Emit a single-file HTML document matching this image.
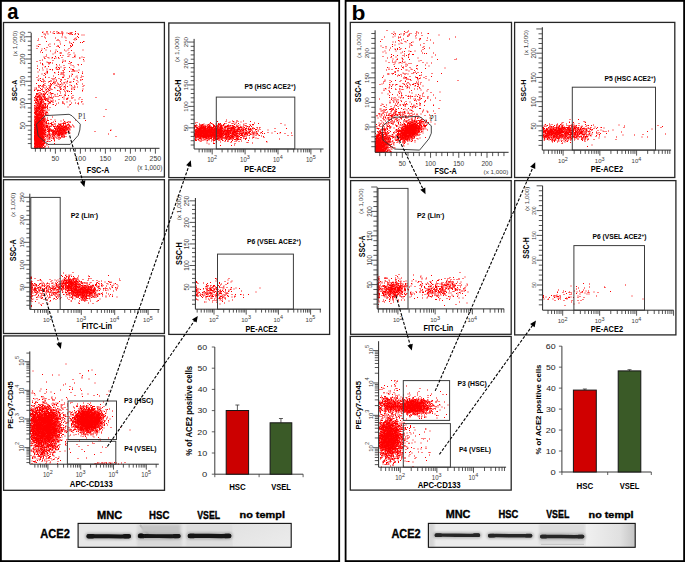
<!DOCTYPE html>
<html><head><meta charset="utf-8"><style>
html,body{margin:0;padding:0;background:#fff;}
svg{display:block;font-family:"Liberation Sans",sans-serif;}
</style></head><body>
<svg width="685" height="562" viewBox="0 0 685 562">
<rect width="685" height="562" fill="#fff"/>
<rect x="0.9" y="0.9" width="338.3" height="560.2" fill="none" stroke="#000" stroke-width="1.8" />
<rect x="345.6" y="0.9" width="338.5" height="560.2" fill="none" stroke="#000" stroke-width="1.8" />
<text x="7.29" y="18.7" font-size="21.3" font-weight="bold" fill="#000" textLength="11.23" lengthAdjust="spacingAndGlyphs">a</text>
<text x="351.43" y="19.7" font-size="20.28" font-weight="bold" fill="#000" textLength="13.93" lengthAdjust="spacingAndGlyphs">b</text>
<rect x="3.5" y="22.5" width="160.9" height="154.5" fill="none" stroke="#262626" stroke-width="1.3" />
<path transform="translate(0 0.5)" stroke="#f00" fill="none" d="M75 31h1m-34 1h1m15 0h1m-5 1h1m13 0h1m6 0h1m-4 1h1m5 0h1m-2 2h1m0 1h1m-3 2h1m-31 2h1m36 0h1m-11 1h1m6 0h1m1 0h1m-12 1h1m0 1h1m-9 1h1m5 0h1m1 0h1m-35 1h1m19 0h1m12 0h1m-13 1h1m-16 1h1m-4 2h1m29 0h1m-15 1h1m-16 1h1m17 3h1m-6 1h1m18 0h1m-23 1h1m5 0h1m-5 1h1m28 1h1m-15 2h1m-20 1h1m11 0h1m8 0h1m-30 1h1m-1 1h1m13 0h1m24 0h1m-37 2h1m2 0h1m7 1h1m1 0h1m10 0h1m-33 1h1m21 0h1m-10 1h1m1 0h1m11 0h1m7 0h1m0 0h1m-27 2h1m21 0h1m-23 1h1m6 0h1m3 0h1m19 0h1m-35 1h1m37 0h1m-38 1h1m12 0h1m13 0h1m-28 3h1m9 0h1m6 0h1m0 0h1m-24 1h1m41 1h1m-45 1h1m1 0h1m0 1h1m7 0h1m10 0h1m6 0h1m5 0h1m-21 1h1m-18 1h1m13 0h1m1 0h1m23 0h1m-34 1h1m7 0h1m8 0h1m-23 1h1m1 0h1m30 0h1m-22 1h1m13 0h1m2 0h1m-14 1h1m-15 1h1m6 0h1m-7 1h1m4 0h1m1 0h1m11 0h1m2 0h1m10 0h1m-41 1h1m2 0h1m0 0h1m1 0h1m8 0h1m7 0h1m24 0h1m-40 1h1m23 0h1m1 0h1m1 0h1m-26 1h1m3 0h1m-15 1h1m8 0h1m5 0h1m0 0h1m18 0h1m-36 1h1m6 0h1m0 0h1m2 0h1m-9 1h1m4 0h1m14 0h1m5 0h1m2 0h1m-34 1h1m1 0h1m0 0h1m4 0h1m-10 1h1m2 0h1m3 0h1m8 0h1m11 0h1m-27 1h1m4 0h1m4 0h1m20 0h1m-32 1h1m0 0h1m1 0h1m0 0h1m1 0h1m2 0h1m-12 1h1m1 0h1m0 0h1m3 0h1m3 0h1m-9 1h1m2 0h1m0 0h1m6 0h1m2 0h1m-17 1h1m0 0h1m3 0h1m0 0h1m7 0h1m0 0h1m-13 1h1m1 0h1m0 0h1m2 0h1m0 0h1m-6 1h1m12 0h1m16 0h1m-37 1h1m2 0h1m1 0h1m3 0h1m1 0h1m1 0h1m7 0h1m-17 1h1m0 0h1m6 0h1m-12 1h1m0 0h1m0 0h1m0 0h1m1 0h1m0 0h1m0 0h1m0 0h1m0 0h1m-11 1h1m2 0h1m0 0h1m2 0h1m4 0h1m-12 1h1m2 0h1m1 0h1m-5 1h1m2 0h1m-6 1h1m0 0h1m0 0h1m1 0h1m2 0h1m-9 1h1m0 0h1m0 0h1m3 0h1m2 0h1m2 0h1m0 0h1m-9 1h1m1 0h1m-7 1h1m0 0h1m0 0h1m0 0h1m0 0h1m0 0h1m0 0h1m1 0h1m1 0h1m-10 1h1m0 0h1m0 0h1m3 0h1m0 0h1m-9 1h1m1 0h1m3 0h1m0 0h1m-7 1h1m0 0h1m1 0h1m0 0h1m0 0h1m-6 1h1m0 0h1m0 0h1m0 0h1m1 0h1m0 0h1m0 0h1m-9 1h1m1 0h1m0 0h1m0 0h1m-4 1h1m0 0h1m0 0h1m0 0h1m2 0h1m0 0h1m3 0h1m0 0h1m36 0h1m-51 1h1m0 0h1m0 0h1m0 0h1m0 0h1m0 0h1m0 0h1m2 0h1m1 0h1m8 0h1m8 0h1m-30 1h1m0 0h1m0 0h1m1 0h1m0 0h1m0 0h1m0 0h1m3 0h1m20 0h1m-33 1h1m0 0h1m0 0h1m0 0h1m0 0h1m0 0h1m0 0h1m0 0h1m3 0h1m1 0h1m1 0h1m0 0h1m11 0h1m0 0h1m0 0h1m-32 1h1m1 0h1m0 0h1m1 0h1m0 0h1m0 0h1m0 0h1m8 0h1m0 0h1m6 0h1m0 0h1m2 0h1m4 0h1m-35 1h1m0 0h1m0 0h1m0 0h1m0 0h1m0 0h1m1 0h1m1 0h1m2 0h1m0 0h1m9 0h1m2 0h1m2 0h1m5 0h1m-34 1h1m0 0h1m0 0h1m0 0h1m0 0h1m0 0h1m4 0h1m0 0h1m5 0h1m0 0h1m2 0h1m1 0h1m1 0h1m0 0h1m1 0h1m0 0h1m0 0h1m-33 1h1m1 0h1m0 0h1m0 0h1m0 0h1m1 0h1m0 0h1m1 0h1m1 0h1m0 0h1m10 0h1m4 0h1m0 0h1m3 0h1m-34 1h1m0 0h1m0 0h1m0 0h1m0 0h1m0 0h1m0 0h1m1 0h1m10 0h1m0 0h1m2 0h1m1 0h1m0 0h1m0 0h1m-29 1h1m0 0h1m0 0h1m0 0h1m0 0h1m0 0h1m0 0h1m0 0h1m0 0h1m2 0h1m1 0h1m1 0h1m5 0h1m1 0h1m1 0h1m0 0h1m1 0h1m0 0h1m0 0h1m2 0h1m-33 1h1m0 0h1m0 0h1m0 0h1m0 0h1m0 0h1m0 0h1m0 0h1m0 0h1m0 0h1m0 0h1m2 0h1m0 0h1m1 0h1m0 0h1m4 0h1m1 0h1m0 0h1m0 0h1m1 0h1m0 0h1m45 0h1m-77 1h1m1 0h1m0 0h1m0 0h1m0 0h1m0 0h1m0 0h1m2 0h1m2 0h1m0 0h1m0 0h1m3 0h1m0 0h1m1 0h1m0 0h1m0 0h1m0 0h1m-26 1h1m0 0h1m0 0h1m0 0h1m0 0h1m0 0h1m0 0h1m0 0h1m0 0h1m0 0h1m1 0h1m6 0h1m0 0h1m1 0h1m0 0h1m1 0h1m1 0h1m0 0h1m3 0h1m0 0h1m-33 1h1m0 0h1m0 0h1m0 0h1m0 0h1m0 0h1m0 0h1m0 0h1m0 0h1m0 0h1m0 0h1m11 0h1m1 0h1m0 0h1m0 0h1m1 0h1m2 0h1m-31 1h1m0 0h1m0 0h1m0 0h1m0 0h1m0 0h1m0 0h1m3 0h1m3 0h1m3 0h1m1 0h1m2 0h1m0 0h1m1 0h1m0 0h1m-29 1h1m0 0h1m0 0h1m0 0h1m0 0h1m0 0h1m0 0h1m1 0h1m4 0h1m6 0h1m3 0h1m0 0h1m-26 1h1m0 0h1m0 0h1m0 0h1m0 0h1m0 0h1m0 0h1m0 0h1m0 0h1m0 0h1m1 0h1m6 0h1m8 0h1m2 0h1m-31 1h1m0 0h1m0 0h1m0 0h1m0 0h1m0 0h1m0 0h1m0 0h1m0 0h1m0 0h1m5 0h1m3 0h1m-20 1h1m0 0h1m0 0h1m0 0h1m0 0h1m0 0h1m0 0h1m1 0h1m10 0h1m-20 1h1m0 0h1m0 0h1m0 0h1m0 0h1m0 0h1m0 0h1m0 0h1m2 0h1m-10 1h1m0 0h1m0 0h1m0 0h1m0 0h1m0 0h1m0 0h1m0 0h1m1 0h1m6 0h1m2 0h1m-20 1h1m0 0h1m0 0h1m0 0h1m0 0h1m0 0h1m0 0h1m0 0h1m4 0h1m-13 1h1m0 0h1m0 0h1m0 0h1m0 0h1m0 0h1m3 0h1m-11 1h1m0 0h1m0 0h1m0 0h1m0 0h1m0 0h1m0 0h1m1 0h1m0 0h1m0 0h1m9 0h1m-20 1h1m0 0h1m0 0h1m0 0h1m0 0h1m1 0h1m0 0h1m0 0h1m4 0h1m-14 1h1m0 0h1m0 0h1m1 0h1m1 0h1m1 0h1m-10 1h1m0 0h1m1 0h1m0 0h1m0 0h1m0 0h1m1 0h1m-8 1h1m0 0h1m0 0h1m1 0h1m3 0h1"/>
<path transform="translate(0.5 0.5)" stroke="#f00" fill="none" d="M46 31h1m6 0h1m2 0h1m4 0h1m-1 1h1m8 0h1m0 0h1m-19 1h1m3 0h1m1 0h1m1 0h1m8 0h1m6 0h1m-4 1h1m-34 2h1m32 2h1m-18 1h1m15 0h1m-37 1h1m18 0h1m1 0h1m6 0h1m17 1h1m-46 3h1m0 0h1m17 1h1m-9 1h1m6 0h1m-11 1h1m-11 1h1m31 0h1m-1 4h1m0 2h1m-8 1h1m-18 1h1m21 0h1m-21 1h1m13 0h1m10 0h1m10 0h1m-40 1h1m13 0h1m-20 2h1m12 0h1m-17 1h1m25 0h1m-16 1h1m20 1h1m8 1h1m-15 1h1m8 0h1m-9 2h1m-16 2h1m6 0h1m0 0h1m0 0h1m3 1h1m9 0h1m0 0h1m-3 1h1m1 0h1m-13 1h1m1 0h1m-3 1h1m51 0h1m-54 1h1m1 0h1m50 0h1m-71 1h1m38 1h1m-47 1h1m11 0h1m31 0h1m-30 1h1m1 0h1m4 0h1m8 0h1m-26 1h1m9 0h1m7 0h1m3 0h1m8 0h1m-31 1h1m32 0h1m-35 1h1m1 0h1m8 1h1m9 0h1m5 0h1m-26 1h1m9 0h1m3 1h1m17 0h1m-38 1h1m2 0h1m1 0h1m3 0h1m1 0h1m4 0h1m27 0h1m-46 1h1m2 0h1m15 0h1m2 0h1m21 0h1m-45 1h1m20 0h1m13 0h1m-40 2h1m6 0h1m9 0h1m-14 1h1m0 0h1m18 0h1m7 0h1m-21 1h1m0 0h1m11 0h1m-21 1h1m-4 1h1m0 0h1m2 0h1m2 0h1m8 0h1m-14 1h1m3 0h1m10 0h1m-20 1h1m2 0h1m3 0h1m17 0h1m11 0h1m-38 1h1m2 0h1m1 0h1m1 0h1m0 0h1m0 0h1m10 0h1m1 0h1m-21 1h1m1 0h1m3 0h1m0 0h1m4 0h1m0 0h1m21 0h1m6 0h1m15 0h1m-61 1h1m3 0h1m0 0h1m0 0h1m4 0h1m4 0h1m19 0h1m-32 1h1m0 0h1m1 0h1m0 0h1m0 0h1m12 0h1m7 0h1m14 0h1m-46 1h1m4 0h1m4 0h1m3 0h1m-14 1h1m0 0h1m3 0h1m4 0h1m1 0h1m1 0h1m29 0h1m-46 1h1m1 0h1m2 0h1m10 0h1m-19 1h1m1 0h1m2 0h1m0 0h1m7 0h1m13 0h1m14 0h1m-39 1h1m0 0h1m0 0h1m0 0h1m1 0h1m7 0h1m-18 1h1m3 0h1m0 0h1m0 0h1m0 0h1m-8 1h1m1 0h1m0 0h1m2 0h1m2 0h1m0 0h1m-12 1h1m3 0h1m1 0h1m4 0h1m0 0h1m2 0h1m-16 1h1m0 0h1m0 0h1m0 0h1m0 0h1m0 0h1m0 0h1m1 0h1m1 0h1m-10 1h1m1 0h1m2 0h1m0 0h1m63 0h1m-71 1h1m0 0h1m0 0h1m0 0h1m2 0h1m0 0h1m0 0h1m0 0h1m-10 1h1m1 0h1m0 0h1m0 0h1m5 0h1m-11 1h1m2 0h1m0 0h1m1 0h1m0 0h1m2 0h1m-12 1h1m0 0h1m0 0h1m0 0h1m2 0h1m2 0h1m1 0h1m-11 1h1m1 0h1m0 0h1m0 0h1m1 0h1m3 0h1m-10 1h1m0 0h1m0 0h1m0 0h1m0 0h1m0 0h1m2 0h1m-10 1h1m0 0h1m0 0h1m1 0h1m1 0h1m0 0h1m60 0h1m-70 1h1m0 0h1m0 0h1m0 0h1m0 0h1m0 0h1m0 0h1m-7 1h1m0 0h1m0 0h1m0 0h1m0 0h1m0 0h1m0 0h1m0 0h1m1 0h1m0 0h1m-11 1h1m1 0h1m0 0h1m0 0h1m3 0h1m0 0h1m0 0h1m5 0h1m-17 1h1m2 0h1m0 0h1m0 0h1m0 0h1m0 0h1m2 0h1m-11 1h1m0 0h1m0 0h1m1 0h1m0 0h1m0 0h1m0 0h1m1 0h1m24 0h1m-35 1h1m0 0h1m1 0h1m0 0h1m0 0h1m0 0h1m0 0h1m0 0h1m0 0h1m1 0h1m5 0h1m13 0h1m3 0h1m-36 1h1m0 0h1m0 0h1m0 0h1m0 0h1m0 0h1m0 0h1m0 0h1m2 0h1m1 0h1m1 0h1m1 0h1m3 0h1m6 0h1m0 0h1m-28 1h1m0 0h1m0 0h1m0 0h1m0 0h1m0 0h1m0 0h1m1 0h1m8 0h1m1 0h1m12 0h1m-32 1h1m0 0h1m0 0h1m0 0h1m0 0h1m0 0h1m0 0h1m0 0h1m7 0h1m7 0h1m1 0h1m3 0h1m-32 1h1m0 0h1m0 0h1m0 0h1m0 0h1m0 0h1m0 0h1m0 0h1m0 0h1m0 0h1m1 0h1m2 0h1m0 0h1m0 0h1m4 0h1m1 0h1m0 0h1m0 0h1m0 0h1m0 0h1m6 0h1m0 0h1m0 0h1m-37 1h1m0 0h1m0 0h1m0 0h1m0 0h1m0 0h1m0 0h1m0 0h1m16 0h1m0 0h1m0 0h1m0 0h1m1 0h1m1 0h1m0 0h1m1 0h1m1 0h1m-36 1h1m0 0h1m1 0h1m0 0h1m0 0h1m0 0h1m0 0h1m4 0h1m1 0h1m7 0h1m0 0h1m1 0h1m0 0h1m0 0h1m1 0h1m0 0h1m0 0h1m1 0h1m-34 1h1m1 0h1m0 0h1m0 0h1m0 0h1m0 0h1m0 0h1m0 0h1m5 0h1m5 0h1m2 0h1m3 0h1m0 0h1m1 0h1m-32 1h1m0 0h1m0 0h1m0 0h1m0 0h1m0 0h1m0 0h1m0 0h1m0 0h1m0 0h1m0 0h1m0 0h1m3 0h1m4 0h1m1 0h1m0 0h1m0 0h1m1 0h1m0 0h1m1 0h1m-29 1h1m1 0h1m0 0h1m0 0h1m0 0h1m0 0h1m0 0h1m0 0h1m0 0h1m5 0h1m0 0h1m2 0h1m1 0h1m1 0h1m1 0h1m0 0h1m0 0h1m0 0h1m0 0h1m29 0h1m-61 1h1m0 0h1m0 0h1m0 0h1m0 0h1m0 0h1m0 0h1m2 0h1m4 0h1m5 0h1m0 0h1m2 0h1m0 0h1m1 0h1m0 0h1m0 0h1m2 0h1m-31 1h1m0 0h1m0 0h1m0 0h1m0 0h1m0 0h1m0 0h1m0 0h1m0 0h1m3 0h1m3 0h1m1 0h1m0 0h1m2 0h1m1 0h1m0 0h1m1 0h1m0 0h1m-29 1h1m0 0h1m0 0h1m0 0h1m0 0h1m0 0h1m0 0h1m0 0h1m0 0h1m0 0h1m1 0h1m0 0h1m2 0h1m5 0h1m0 0h1m0 0h1m3 0h1m-30 1h1m0 0h1m0 0h1m0 0h1m0 0h1m0 0h1m0 0h1m1 0h1m2 0h1m1 0h1m1 0h1m10 0h1m2 0h1m-29 1h1m0 0h1m0 0h1m0 0h1m0 0h1m0 0h1m0 0h1m0 0h1m4 0h1m6 0h1m2 0h1m7 0h1m49 0h1m-80 1h1m0 0h1m0 0h1m0 0h1m0 0h1m0 0h1m0 0h1m0 0h1m6 0h1m4 0h1m2 0h1m0 0h1m3 0h1m-29 1h1m0 0h1m0 0h1m0 0h1m0 0h1m0 0h1m0 0h1m0 0h1m8 0h1m4 0h1m2 0h1m-26 1h1m0 0h1m0 0h1m0 0h1m0 0h1m0 0h1m1 0h1m11 0h1m4 0h1m-25 1h1m0 0h1m0 0h1m0 0h1m0 0h1m0 0h1m0 0h1m0 0h1m0 0h1m1 0h1m-11 1h1m0 0h1m0 0h1m0 0h1m0 0h1m0 0h1m0 0h1m0 0h1m0 0h1m0 0h1m2 0h1m1 0h1m0 0h1m-16 1h1m0 0h1m0 0h1m0 0h1m0 0h1m0 0h1m0 0h1m0 0h1m1 0h1m-6 1h1m0 0h1m0 0h1m1 0h1m0 0h1m0 0h1m-9 1h1m0 0h1m0 0h1m0 0h1m0 0h1m-6 1h1m2 0h1m0 0h1m0 0h1m1 0h1m-9 1h1m3 0h1m0 0h1m0 0h1m3 0h1m-10 1h1m0 0h1m0 0h1m1 0h1"/>
<path transform="translate(0 1)" stroke="#f00" fill="none" d="M50 31h1m11 2h1m6 0h1m0 0h1m0 0h1m-27 1h1m16 0h1m-19 2h1m0 1h1m9 0h1m-18 1h1m30 3h1m-16 2h1m5 0h1m-13 1h1m21 2h1m-7 3h1m-15 1h1m-11 1h1m14 0h1m4 1h1m0 0h1m-16 2h1m-3 3h1m34 0h1m-38 2h1m22 1h1m-26 2h1m7 0h1m0 0h1m2 0h1m17 0h1m-12 2h1m18 0h1m-42 1h1m4 2h1m16 0h1m-21 2h1m12 0h1m10 1h1m-6 1h1m23 0h1m-36 1h1m15 0h1m-26 3h1m14 0h1m15 0h1m1 0h1m9 0h1m-37 1h1m23 0h1m7 1h1m-22 2h1m4 0h1m18 0h1m-31 1h1m0 0h1m4 0h1m10 0h1m-25 1h1m4 0h1m6 0h1m1 1h1m3 0h1m2 0h1m-7 1h1m23 0h1m-33 1h1m14 0h1m-7 1h1m14 0h1m-32 1h1m2 0h1m2 0h1m15 0h1m11 0h1m-42 1h1m12 0h1m0 0h1m9 0h1m4 0h1m-30 1h1m5 0h1m18 0h1m9 0h1m-27 1h1m2 0h1m-12 1h1m4 0h1m21 0h1m17 0h1m-39 1h1m20 0h1m-6 1h1m-24 1h1m3 0h1m1 0h1m1 0h1m4 0h1m6 0h1m7 0h1m-22 1h1m6 0h1m12 0h1m-25 1h1m-5 1h1m2 0h1m0 0h1m10 0h1m1 0h1m17 0h1m-37 1h1m8 0h1m0 0h1m6 0h1m-16 1h1m1 0h1m4 0h1m3 0h1m17 0h1m-31 1h1m0 0h1m0 0h1m0 0h1m2 0h1m4 0h1m-13 1h1m7 0h1m11 0h1m-21 1h1m2 0h1m1 0h1m0 0h1m20 0h1m18 0h1m-44 1h1m4 0h1m6 0h1m7 0h1m12 0h1m3 0h1m2 0h1m-43 1h1m0 0h1m0 0h1m0 0h1m0 0h1m4 0h1m2 0h1m7 0h1m7 0h1m13 0h1m-42 1h1m1 0h1m5 0h1m23 0h1m-32 1h1m0 0h1m0 0h1m1 0h1m0 0h1m-10 1h1m1 0h1m4 0h1m0 0h1m0 0h1m-8 1h1m0 0h1m0 0h1m0 0h1m3 0h1m3 0h1m-14 1h1m0 0h1m0 0h1m0 0h1m3 0h1m0 0h1m-9 1h1m1 0h1m1 0h1m2 0h1m0 0h1m0 0h1m-9 1h1m0 0h1m0 0h1m2 0h1m0 0h1m0 0h1m-8 1h1m4 0h1m1 0h1m-9 1h1m0 0h1m2 0h1m0 0h1m1 0h1m0 0h1m0 0h1m1 0h1m-11 1h1m0 0h1m4 0h1m3 0h1m-10 1h1m2 0h1m0 0h1m0 0h1m0 0h1m-9 1h1m1 0h1m0 0h1m1 0h1m0 0h1m0 0h1m0 0h1m-9 1h1m1 0h1m0 0h1m0 0h1m1 0h1m0 0h1m2 0h1m7 0h1m-18 1h1m2 0h1m0 0h1m0 0h1m0 0h1m0 0h1m4 0h1m-13 1h1m0 0h1m0 0h1m0 0h1m1 0h1m0 0h1m1 0h1m-10 1h1m1 0h1m0 0h1m1 0h1m1 0h1m0 0h1m0 0h1m0 0h1m2 0h1m15 0h1m11 0h1m-42 1h1m0 0h1m0 0h1m0 0h1m0 0h1m3 0h1m0 0h1m-9 1h1m0 0h1m0 0h1m0 0h1m0 0h1m0 0h1m0 0h1m3 0h1m7 0h1m16 0h1m-37 1h1m0 0h1m0 0h1m0 0h1m0 0h1m0 0h1m0 0h1m0 0h1m6 0h1m2 0h1m11 0h1m-29 1h1m0 0h1m0 0h1m0 0h1m1 0h1m0 0h1m0 0h1m0 0h1m14 0h1m1 0h1m7 0h1m-34 1h1m1 0h1m0 0h1m0 0h1m0 0h1m0 0h1m1 0h1m0 0h1m0 0h1m0 0h1m14 0h1m3 0h1m1 0h1m0 0h1m0 0h1m2 0h1m-38 1h1m0 0h1m0 0h1m0 0h1m0 0h1m0 0h1m2 0h1m9 0h1m1 0h1m2 0h1m4 0h1m2 0h1m6 0h1m-39 1h1m0 0h1m0 0h1m0 0h1m0 0h1m0 0h1m0 0h1m0 0h1m0 0h1m0 0h1m4 0h1m4 0h1m1 0h1m1 0h1m2 0h1m2 0h1m-31 1h1m0 0h1m0 0h1m0 0h1m0 0h1m0 0h1m0 0h1m0 0h1m0 0h1m2 0h1m2 0h1m0 0h1m4 0h1m1 0h1m0 0h1m0 0h1m0 0h1m0 0h1m1 0h1m0 0h1m0 0h1m0 0h1m1 0h1m0 0h1m-35 1h1m0 0h1m0 0h1m0 0h1m0 0h1m0 0h1m0 0h1m0 0h1m0 0h1m1 0h1m0 0h1m2 0h1m6 0h1m3 0h1m0 0h1m0 0h1m0 0h1m0 0h1m5 0h1m-36 1h1m0 0h1m0 0h1m0 0h1m0 0h1m0 0h1m0 0h1m0 0h1m0 0h1m0 0h1m1 0h1m2 0h1m1 0h1m0 0h1m1 0h1m3 0h1m1 0h1m1 0h1m1 0h1m0 0h1m0 0h1m0 0h1m1 0h1m-35 1h1m0 0h1m0 0h1m0 0h1m0 0h1m0 0h1m0 0h1m0 0h1m0 0h1m8 0h1m1 0h1m0 0h1m0 0h1m2 0h1m0 0h1m2 0h1m1 0h1m0 0h1m2 0h1m-35 1h1m0 0h1m2 0h1m0 0h1m0 0h1m0 0h1m0 0h1m5 0h1m3 0h1m3 0h1m1 0h1m1 0h1m3 0h1m-31 1h1m0 0h1m0 0h1m0 0h1m0 0h1m0 0h1m0 0h1m0 0h1m0 0h1m1 0h1m4 0h1m9 0h1m1 0h1m0 0h1m0 0h1m2 0h1m-33 1h1m0 0h1m0 0h1m0 0h1m0 0h1m0 0h1m0 0h1m0 0h1m0 0h1m0 0h1m0 0h1m7 0h1m0 0h1m0 0h1m0 0h1m1 0h1m1 0h1m0 0h1m2 0h1m44 0h1m-75 1h1m1 0h1m0 0h1m0 0h1m0 0h1m0 0h1m0 0h1m0 0h1m1 0h1m8 0h1m3 0h1m0 0h1m2 0h1m-28 1h1m0 0h1m0 0h1m0 0h1m0 0h1m0 0h1m0 0h1m0 0h1m0 0h1m6 0h1m0 0h1m1 0h1m6 0h1m2 0h1m-29 1h1m0 0h1m1 0h1m0 0h1m0 0h1m0 0h1m0 0h1m0 0h1m0 0h1m0 0h1m1 0h1m0 0h1m13 0h1m0 0h1m-29 1h1m0 0h1m0 0h1m0 0h1m0 0h1m0 0h1m1 0h1m0 0h1m0 0h1m4 0h1m0 0h1m4 0h1m3 0h1m1 0h1m-27 1h1m0 0h1m0 0h1m0 0h1m0 0h1m0 0h1m0 0h1m0 0h1m0 0h1m0 0h1m1 0h1m3 0h1m4 0h1m-21 1h1m1 0h1m0 0h1m0 0h1m0 0h1m0 0h1m0 0h1m0 0h1m0 0h1m0 0h1m-11 1h1m1 0h1m0 0h1m0 0h1m0 0h1m0 0h1m0 0h1m2 0h1m9 0h1m-20 1h1m0 0h1m0 0h1m0 0h1m0 0h1m0 0h1m0 0h1m1 0h1m0 0h1m-11 1h1m0 0h1m0 0h1m0 0h1m0 0h1m1 0h1m0 0h1m-8 1h1m0 0h1m0 0h1m0 0h1m0 0h1m0 0h1m0 0h1m0 0h1m4 0h1m-13 1h1m0 0h1m0 0h1m2 0h1m0 0h1m1 0h1m-8 1h1m0 0h1m0 0h1m0 0h1m0 0h1m-6 1h1m1 0h1m1 0h1m0 0h1m0 0h1m0 0h1m2 0h1m3 0h1m-15 1h1m0 0h1m0 0h1m0 0h1m1 0h1m0 0h1m0 0h1m0 0h1m0 0h1"/>
<path transform="translate(0.5 1)" stroke="#f00" fill="none" d="M42 31h1m3 0h1m-1 1h1m5 0h1m3 0h1m1 0h1m3 0h1m3 0h1m2 0h1m-27 1h1m0 0h1m2 0h1m33 1h1m1 0h1m-23 2h1m2 0h1m0 1h1m9 0h1m-2 2h1m-16 2h1m9 1h1m-21 1h1m-14 2h1m4 3h1m3 1h1m9 0h1m11 0h1m14 0h1m-18 1h1m-12 2h1m4 0h1m13 0h1m-22 1h1m14 0h1m6 1h1m-7 1h1m5 0h1m-32 1h1m30 0h1m6 0h1m-34 1h1m2 0h1m3 0h1m23 0h1m-18 2h1m1 1h1m18 0h1m-38 1h1m2 1h1m-2 1h1m-7 1h1m27 0h1m-15 1h1m-13 1h1m15 0h1m12 0h1m-19 1h1m7 0h1m-18 1h1m9 0h1m13 0h1m-29 1h1m35 0h1m-33 1h1m27 0h1m1 0h1m-40 1h1m8 0h1m-2 1h1m8 0h1m5 0h1m-20 1h1m29 0h1m-9 1h1m-1 1h1m12 0h1m-15 1h1m12 0h1m-38 2h1m3 0h1m11 0h1m18 0h1m-37 1h1m22 0h1m19 0h1m-28 1h1m-1 1h1m11 0h1m3 0h1m0 0h1m6 0h1m-12 1h1m-14 1h1m8 0h1m-20 1h1m12 0h1m4 0h1m7 0h1m-28 1h1m-1 1h1m20 0h1m7 0h1m2 0h1m-41 1h1m9 0h1m3 0h1m5 0h1m4 0h1m-10 1h1m13 0h1m6 0h1m1 0h1m8 0h1m-46 1h1m11 0h1m-4 1h1m20 0h1m-30 2h1m6 0h1m2 0h1m-13 1h1m0 0h1m3 0h1m-5 1h1m1 0h1m1 0h1m-4 1h1m9 0h1m5 0h1m-17 1h1m3 0h1m5 0h1m14 0h1m-26 1h1m0 0h1m4 0h1m2 0h1m19 0h1m-34 1h1m5 0h1m2 0h1m0 0h1m1 0h1m2 0h1m13 0h1m2 0h1m11 0h1m-45 1h1m1 0h1m2 0h1m0 0h1m6 0h1m4 0h1m21 0h1m-39 1h1m0 0h1m2 0h1m6 0h1m4 0h1m16 0h1m-30 1h1m1 0h1m0 0h1m18 0h1m3 0h1m-31 1h1m1 0h1m2 0h1m6 0h1m13 0h1m-26 1h1m0 0h1m7 0h1m35 0h1m-48 1h1m2 0h1m0 0h1m2 0h1m0 0h1m-7 1h1m0 0h1m0 0h1m2 0h1m-8 1h1m2 0h1m1 0h1m0 0h1m1 0h1m0 0h1m22 0h1m-28 1h1m1 0h1m0 0h1m-8 1h1m0 0h1m2 0h1m1 0h1m1 0h1m-7 1h1m1 0h1m0 0h1m4 0h1m1 0h1m-15 1h1m0 0h1m0 0h1m3 0h1m1 0h1m0 0h1m-10 1h1m0 0h1m0 0h1m1 0h1m0 0h1m1 0h1m0 0h1m0 0h1m2 0h1m-11 1h1m0 0h1m1 0h1m0 0h1m0 0h1m-8 1h1m1 0h1m0 0h1m0 0h1m0 0h1m0 0h1m2 0h1m3 0h1m-13 1h1m0 0h1m0 0h1m0 0h1m0 0h1m0 0h1m1 0h1m3 0h1m-12 1h1m1 0h1m3 0h1m0 0h1m0 0h1m-10 1h1m0 0h1m1 0h1m0 0h1m1 0h1m0 0h1m-6 1h1m0 0h1m0 0h1m0 0h1m0 0h1m0 0h1m0 0h1m1 0h1m-10 1h1m0 0h1m0 0h1m0 0h1m0 0h1m0 0h1m0 0h1m0 0h1m0 0h1m-8 1h1m2 0h1m3 0h1m1 0h1m8 0h1m-19 1h1m0 0h1m0 0h1m0 0h1m0 0h1m0 0h1m0 0h1m0 0h1m16 0h1m-27 1h1m0 0h1m0 0h1m0 0h1m0 0h1m1 0h1m0 0h1m22 0h1m2 0h1m-31 1h1m0 0h1m0 0h1m0 0h1m1 0h1m1 0h1m18 0h1m-30 1h1m0 0h1m0 0h1m0 0h1m0 0h1m0 0h1m0 0h1m0 0h1m0 0h1m4 0h1m10 0h1m-25 1h1m0 0h1m0 0h1m0 0h1m0 0h1m0 0h1m1 0h1m6 0h1m9 0h1m7 0h1m-33 1h1m0 0h1m0 0h1m0 0h1m0 0h1m0 0h1m1 0h1m0 0h1m1 0h1m0 0h1m4 0h1m12 0h1m5 0h1m-36 1h1m0 0h1m0 0h1m0 0h1m0 0h1m0 0h1m0 0h1m0 0h1m0 0h1m2 0h1m2 0h1m13 0h1m1 0h1m0 0h1m0 0h1m6 0h1m-40 1h1m0 0h1m0 0h1m0 0h1m0 0h1m0 0h1m1 0h1m1 0h1m11 0h1m0 0h1m0 0h1m0 0h1m0 0h1m2 0h1m1 0h1m0 0h1m0 0h1m-33 1h1m0 0h1m0 0h1m0 0h1m0 0h1m0 0h1m0 0h1m0 0h1m0 0h1m3 0h1m2 0h1m6 0h1m0 0h1m0 0h1m1 0h1m0 0h1m0 0h1m2 0h1m0 0h1m0 0h1m1 0h1m-35 1h1m0 0h1m0 0h1m0 0h1m0 0h1m0 0h1m0 0h1m0 0h1m0 0h1m0 0h1m5 0h1m0 0h1m0 0h1m2 0h1m0 0h1m2 0h1m1 0h1m0 0h1m1 0h1m1 0h1m2 0h1m40 0h1m-77 1h1m0 0h1m0 0h1m0 0h1m0 0h1m0 0h1m0 0h1m0 0h1m0 0h1m0 0h1m3 0h1m4 0h1m1 0h1m3 0h1m1 0h1m0 0h1m1 0h1m0 0h1m0 0h1m0 0h1m1 0h1m-35 1h1m0 0h1m0 0h1m0 0h1m0 0h1m0 0h1m0 0h1m0 0h1m0 0h1m2 0h1m7 0h1m1 0h1m0 0h1m0 0h1m1 0h1m0 0h1m0 0h1m0 0h1m0 0h1m4 0h1m-35 1h1m0 0h1m0 0h1m0 0h1m0 0h1m0 0h1m1 0h1m0 0h1m0 0h1m1 0h1m6 0h1m0 0h1m0 0h1m0 0h1m0 0h1m0 0h1m1 0h1m0 0h1m3 0h1m4 0h1m-36 1h1m1 0h1m0 0h1m0 0h1m0 0h1m0 0h1m0 0h1m1 0h1m3 0h1m1 0h1m0 0h1m1 0h1m0 0h1m2 0h1m3 0h1m1 0h1m1 0h1m0 0h1m-32 1h1m0 0h1m0 0h1m1 0h1m0 0h1m0 0h1m0 0h1m0 0h1m1 0h1m7 0h1m0 0h1m1 0h1m0 0h1m0 0h1m-24 1h1m0 0h1m0 0h1m0 0h1m0 0h1m0 0h1m0 0h1m1 0h1m0 0h1m2 0h1m2 0h1m1 0h1m1 0h1m7 0h1m0 0h1m0 0h1m-30 1h1m0 0h1m0 0h1m0 0h1m0 0h1m0 0h1m0 0h1m0 0h1m10 0h1m3 0h1m6 0h1m-30 1h1m1 0h1m0 0h1m0 0h1m0 0h1m0 0h1m0 0h1m1 0h1m-10 1h1m0 0h1m0 0h1m0 0h1m0 0h1m0 0h1m0 0h1m1 0h1m0 0h1m2 0h1m0 0h1m1 0h1m-16 1h1m0 0h1m0 0h1m0 0h1m0 0h1m0 0h1m1 0h1m0 0h1m0 0h1m3 0h1m-14 1h1m0 0h1m0 0h1m0 0h1m0 0h1m0 0h1m0 0h1m0 0h1m-7 1h1m0 0h1m0 0h1m0 0h1m1 0h1m0 0h1m0 0h1m-9 1h1m0 0h1m0 0h1m0 0h1m0 0h1m2 0h1m1 0h1m-10 1h1m0 0h1m0 0h1m0 0h1m0 0h1m0 0h1m0 0h1m0 0h1m0 0h1m0 0h1m-10 1h1m0 0h1m0 0h1m0 0h1m0 0h1m0 0h1m1 0h1m0 0h1m3 0h1m-13 1h1m0 0h1m1 0h1m0 0h1m1 0h1m3 0h1m-11 1h1m0 0h1m0 0h1m1 0h1m0 0h1m0 0h1m0 0h1m-8 1h1m0 0h1m2 0h1m1 0h1m0 0h1m2 0h1"/>
<line x1="31.2" y1="32.8" x2="31.2" y2="148.3" stroke="#2a2a2a" stroke-width="1" />
<line x1="27.8" y1="143.55" x2="31.2" y2="143.55" stroke="#2a2a2a" stroke-width="0.8" />
<line x1="27.8" y1="139.1" x2="31.2" y2="139.1" stroke="#2a2a2a" stroke-width="0.8" />
<line x1="27.8" y1="134.65" x2="31.2" y2="134.65" stroke="#2a2a2a" stroke-width="0.8" />
<line x1="27.8" y1="130.2" x2="31.2" y2="130.2" stroke="#2a2a2a" stroke-width="0.8" />
<line x1="25.3" y1="125.75" x2="31.2" y2="125.75" stroke="#2a2a2a" stroke-width="0.8" />
<line x1="27.8" y1="121.3" x2="31.2" y2="121.3" stroke="#2a2a2a" stroke-width="0.8" />
<line x1="27.8" y1="116.85" x2="31.2" y2="116.85" stroke="#2a2a2a" stroke-width="0.8" />
<line x1="27.8" y1="112.4" x2="31.2" y2="112.4" stroke="#2a2a2a" stroke-width="0.8" />
<line x1="27.8" y1="107.95" x2="31.2" y2="107.95" stroke="#2a2a2a" stroke-width="0.8" />
<line x1="25.3" y1="103.5" x2="31.2" y2="103.5" stroke="#2a2a2a" stroke-width="0.8" />
<line x1="27.8" y1="99.05" x2="31.2" y2="99.05" stroke="#2a2a2a" stroke-width="0.8" />
<line x1="27.8" y1="94.6" x2="31.2" y2="94.6" stroke="#2a2a2a" stroke-width="0.8" />
<line x1="27.8" y1="90.15" x2="31.2" y2="90.15" stroke="#2a2a2a" stroke-width="0.8" />
<line x1="27.8" y1="85.7" x2="31.2" y2="85.7" stroke="#2a2a2a" stroke-width="0.8" />
<line x1="25.3" y1="81.25" x2="31.2" y2="81.25" stroke="#2a2a2a" stroke-width="0.8" />
<line x1="27.8" y1="76.8" x2="31.2" y2="76.8" stroke="#2a2a2a" stroke-width="0.8" />
<line x1="27.8" y1="72.35" x2="31.2" y2="72.35" stroke="#2a2a2a" stroke-width="0.8" />
<line x1="27.8" y1="67.9" x2="31.2" y2="67.9" stroke="#2a2a2a" stroke-width="0.8" />
<line x1="27.8" y1="63.45" x2="31.2" y2="63.45" stroke="#2a2a2a" stroke-width="0.8" />
<line x1="25.3" y1="59" x2="31.2" y2="59" stroke="#2a2a2a" stroke-width="0.8" />
<line x1="27.8" y1="54.55" x2="31.2" y2="54.55" stroke="#2a2a2a" stroke-width="0.8" />
<line x1="27.8" y1="50.1" x2="31.2" y2="50.1" stroke="#2a2a2a" stroke-width="0.8" />
<line x1="27.8" y1="45.65" x2="31.2" y2="45.65" stroke="#2a2a2a" stroke-width="0.8" />
<line x1="27.8" y1="41.2" x2="31.2" y2="41.2" stroke="#2a2a2a" stroke-width="0.8" />
<line x1="25.3" y1="36.75" x2="31.2" y2="36.75" stroke="#2a2a2a" stroke-width="0.8" />
<line x1="27.8" y1="32.3" x2="31.2" y2="32.3" stroke="#2a2a2a" stroke-width="0.8" />
<text x="25.2" y="129.43" font-size="6.57" fill="#3a3a3a" transform="rotate(-90 25.2 129.43)">50</text>
<text x="25.2" y="109.09" font-size="6.57" fill="#3a3a3a" transform="rotate(-90 25.2 109.09)">100</text>
<text x="25.2" y="86.84" font-size="6.57" fill="#3a3a3a" transform="rotate(-90 25.2 86.84)">150</text>
<text x="25.2" y="64.52" font-size="6.57" fill="#3a3a3a" transform="rotate(-90 25.2 64.52)">200</text>
<text x="25.2" y="42.27" font-size="6.57" fill="#3a3a3a" transform="rotate(-90 25.2 42.27)">250</text>
<line x1="31.2" y1="148.3" x2="159.5" y2="148.3" stroke="#2a2a2a" stroke-width="1" />
<line x1="35.4" y1="148.3" x2="35.4" y2="151.7" stroke="#2a2a2a" stroke-width="0.8" />
<line x1="40.4" y1="148.3" x2="40.4" y2="151.7" stroke="#2a2a2a" stroke-width="0.8" />
<line x1="45.4" y1="148.3" x2="45.4" y2="151.7" stroke="#2a2a2a" stroke-width="0.8" />
<line x1="50.4" y1="148.3" x2="50.4" y2="151.7" stroke="#2a2a2a" stroke-width="0.8" />
<line x1="55.4" y1="148.3" x2="55.4" y2="153.7" stroke="#2a2a2a" stroke-width="0.8" />
<line x1="60.4" y1="148.3" x2="60.4" y2="151.7" stroke="#2a2a2a" stroke-width="0.8" />
<line x1="65.4" y1="148.3" x2="65.4" y2="151.7" stroke="#2a2a2a" stroke-width="0.8" />
<line x1="70.4" y1="148.3" x2="70.4" y2="151.7" stroke="#2a2a2a" stroke-width="0.8" />
<line x1="75.4" y1="148.3" x2="75.4" y2="151.7" stroke="#2a2a2a" stroke-width="0.8" />
<line x1="80.4" y1="148.3" x2="80.4" y2="153.7" stroke="#2a2a2a" stroke-width="0.8" />
<line x1="85.4" y1="148.3" x2="85.4" y2="151.7" stroke="#2a2a2a" stroke-width="0.8" />
<line x1="90.4" y1="148.3" x2="90.4" y2="151.7" stroke="#2a2a2a" stroke-width="0.8" />
<line x1="95.4" y1="148.3" x2="95.4" y2="151.7" stroke="#2a2a2a" stroke-width="0.8" />
<line x1="100.4" y1="148.3" x2="100.4" y2="151.7" stroke="#2a2a2a" stroke-width="0.8" />
<line x1="105.4" y1="148.3" x2="105.4" y2="153.7" stroke="#2a2a2a" stroke-width="0.8" />
<line x1="110.4" y1="148.3" x2="110.4" y2="151.7" stroke="#2a2a2a" stroke-width="0.8" />
<line x1="115.4" y1="148.3" x2="115.4" y2="151.7" stroke="#2a2a2a" stroke-width="0.8" />
<line x1="120.4" y1="148.3" x2="120.4" y2="151.7" stroke="#2a2a2a" stroke-width="0.8" />
<line x1="125.4" y1="148.3" x2="125.4" y2="151.7" stroke="#2a2a2a" stroke-width="0.8" />
<line x1="130.4" y1="148.3" x2="130.4" y2="153.7" stroke="#2a2a2a" stroke-width="0.8" />
<line x1="135.4" y1="148.3" x2="135.4" y2="151.7" stroke="#2a2a2a" stroke-width="0.8" />
<line x1="140.4" y1="148.3" x2="140.4" y2="151.7" stroke="#2a2a2a" stroke-width="0.8" />
<line x1="145.4" y1="148.3" x2="145.4" y2="151.7" stroke="#2a2a2a" stroke-width="0.8" />
<line x1="150.4" y1="148.3" x2="150.4" y2="151.7" stroke="#2a2a2a" stroke-width="0.8" />
<line x1="155.4" y1="148.3" x2="155.4" y2="153.7" stroke="#2a2a2a" stroke-width="0.8" />
<text x="51.48" y="161.1" font-size="7" fill="#3a3a3a">50</text>
<text x="74.45" y="161.1" font-size="7" fill="#3a3a3a">100</text>
<text x="99.45" y="161.1" font-size="7" fill="#3a3a3a">150</text>
<text x="124.52" y="161.1" font-size="7" fill="#3a3a3a">200</text>
<text x="149.52" y="161.1" font-size="7" fill="#3a3a3a">250</text>
<polygon points="45.6,115.6 69.1,114.3 72,115.8 80.3,124.2 79.8,130 78.2,135.4 70.2,144.4 48.3,144.4 44.4,141.4 38.1,135.9 36.5,124.2 40.8,119.9" fill="none" stroke="#333" stroke-width="0.9"/>
<text x="78.05" y="118.8" font-size="7.58" font-family="Liberation Serif" fill="#333" textLength="8.08" lengthAdjust="spacingAndGlyphs">P1</text>
<text x="86.66" y="172.6" font-size="9.14" font-weight="bold" fill="#000" textLength="22.61" lengthAdjust="spacingAndGlyphs">FSC-A</text>
<text x="137.22" y="170.31" font-size="6.96" fill="#3a3a3a" textLength="25.11" lengthAdjust="spacingAndGlyphs">(x 1,000)</text>
<text x="16.8" y="101.07" font-size="8" font-weight="bold" fill="#000" textLength="21.29" lengthAdjust="spacingAndGlyphs" transform="rotate(-90 16.8 101.07)">SSC-A</text>
<text x="16.56" y="56.39" font-size="5.22" fill="#3a3a3a" textLength="25.62" lengthAdjust="spacingAndGlyphs" transform="rotate(-90 16.56 56.39)">(x 1,000)</text>
<rect x="168.8" y="23" width="160.8" height="154.6" fill="none" stroke="#262626" stroke-width="1.3" />
<path transform="translate(0 0.5)" stroke="#f00" fill="none" d="M217 121h1m15 0h1m16 0h1m-41 1h1m0 1h1m6 0h1m1 0h1m3 0h1m13 0h1m19 0h1m-57 1h1m5 0h1m4 0h1m4 0h1m0 0h1m3 0h1m10 0h1m17 0h1m0 0h1m-60 1h1m0 0h1m5 0h1m7 0h1m3 0h1m0 0h1m6 0h1m1 0h1m3 0h1m2 0h1m1 0h1m17 0h1m-56 1h1m5 0h1m1 0h1m1 0h1m2 0h1m0 0h1m3 0h1m0 0h1m3 0h1m1 0h1m0 0h1m3 0h1m0 0h1m0 0h1m5 0h1m0 0h1m2 0h1m9 0h1m1 0h1m1 0h1m-58 1h1m1 0h1m0 0h1m2 0h1m0 0h1m0 0h1m0 0h1m0 0h1m0 0h1m1 0h1m0 0h1m0 0h1m0 0h1m0 0h1m0 0h1m0 0h1m1 0h1m1 0h1m2 0h1m0 0h1m2 0h1m0 0h1m5 0h1m0 0h1m0 0h1m1 0h1m2 0h1m0 0h1m0 0h1m0 0h1m2 0h1m-51 1h1m2 0h1m0 0h1m0 0h1m0 0h1m0 0h1m0 0h1m1 0h1m0 0h1m1 0h1m1 0h1m1 0h1m0 0h1m1 0h1m0 0h1m0 0h1m0 0h1m2 0h1m0 0h1m0 0h1m4 0h1m0 0h1m0 0h1m1 0h1m0 0h1m0 0h1m0 0h1m3 0h1m6 0h1m0 0h1m1 0h1m1 0h1m1 0h1m1 0h1m31 0h1m-91 1h1m1 0h1m0 0h1m0 0h1m2 0h1m0 0h1m0 0h1m2 0h1m0 0h1m0 0h1m0 0h1m0 0h1m1 0h1m0 0h1m2 0h1m0 0h1m0 0h1m6 0h1m3 0h1m2 0h1m2 0h1m0 0h1m0 0h1m1 0h1m1 0h1m1 0h1m2 0h1m0 0h1m0 0h1m4 0h1m0 0h1m-62 1h1m1 0h1m0 0h1m0 0h1m0 0h1m0 0h1m0 0h1m0 0h1m0 0h1m0 0h1m0 0h1m0 0h1m0 0h1m0 0h1m0 0h1m0 0h1m1 0h1m0 0h1m0 0h1m1 0h1m0 0h1m0 0h1m0 0h1m0 0h1m0 0h1m1 0h1m0 0h1m0 0h1m0 0h1m0 0h1m0 0h1m0 0h1m0 0h1m2 0h1m2 0h1m2 0h1m1 0h1m0 0h1m2 0h1m-52 1h1m0 0h1m0 0h1m0 0h1m0 0h1m0 0h1m0 0h1m0 0h1m0 0h1m0 0h1m0 0h1m0 0h1m0 0h1m0 0h1m0 0h1m0 0h1m0 0h1m2 0h1m0 0h1m0 0h1m0 0h1m0 0h1m0 0h1m0 0h1m0 0h1m1 0h1m0 0h1m2 0h1m5 0h1m0 0h1m0 0h1m0 0h1m1 0h1m10 0h1m0 0h1m5 0h1m5 0h1m-67 1h1m0 0h1m0 0h1m0 0h1m0 0h1m0 0h1m0 0h1m0 0h1m1 0h1m0 0h1m0 0h1m0 0h1m0 0h1m0 0h1m0 0h1m0 0h1m0 0h1m0 0h1m0 0h1m0 0h1m0 0h1m0 0h1m1 0h1m0 0h1m1 0h1m3 0h1m0 0h1m1 0h1m1 0h1m1 0h1m0 0h1m7 0h1m1 0h1m0 0h1m1 0h1m0 0h1m11 0h1m18 0h1m-87 1h1m0 0h1m0 0h1m1 0h1m1 0h1m0 0h1m0 0h1m0 0h1m0 0h1m0 0h1m0 0h1m0 0h1m2 0h1m1 0h1m0 0h1m1 0h1m0 0h1m0 0h1m0 0h1m0 0h1m0 0h1m0 0h1m0 0h1m0 0h1m1 0h1m0 0h1m1 0h1m1 0h1m1 0h1m0 0h1m2 0h1m0 0h1m2 0h1m0 0h1m0 0h1m2 0h1m0 0h1m10 0h1m4 0h1m1 0h1m12 0h1m-84 1h1m0 0h1m0 0h1m0 0h1m0 0h1m0 0h1m0 0h1m0 0h1m1 0h1m0 0h1m0 0h1m0 0h1m0 0h1m2 0h1m0 0h1m0 0h1m0 0h1m0 0h1m0 0h1m0 0h1m2 0h1m0 0h1m0 0h1m0 0h1m1 0h1m0 0h1m0 0h1m1 0h1m4 0h1m5 0h1m1 0h1m2 0h1m2 0h1m2 0h1m-57 1h1m0 0h1m1 0h1m0 0h1m0 0h1m0 0h1m0 0h1m0 0h1m0 0h1m0 0h1m0 0h1m0 0h1m0 0h1m0 0h1m0 0h1m0 0h1m0 0h1m0 0h1m0 0h1m0 0h1m0 0h1m1 0h1m0 0h1m2 0h1m1 0h1m4 0h1m1 0h1m3 0h1m0 0h1m1 0h1m2 0h1m0 0h1m0 0h1m6 0h1m9 0h1m-65 1h1m1 0h1m0 0h1m1 0h1m0 0h1m0 0h1m0 0h1m0 0h1m0 0h1m0 0h1m0 0h1m0 0h1m0 0h1m0 0h1m0 0h1m2 0h1m0 0h1m0 0h1m0 0h1m1 0h1m0 0h1m0 0h1m3 0h1m1 0h1m0 0h1m0 0h1m1 0h1m0 0h1m0 0h1m3 0h1m1 0h1m23 0h1m-69 1h1m4 0h1m2 0h1m0 0h1m0 0h1m0 0h1m1 0h1m2 0h1m3 0h1m4 0h1m9 0h1m1 0h1m7 0h1m0 0h1m11 0h1m-55 1h1m0 0h1m5 0h1m3 0h1m0 0h1m1 0h1m1 0h1m1 0h1m0 0h1m11 0h1m2 0h1m2 0h1m0 0h1m7 0h1m0 0h1m-52 1h1m2 0h1m16 0h1m0 0h1m0 0h1m3 0h1m4 0h1m2 0h1m4 0h1m0 0h1m1 0h1m0 0h1m1 0h1m4 0h1m-51 1h1m0 0h1m10 0h1m5 0h1m0 0h1m7 0h1m2 0h1m6 0h1m15 0h1m-33 1h1m14 0h1m34 0h1m-54 2h1m0 0h1m5 2h1m10 0h1"/>
<path transform="translate(0.5 0.5)" stroke="#f00" fill="none" d="M236 120h1m-12 1h1m11 0h1m-42 1h1m31 0h1m-19 1h1m0 0h1m13 0h1m5 0h1m0 0h1m12 0h1m34 0h1m-81 1h1m1 0h1m9 0h1m7 0h1m28 0h1m-54 1h1m3 0h1m2 0h1m3 0h1m1 0h1m6 0h1m1 0h1m1 0h1m1 0h1m5 0h1m2 0h1m12 0h1m0 0h1m-52 1h1m0 0h1m2 0h1m0 0h1m3 0h1m1 0h1m2 0h1m5 0h1m0 0h1m0 0h1m0 0h1m0 0h1m5 0h1m0 0h1m0 0h1m13 0h1m7 0h1m-55 1h1m4 0h1m0 0h1m3 0h1m3 0h1m0 0h1m7 0h1m1 0h1m1 0h1m10 0h1m0 0h1m0 0h1m2 0h1m0 0h1m0 0h1m16 0h1m2 0h1m-60 1h1m0 0h1m0 0h1m0 0h1m0 0h1m0 0h1m0 0h1m1 0h1m0 0h1m0 0h1m0 0h1m4 0h1m3 0h1m0 0h1m0 0h1m4 0h1m2 0h1m2 0h1m3 0h1m0 0h1m2 0h1m32 0h1m-81 1h1m2 0h1m0 0h1m1 0h1m0 0h1m0 0h1m0 0h1m0 0h1m1 0h1m0 0h1m1 0h1m1 0h1m0 0h1m0 0h1m1 0h1m0 0h1m0 0h1m0 0h1m1 0h1m0 0h1m1 0h1m7 0h1m0 0h1m0 0h1m0 0h1m0 0h1m0 0h1m2 0h1m4 0h1m14 0h1m-66 1h1m0 0h1m0 0h1m0 0h1m0 0h1m0 0h1m0 0h1m0 0h1m0 0h1m0 0h1m0 0h1m0 0h1m0 0h1m0 0h1m0 0h1m0 0h1m0 0h1m0 0h1m0 0h1m0 0h1m0 0h1m1 0h1m0 0h1m0 0h1m0 0h1m0 0h1m0 0h1m0 0h1m1 0h1m1 0h1m1 0h1m1 0h1m0 0h1m0 0h1m0 0h1m0 0h1m0 0h1m0 0h1m0 0h1m11 0h1m-55 1h1m2 0h1m0 0h1m0 0h1m0 0h1m0 0h1m0 0h1m0 0h1m0 0h1m0 0h1m1 0h1m0 0h1m0 0h1m0 0h1m0 0h1m0 0h1m0 0h1m0 0h1m0 0h1m0 0h1m0 0h1m0 0h1m0 0h1m0 0h1m0 0h1m2 0h1m0 0h1m0 0h1m0 0h1m0 0h1m1 0h1m0 0h1m1 0h1m1 0h1m0 0h1m1 0h1m0 0h1m0 0h1m4 0h1m27 0h1m-80 1h1m0 0h1m0 0h1m0 0h1m0 0h1m0 0h1m0 0h1m0 0h1m0 0h1m0 0h1m1 0h1m0 0h1m0 0h1m0 0h1m0 0h1m0 0h1m0 0h1m0 0h1m0 0h1m0 0h1m0 0h1m0 0h1m0 0h1m0 0h1m0 0h1m1 0h1m3 0h1m0 0h1m1 0h1m1 0h1m0 0h1m0 0h1m11 0h1m5 0h1m15 0h1m-73 1h1m0 0h1m0 0h1m0 0h1m0 0h1m0 0h1m0 0h1m0 0h1m0 0h1m0 0h1m0 0h1m0 0h1m0 0h1m0 0h1m0 0h1m0 0h1m0 0h1m0 0h1m0 0h1m0 0h1m0 0h1m0 0h1m0 0h1m0 0h1m0 0h1m0 0h1m0 0h1m1 0h1m3 0h1m2 0h1m0 0h1m1 0h1m1 0h1m2 0h1m5 0h1m1 0h1m1 0h1m3 0h1m31 0h1m-90 1h1m0 0h1m0 0h1m0 0h1m0 0h1m0 0h1m1 0h1m0 0h1m0 0h1m0 0h1m1 0h1m0 0h1m0 0h1m2 0h1m0 0h1m0 0h1m0 0h1m2 0h1m0 0h1m0 0h1m0 0h1m6 0h1m2 0h1m0 0h1m0 0h1m0 0h1m9 0h1m5 0h1m-56 1h1m1 0h1m0 0h1m1 0h1m0 0h1m3 0h1m1 0h1m0 0h1m1 0h1m1 0h1m0 0h1m0 0h1m0 0h1m0 0h1m1 0h1m0 0h1m0 0h1m0 0h1m3 0h1m0 0h1m2 0h1m0 0h1m0 0h1m2 0h1m5 0h1m2 0h1m3 0h1m7 0h1m31 0h1m3 0h1m-96 1h1m0 0h1m0 0h1m0 0h1m4 0h1m0 0h1m1 0h1m0 0h1m0 0h1m0 0h1m0 0h1m0 0h1m0 0h1m0 0h1m1 0h1m2 0h1m0 0h1m0 0h1m6 0h1m2 0h1m0 0h1m2 0h1m0 0h1m0 0h1m5 0h1m0 0h1m-50 1h1m0 0h1m1 0h1m3 0h1m0 0h1m0 0h1m3 0h1m2 0h1m0 0h1m0 0h1m0 0h1m2 0h1m1 0h1m0 0h1m0 0h1m1 0h1m1 0h1m1 0h1m1 0h1m0 0h1m1 0h1m0 0h1m2 0h1m0 0h1m25 0h1m-59 1h1m0 0h1m1 0h1m0 0h1m0 0h1m2 0h1m2 0h1m4 0h1m3 0h1m0 0h1m1 0h1m0 0h1m13 0h1m13 0h1m-61 1h1m5 0h1m0 0h1m3 0h1m3 0h1m4 0h1m9 0h1m1 0h1m6 0h1m1 0h1m-41 1h1m3 0h1m15 0h1m3 0h1m-23 1h1m23 0h1m2 0h1m6 0h1m3 0h1m-9 1h1m15 0h1m0 0h1m-14 1h1"/>
<path transform="translate(0 1)" stroke="#f00" fill="none" d="M226 119h1m5 1h1m10 0h1m-8 1h1m-42 1h1m58 0h1m-56 1h1m9 0h1m9 0h1m4 0h1m-29 1h1m2 0h1m2 0h1m4 0h1m10 0h1m1 0h1m7 0h1m14 0h1m-50 1h1m5 0h1m1 0h1m2 0h1m1 0h1m1 0h1m3 0h1m2 0h1m0 0h1m2 0h1m0 0h1m6 0h1m3 0h1m0 0h1m2 0h1m1 0h1m-37 1h1m0 0h1m0 0h1m5 0h1m0 0h1m1 0h1m1 0h1m10 0h1m1 0h1m0 0h1m0 0h1m2 0h1m6 0h1m2 0h1m2 0h1m2 0h1m-56 1h1m1 0h1m2 0h1m0 0h1m0 0h1m1 0h1m4 0h1m0 0h1m1 0h1m2 0h1m0 0h1m2 0h1m0 0h1m0 0h1m0 0h1m0 0h1m1 0h1m0 0h1m1 0h1m2 0h1m0 0h1m16 0h1m3 0h1m0 0h1m3 0h1m1 0h1m-60 1h1m0 0h1m1 0h1m1 0h1m0 0h1m1 0h1m1 0h1m0 0h1m1 0h1m0 0h1m1 0h1m0 0h1m0 0h1m0 0h1m1 0h1m3 0h1m4 0h1m3 0h1m2 0h1m0 0h1m0 0h1m3 0h1m6 0h1m-56 1h1m0 0h1m0 0h1m0 0h1m0 0h1m0 0h1m0 0h1m2 0h1m0 0h1m1 0h1m1 0h1m0 0h1m0 0h1m0 0h1m0 0h1m0 0h1m0 0h1m0 0h1m0 0h1m0 0h1m0 0h1m0 0h1m0 0h1m2 0h1m0 0h1m2 0h1m1 0h1m6 0h1m3 0h1m0 0h1m2 0h1m2 0h1m2 0h1m3 0h1m-62 1h1m0 0h1m1 0h1m0 0h1m0 0h1m0 0h1m1 0h1m0 0h1m3 0h1m0 0h1m0 0h1m0 0h1m1 0h1m0 0h1m0 0h1m0 0h1m0 0h1m0 0h1m0 0h1m0 0h1m0 0h1m0 0h1m2 0h1m1 0h1m1 0h1m1 0h1m2 0h1m2 0h1m0 0h1m1 0h1m3 0h1m8 0h1m5 0h1m-64 1h1m2 0h1m0 0h1m0 0h1m0 0h1m0 0h1m0 0h1m0 0h1m0 0h1m0 0h1m0 0h1m2 0h1m0 0h1m0 0h1m0 0h1m0 0h1m0 0h1m0 0h1m0 0h1m0 0h1m0 0h1m0 0h1m0 0h1m0 0h1m0 0h1m0 0h1m0 0h1m0 0h1m2 0h1m0 0h1m2 0h1m1 0h1m0 0h1m0 0h1m1 0h1m0 0h1m11 0h1m-59 1h1m0 0h1m0 0h1m0 0h1m0 0h1m0 0h1m0 0h1m0 0h1m0 0h1m0 0h1m0 0h1m0 0h1m0 0h1m2 0h1m0 0h1m2 0h1m0 0h1m0 0h1m0 0h1m0 0h1m1 0h1m0 0h1m0 0h1m1 0h1m1 0h1m0 0h1m2 0h1m2 0h1m0 0h1m1 0h1m0 0h1m2 0h1m1 0h1m0 0h1m0 0h1m3 0h1m5 0h1m2 0h1m3 0h1m30 0h1m-98 1h1m0 0h1m0 0h1m1 0h1m0 0h1m0 0h1m1 0h1m0 0h1m2 0h1m0 0h1m0 0h1m0 0h1m0 0h1m0 0h1m0 0h1m0 0h1m1 0h1m0 0h1m0 0h1m0 0h1m0 0h1m0 0h1m4 0h1m0 0h1m0 0h1m1 0h1m3 0h1m0 0h1m0 0h1m0 0h1m4 0h1m0 0h1m2 0h1m4 0h1m2 0h1m2 0h1m0 0h1m-64 1h1m0 0h1m0 0h1m0 0h1m0 0h1m0 0h1m0 0h1m1 0h1m1 0h1m0 0h1m1 0h1m0 0h1m0 0h1m0 0h1m2 0h1m0 0h1m0 0h1m1 0h1m1 0h1m0 0h1m0 0h1m1 0h1m1 0h1m0 0h1m0 0h1m0 0h1m3 0h1m0 0h1m0 0h1m1 0h1m4 0h1m0 0h1m15 0h1m-65 1h1m5 0h1m0 0h1m0 0h1m0 0h1m1 0h1m0 0h1m0 0h1m1 0h1m0 0h1m1 0h1m2 0h1m0 0h1m0 0h1m0 0h1m0 0h1m0 0h1m0 0h1m0 0h1m3 0h1m1 0h1m1 0h1m0 0h1m0 0h1m1 0h1m1 0h1m0 0h1m0 0h1m3 0h1m18 0h1m-66 1h1m1 0h1m0 0h1m0 0h1m0 0h1m0 0h1m0 0h1m1 0h1m2 0h1m1 0h1m0 0h1m1 0h1m0 0h1m0 0h1m2 0h1m2 0h1m0 0h1m2 0h1m0 0h1m0 0h1m1 0h1m1 0h1m4 0h1m9 0h1m-52 1h1m5 0h1m1 0h1m2 0h1m0 0h1m3 0h1m2 0h1m4 0h1m0 0h1m1 0h1m0 0h1m0 0h1m0 0h1m0 0h1m0 0h1m1 0h1m1 0h1m6 0h1m4 0h1m5 0h1m2 0h1m-58 1h1m0 0h1m14 0h1m1 0h1m0 0h1m0 0h1m1 0h1m1 0h1m1 0h1m6 0h1m2 0h1m0 0h1m46 0h1m-79 1h1m13 0h1m6 0h1m5 0h1m8 0h1m-27 1h1m15 0h1m8 0h1m4 0h1m-29 1h1m2 0h1m3 0h1m31 1h1m-19 2h1"/>
<path transform="translate(0.5 1)" stroke="#f00" fill="none" d="M229 121h1m3 0h1m6 0h1m-6 1h1m-33 1h1m11 0h1m18 0h1m8 0h1m-43 1h1m0 0h1m2 0h1m3 0h1m7 0h1m1 0h1m16 0h1m2 0h1m12 0h1m31 0h1m-90 1h1m3 0h1m1 0h1m1 0h1m11 0h1m1 0h1m3 0h1m0 0h1m1 0h1m1 0h1m1 0h1m3 0h1m3 0h1m8 0h1m-49 1h1m3 0h1m0 0h1m0 0h1m1 0h1m0 0h1m0 0h1m1 0h1m0 0h1m4 0h1m4 0h1m0 0h1m2 0h1m0 0h1m2 0h1m2 0h1m3 0h1m6 0h1m-47 1h1m0 0h1m1 0h1m0 0h1m0 0h1m0 0h1m1 0h1m4 0h1m2 0h1m1 0h1m3 0h1m0 0h1m0 0h1m0 0h1m1 0h1m3 0h1m3 0h1m3 0h1m3 0h1m1 0h1m-45 1h1m1 0h1m2 0h1m0 0h1m0 0h1m0 0h1m0 0h1m5 0h1m0 0h1m0 0h1m1 0h1m0 0h1m2 0h1m5 0h1m0 0h1m0 0h1m1 0h1m0 0h1m1 0h1m0 0h1m7 0h1m0 0h1m1 0h1m1 0h1m1 0h1m0 0h1m1 0h1m-58 1h1m0 0h1m1 0h1m1 0h1m0 0h1m0 0h1m0 0h1m0 0h1m0 0h1m0 0h1m0 0h1m0 0h1m0 0h1m3 0h1m0 0h1m1 0h1m1 0h1m1 0h1m0 0h1m0 0h1m0 0h1m2 0h1m0 0h1m1 0h1m1 0h1m1 0h1m2 0h1m2 0h1m1 0h1m2 0h1m5 0h1m6 0h1m9 0h1m-71 1h1m1 0h1m0 0h1m0 0h1m1 0h1m1 0h1m1 0h1m1 0h1m0 0h1m0 0h1m0 0h1m0 0h1m0 0h1m0 0h1m0 0h1m0 0h1m0 0h1m2 0h1m2 0h1m1 0h1m1 0h1m0 0h1m0 0h1m0 0h1m1 0h1m3 0h1m4 0h1m2 0h1m-51 1h1m0 0h1m0 0h1m0 0h1m0 0h1m0 0h1m0 0h1m0 0h1m0 0h1m0 0h1m0 0h1m2 0h1m0 0h1m0 0h1m1 0h1m1 0h1m0 0h1m0 0h1m0 0h1m0 0h1m0 0h1m0 0h1m0 0h1m2 0h1m2 0h1m0 0h1m1 0h1m1 0h1m0 0h1m0 0h1m1 0h1m2 0h1m3 0h1m0 0h1m2 0h1m0 0h1m4 0h1m0 0h1m1 0h1m-62 1h1m0 0h1m0 0h1m0 0h1m0 0h1m0 0h1m2 0h1m0 0h1m0 0h1m0 0h1m0 0h1m0 0h1m0 0h1m0 0h1m1 0h1m0 0h1m0 0h1m0 0h1m0 0h1m0 0h1m0 0h1m0 0h1m0 0h1m0 0h1m1 0h1m0 0h1m0 0h1m0 0h1m0 0h1m4 0h1m4 0h1m3 0h1m0 0h1m1 0h1m3 0h1m4 0h1m0 0h1m16 0h1m7 0h1m-85 1h1m1 0h1m0 0h1m1 0h1m0 0h1m0 0h1m0 0h1m1 0h1m0 0h1m0 0h1m0 0h1m0 0h1m0 0h1m0 0h1m0 0h1m0 0h1m0 0h1m1 0h1m0 0h1m0 0h1m0 0h1m0 0h1m0 0h1m0 0h1m0 0h1m0 0h1m0 0h1m0 0h1m0 0h1m0 0h1m0 0h1m1 0h1m1 0h1m1 0h1m0 0h1m0 0h1m0 0h1m1 0h1m1 0h1m1 0h1m0 0h1m0 0h1m2 0h1m1 0h1m2 0h1m-60 1h1m0 0h1m0 0h1m0 0h1m0 0h1m0 0h1m0 0h1m1 0h1m0 0h1m1 0h1m0 0h1m0 0h1m2 0h1m1 0h1m0 0h1m0 0h1m0 0h1m0 0h1m0 0h1m0 0h1m0 0h1m0 0h1m1 0h1m1 0h1m0 0h1m0 0h1m0 0h1m2 0h1m0 0h1m0 0h1m0 0h1m0 0h1m0 0h1m7 0h1m0 0h1m0 0h1m5 0h1m0 0h1m-60 1h1m0 0h1m0 0h1m0 0h1m0 0h1m1 0h1m0 0h1m1 0h1m0 0h1m0 0h1m1 0h1m0 0h1m0 0h1m0 0h1m1 0h1m0 0h1m0 0h1m0 0h1m0 0h1m0 0h1m0 0h1m0 0h1m1 0h1m0 0h1m0 0h1m6 0h1m0 0h1m4 0h1m0 0h1m0 0h1m3 0h1m-48 1h1m0 0h1m0 0h1m0 0h1m0 0h1m2 0h1m0 0h1m0 0h1m1 0h1m0 0h1m0 0h1m4 0h1m0 0h1m1 0h1m0 0h1m0 0h1m0 0h1m1 0h1m3 0h1m0 0h1m0 0h1m0 0h1m0 0h1m1 0h1m2 0h1m0 0h1m7 0h1m8 0h1m0 0h1m-57 1h1m1 0h1m2 0h1m0 0h1m0 0h1m0 0h1m0 0h1m1 0h1m0 0h1m0 0h1m3 0h1m1 0h1m0 0h1m0 0h1m4 0h1m1 0h1m6 0h1m22 0h1m-62 1h1m3 0h1m1 0h1m0 0h1m3 0h1m1 0h1m0 0h1m4 0h1m2 0h1m0 0h1m2 0h1m0 0h1m2 0h1m0 0h1m6 0h1m2 0h1m2 0h1m1 0h1m-41 1h1m3 0h1m1 0h1m1 0h1m3 0h1m6 0h1m15 0h1m-37 1h1m6 0h1m59 1h1m-61 1h1m1 1h1"/>
<line x1="194.1" y1="38.9" x2="194.1" y2="148.9" stroke="#2a2a2a" stroke-width="1" />
<line x1="190.7" y1="145.01" x2="194.1" y2="145.01" stroke="#2a2a2a" stroke-width="0.8" />
<line x1="190.7" y1="140.72" x2="194.1" y2="140.72" stroke="#2a2a2a" stroke-width="0.8" />
<line x1="190.7" y1="136.43" x2="194.1" y2="136.43" stroke="#2a2a2a" stroke-width="0.8" />
<line x1="190.7" y1="132.14" x2="194.1" y2="132.14" stroke="#2a2a2a" stroke-width="0.8" />
<line x1="188.2" y1="127.85" x2="194.1" y2="127.85" stroke="#2a2a2a" stroke-width="0.8" />
<line x1="190.7" y1="123.56" x2="194.1" y2="123.56" stroke="#2a2a2a" stroke-width="0.8" />
<line x1="190.7" y1="119.27" x2="194.1" y2="119.27" stroke="#2a2a2a" stroke-width="0.8" />
<line x1="190.7" y1="114.98" x2="194.1" y2="114.98" stroke="#2a2a2a" stroke-width="0.8" />
<line x1="190.7" y1="110.69" x2="194.1" y2="110.69" stroke="#2a2a2a" stroke-width="0.8" />
<line x1="188.2" y1="106.4" x2="194.1" y2="106.4" stroke="#2a2a2a" stroke-width="0.8" />
<line x1="190.7" y1="102.11" x2="194.1" y2="102.11" stroke="#2a2a2a" stroke-width="0.8" />
<line x1="190.7" y1="97.82" x2="194.1" y2="97.82" stroke="#2a2a2a" stroke-width="0.8" />
<line x1="190.7" y1="93.53" x2="194.1" y2="93.53" stroke="#2a2a2a" stroke-width="0.8" />
<line x1="190.7" y1="89.24" x2="194.1" y2="89.24" stroke="#2a2a2a" stroke-width="0.8" />
<line x1="188.2" y1="84.95" x2="194.1" y2="84.95" stroke="#2a2a2a" stroke-width="0.8" />
<line x1="190.7" y1="80.66" x2="194.1" y2="80.66" stroke="#2a2a2a" stroke-width="0.8" />
<line x1="190.7" y1="76.37" x2="194.1" y2="76.37" stroke="#2a2a2a" stroke-width="0.8" />
<line x1="190.7" y1="72.08" x2="194.1" y2="72.08" stroke="#2a2a2a" stroke-width="0.8" />
<line x1="190.7" y1="67.79" x2="194.1" y2="67.79" stroke="#2a2a2a" stroke-width="0.8" />
<line x1="188.2" y1="63.5" x2="194.1" y2="63.5" stroke="#2a2a2a" stroke-width="0.8" />
<line x1="190.7" y1="59.21" x2="194.1" y2="59.21" stroke="#2a2a2a" stroke-width="0.8" />
<line x1="190.7" y1="54.92" x2="194.1" y2="54.92" stroke="#2a2a2a" stroke-width="0.8" />
<line x1="190.7" y1="50.63" x2="194.1" y2="50.63" stroke="#2a2a2a" stroke-width="0.8" />
<line x1="190.7" y1="46.34" x2="194.1" y2="46.34" stroke="#2a2a2a" stroke-width="0.8" />
<line x1="188.2" y1="42.05" x2="194.1" y2="42.05" stroke="#2a2a2a" stroke-width="0.8" />
<text x="187.6" y="131.29" font-size="6.14" fill="#3a3a3a" transform="rotate(-90 187.6 131.29)">50</text>
<text x="187.6" y="111.62" font-size="6.14" fill="#3a3a3a" transform="rotate(-90 187.6 111.62)">100</text>
<text x="187.6" y="90.17" font-size="6.14" fill="#3a3a3a" transform="rotate(-90 187.6 90.17)">150</text>
<text x="187.6" y="68.66" font-size="6.14" fill="#3a3a3a" transform="rotate(-90 187.6 68.66)">200</text>
<text x="187.6" y="47.21" font-size="6.14" fill="#3a3a3a" transform="rotate(-90 187.6 47.21)">250</text>
<line x1="194.1" y1="149" x2="323.5" y2="149" stroke="#2a2a2a" stroke-width="1" />
<line x1="199.11" y1="149" x2="199.11" y2="152.4" stroke="#2a2a2a" stroke-width="0.8" />
<line x1="202.3" y1="149" x2="202.3" y2="152.4" stroke="#2a2a2a" stroke-width="0.8" />
<line x1="204.9" y1="149" x2="204.9" y2="152.4" stroke="#2a2a2a" stroke-width="0.8" />
<line x1="207.1" y1="149" x2="207.1" y2="152.4" stroke="#2a2a2a" stroke-width="0.8" />
<line x1="209.01" y1="149" x2="209.01" y2="152.4" stroke="#2a2a2a" stroke-width="0.8" />
<line x1="210.69" y1="149" x2="210.69" y2="152.4" stroke="#2a2a2a" stroke-width="0.8" />
<line x1="212.2" y1="149" x2="212.2" y2="154.4" stroke="#2a2a2a" stroke-width="0.8" />
<line x1="222.1" y1="149" x2="222.1" y2="152.4" stroke="#2a2a2a" stroke-width="0.8" />
<line x1="227.9" y1="149" x2="227.9" y2="152.4" stroke="#2a2a2a" stroke-width="0.8" />
<line x1="232.01" y1="149" x2="232.01" y2="152.4" stroke="#2a2a2a" stroke-width="0.8" />
<line x1="235.2" y1="149" x2="235.2" y2="152.4" stroke="#2a2a2a" stroke-width="0.8" />
<line x1="237.8" y1="149" x2="237.8" y2="152.4" stroke="#2a2a2a" stroke-width="0.8" />
<line x1="240" y1="149" x2="240" y2="152.4" stroke="#2a2a2a" stroke-width="0.8" />
<line x1="241.91" y1="149" x2="241.91" y2="152.4" stroke="#2a2a2a" stroke-width="0.8" />
<line x1="243.59" y1="149" x2="243.59" y2="152.4" stroke="#2a2a2a" stroke-width="0.8" />
<line x1="245.1" y1="149" x2="245.1" y2="154.4" stroke="#2a2a2a" stroke-width="0.8" />
<line x1="255" y1="149" x2="255" y2="152.4" stroke="#2a2a2a" stroke-width="0.8" />
<line x1="260.8" y1="149" x2="260.8" y2="152.4" stroke="#2a2a2a" stroke-width="0.8" />
<line x1="264.91" y1="149" x2="264.91" y2="152.4" stroke="#2a2a2a" stroke-width="0.8" />
<line x1="268.1" y1="149" x2="268.1" y2="152.4" stroke="#2a2a2a" stroke-width="0.8" />
<line x1="270.7" y1="149" x2="270.7" y2="152.4" stroke="#2a2a2a" stroke-width="0.8" />
<line x1="272.9" y1="149" x2="272.9" y2="152.4" stroke="#2a2a2a" stroke-width="0.8" />
<line x1="274.81" y1="149" x2="274.81" y2="152.4" stroke="#2a2a2a" stroke-width="0.8" />
<line x1="276.49" y1="149" x2="276.49" y2="152.4" stroke="#2a2a2a" stroke-width="0.8" />
<line x1="278" y1="149" x2="278" y2="154.4" stroke="#2a2a2a" stroke-width="0.8" />
<line x1="287.9" y1="149" x2="287.9" y2="152.4" stroke="#2a2a2a" stroke-width="0.8" />
<line x1="293.7" y1="149" x2="293.7" y2="152.4" stroke="#2a2a2a" stroke-width="0.8" />
<line x1="297.81" y1="149" x2="297.81" y2="152.4" stroke="#2a2a2a" stroke-width="0.8" />
<line x1="301" y1="149" x2="301" y2="152.4" stroke="#2a2a2a" stroke-width="0.8" />
<line x1="303.6" y1="149" x2="303.6" y2="152.4" stroke="#2a2a2a" stroke-width="0.8" />
<line x1="305.8" y1="149" x2="305.8" y2="152.4" stroke="#2a2a2a" stroke-width="0.8" />
<line x1="307.71" y1="149" x2="307.71" y2="152.4" stroke="#2a2a2a" stroke-width="0.8" />
<line x1="309.39" y1="149" x2="309.39" y2="152.4" stroke="#2a2a2a" stroke-width="0.8" />
<line x1="310.9" y1="149" x2="310.9" y2="154.4" stroke="#2a2a2a" stroke-width="0.8" />
<line x1="320.8" y1="149" x2="320.8" y2="152.4" stroke="#2a2a2a" stroke-width="0.8" />
<text x="207.21" y="162.1" font-size="6.32" fill="#3a3a3a" textLength="9.79" lengthAdjust="spacingAndGlyphs">10<tspan style="font-size:0.9em" dy="-0.5em">2</tspan></text>
<text x="240.11" y="162.1" font-size="6.32" fill="#3a3a3a" textLength="9.79" lengthAdjust="spacingAndGlyphs">10<tspan style="font-size:0.9em" dy="-0.5em">3</tspan></text>
<text x="273.02" y="162.1" font-size="6.32" fill="#3a3a3a" textLength="9.66" lengthAdjust="spacingAndGlyphs">10<tspan style="font-size:0.9em" dy="-0.5em">4</tspan></text>
<text x="305.91" y="162.1" font-size="6.32" fill="#3a3a3a" textLength="9.79" lengthAdjust="spacingAndGlyphs">10<tspan style="font-size:0.9em" dy="-0.5em">5</tspan></text>
<rect x="216.3" y="97.1" width="78.5" height="51.9" fill="none" stroke="#3c3c3c" stroke-width="1" />
<text x="244.39" y="89.25" font-size="7.23" font-weight="bold" fill="#000" textLength="51.38" lengthAdjust="spacingAndGlyphs">P5 (HSC ACE2<tspan style="font-size:0.7em" dy="-0.45em">+</tspan><tspan dy="0.315em">)</tspan></text>
<text x="244.26" y="171.6" font-size="8.71" font-weight="bold" fill="#000" textLength="31.69" lengthAdjust="spacingAndGlyphs">PE-ACE2</text>
<text x="180.7" y="101.58" font-size="8.71" font-weight="bold" fill="#000" textLength="22.09" lengthAdjust="spacingAndGlyphs" transform="rotate(-90 180.7 101.58)">SSC-H</text>
<text x="179.19" y="62.29" font-size="4.57" fill="#3a3a3a" textLength="25.93" lengthAdjust="spacingAndGlyphs" transform="rotate(-90 179.19 62.29)">(x 1,000)</text>
<rect x="3.5" y="179.7" width="160.9" height="153.8" fill="none" stroke="#262626" stroke-width="1.3" />
<path transform="translate(0 0.5)" stroke="#f00" fill="none" d="M61 275h1m3 0h1m42 0h1m-47 1h1m3 0h1m4 0h1m1 0h1m15 0h1m-60 1h1m0 0h1m32 0h1m3 0h1m-39 1h1m0 0h1m33 0h1m2 0h1m4 0h1m-34 1h1m23 0h1m4 0h1m-6 1h1m0 0h1m0 0h1m2 0h1m1 0h1m1 0h1m2 0h1m-46 1h1m31 0h1m2 0h1m1 0h1m0 0h1m0 0h1m0 0h1m2 0h1m1 0h1m0 0h1m1 0h1m1 0h1m26 0h1m-79 1h1m0 0h1m25 0h1m5 0h1m1 0h1m0 0h1m0 0h1m0 0h1m0 0h1m0 0h1m0 0h1m0 0h1m1 0h1m0 0h1m21 0h1m-68 1h1m0 0h1m0 0h1m1 0h1m5 0h1m6 0h1m8 0h1m3 0h1m1 0h1m0 0h1m0 0h1m0 0h1m1 0h1m2 0h1m0 0h1m0 0h1m0 0h1m1 0h1m0 0h1m5 0h1m13 0h1m1 0h1m2 0h1m13 0h1m-86 1h1m5 0h1m2 0h1m16 0h1m8 0h1m2 0h1m1 0h1m0 0h1m2 0h1m0 0h1m2 0h1m1 0h1m8 0h1m5 0h1m0 0h1m13 0h1m-81 1h1m2 0h1m2 0h1m1 0h1m3 0h1m13 0h1m4 0h1m1 0h1m4 0h1m0 0h1m1 0h1m0 0h1m2 0h1m0 0h1m4 0h1m2 0h1m0 0h1m6 0h1m0 0h1m1 0h1m5 0h1m-72 1h1m13 0h1m4 0h1m9 0h1m1 0h1m0 0h1m0 0h1m1 0h1m1 0h1m0 0h1m0 0h1m0 0h1m0 0h1m2 0h1m0 0h1m0 0h1m0 0h1m1 0h1m8 0h1m9 0h1m-69 1h1m0 0h1m0 0h1m5 0h1m1 0h1m5 0h1m11 0h1m0 0h1m2 0h1m0 0h1m1 0h1m1 0h1m0 0h1m0 0h1m1 0h1m1 0h1m1 0h1m2 0h1m4 0h1m0 0h1m3 0h1m1 0h1m3 0h1m17 0h1m2 0h1m-86 1h1m3 0h1m0 0h1m4 0h1m1 0h1m1 0h1m1 0h1m4 0h1m0 0h1m1 0h1m0 0h1m3 0h1m1 0h1m5 0h1m0 0h1m1 0h1m0 0h1m3 0h1m0 0h1m3 0h1m0 0h1m0 0h1m1 0h1m0 0h1m5 0h1m2 0h1m4 0h1m3 0h1m-70 1h1m0 0h1m8 0h1m5 0h1m6 0h1m3 0h1m3 0h1m2 0h1m2 0h1m2 0h1m0 0h1m0 0h1m2 0h1m0 0h1m0 0h1m0 0h1m0 0h1m2 0h1m0 0h1m0 0h1m0 0h1m0 0h1m4 0h1m-65 1h1m4 0h1m4 0h1m2 0h1m6 0h1m15 0h1m0 0h1m0 0h1m0 0h1m0 0h1m0 0h1m2 0h1m0 0h1m0 0h1m0 0h1m1 0h1m2 0h1m0 0h1m0 0h1m0 0h1m0 0h1m2 0h1m0 0h1m1 0h1m0 0h1m4 0h1m-69 1h1m5 0h1m6 0h1m3 0h1m9 0h1m8 0h1m3 0h1m0 0h1m0 0h1m3 0h1m1 0h1m0 0h1m1 0h1m0 0h1m0 0h1m1 0h1m0 0h1m0 0h1m0 0h1m3 0h1m0 0h1m-64 1h1m3 0h1m18 0h1m2 0h1m4 0h1m2 0h1m0 0h1m6 0h1m0 0h1m0 0h1m0 0h1m0 0h1m0 0h1m0 0h1m0 0h1m0 0h1m0 0h1m0 0h1m0 0h1m0 0h1m0 0h1m0 0h1m1 0h1m0 0h1m2 0h1m-25 1h1m3 0h1m1 0h1m1 0h1m4 0h1m0 0h1m3 0h1m1 0h1m0 0h1m0 0h1m2 0h1m6 0h1m-72 1h1m0 0h1m17 0h1m9 0h1m3 0h1m2 0h1m9 0h1m0 0h1m1 0h1m0 0h1m1 0h1m1 0h1m1 0h1m2 0h1m9 0h1m2 0h1m7 0h1m-73 1h1m4 0h1m28 0h1m1 0h1m0 0h1m2 0h1m3 0h1m0 0h1m0 0h1m1 0h1m1 0h1m-59 1h1m0 0h1m46 0h1m4 0h1m1 0h1m0 0h1m6 0h1m3 0h1m14 0h1m-83 1h1m5 0h1m5 0h1m13 0h1m14 0h1m9 0h1m4 0h1m4 0h1m-61 1h1m9 0h1m12 0h1m2 0h1m2 0h1m11 0h1m6 0h1m2 0h1m1 0h1m1 0h1m0 0h1m-38 2h1m47 0h1m-64 1h1m43 2h1m-49 2h1m9 0h1m-11 1h1"/>
<path transform="translate(0.5 0.5)" stroke="#f00" fill="none" d="M72 272h1m-43 4h1m36 0h1m-38 2h1m3 0h1m24 0h1m8 0h1m3 0h1m1 0h1m0 0h1m12 0h1m1 0h1m-42 1h1m17 0h1m0 0h1m0 0h1m0 0h1m1 0h1m2 0h1m1 0h1m4 0h1m-46 1h1m2 0h1m10 0h1m11 0h1m2 0h1m0 0h1m0 0h1m1 0h1m4 0h1m2 0h1m8 0h1m4 0h1m3 0h1m22 0h1m-89 1h1m18 0h1m7 0h1m9 0h1m2 0h1m1 0h1m0 0h1m1 0h1m2 0h1m18 0h1m-34 1h1m1 0h1m0 0h1m0 0h1m0 0h1m0 0h1m0 0h1m0 0h1m2 0h1m0 0h1m2 0h1m0 0h1m1 0h1m6 0h1m18 0h1m0 0h1m-81 1h1m0 0h1m9 0h1m5 0h1m3 0h1m8 0h1m0 0h1m2 0h1m0 0h1m0 0h1m0 0h1m0 0h1m0 0h1m0 0h1m3 0h1m0 0h1m0 0h1m1 0h1m2 0h1m24 0h1m-77 1h1m0 0h1m0 0h1m24 0h1m1 0h1m1 0h1m2 0h1m0 0h1m3 0h1m0 0h1m0 0h1m0 0h1m0 0h1m0 0h1m0 0h1m0 0h1m0 0h1m0 0h1m0 0h1m21 0h1m14 0h1m-86 1h1m1 0h1m8 0h1m1 0h1m2 0h1m7 0h1m1 0h1m5 0h1m1 0h1m0 0h1m1 0h1m4 0h1m1 0h1m5 0h1m0 0h1m1 0h1m1 0h1m5 0h1m9 0h1m9 0h1m-82 1h1m14 0h1m6 0h1m2 0h1m9 0h1m1 0h1m1 0h1m0 0h1m1 0h1m0 0h1m1 0h1m2 0h1m2 0h1m1 0h1m1 0h1m2 0h1m0 0h1m1 0h1m5 0h1m2 0h1m-72 1h1m3 0h1m2 0h1m11 0h1m2 0h1m2 0h1m6 0h1m5 0h1m0 0h1m0 0h1m1 0h1m1 0h1m1 0h1m1 0h1m1 0h1m0 0h1m0 0h1m0 0h1m1 0h1m0 0h1m1 0h1m1 0h1m0 0h1m5 0h1m-68 1h1m0 0h1m4 0h1m13 0h1m3 0h1m3 0h1m0 0h1m3 0h1m1 0h1m3 0h1m1 0h1m0 0h1m1 0h1m5 0h1m0 0h1m1 0h1m0 0h1m2 0h1m0 0h1m5 0h1m3 0h1m4 0h1m1 0h1m0 0h1m-76 1h1m11 0h1m4 0h1m4 0h1m3 0h1m0 0h1m9 0h1m1 0h1m0 0h1m1 0h1m1 0h1m0 0h1m1 0h1m1 0h1m0 0h1m0 0h1m0 0h1m0 0h1m0 0h1m4 0h1m2 0h1m0 0h1m-65 1h1m3 0h1m0 0h1m3 0h1m6 0h1m6 0h1m3 0h1m8 0h1m6 0h1m0 0h1m2 0h1m0 0h1m2 0h1m0 0h1m1 0h1m0 0h1m0 0h1m0 0h1m2 0h1m0 0h1m0 0h1m3 0h1m8 0h1m-76 1h1m0 0h1m14 0h1m12 0h1m12 0h1m0 0h1m1 0h1m1 0h1m0 0h1m0 0h1m1 0h1m0 0h1m1 0h1m3 0h1m0 0h1m1 0h1m0 0h1m-57 1h1m0 0h1m9 0h1m1 0h1m1 0h1m0 0h1m1 0h1m2 0h1m10 0h1m0 0h1m0 0h1m1 0h1m2 0h1m2 0h1m0 0h1m0 0h1m1 0h1m1 0h1m0 0h1m0 0h1m0 0h1m2 0h1m0 0h1m0 0h1m1 0h1m-65 1h1m5 0h1m3 0h1m1 0h1m8 0h1m3 0h1m12 0h1m1 0h1m8 0h1m1 0h1m1 0h1m0 0h1m1 0h1m0 0h1m1 0h1m1 0h1m2 0h1m3 0h1m-64 1h1m17 0h1m1 0h1m7 0h1m2 0h1m4 0h1m0 0h1m0 0h1m3 0h1m2 0h1m0 0h1m1 0h1m1 0h1m9 0h1m-64 1h1m1 0h1m7 0h1m6 0h1m1 0h1m2 0h1m17 0h1m1 0h1m2 0h1m0 0h1m0 0h1m0 0h1m1 0h1m3 0h1m0 0h1m3 0h1m-37 1h1m0 0h1m14 0h1m3 0h1m5 0h1m2 0h1m4 0h1m2 0h1m-48 1h1m3 0h1m10 0h1m8 0h1m6 0h1m0 0h1m4 0h1m1 0h1m0 0h1m7 0h1m1 0h1m-55 1h1m46 0h1m-58 1h1m4 0h1m6 0h1m11 0h1m12 0h1m13 0h1m-53 1h1m50 0h1m1 0h1m2 0h1m10 0h1m-67 1h1m17 0h1m46 0h1m-55 2h1m49 0h1m-53 1h1"/>
<path transform="translate(0 1)" stroke="#f00" fill="none" d="M63 272h1m5 3h1m8 0h1m9 0h1m-23 1h1m2 0h1m4 1h1m2 0h1m-8 1h1m2 0h1m0 0h1m13 0h1m30 0h1m-54 1h1m5 0h1m0 0h1m-43 1h1m24 0h1m4 0h1m0 0h1m6 0h1m1 0h1m3 0h1m0 0h1m24 0h1m-72 1h1m30 0h1m2 0h1m0 0h1m0 0h1m0 0h1m2 0h1m0 0h1m0 0h1m0 0h1m1 0h1m2 0h1m30 0h1m-79 1h1m11 0h1m3 0h1m7 0h1m6 0h1m2 0h1m0 0h1m4 0h1m0 0h1m8 0h1m2 0h1m0 0h1m0 0h1m0 0h1m8 0h1m-66 1h1m3 0h1m3 0h1m4 0h1m1 0h1m2 0h1m6 0h1m2 0h1m2 0h1m6 0h1m0 0h1m1 0h1m0 0h1m1 0h1m0 0h1m0 0h1m21 0h1m-70 1h1m0 0h1m3 0h1m6 0h1m1 0h1m17 0h1m0 0h1m1 0h1m0 0h1m2 0h1m0 0h1m1 0h1m0 0h1m2 0h1m1 0h1m-48 1h1m4 0h1m15 0h1m3 0h1m10 0h1m0 0h1m1 0h1m0 0h1m0 0h1m0 0h1m0 0h1m4 0h1m0 0h1m1 0h1m7 0h1m0 0h1m4 0h1m9 0h1m-68 1h1m9 0h1m3 0h1m3 0h1m8 0h1m0 0h1m0 0h1m0 0h1m0 0h1m0 0h1m3 0h1m0 0h1m0 0h1m0 0h1m0 0h1m2 0h1m0 0h1m0 0h1m0 0h1m0 0h1m2 0h1m1 0h1m0 0h1m-63 1h1m0 0h1m3 0h1m1 0h1m7 0h1m0 0h1m1 0h1m6 0h1m6 0h1m2 0h1m0 0h1m0 0h1m0 0h1m0 0h1m0 0h1m0 0h1m1 0h1m0 0h1m4 0h1m1 0h1m2 0h1m0 0h1m0 0h1m0 0h1m0 0h1m16 0h1m3 0h1m7 0h1m-88 1h1m0 0h1m4 0h1m1 0h1m13 0h1m0 0h1m0 0h1m8 0h1m2 0h1m1 0h1m0 0h1m0 0h1m1 0h1m0 0h1m0 0h1m0 0h1m0 0h1m1 0h1m1 0h1m0 0h1m0 0h1m0 0h1m1 0h1m0 0h1m0 0h1m0 0h1m0 0h1m0 0h1m0 0h1m1 0h1m6 0h1m9 0h1m-81 1h1m2 0h1m4 0h1m0 0h1m6 0h1m3 0h1m5 0h1m4 0h1m0 0h1m8 0h1m1 0h1m0 0h1m2 0h1m0 0h1m0 0h1m0 0h1m1 0h1m0 0h1m1 0h1m0 0h1m0 0h1m0 0h1m0 0h1m1 0h1m0 0h1m0 0h1m1 0h1m7 0h1m1 0h1m10 0h1m-86 1h1m2 0h1m0 0h1m3 0h1m2 0h1m1 0h1m1 0h1m1 0h1m2 0h1m6 0h1m3 0h1m2 0h1m1 0h1m3 0h1m2 0h1m0 0h1m0 0h1m2 0h1m0 0h1m0 0h1m0 0h1m0 0h1m0 0h1m0 0h1m0 0h1m0 0h1m0 0h1m24 0h1m-84 1h1m3 0h1m1 0h1m5 0h1m7 0h1m6 0h1m1 0h1m11 0h1m1 0h1m0 0h1m1 0h1m1 0h1m0 0h1m0 0h1m0 0h1m0 0h1m0 0h1m0 0h1m0 0h1m0 0h1m0 0h1m0 0h1m0 0h1m0 0h1m0 0h1m3 0h1m-66 1h1m0 0h1m17 0h1m3 0h1m1 0h1m0 0h1m15 0h1m0 0h1m0 0h1m1 0h1m1 0h1m0 0h1m0 0h1m0 0h1m0 0h1m2 0h1m0 0h1m0 0h1m0 0h1m2 0h1m3 0h1m6 0h1m3 0h1m-76 1h1m4 0h1m9 0h1m6 0h1m14 0h1m2 0h1m4 0h1m0 0h1m0 0h1m1 0h1m0 0h1m0 0h1m0 0h1m2 0h1m3 0h1m17 0h1m-78 1h1m6 0h1m2 0h1m9 0h1m5 0h1m0 0h1m10 0h1m3 0h1m0 0h1m0 0h1m0 0h1m1 0h1m3 0h1m1 0h1m1 0h1m0 0h1m1 0h1m0 0h1m0 0h1m0 0h1m1 0h1m1 0h1m0 0h1m14 0h1m-82 1h1m0 0h1m14 0h1m11 0h1m12 0h1m3 0h1m0 0h1m0 0h1m2 0h1m0 0h1m0 0h1m1 0h1m0 0h1m0 0h1m0 0h1m0 0h1m5 0h1m6 0h1m6 0h1m-79 1h1m5 0h1m11 0h1m8 0h1m13 0h1m3 0h1m1 0h1m1 0h1m1 0h1m0 0h1m8 0h1m1 0h1m-47 1h1m18 0h1m14 0h1m6 0h1m-37 1h1m18 0h1m9 0h1m1 0h1m0 0h1m-39 1h1m33 0h1m1 0h1m1 0h1m-56 1h1m40 0h1m7 0h1m4 0h1m5 0h1m-13 2h1m9 0h1"/>
<path transform="translate(0.5 1)" stroke="#f00" fill="none" d="M65 274h1m2 0h1m1 0h1m-3 1h1m-4 2h1m7 0h1m3 0h1m-15 1h1m0 0h1m10 0h1m-37 1h1m14 0h1m2 0h1m4 0h1m2 0h1m1 0h1m0 0h1m0 0h1m0 0h1m0 0h1m1 0h1m2 0h1m-10 1h1m2 0h1m4 0h1m-35 1h1m17 0h1m4 0h1m3 0h1m1 0h1m0 0h1m1 0h1m1 0h1m0 0h1m27 0h1m5 0h1m-81 1h1m20 0h1m0 0h1m8 0h1m3 0h1m0 0h1m0 0h1m1 0h1m1 0h1m3 0h1m5 0h1m7 0h1m-60 1h1m24 0h1m2 0h1m5 0h1m3 0h1m0 0h1m3 0h1m0 0h1m3 0h1m0 0h1m2 0h1m3 0h1m20 0h1m5 0h1m-84 1h1m3 0h1m6 0h1m11 0h1m6 0h1m3 0h1m0 0h1m4 0h1m0 0h1m2 0h1m1 0h1m2 0h1m7 0h1m4 0h1m-63 1h1m0 0h1m4 0h1m4 0h1m0 0h1m3 0h1m0 0h1m0 0h1m2 0h1m5 0h1m0 0h1m2 0h1m4 0h1m0 0h1m0 0h1m1 0h1m0 0h1m2 0h1m0 0h1m0 0h1m1 0h1m2 0h1m1 0h1m2 0h1m0 0h1m8 0h1m1 0h1m12 0h1m5 0h1m-87 1h1m2 0h1m4 0h1m0 0h1m5 0h1m7 0h1m2 0h1m0 0h1m0 0h1m0 0h1m2 0h1m2 0h1m0 0h1m0 0h1m1 0h1m0 0h1m1 0h1m1 0h1m0 0h1m0 0h1m0 0h1m2 0h1m3 0h1m2 0h1m1 0h1m2 0h1m3 0h1m13 0h1m-81 1h1m6 0h1m1 0h1m8 0h1m0 0h1m1 0h1m5 0h1m0 0h1m6 0h1m3 0h1m1 0h1m2 0h1m0 0h1m0 0h1m1 0h1m0 0h1m0 0h1m0 0h1m4 0h1m6 0h1m3 0h1m17 0h1m-87 1h1m1 0h1m9 0h1m4 0h1m4 0h1m2 0h1m2 0h1m3 0h1m0 0h1m3 0h1m2 0h1m1 0h1m0 0h1m0 0h1m2 0h1m0 0h1m1 0h1m0 0h1m0 0h1m0 0h1m0 0h1m3 0h1m0 0h1m0 0h1m0 0h1m1 0h1m0 0h1m20 0h1m-86 1h1m0 0h1m1 0h1m5 0h1m0 0h1m2 0h1m3 0h1m7 0h1m10 0h1m1 0h1m5 0h1m2 0h1m2 0h1m0 0h1m1 0h1m0 0h1m0 0h1m0 0h1m1 0h1m4 0h1m0 0h1m2 0h1m9 0h1m-77 1h1m6 0h1m3 0h1m3 0h1m5 0h1m18 0h1m0 0h1m0 0h1m2 0h1m0 0h1m0 0h1m0 0h1m1 0h1m0 0h1m0 0h1m1 0h1m0 0h1m1 0h1m0 0h1m2 0h1m0 0h1m2 0h1m-66 1h1m13 0h1m3 0h1m5 0h1m1 0h1m4 0h1m4 0h1m0 0h1m4 0h1m0 0h1m0 0h1m1 0h1m0 0h1m0 0h1m1 0h1m0 0h1m0 0h1m0 0h1m0 0h1m0 0h1m0 0h1m3 0h1m-61 1h1m0 0h1m6 0h1m5 0h1m7 0h1m1 0h1m1 0h1m7 0h1m4 0h1m0 0h1m0 0h1m1 0h1m1 0h1m0 0h1m2 0h1m0 0h1m2 0h1m0 0h1m2 0h1m1 0h1m0 0h1m0 0h1m0 0h1m1 0h1m-55 1h1m11 0h1m12 0h1m4 0h1m0 0h1m1 0h1m1 0h1m1 0h1m0 0h1m1 0h1m1 0h1m0 0h1m0 0h1m0 0h1m1 0h1m2 0h1m5 0h1m0 0h1m0 0h1m-70 1h1m13 0h1m6 0h1m15 0h1m1 0h1m5 0h1m0 0h1m1 0h1m0 0h1m1 0h1m0 0h1m2 0h1m2 0h1m0 0h1m0 0h1m2 0h1m0 0h1m-64 1h1m8 0h1m18 0h1m5 0h1m3 0h1m3 0h1m0 0h1m1 0h1m1 0h1m1 0h1m1 0h1m0 0h1m0 0h1m0 0h1m2 0h1m7 0h1m0 0h1m7 0h1m-76 1h1m7 0h1m1 0h1m8 0h1m25 0h1m1 0h1m4 0h1m0 0h1m0 0h1m5 0h1m14 0h1m10 0h1m-87 1h1m9 0h1m31 0h1m8 0h1m0 0h1m0 0h1m1 0h1m-54 1h1m26 0h1m14 0h1m5 0h1m2 0h1m1 0h1m3 0h1m9 0h1m-54 1h1m38 0h1m-16 1h1m13 0h1m-47 2h1m8 1h1"/>
<line x1="29.8" y1="193.7" x2="29.8" y2="309.5" stroke="#2a2a2a" stroke-width="1" />
<line x1="26.4" y1="305.3" x2="29.8" y2="305.3" stroke="#2a2a2a" stroke-width="0.8" />
<line x1="26.4" y1="300.8" x2="29.8" y2="300.8" stroke="#2a2a2a" stroke-width="0.8" />
<line x1="26.4" y1="296.3" x2="29.8" y2="296.3" stroke="#2a2a2a" stroke-width="0.8" />
<line x1="26.4" y1="291.8" x2="29.8" y2="291.8" stroke="#2a2a2a" stroke-width="0.8" />
<line x1="23.9" y1="287.3" x2="29.8" y2="287.3" stroke="#2a2a2a" stroke-width="0.8" />
<line x1="26.4" y1="282.8" x2="29.8" y2="282.8" stroke="#2a2a2a" stroke-width="0.8" />
<line x1="26.4" y1="278.3" x2="29.8" y2="278.3" stroke="#2a2a2a" stroke-width="0.8" />
<line x1="26.4" y1="273.8" x2="29.8" y2="273.8" stroke="#2a2a2a" stroke-width="0.8" />
<line x1="26.4" y1="269.3" x2="29.8" y2="269.3" stroke="#2a2a2a" stroke-width="0.8" />
<line x1="23.9" y1="264.8" x2="29.8" y2="264.8" stroke="#2a2a2a" stroke-width="0.8" />
<line x1="26.4" y1="260.3" x2="29.8" y2="260.3" stroke="#2a2a2a" stroke-width="0.8" />
<line x1="26.4" y1="255.8" x2="29.8" y2="255.8" stroke="#2a2a2a" stroke-width="0.8" />
<line x1="26.4" y1="251.3" x2="29.8" y2="251.3" stroke="#2a2a2a" stroke-width="0.8" />
<line x1="26.4" y1="246.8" x2="29.8" y2="246.8" stroke="#2a2a2a" stroke-width="0.8" />
<line x1="23.9" y1="242.3" x2="29.8" y2="242.3" stroke="#2a2a2a" stroke-width="0.8" />
<line x1="26.4" y1="237.8" x2="29.8" y2="237.8" stroke="#2a2a2a" stroke-width="0.8" />
<line x1="26.4" y1="233.3" x2="29.8" y2="233.3" stroke="#2a2a2a" stroke-width="0.8" />
<line x1="26.4" y1="228.8" x2="29.8" y2="228.8" stroke="#2a2a2a" stroke-width="0.8" />
<line x1="26.4" y1="224.3" x2="29.8" y2="224.3" stroke="#2a2a2a" stroke-width="0.8" />
<line x1="23.9" y1="219.8" x2="29.8" y2="219.8" stroke="#2a2a2a" stroke-width="0.8" />
<line x1="26.4" y1="215.3" x2="29.8" y2="215.3" stroke="#2a2a2a" stroke-width="0.8" />
<line x1="26.4" y1="210.8" x2="29.8" y2="210.8" stroke="#2a2a2a" stroke-width="0.8" />
<line x1="26.4" y1="206.3" x2="29.8" y2="206.3" stroke="#2a2a2a" stroke-width="0.8" />
<line x1="26.4" y1="201.8" x2="29.8" y2="201.8" stroke="#2a2a2a" stroke-width="0.8" />
<line x1="23.9" y1="197.3" x2="29.8" y2="197.3" stroke="#2a2a2a" stroke-width="0.8" />
<text x="24.2" y="290.74" font-size="6.14" fill="#3a3a3a" transform="rotate(-90 24.2 290.74)">50</text>
<text x="24.2" y="270.02" font-size="6.14" fill="#3a3a3a" transform="rotate(-90 24.2 270.02)">100</text>
<text x="24.2" y="247.52" font-size="6.14" fill="#3a3a3a" transform="rotate(-90 24.2 247.52)">150</text>
<text x="24.2" y="224.96" font-size="6.14" fill="#3a3a3a" transform="rotate(-90 24.2 224.96)">200</text>
<text x="24.2" y="202.46" font-size="6.14" fill="#3a3a3a" transform="rotate(-90 24.2 202.46)">250</text>
<line x1="29.8" y1="309.5" x2="159.5" y2="309.5" stroke="#2a2a2a" stroke-width="1" />
<line x1="34.61" y1="309.5" x2="34.61" y2="312.9" stroke="#2a2a2a" stroke-width="0.8" />
<line x1="37.85" y1="309.5" x2="37.85" y2="312.9" stroke="#2a2a2a" stroke-width="0.8" />
<line x1="40.49" y1="309.5" x2="40.49" y2="312.9" stroke="#2a2a2a" stroke-width="0.8" />
<line x1="42.73" y1="309.5" x2="42.73" y2="312.9" stroke="#2a2a2a" stroke-width="0.8" />
<line x1="44.66" y1="309.5" x2="44.66" y2="312.9" stroke="#2a2a2a" stroke-width="0.8" />
<line x1="46.37" y1="309.5" x2="46.37" y2="312.9" stroke="#2a2a2a" stroke-width="0.8" />
<line x1="47.9" y1="309.5" x2="47.9" y2="314.9" stroke="#2a2a2a" stroke-width="0.8" />
<line x1="57.95" y1="309.5" x2="57.95" y2="312.9" stroke="#2a2a2a" stroke-width="0.8" />
<line x1="63.84" y1="309.5" x2="63.84" y2="312.9" stroke="#2a2a2a" stroke-width="0.8" />
<line x1="68.01" y1="309.5" x2="68.01" y2="312.9" stroke="#2a2a2a" stroke-width="0.8" />
<line x1="71.25" y1="309.5" x2="71.25" y2="312.9" stroke="#2a2a2a" stroke-width="0.8" />
<line x1="73.89" y1="309.5" x2="73.89" y2="312.9" stroke="#2a2a2a" stroke-width="0.8" />
<line x1="76.13" y1="309.5" x2="76.13" y2="312.9" stroke="#2a2a2a" stroke-width="0.8" />
<line x1="78.06" y1="309.5" x2="78.06" y2="312.9" stroke="#2a2a2a" stroke-width="0.8" />
<line x1="79.77" y1="309.5" x2="79.77" y2="312.9" stroke="#2a2a2a" stroke-width="0.8" />
<line x1="81.3" y1="309.5" x2="81.3" y2="314.9" stroke="#2a2a2a" stroke-width="0.8" />
<line x1="91.35" y1="309.5" x2="91.35" y2="312.9" stroke="#2a2a2a" stroke-width="0.8" />
<line x1="97.24" y1="309.5" x2="97.24" y2="312.9" stroke="#2a2a2a" stroke-width="0.8" />
<line x1="101.41" y1="309.5" x2="101.41" y2="312.9" stroke="#2a2a2a" stroke-width="0.8" />
<line x1="104.65" y1="309.5" x2="104.65" y2="312.9" stroke="#2a2a2a" stroke-width="0.8" />
<line x1="107.29" y1="309.5" x2="107.29" y2="312.9" stroke="#2a2a2a" stroke-width="0.8" />
<line x1="109.53" y1="309.5" x2="109.53" y2="312.9" stroke="#2a2a2a" stroke-width="0.8" />
<line x1="111.46" y1="309.5" x2="111.46" y2="312.9" stroke="#2a2a2a" stroke-width="0.8" />
<line x1="113.17" y1="309.5" x2="113.17" y2="312.9" stroke="#2a2a2a" stroke-width="0.8" />
<line x1="114.7" y1="309.5" x2="114.7" y2="314.9" stroke="#2a2a2a" stroke-width="0.8" />
<line x1="124.75" y1="309.5" x2="124.75" y2="312.9" stroke="#2a2a2a" stroke-width="0.8" />
<line x1="130.64" y1="309.5" x2="130.64" y2="312.9" stroke="#2a2a2a" stroke-width="0.8" />
<line x1="134.81" y1="309.5" x2="134.81" y2="312.9" stroke="#2a2a2a" stroke-width="0.8" />
<line x1="138.05" y1="309.5" x2="138.05" y2="312.9" stroke="#2a2a2a" stroke-width="0.8" />
<line x1="140.69" y1="309.5" x2="140.69" y2="312.9" stroke="#2a2a2a" stroke-width="0.8" />
<line x1="142.93" y1="309.5" x2="142.93" y2="312.9" stroke="#2a2a2a" stroke-width="0.8" />
<line x1="144.86" y1="309.5" x2="144.86" y2="312.9" stroke="#2a2a2a" stroke-width="0.8" />
<line x1="146.57" y1="309.5" x2="146.57" y2="312.9" stroke="#2a2a2a" stroke-width="0.8" />
<line x1="148.1" y1="309.5" x2="148.1" y2="314.9" stroke="#2a2a2a" stroke-width="0.8" />
<line x1="158.15" y1="309.5" x2="158.15" y2="312.9" stroke="#2a2a2a" stroke-width="0.8" />
<text x="42.91" y="322.2" font-size="5.94" fill="#3a3a3a" textLength="9.79" lengthAdjust="spacingAndGlyphs">10<tspan style="font-size:0.9em" dy="-0.5em">2</tspan></text>
<text x="76.31" y="322.2" font-size="5.94" fill="#3a3a3a" textLength="9.79" lengthAdjust="spacingAndGlyphs">10<tspan style="font-size:0.9em" dy="-0.5em">3</tspan></text>
<text x="109.72" y="322.2" font-size="5.94" fill="#3a3a3a" textLength="9.66" lengthAdjust="spacingAndGlyphs">10<tspan style="font-size:0.9em" dy="-0.5em">4</tspan></text>
<text x="143.11" y="322.2" font-size="5.94" fill="#3a3a3a" textLength="9.79" lengthAdjust="spacingAndGlyphs">10<tspan style="font-size:0.9em" dy="-0.5em">5</tspan></text>
<rect x="30.8" y="197.4" width="29.4" height="112.1" fill="none" stroke="#3c3c3c" stroke-width="1" />
<text x="70.68" y="218.48" font-size="7.61" font-weight="bold" fill="#000" textLength="27.44" lengthAdjust="spacingAndGlyphs">P2 (Lin<tspan style="font-size:0.7em" dy="-0.45em">-</tspan><tspan dy="0.315em">)</tspan></text>
<text x="81.75" y="328.7" font-size="8.19" font-weight="bold" fill="#000" textLength="30.36" lengthAdjust="spacingAndGlyphs">FITC-Lin</text>
<text x="16.3" y="261.28" font-size="9" font-weight="bold" fill="#000" textLength="21.9" lengthAdjust="spacingAndGlyphs" transform="rotate(-90 16.3 261.28)">SSC-A</text>
<text x="14.66" y="217.07" font-size="5.22" fill="#3a3a3a" textLength="24.28" lengthAdjust="spacingAndGlyphs" transform="rotate(-90 14.66 217.07)">(x 1,000)</text>
<rect x="168.8" y="179.8" width="160.8" height="154.6" fill="none" stroke="#262626" stroke-width="1.3" />
<path transform="translate(0 0.5)" stroke="#f00" fill="none" d="M215 278h1m-20 3h1m-1 1h1m13 0h1m8 0h1m-13 1h1m11 0h1m7 0h1m-22 1h1m6 1h1m0 0h1m2 0h1m0 0h1m-13 1h1m6 0h1m5 0h1m-24 1h1m19 0h1m14 0h1m-29 1h1m6 0h1m28 0h1m-44 1h1m3 0h1m9 0h1m0 0h1m2 0h1m1 0h1m8 0h1m4 0h1m-35 1h1m11 0h1m2 0h1m0 0h1m9 0h1m-27 1h1m7 0h1m10 0h1m2 0h1m2 0h1m1 0h1m4 0h1m2 0h1m-33 1h1m2 0h1m7 0h1m3 0h1m-4 1h1m4 0h1m0 0h1m1 0h1m0 0h1m0 0h1m-26 1h1m5 0h1m3 0h1m10 0h1m17 0h1m4 0h1m7 0h1m-53 1h1m3 0h1m11 0h1m3 0h1m0 0h1m9 0h1m-27 1h1m4 0h1m0 0h1m1 0h1m2 0h1m0 0h1m3 0h1m2 0h1m0 0h1m6 0h1m-27 1h1m16 0h1m2 0h1m20 0h1m-25 1h1m2 3h1"/>
<path transform="translate(0.5 0.5)" stroke="#f00" fill="none" d="M228 278h1m-5 3h1m-29 1h1m0 1h1m27 1h1m-20 1h1m0 0h1m2 0h1m-6 1h1m8 0h1m-5 1h1m0 0h1m3 0h1m3 0h1m1 0h1m4 0h1m-31 1h1m8 0h1m1 0h1m6 0h1m-19 1h1m9 0h1m9 0h1m0 0h1m12 0h1m-35 1h1m10 0h1m1 0h1m0 0h1m1 0h1m0 0h1m5 0h1m-14 1h1m6 0h1m-18 1h1m8 0h1m3 0h1m0 0h1m8 0h1m4 0h1m1 0h1m-31 1h1m9 0h1m1 0h1m0 0h1m1 0h1m14 0h1m0 0h1m-32 1h1m4 0h1m5 0h1m4 0h1m2 0h1m7 0h1m7 0h1m8 0h1m-32 1h1m0 0h1m13 0h1m-20 1h1m1 0h1m3 0h1m22 0h1m-30 1h1m13 0h1m-10 1h1m0 0h1m5 0h1m2 0h1m-25 1h1m15 1h1m1 0h1m6 0h1m-6 2h1"/>
<path transform="translate(0 1)" stroke="#f00" fill="none" d="M216 278h1m-14 4h1m17 1h1m-2 1h1m-25 1h1m13 0h1m2 0h1m3 0h1m-11 1h1m4 0h1m4 0h1m1 0h1m3 0h1m-15 1h1m6 0h1m-14 1h1m5 0h1m1 0h1m1 0h1m-18 1h1m9 0h1m0 0h1m12 0h1m4 0h1m-30 1h1m23 0h1m4 0h1m15 0h1m-39 1h1m8 0h1m0 0h1m2 0h1m3 0h1m-23 1h1m5 0h1m0 0h1m1 0h1m-11 1h1m2 0h1m9 0h1m0 0h1m4 0h1m8 0h1m0 0h1m-31 1h1m5 0h1m15 0h1m24 0h1m-47 1h1m0 0h1m4 0h1m11 0h1m1 0h1m4 0h1m0 1h1m10 0h1m-11 1h1m0 0h1m-30 1h1m11 0h1m5 0h1m5 0h1m1 0h1m2 0h1m-17 1h1m6 0h1m15 0h1m-29 2h1m7 0h1m11 1h1"/>
<path transform="translate(0.5 1)" stroke="#f00" fill="none" d="M227 279h1m-13 1h1m15 0h1m-2 1h1m-4 1h1m-21 3h1m15 0h1m-19 1h1m6 1h1m10 0h1m6 0h1m4 0h1m23 0h1m-63 1h1m0 0h1m7 0h1m8 0h1m0 0h1m5 0h1m10 0h1m-25 1h1m6 0h1m11 0h1m-32 1h1m11 0h1m9 0h1m8 0h1m-32 1h1m10 0h1m9 0h1m1 0h1m34 0h1m-54 1h1m2 0h1m1 0h1m1 0h1m0 0h1m5 0h1m-11 1h1m11 0h1m-23 1h1m2 0h1m3 0h1m0 0h1m2 0h1m6 0h1m6 0h1m-26 1h1m18 0h1m0 0h1m2 0h1m3 0h1m3 0h1m6 0h1m-25 1h1m0 0h1m4 0h1m14 0h1m-17 1h1m-11 1h1m-9 1h1m21 0h1m-4 1h1m11 0h1m-24 1h1m13 2h1"/>
<line x1="195.4" y1="198" x2="195.4" y2="309.2" stroke="#2a2a2a" stroke-width="1" />
<line x1="192" y1="304.29" x2="195.4" y2="304.29" stroke="#2a2a2a" stroke-width="0.8" />
<line x1="192" y1="299.98" x2="195.4" y2="299.98" stroke="#2a2a2a" stroke-width="0.8" />
<line x1="192" y1="295.67" x2="195.4" y2="295.67" stroke="#2a2a2a" stroke-width="0.8" />
<line x1="192" y1="291.36" x2="195.4" y2="291.36" stroke="#2a2a2a" stroke-width="0.8" />
<line x1="189.5" y1="287.05" x2="195.4" y2="287.05" stroke="#2a2a2a" stroke-width="0.8" />
<line x1="192" y1="282.74" x2="195.4" y2="282.74" stroke="#2a2a2a" stroke-width="0.8" />
<line x1="192" y1="278.43" x2="195.4" y2="278.43" stroke="#2a2a2a" stroke-width="0.8" />
<line x1="192" y1="274.12" x2="195.4" y2="274.12" stroke="#2a2a2a" stroke-width="0.8" />
<line x1="192" y1="269.81" x2="195.4" y2="269.81" stroke="#2a2a2a" stroke-width="0.8" />
<line x1="189.5" y1="265.5" x2="195.4" y2="265.5" stroke="#2a2a2a" stroke-width="0.8" />
<line x1="192" y1="261.19" x2="195.4" y2="261.19" stroke="#2a2a2a" stroke-width="0.8" />
<line x1="192" y1="256.88" x2="195.4" y2="256.88" stroke="#2a2a2a" stroke-width="0.8" />
<line x1="192" y1="252.57" x2="195.4" y2="252.57" stroke="#2a2a2a" stroke-width="0.8" />
<line x1="192" y1="248.26" x2="195.4" y2="248.26" stroke="#2a2a2a" stroke-width="0.8" />
<line x1="189.5" y1="243.95" x2="195.4" y2="243.95" stroke="#2a2a2a" stroke-width="0.8" />
<line x1="192" y1="239.64" x2="195.4" y2="239.64" stroke="#2a2a2a" stroke-width="0.8" />
<line x1="192" y1="235.33" x2="195.4" y2="235.33" stroke="#2a2a2a" stroke-width="0.8" />
<line x1="192" y1="231.02" x2="195.4" y2="231.02" stroke="#2a2a2a" stroke-width="0.8" />
<line x1="192" y1="226.71" x2="195.4" y2="226.71" stroke="#2a2a2a" stroke-width="0.8" />
<line x1="189.5" y1="222.4" x2="195.4" y2="222.4" stroke="#2a2a2a" stroke-width="0.8" />
<line x1="192" y1="218.09" x2="195.4" y2="218.09" stroke="#2a2a2a" stroke-width="0.8" />
<line x1="192" y1="213.78" x2="195.4" y2="213.78" stroke="#2a2a2a" stroke-width="0.8" />
<line x1="192" y1="209.47" x2="195.4" y2="209.47" stroke="#2a2a2a" stroke-width="0.8" />
<line x1="192" y1="205.16" x2="195.4" y2="205.16" stroke="#2a2a2a" stroke-width="0.8" />
<line x1="189.5" y1="200.85" x2="195.4" y2="200.85" stroke="#2a2a2a" stroke-width="0.8" />
<text x="189.4" y="290.57" font-size="6.29" fill="#3a3a3a" transform="rotate(-90 189.4 290.57)">50</text>
<text x="189.4" y="270.84" font-size="6.29" fill="#3a3a3a" transform="rotate(-90 189.4 270.84)">100</text>
<text x="189.4" y="249.29" font-size="6.29" fill="#3a3a3a" transform="rotate(-90 189.4 249.29)">150</text>
<text x="189.4" y="227.68" font-size="6.29" fill="#3a3a3a" transform="rotate(-90 189.4 227.68)">200</text>
<text x="189.4" y="206.13" font-size="6.29" fill="#3a3a3a" transform="rotate(-90 189.4 206.13)">250</text>
<line x1="195.4" y1="309.2" x2="321" y2="309.2" stroke="#2a2a2a" stroke-width="1" />
<line x1="197.16" y1="309.2" x2="197.16" y2="312.6" stroke="#2a2a2a" stroke-width="0.8" />
<line x1="201.19" y1="309.2" x2="201.19" y2="312.6" stroke="#2a2a2a" stroke-width="0.8" />
<line x1="204.31" y1="309.2" x2="204.31" y2="312.6" stroke="#2a2a2a" stroke-width="0.8" />
<line x1="206.86" y1="309.2" x2="206.86" y2="312.6" stroke="#2a2a2a" stroke-width="0.8" />
<line x1="209.01" y1="309.2" x2="209.01" y2="312.6" stroke="#2a2a2a" stroke-width="0.8" />
<line x1="210.88" y1="309.2" x2="210.88" y2="312.6" stroke="#2a2a2a" stroke-width="0.8" />
<line x1="212.53" y1="309.2" x2="212.53" y2="312.6" stroke="#2a2a2a" stroke-width="0.8" />
<line x1="214" y1="309.2" x2="214" y2="314.6" stroke="#2a2a2a" stroke-width="0.8" />
<line x1="223.69" y1="309.2" x2="223.69" y2="312.6" stroke="#2a2a2a" stroke-width="0.8" />
<line x1="229.36" y1="309.2" x2="229.36" y2="312.6" stroke="#2a2a2a" stroke-width="0.8" />
<line x1="233.39" y1="309.2" x2="233.39" y2="312.6" stroke="#2a2a2a" stroke-width="0.8" />
<line x1="236.51" y1="309.2" x2="236.51" y2="312.6" stroke="#2a2a2a" stroke-width="0.8" />
<line x1="239.06" y1="309.2" x2="239.06" y2="312.6" stroke="#2a2a2a" stroke-width="0.8" />
<line x1="241.21" y1="309.2" x2="241.21" y2="312.6" stroke="#2a2a2a" stroke-width="0.8" />
<line x1="243.08" y1="309.2" x2="243.08" y2="312.6" stroke="#2a2a2a" stroke-width="0.8" />
<line x1="244.73" y1="309.2" x2="244.73" y2="312.6" stroke="#2a2a2a" stroke-width="0.8" />
<line x1="246.2" y1="309.2" x2="246.2" y2="314.6" stroke="#2a2a2a" stroke-width="0.8" />
<line x1="255.89" y1="309.2" x2="255.89" y2="312.6" stroke="#2a2a2a" stroke-width="0.8" />
<line x1="261.56" y1="309.2" x2="261.56" y2="312.6" stroke="#2a2a2a" stroke-width="0.8" />
<line x1="265.59" y1="309.2" x2="265.59" y2="312.6" stroke="#2a2a2a" stroke-width="0.8" />
<line x1="268.71" y1="309.2" x2="268.71" y2="312.6" stroke="#2a2a2a" stroke-width="0.8" />
<line x1="271.26" y1="309.2" x2="271.26" y2="312.6" stroke="#2a2a2a" stroke-width="0.8" />
<line x1="273.41" y1="309.2" x2="273.41" y2="312.6" stroke="#2a2a2a" stroke-width="0.8" />
<line x1="275.28" y1="309.2" x2="275.28" y2="312.6" stroke="#2a2a2a" stroke-width="0.8" />
<line x1="276.93" y1="309.2" x2="276.93" y2="312.6" stroke="#2a2a2a" stroke-width="0.8" />
<line x1="278.4" y1="309.2" x2="278.4" y2="314.6" stroke="#2a2a2a" stroke-width="0.8" />
<line x1="288.09" y1="309.2" x2="288.09" y2="312.6" stroke="#2a2a2a" stroke-width="0.8" />
<line x1="293.76" y1="309.2" x2="293.76" y2="312.6" stroke="#2a2a2a" stroke-width="0.8" />
<line x1="297.79" y1="309.2" x2="297.79" y2="312.6" stroke="#2a2a2a" stroke-width="0.8" />
<line x1="300.91" y1="309.2" x2="300.91" y2="312.6" stroke="#2a2a2a" stroke-width="0.8" />
<line x1="303.46" y1="309.2" x2="303.46" y2="312.6" stroke="#2a2a2a" stroke-width="0.8" />
<line x1="305.61" y1="309.2" x2="305.61" y2="312.6" stroke="#2a2a2a" stroke-width="0.8" />
<line x1="307.48" y1="309.2" x2="307.48" y2="312.6" stroke="#2a2a2a" stroke-width="0.8" />
<line x1="309.13" y1="309.2" x2="309.13" y2="312.6" stroke="#2a2a2a" stroke-width="0.8" />
<line x1="310.6" y1="309.2" x2="310.6" y2="314.6" stroke="#2a2a2a" stroke-width="0.8" />
<line x1="320.29" y1="309.2" x2="320.29" y2="312.6" stroke="#2a2a2a" stroke-width="0.8" />
<text x="209.01" y="321.7" font-size="5.94" fill="#3a3a3a" textLength="9.79" lengthAdjust="spacingAndGlyphs">10<tspan style="font-size:0.9em" dy="-0.5em">2</tspan></text>
<text x="241.21" y="321.7" font-size="5.94" fill="#3a3a3a" textLength="9.79" lengthAdjust="spacingAndGlyphs">10<tspan style="font-size:0.9em" dy="-0.5em">3</tspan></text>
<text x="273.42" y="321.7" font-size="5.94" fill="#3a3a3a" textLength="9.66" lengthAdjust="spacingAndGlyphs">10<tspan style="font-size:0.9em" dy="-0.5em">4</tspan></text>
<text x="305.61" y="321.7" font-size="5.94" fill="#3a3a3a" textLength="9.79" lengthAdjust="spacingAndGlyphs">10<tspan style="font-size:0.9em" dy="-0.5em">5</tspan></text>
<rect x="217.5" y="254.1" width="75.9" height="55.1" fill="none" stroke="#3c3c3c" stroke-width="1" />
<text x="247" y="244.11" font-size="7.45" font-weight="bold" fill="#000" textLength="54.09" lengthAdjust="spacingAndGlyphs">P6 (VSEL ACE2<tspan style="font-size:0.7em" dy="-0.45em">+</tspan><tspan dy="0.315em">)</tspan></text>
<text x="245.46" y="331.6" font-size="8.71" font-weight="bold" fill="#000" textLength="31.79" lengthAdjust="spacingAndGlyphs">PE-ACE2</text>
<text x="181.8" y="264.89" font-size="8.14" font-weight="bold" fill="#000" textLength="22.61" lengthAdjust="spacingAndGlyphs" transform="rotate(-90 181.8 264.89)">SSC-H</text>
<text x="181.02" y="220.29" font-size="4.89" fill="#3a3a3a" textLength="25.42" lengthAdjust="spacingAndGlyphs" transform="rotate(-90 181.02 220.29)">(x 1,000)</text>
<rect x="3.6" y="335.9" width="160.9" height="154.4" fill="none" stroke="#262626" stroke-width="1.3" />
<path transform="translate(0 0.5)" stroke="#f00" fill="none" d="M88 370h1m-47 4h1m52 0h1m-14 1h1m-37 14h1m22 0h1m2 0h1m8 1h1m-48 3h1m19 0h1m42 1h1m-57 2h1m40 0h1m-17 1h1m-34 1h1m5 1h1m2 0h1m16 2h1m-28 1h1m2 0h1m1 0h1m5 0h1m-10 1h1m22 0h1m-20 1h1m15 0h1m1 0h1m32 0h1m10 0h1m-70 1h1m2 0h1m5 0h1m1 0h1m0 0h1m5 0h1m2 0h1m3 0h1m23 0h1m5 0h1m4 0h1m-54 1h1m2 0h1m0 0h1m1 0h1m2 0h1m1 0h1m26 0h1m0 0h1m14 0h1m0 0h1m0 0h1m-59 1h1m0 0h1m1 0h1m0 0h1m7 0h1m4 0h1m29 0h1m2 0h1m4 0h1m0 0h1m9 0h1m-68 1h1m1 0h1m1 0h1m2 0h1m0 0h1m1 0h1m0 0h1m2 0h1m7 0h1m22 0h1m0 0h1m2 0h1m1 0h1m1 0h1m0 0h1m1 0h1m2 0h1m2 0h1m-67 1h1m5 0h1m1 0h1m0 0h1m1 0h1m0 0h1m3 0h1m0 0h1m4 0h1m27 0h1m1 0h1m1 0h1m2 0h1m0 0h1m1 0h1m0 0h1m0 0h1m0 0h1m4 0h1m7 0h1m-78 1h1m1 0h1m3 0h1m0 0h1m1 0h1m0 0h1m0 0h1m0 0h1m3 0h1m0 0h1m2 0h1m0 0h1m1 0h1m0 0h1m19 0h1m7 0h1m5 0h1m1 0h1m1 0h1m0 0h1m6 0h1m-68 1h1m2 0h1m4 0h1m0 0h1m0 0h1m0 0h1m1 0h1m0 0h1m0 0h1m7 0h1m1 0h1m17 0h1m1 0h1m0 0h1m1 0h1m0 0h1m0 0h1m0 0h1m0 0h1m0 0h1m0 0h1m0 0h1m1 0h1m0 0h1m2 0h1m9 0h1m-73 1h1m1 0h1m0 0h1m0 0h1m1 0h1m0 0h1m4 0h1m3 0h1m0 0h1m0 0h1m0 0h1m0 0h1m0 0h1m0 0h1m3 0h1m0 0h1m11 0h1m3 0h1m2 0h1m0 0h1m2 0h1m0 0h1m0 0h1m1 0h1m0 0h1m1 0h1m0 0h1m1 0h1m1 0h1m2 0h1m0 0h1m2 0h1m-71 1h1m0 0h1m2 0h1m0 0h1m0 0h1m1 0h1m0 0h1m2 0h1m0 0h1m0 0h1m0 0h1m0 0h1m1 0h1m2 0h1m0 0h1m2 0h1m20 0h1m0 0h1m1 0h1m0 0h1m0 0h1m0 0h1m0 0h1m1 0h1m0 0h1m0 0h1m0 0h1m1 0h1m1 0h1m0 0h1m0 0h1m2 0h1m0 0h1m0 0h1m1 0h1m2 0h1m-76 1h1m0 0h1m0 0h1m0 0h1m0 0h1m0 0h1m1 0h1m1 0h1m2 0h1m1 0h1m0 0h1m0 0h1m1 0h1m0 0h1m0 0h1m0 0h1m1 0h1m0 0h1m0 0h1m4 0h1m2 0h1m8 0h1m3 0h1m0 0h1m2 0h1m0 0h1m0 0h1m0 0h1m0 0h1m0 0h1m0 0h1m0 0h1m0 0h1m1 0h1m0 0h1m0 0h1m0 0h1m0 0h1m1 0h1m0 0h1m0 0h1m0 0h1m-70 1h1m2 0h1m0 0h1m0 0h1m1 0h1m0 0h1m2 0h1m0 0h1m1 0h1m0 0h1m0 0h1m0 0h1m0 0h1m0 0h1m0 0h1m0 0h1m1 0h1m1 0h1m0 0h1m2 0h1m3 0h1m11 0h1m0 0h1m0 0h1m0 0h1m0 0h1m1 0h1m0 0h1m0 0h1m0 0h1m0 0h1m0 0h1m0 0h1m0 0h1m0 0h1m0 0h1m0 0h1m0 0h1m0 0h1m2 0h1m0 0h1m0 0h1m0 0h1m1 0h1m3 0h1m-75 1h1m1 0h1m0 0h1m2 0h1m0 0h1m0 0h1m0 0h1m3 0h1m1 0h1m0 0h1m0 0h1m0 0h1m1 0h1m2 0h1m4 0h1m5 0h1m10 0h1m0 0h1m0 0h1m0 0h1m0 0h1m0 0h1m0 0h1m0 0h1m1 0h1m0 0h1m0 0h1m0 0h1m0 0h1m0 0h1m0 0h1m0 0h1m1 0h1m1 0h1m0 0h1m0 0h1m1 0h1m3 0h1m7 0h1m-81 1h1m0 0h1m0 0h1m1 0h1m0 0h1m0 0h1m0 0h1m0 0h1m0 0h1m0 0h1m0 0h1m0 0h1m0 0h1m0 0h1m0 0h1m0 0h1m0 0h1m0 0h1m0 0h1m1 0h1m2 0h1m6 0h1m8 0h1m0 0h1m0 0h1m1 0h1m0 0h1m2 0h1m0 0h1m0 0h1m0 0h1m0 0h1m0 0h1m0 0h1m0 0h1m0 0h1m0 0h1m0 0h1m0 0h1m0 0h1m0 0h1m0 0h1m0 0h1m0 0h1m0 0h1m0 0h1m0 0h1m0 0h1m2 0h1m-73 1h1m1 0h1m0 0h1m1 0h1m1 0h1m0 0h1m0 0h1m0 0h1m0 0h1m0 0h1m0 0h1m0 0h1m0 0h1m0 0h1m0 0h1m2 0h1m0 0h1m0 0h1m1 0h1m0 0h1m0 0h1m0 0h1m1 0h1m3 0h1m5 0h1m1 0h1m1 0h1m0 0h1m1 0h1m0 0h1m1 0h1m0 0h1m0 0h1m0 0h1m0 0h1m0 0h1m0 0h1m0 0h1m1 0h1m0 0h1m0 0h1m0 0h1m0 0h1m0 0h1m0 0h1m0 0h1m0 0h1m0 0h1m0 0h1m0 0h1m-70 1h1m0 0h1m0 0h1m1 0h1m2 0h1m0 0h1m0 0h1m0 0h1m0 0h1m0 0h1m0 0h1m0 0h1m1 0h1m0 0h1m0 0h1m0 0h1m0 0h1m0 0h1m2 0h1m0 0h1m0 0h1m2 0h1m10 0h1m2 0h1m0 0h1m1 0h1m2 0h1m0 0h1m0 0h1m0 0h1m0 0h1m0 0h1m0 0h1m0 0h1m0 0h1m1 0h1m0 0h1m0 0h1m1 0h1m0 0h1m0 0h1m0 0h1m0 0h1m0 0h1m1 0h1m-72 1h1m0 0h1m0 0h1m0 0h1m0 0h1m0 0h1m0 0h1m0 0h1m0 0h1m0 0h1m0 0h1m0 0h1m0 0h1m0 0h1m0 0h1m0 0h1m0 0h1m0 0h1m0 0h1m0 0h1m0 0h1m0 0h1m0 0h1m0 0h1m3 0h1m13 0h1m5 0h1m0 0h1m0 0h1m1 0h1m0 0h1m0 0h1m0 0h1m0 0h1m0 0h1m0 0h1m0 0h1m0 0h1m0 0h1m0 0h1m0 0h1m0 0h1m0 0h1m0 0h1m0 0h1m0 0h1m0 0h1m0 0h1m8 0h1m-76 1h1m0 0h1m0 0h1m0 0h1m0 0h1m1 0h1m1 0h1m0 0h1m0 0h1m0 0h1m0 0h1m0 0h1m0 0h1m0 0h1m0 0h1m0 0h1m1 0h1m2 0h1m0 0h1m15 0h1m1 0h1m0 0h1m1 0h1m0 0h1m0 0h1m0 0h1m0 0h1m0 0h1m0 0h1m0 0h1m0 0h1m0 0h1m0 0h1m0 0h1m0 0h1m0 0h1m0 0h1m0 0h1m0 0h1m0 0h1m0 0h1m0 0h1m0 0h1m0 0h1m0 0h1m4 0h1m-71 1h1m0 0h1m0 0h1m1 0h1m0 0h1m0 0h1m0 0h1m0 0h1m0 0h1m0 0h1m0 0h1m0 0h1m0 0h1m0 0h1m0 0h1m0 0h1m0 0h1m1 0h1m0 0h1m0 0h1m1 0h1m3 0h1m1 0h1m8 0h1m2 0h1m1 0h1m1 0h1m0 0h1m0 0h1m0 0h1m0 0h1m0 0h1m0 0h1m0 0h1m0 0h1m0 0h1m0 0h1m0 0h1m0 0h1m0 0h1m0 0h1m0 0h1m0 0h1m0 0h1m0 0h1m0 0h1m1 0h1m0 0h1m1 0h1m-74 1h1m1 0h1m1 0h1m1 0h1m0 0h1m0 0h1m1 0h1m0 0h1m1 0h1m0 0h1m0 0h1m1 0h1m0 0h1m0 0h1m0 0h1m0 0h1m0 0h1m0 0h1m0 0h1m5 0h1m10 0h1m5 0h1m0 0h1m1 0h1m0 0h1m0 0h1m0 0h1m0 0h1m0 0h1m0 0h1m0 0h1m0 0h1m0 0h1m0 0h1m0 0h1m0 0h1m1 0h1m1 0h1m0 0h1m2 0h1m0 0h1m4 0h1m-77 1h1m2 0h1m0 0h1m0 0h1m0 0h1m0 0h1m0 0h1m0 0h1m0 0h1m0 0h1m0 0h1m0 0h1m2 0h1m0 0h1m0 0h1m0 0h1m0 0h1m0 0h1m0 0h1m0 0h1m2 0h1m2 0h1m11 0h1m2 0h1m3 0h1m0 0h1m0 0h1m0 0h1m0 0h1m0 0h1m0 0h1m1 0h1m0 0h1m0 0h1m0 0h1m0 0h1m0 0h1m0 0h1m0 0h1m0 0h1m0 0h1m1 0h1m6 0h1m-75 1h1m0 0h1m1 0h1m0 0h1m0 0h1m0 0h1m0 0h1m0 0h1m0 0h1m0 0h1m0 0h1m0 0h1m1 0h1m0 0h1m0 0h1m0 0h1m0 0h1m0 0h1m0 0h1m0 0h1m2 0h1m3 0h1m4 0h1m7 0h1m9 0h1m0 0h1m0 0h1m0 0h1m0 0h1m0 0h1m0 0h1m0 0h1m0 0h1m0 0h1m0 0h1m0 0h1m1 0h1m0 0h1m2 0h1m1 0h1m3 0h1m-73 1h1m0 0h1m0 0h1m1 0h1m0 0h1m0 0h1m0 0h1m0 0h1m1 0h1m0 0h1m0 0h1m0 0h1m0 0h1m0 0h1m0 0h1m0 0h1m0 0h1m1 0h1m0 0h1m1 0h1m2 0h1m6 0h1m7 0h1m1 0h1m0 0h1m0 0h1m2 0h1m2 0h1m0 0h1m0 0h1m0 0h1m0 0h1m0 0h1m0 0h1m0 0h1m0 0h1m0 0h1m0 0h1m0 0h1m0 0h1m-66 1h1m1 0h1m1 0h1m1 0h1m0 0h1m0 0h1m0 0h1m0 0h1m0 0h1m1 0h1m0 0h1m0 0h1m0 0h1m0 0h1m0 0h1m0 0h1m0 0h1m0 0h1m0 0h1m0 0h1m0 0h1m5 0h1m0 0h1m14 0h1m0 0h1m0 0h1m1 0h1m0 0h1m0 0h1m2 0h1m0 0h1m0 0h1m0 0h1m0 0h1m0 0h1m0 0h1m0 0h1m0 0h1m0 0h1m0 0h1m1 0h1m4 0h1m17 0h1m-89 1h1m1 0h1m0 0h1m0 0h1m0 0h1m0 0h1m0 0h1m0 0h1m0 0h1m0 0h1m0 0h1m0 0h1m0 0h1m0 0h1m0 0h1m0 0h1m0 0h1m2 0h1m0 0h1m0 0h1m0 0h1m0 0h1m0 0h1m1 0h1m20 0h1m0 0h1m0 0h1m1 0h1m0 0h1m0 0h1m0 0h1m0 0h1m0 0h1m1 0h1m2 0h1m0 0h1m3 0h1m1 0h1m-71 1h1m0 0h1m0 0h1m2 0h1m0 0h1m0 0h1m0 0h1m0 0h1m0 0h1m0 0h1m0 0h1m0 0h1m0 0h1m0 0h1m0 0h1m0 0h1m0 0h1m0 0h1m0 0h1m0 0h1m0 0h1m0 0h1m0 0h1m0 0h1m4 0h1m12 0h1m0 0h1m4 0h1m0 0h1m0 0h1m0 0h1m2 0h1m0 0h1m1 0h1m2 0h1m6 0h1m-69 1h1m1 0h1m0 0h1m1 0h1m0 0h1m0 0h1m1 0h1m1 0h1m0 0h1m0 0h1m0 0h1m0 0h1m0 0h1m0 0h1m0 0h1m0 0h1m0 0h1m1 0h1m0 0h1m0 0h1m0 0h1m1 0h1m2 0h1m11 0h1m7 0h1m1 0h1m2 0h1m0 0h1m0 0h1m4 0h1m2 0h1m-67 1h1m0 0h1m0 0h1m0 0h1m0 0h1m2 0h1m0 0h1m0 0h1m0 0h1m0 0h1m0 0h1m0 0h1m1 0h1m0 0h1m0 0h1m0 0h1m0 0h1m0 0h1m2 0h1m0 0h1m0 0h1m0 0h1m2 0h1m2 0h1m4 0h1m3 0h1m4 0h1m1 0h1m11 0h1m5 0h1m0 0h1m-66 1h1m0 0h1m1 0h1m0 0h1m1 0h1m0 0h1m1 0h1m0 0h1m0 0h1m0 0h1m1 0h1m0 0h1m0 0h1m0 0h1m0 0h1m0 0h1m0 0h1m0 0h1m0 0h1m3 0h1m0 0h1m6 0h1m13 0h1m7 0h1m1 0h1m-61 1h1m1 0h1m0 0h1m0 0h1m0 0h1m0 0h1m1 0h1m0 0h1m0 0h1m0 0h1m0 0h1m0 0h1m0 0h1m0 0h1m0 0h1m0 0h1m0 0h1m0 0h1m0 0h1m0 0h1m1 0h1m0 0h1m0 0h1m0 0h1m26 0h1m-51 1h1m1 0h1m0 0h1m0 0h1m0 0h1m2 0h1m0 0h1m0 0h1m0 0h1m0 0h1m1 0h1m0 0h1m0 0h1m1 0h1m0 0h1m5 0h1m0 0h1m2 0h1m0 0h1m-33 1h1m0 0h1m0 0h1m1 0h1m1 0h1m0 0h1m0 0h1m0 0h1m0 0h1m0 0h1m0 0h1m0 0h1m1 0h1m0 0h1m0 0h1m0 0h1m0 0h1m1 0h1m0 0h1m0 0h1m2 0h1m1 0h1m1 0h1m-31 1h1m5 0h1m1 0h1m0 0h1m0 0h1m0 0h1m0 0h1m0 0h1m0 0h1m0 0h1m0 0h1m0 0h1m0 0h1m2 0h1m2 0h1m1 0h1m0 0h1m26 0h1m-54 1h1m0 0h1m0 0h1m0 0h1m0 0h1m3 0h1m0 0h1m0 0h1m3 0h1m0 0h1m0 0h1m0 0h1m0 0h1m0 0h1m0 0h1m7 0h1m37 0h1m-68 1h1m1 0h1m0 0h1m0 0h1m0 0h1m0 0h1m0 0h1m0 0h1m0 0h1m0 0h1m0 0h1m1 0h1m0 0h1m0 0h1m0 0h1m0 0h1m1 0h1m0 0h1m-21 1h1m0 0h1m2 0h1m0 0h1m0 0h1m0 0h1m1 0h1m1 0h1m1 0h1m0 0h1m1 0h1m0 0h1m0 0h1m0 0h1m2 0h1m0 0h1m1 0h1m0 0h1m33 0h1m-59 1h1m0 0h1m0 0h1m0 0h1m1 0h1m0 0h1m0 0h1m0 0h1m0 0h1m3 0h1m1 0h1m0 0h1m2 0h1m1 0h1m6 0h1m-29 1h1m2 0h1m0 0h1m0 0h1m2 0h1m0 0h1m2 0h1m1 0h1m0 0h1m2 0h1m0 0h1m0 0h1m3 0h1m0 0h1m6 0h1m-32 1h1m0 0h1m0 0h1m1 0h1m0 0h1m0 0h1m0 0h1m1 0h1m1 0h1m3 0h1m1 0h1m-20 1h1m3 0h1m1 0h1m0 0h1m1 0h1m3 0h1m1 0h1m2 0h1m1 0h1m1 0h1m-20 1h1m2 0h1m2 0h1m1 0h1m5 0h1m1 0h1m13 0h1m-35 1h1m4 0h1m0 0h1m3 0h1m0 0h1m0 0h1m3 0h1m1 0h1m1 0h1m2 0h1m3 0h1m-24 1h1m0 0h1m0 0h1m0 0h1m1 0h1m0 0h1m5 0h1m0 0h1m1 0h1m1 0h1m2 0h1m1 0h1m-16 1h1m1 0h1m0 0h1m0 0h1m1 0h1m3 0h1m-20 1h1m6 0h1m0 0h1m8 0h1m4 0h1m2 0h1m-17 1h1m1 0h1m1 0h1m3 0h1m1 0h1m2 0h1m2 0h1m-23 1h1m2 0h1m1 0h1m1 0h1m0 0h1m2 0h1m0 0h1m0 0h1m-17 1h1m2 0h1m5 0h1m0 0h1m1 0h1m0 0h1m37 0h1m-44 1h1m0 0h1m0 0h1m3 0h1m5 0h1m16 0h1m-37 1h1m2 0h1m3 0h1m0 0h1m1 0h1m2 0h1m-14 1h1m1 0h1m1 0h1m1 0h1m0 0h1m0 0h1m9 0h1m41 0h1m-47 1h1m-10 1h1m3 0h1m5 0h1m0 0h1m-19 1h1m7 0h1m2 0h1m4 0h1m0 0h1m-18 1h1m25 0h1m-19 1h1m12 0h1m-17 1h1m4 0h1m17 0h1m-28 1h1m0 0h1m1 1h1m77 0h1m-58 1h1m48 0h1m3 0h1"/>
<path transform="translate(0.5 0.5)" stroke="#f00" fill="none" d="M79 373h1m-8 6h1m-4 7h1m0 6h1m-27 1h1m61 1h1m-33 1h1m18 0h1m-52 1h1m-7 2h1m8 0h1m2 1h1m4 0h1m-10 1h1m8 0h1m-19 1h1m6 0h1m-8 1h1m6 0h1m28 0h1m-28 1h1m8 0h1m33 0h1m-50 1h1m1 0h1m0 0h1m5 0h1m5 0h1m1 0h1m5 0h1m1 0h1m-33 1h1m7 0h1m4 0h1m16 0h1m14 0h1m6 0h1m6 0h1m-59 1h1m8 0h1m3 0h1m3 0h1m7 0h1m24 0h1m0 0h1m1 0h1m6 0h1m0 0h1m3 0h1m5 0h1m-69 1h1m1 0h1m4 0h1m1 0h1m1 0h1m3 0h1m2 0h1m10 0h1m21 0h1m0 0h1m1 0h1m7 0h1m-64 1h1m1 0h1m6 0h1m0 0h1m0 0h1m1 0h1m0 0h1m12 0h1m16 0h1m3 0h1m9 0h1m0 0h1m0 0h1m5 0h1m-70 1h1m2 0h1m6 0h1m3 0h1m0 0h1m0 0h1m2 0h1m0 0h1m3 0h1m3 0h1m2 0h1m3 0h1m12 0h1m4 0h1m0 0h1m1 0h1m2 0h1m0 0h1m7 0h1m5 0h1m-75 1h1m0 0h1m3 0h1m0 0h1m0 0h1m2 0h1m7 0h1m1 0h1m2 0h1m0 0h1m2 0h1m1 0h1m16 0h1m2 0h1m0 0h1m0 0h1m0 0h1m1 0h1m1 0h1m2 0h1m0 0h1m0 0h1m0 0h1m-62 1h1m2 0h1m2 0h1m2 0h1m1 0h1m1 0h1m0 0h1m0 0h1m2 0h1m0 0h1m3 0h1m0 0h1m12 0h1m11 0h1m2 0h1m2 0h1m0 0h1m0 0h1m0 0h1m1 0h1m1 0h1m0 0h1m0 0h1m2 0h1m-67 1h1m2 0h1m1 0h1m0 0h1m1 0h1m1 0h1m0 0h1m2 0h1m3 0h1m0 0h1m2 0h1m2 0h1m3 0h1m16 0h1m0 0h1m1 0h1m0 0h1m0 0h1m0 0h1m1 0h1m0 0h1m0 0h1m0 0h1m0 0h1m0 0h1m0 0h1m0 0h1m0 0h1m2 0h1m-67 1h1m6 0h1m0 0h1m2 0h1m0 0h1m1 0h1m0 0h1m0 0h1m0 0h1m1 0h1m1 0h1m4 0h1m2 0h1m18 0h1m0 0h1m0 0h1m0 0h1m0 0h1m0 0h1m0 0h1m0 0h1m0 0h1m0 0h1m1 0h1m0 0h1m0 0h1m0 0h1m1 0h1m1 0h1m-68 1h1m0 0h1m1 0h1m2 0h1m1 0h1m0 0h1m0 0h1m1 0h1m0 0h1m0 0h1m3 0h1m1 0h1m1 0h1m2 0h1m2 0h1m4 0h1m5 0h1m6 0h1m2 0h1m2 0h1m1 0h1m0 0h1m0 0h1m0 0h1m0 0h1m0 0h1m0 0h1m0 0h1m1 0h1m1 0h1m0 0h1m4 0h1m0 0h1m-72 1h1m5 0h1m1 0h1m0 0h1m0 0h1m0 0h1m0 0h1m0 0h1m0 0h1m0 0h1m0 0h1m1 0h1m0 0h1m0 0h1m0 0h1m10 0h1m7 0h1m4 0h1m0 0h1m1 0h1m1 0h1m1 0h1m0 0h1m0 0h1m0 0h1m0 0h1m0 0h1m0 0h1m0 0h1m0 0h1m0 0h1m0 0h1m0 0h1m0 0h1m0 0h1m0 0h1m3 0h1m-72 1h1m1 0h1m1 0h1m1 0h1m1 0h1m0 0h1m0 0h1m1 0h1m0 0h1m0 0h1m0 0h1m0 0h1m0 0h1m0 0h1m0 0h1m0 0h1m0 0h1m0 0h1m0 0h1m4 0h1m6 0h1m0 0h1m6 0h1m2 0h1m0 0h1m0 0h1m1 0h1m0 0h1m0 0h1m0 0h1m0 0h1m0 0h1m0 0h1m0 0h1m0 0h1m0 0h1m0 0h1m0 0h1m0 0h1m0 0h1m0 0h1m1 0h1m0 0h1m-67 1h1m1 0h1m1 0h1m0 0h1m0 0h1m0 0h1m0 0h1m0 0h1m0 0h1m1 0h1m1 0h1m0 0h1m0 0h1m0 0h1m1 0h1m0 0h1m1 0h1m1 0h1m0 0h1m2 0h1m14 0h1m2 0h1m0 0h1m0 0h1m0 0h1m0 0h1m0 0h1m0 0h1m0 0h1m0 0h1m0 0h1m0 0h1m0 0h1m0 0h1m0 0h1m0 0h1m0 0h1m0 0h1m0 0h1m0 0h1m0 0h1m1 0h1m0 0h1m0 0h1m-70 1h1m1 0h1m0 0h1m3 0h1m0 0h1m0 0h1m1 0h1m0 0h1m1 0h1m0 0h1m0 0h1m0 0h1m0 0h1m0 0h1m0 0h1m0 0h1m3 0h1m0 0h1m0 0h1m8 0h1m8 0h1m0 0h1m0 0h1m0 0h1m0 0h1m0 0h1m0 0h1m0 0h1m0 0h1m0 0h1m0 0h1m0 0h1m0 0h1m0 0h1m0 0h1m0 0h1m0 0h1m0 0h1m0 0h1m0 0h1m0 0h1m0 0h1m0 0h1m1 0h1m-72 1h1m1 0h1m0 0h1m0 0h1m1 0h1m0 0h1m0 0h1m0 0h1m0 0h1m0 0h1m0 0h1m0 0h1m0 0h1m0 0h1m0 0h1m0 0h1m0 0h1m0 0h1m1 0h1m2 0h1m1 0h1m0 0h1m1 0h1m2 0h1m13 0h1m0 0h1m0 0h1m0 0h1m0 0h1m0 0h1m0 0h1m0 0h1m0 0h1m0 0h1m0 0h1m0 0h1m0 0h1m0 0h1m0 0h1m0 0h1m1 0h1m0 0h1m0 0h1m1 0h1m0 0h1m1 0h1m-70 1h1m0 0h1m0 0h1m1 0h1m1 0h1m0 0h1m0 0h1m0 0h1m0 0h1m0 0h1m0 0h1m0 0h1m0 0h1m0 0h1m0 0h1m0 0h1m0 0h1m0 0h1m0 0h1m3 0h1m5 0h1m10 0h1m5 0h1m0 0h1m0 0h1m0 0h1m0 0h1m0 0h1m0 0h1m0 0h1m0 0h1m0 0h1m0 0h1m0 0h1m0 0h1m0 0h1m0 0h1m0 0h1m0 0h1m0 0h1m0 0h1m1 0h1m0 0h1m3 0h1m0 0h1m-74 1h1m0 0h1m0 0h1m0 0h1m0 0h1m0 0h1m1 0h1m1 0h1m0 0h1m0 0h1m0 0h1m0 0h1m0 0h1m0 0h1m0 0h1m0 0h1m0 0h1m0 0h1m0 0h1m1 0h1m0 0h1m2 0h1m0 0h1m0 0h1m4 0h1m7 0h1m4 0h1m1 0h1m0 0h1m0 0h1m1 0h1m1 0h1m0 0h1m0 0h1m0 0h1m0 0h1m0 0h1m0 0h1m0 0h1m0 0h1m0 0h1m0 0h1m0 0h1m0 0h1m0 0h1m0 0h1m1 0h1m-69 1h1m0 0h1m0 0h1m0 0h1m0 0h1m0 0h1m0 0h1m0 0h1m0 0h1m0 0h1m0 0h1m0 0h1m0 0h1m0 0h1m0 0h1m0 0h1m0 0h1m1 0h1m0 0h1m0 0h1m2 0h1m9 0h1m6 0h1m1 0h1m1 0h1m2 0h1m0 0h1m1 0h1m0 0h1m0 0h1m0 0h1m0 0h1m0 0h1m0 0h1m0 0h1m0 0h1m0 0h1m0 0h1m0 0h1m1 0h1m2 0h1m0 0h1m2 0h1m-69 1h1m0 0h1m0 0h1m0 0h1m0 0h1m0 0h1m0 0h1m0 0h1m0 0h1m0 0h1m0 0h1m0 0h1m0 0h1m0 0h1m0 0h1m0 0h1m0 0h1m0 0h1m0 0h1m1 0h1m0 0h1m0 0h1m1 0h1m5 0h1m9 0h1m0 0h1m0 0h1m0 0h1m1 0h1m0 0h1m0 0h1m0 0h1m0 0h1m0 0h1m0 0h1m0 0h1m0 0h1m0 0h1m0 0h1m0 0h1m0 0h1m0 0h1m0 0h1m0 0h1m0 0h1m0 0h1m0 0h1m-65 1h1m0 0h1m0 0h1m0 0h1m0 0h1m0 0h1m1 0h1m0 0h1m0 0h1m1 0h1m0 0h1m1 0h1m0 0h1m0 0h1m0 0h1m0 0h1m0 0h1m0 0h1m0 0h1m2 0h1m0 0h1m1 0h1m12 0h1m3 0h1m0 0h1m0 0h1m0 0h1m1 0h1m0 0h1m0 0h1m0 0h1m0 0h1m0 0h1m0 0h1m1 0h1m0 0h1m0 0h1m1 0h1m0 0h1m0 0h1m0 0h1m-68 1h1m0 0h1m0 0h1m1 0h1m0 0h1m0 0h1m0 0h1m0 0h1m0 0h1m0 0h1m0 0h1m0 0h1m0 0h1m0 0h1m0 0h1m0 0h1m0 0h1m0 0h1m2 0h1m0 0h1m0 0h1m0 0h1m0 0h1m2 0h1m0 0h1m13 0h1m0 0h1m1 0h1m0 0h1m1 0h1m1 0h1m0 0h1m0 0h1m0 0h1m0 0h1m0 0h1m0 0h1m0 0h1m0 0h1m0 0h1m1 0h1m0 0h1m0 0h1m1 0h1m4 0h1m-72 1h1m2 0h1m0 0h1m0 0h1m0 0h1m0 0h1m0 0h1m0 0h1m0 0h1m1 0h1m0 0h1m0 0h1m0 0h1m0 0h1m0 0h1m0 0h1m0 0h1m0 0h1m0 0h1m0 0h1m0 0h1m1 0h1m1 0h1m18 0h1m1 0h1m1 0h1m0 0h1m0 0h1m1 0h1m0 0h1m0 0h1m0 0h1m0 0h1m0 0h1m1 0h1m0 0h1m0 0h1m1 0h1m0 0h1m3 0h1m-71 1h1m1 0h1m0 0h1m0 0h1m0 0h1m0 0h1m0 0h1m0 0h1m0 0h1m0 0h1m0 0h1m0 0h1m0 0h1m0 0h1m0 0h1m0 0h1m1 0h1m0 0h1m0 0h1m0 0h1m0 0h1m0 0h1m1 0h1m1 0h1m3 0h1m0 0h1m4 0h1m9 0h1m0 0h1m0 0h1m0 0h1m1 0h1m1 0h1m0 0h1m1 0h1m0 0h1m1 0h1m0 0h1m1 0h1m0 0h1m1 0h1m0 0h1m11 0h1m-80 1h1m0 0h1m0 0h1m1 0h1m0 0h1m0 0h1m1 0h1m1 0h1m0 0h1m1 0h1m0 0h1m0 0h1m0 0h1m0 0h1m0 0h1m0 0h1m0 0h1m0 0h1m0 0h1m1 0h1m0 0h1m20 0h1m1 0h1m0 0h1m0 0h1m2 0h1m0 0h1m0 0h1m0 0h1m0 0h1m2 0h1m0 0h1m0 0h1m-62 1h1m1 0h1m0 0h1m0 0h1m0 0h1m0 0h1m0 0h1m0 0h1m1 0h1m0 0h1m0 0h1m0 0h1m0 0h1m1 0h1m0 0h1m0 0h1m0 0h1m0 0h1m0 0h1m1 0h1m6 0h1m0 0h1m5 0h1m0 0h1m2 0h1m1 0h1m1 0h1m0 0h1m2 0h1m0 0h1m2 0h1m0 0h1m1 0h1m0 0h1m0 0h1m0 0h1m0 0h1m3 0h1m2 0h1m-70 1h1m1 0h1m0 0h1m0 0h1m1 0h1m0 0h1m0 0h1m0 0h1m0 0h1m0 0h1m0 0h1m1 0h1m0 0h1m0 0h1m1 0h1m0 0h1m0 0h1m0 0h1m0 0h1m0 0h1m0 0h1m0 0h1m1 0h1m0 0h1m5 0h1m0 0h1m3 0h1m9 0h1m0 0h1m1 0h1m1 0h1m1 0h1m2 0h1m2 0h1m3 0h1m1 0h1m-66 1h1m0 0h1m0 0h1m0 0h1m0 0h1m0 0h1m0 0h1m0 0h1m1 0h1m0 0h1m0 0h1m0 0h1m0 0h1m0 0h1m0 0h1m0 0h1m0 0h1m0 0h1m0 0h1m0 0h1m2 0h1m0 0h1m2 0h1m3 0h1m18 0h1m0 0h1m0 0h1m1 0h1m-54 1h1m0 0h1m0 0h1m0 0h1m1 0h1m0 0h1m0 0h1m0 0h1m0 0h1m1 0h1m0 0h1m0 0h1m0 0h1m0 0h1m0 0h1m0 0h1m0 0h1m2 0h1m0 0h1m1 0h1m0 0h1m12 0h1m6 0h1m3 0h1m2 0h1m0 0h1m8 0h1m-67 1h1m0 0h1m0 0h1m1 0h1m0 0h1m0 0h1m1 0h1m0 0h1m0 0h1m0 0h1m0 0h1m0 0h1m0 0h1m0 0h1m0 0h1m0 0h1m0 0h1m0 0h1m0 0h1m0 0h1m0 0h1m0 0h1m1 0h1m3 0h1m0 0h1m29 0h1m-60 1h1m0 0h1m0 0h1m0 0h1m3 0h1m0 0h1m1 0h1m0 0h1m3 0h1m0 0h1m0 0h1m0 0h1m0 0h1m0 0h1m1 0h1m2 0h1m1 0h1m16 0h1m6 0h1m1 0h1m1 0h1m3 0h1m-59 1h1m0 0h1m1 0h1m0 0h1m0 0h1m1 0h1m0 0h1m0 0h1m0 0h1m0 0h1m0 0h1m0 0h1m0 0h1m0 0h1m0 0h1m0 0h1m0 0h1m0 0h1m1 0h1m0 0h1m0 0h1m0 0h1m-24 1h1m0 0h1m1 0h1m0 0h1m0 0h1m0 0h1m0 0h1m0 0h1m0 0h1m0 0h1m1 0h1m0 0h1m1 0h1m0 0h1m0 0h1m1 0h1m1 0h1m3 0h1m23 0h1m-53 1h1m1 0h1m4 0h1m1 0h1m0 0h1m0 0h1m1 0h1m1 0h1m0 0h1m1 0h1m0 0h1m1 0h1m0 0h1m3 0h1m1 0h1m-25 1h1m1 0h1m0 0h1m2 0h1m1 0h1m1 0h1m0 0h1m0 0h1m0 0h1m0 0h1m1 0h1m0 0h1m-16 1h1m2 0h1m1 0h1m2 0h1m0 0h1m1 0h1m2 0h1m0 0h1m14 0h1m-35 1h1m0 0h1m1 0h1m0 0h1m0 0h1m1 0h1m0 0h1m0 0h1m2 0h1m0 0h1m0 0h1m2 0h1m0 0h1m1 0h1m4 0h1m0 0h1m-27 1h1m3 0h1m0 0h1m0 0h1m0 0h1m2 0h1m1 0h1m2 0h1m0 0h1m0 0h1m7 0h1m-25 1h1m2 0h1m1 0h1m1 0h1m5 0h1m2 0h1m7 0h1m-28 1h1m1 0h1m3 0h1m1 0h1m1 0h1m2 0h1m2 0h1m3 0h1m4 0h1m10 0h1m26 0h1m-56 1h1m1 0h1m2 0h1m3 0h1m11 0h1m16 0h1m-47 1h1m0 0h1m1 0h1m1 0h1m2 0h1m2 0h1m8 0h1m0 0h1m0 0h1m12 0h1m21 0h1m-50 1h1m0 0h1m0 0h1m0 0h1m1 0h1m1 0h1m5 0h1m0 0h1m1 0h1m23 0h1m-46 1h1m4 0h1m1 0h1m1 0h1m0 0h1m3 0h1m6 0h1m1 0h1m48 0h1m-74 1h1m5 0h1m1 0h1m8 0h1m2 0h1m1 0h1m-21 1h1m2 0h1m1 0h1m0 0h1m0 0h1m2 0h1m3 0h1m0 0h1m1 0h1m4 0h1m24 0h1m-45 1h1m2 0h1m5 0h1m0 0h1m3 0h1m-20 1h1m4 0h1m1 0h1m0 0h1m7 0h1m4 0h1m5 0h1m-27 1h1m7 0h1m4 0h1m3 0h1m3 0h1m45 0h1m-60 1h1m5 0h1m-11 1h1m2 0h1m8 0h1m-20 1h1m10 0h1m1 0h1m0 0h1m7 0h1m-21 1h1m1 0h1m2 0h1m3 0h1m3 0h1m-12 1h1m20 0h1m-14 1h1m4 0h1m2 0h1m26 0h1m-30 2h1m-8 1h1m15 0h1m43 1h1m3 0h1m3 0h1m14 0h1m-94 1h1m13 0h1m48 0h1m0 0h1m4 0h1"/>
<path transform="translate(0 1)" stroke="#f00" fill="none" d="M88 370h1m-37 4h1m-7 7h1m27 1h1m-10 1h1m-3 1h1m8 3h1m7 1h1m-21 1h1m-29 1h1m13 1h1m52 4h1m-49 2h1m3 0h1m-4 1h1m14 0h1m-16 1h1m-21 1h1m12 0h1m-2 1h1m58 0h1m-58 1h1m17 0h1m5 0h1m12 0h1m6 0h1m-56 1h1m31 0h1m9 0h1m-39 1h1m2 0h1m-10 1h1m14 0h1m18 0h1m22 0h1m-57 1h1m9 0h1m0 0h1m4 0h1m10 0h1m11 0h1m6 0h1m0 0h1m4 0h1m-56 1h1m7 0h1m1 0h1m0 0h1m2 0h1m0 0h1m2 0h1m5 0h1m18 0h1m5 0h1m5 0h1m5 0h1m-63 1h1m1 0h1m0 0h1m5 0h1m0 0h1m3 0h1m4 0h1m0 0h1m31 0h1m3 0h1m5 0h1m16 0h1m-79 1h1m1 0h1m1 0h1m1 0h1m0 0h1m11 0h1m3 0h1m1 0h1m26 0h1m0 0h1m0 0h1m1 0h1m1 0h1m0 0h1m0 0h1m0 0h1m4 0h1m0 0h1m-68 1h1m0 0h1m2 0h1m3 0h1m1 0h1m2 0h1m0 0h1m0 0h1m0 0h1m2 0h1m27 0h1m0 0h1m5 0h1m3 0h1m0 0h1m0 0h1m3 0h1m5 0h1m4 0h1m5 0h1m-81 1h1m1 0h1m1 0h1m2 0h1m2 0h1m3 0h1m3 0h1m21 0h1m7 0h1m0 0h1m2 0h1m0 0h1m1 0h1m0 0h1m2 0h1m2 0h1m0 0h1m1 0h1m3 0h1m-72 1h1m4 0h1m0 0h1m0 0h1m1 0h1m0 0h1m1 0h1m1 0h1m0 0h1m1 0h1m0 0h1m3 0h1m2 0h1m1 0h1m9 0h1m2 0h1m5 0h1m1 0h1m0 0h1m4 0h1m0 0h1m0 0h1m0 0h1m0 0h1m0 0h1m1 0h1m0 0h1m0 0h1m0 0h1m0 0h1m0 0h1m-67 1h1m2 0h1m1 0h1m0 0h1m2 0h1m0 0h1m0 0h1m1 0h1m0 0h1m0 0h1m2 0h1m1 0h1m0 0h1m0 0h1m1 0h1m4 0h1m7 0h1m5 0h1m1 0h1m1 0h1m3 0h1m1 0h1m0 0h1m0 0h1m0 0h1m0 0h1m0 0h1m0 0h1m0 0h1m0 0h1m0 0h1m0 0h1m0 0h1m0 0h1m1 0h1m2 0h1m-70 1h1m3 0h1m0 0h1m0 0h1m0 0h1m0 0h1m0 0h1m0 0h1m0 0h1m1 0h1m1 0h1m1 0h1m0 0h1m0 0h1m1 0h1m0 0h1m0 0h1m2 0h1m15 0h1m2 0h1m0 0h1m1 0h1m1 0h1m0 0h1m0 0h1m0 0h1m0 0h1m0 0h1m1 0h1m0 0h1m0 0h1m2 0h1m0 0h1m1 0h1m0 0h1m1 0h1m1 0h1m0 0h1m0 0h1m-74 1h1m1 0h1m2 0h1m3 0h1m0 0h1m0 0h1m0 0h1m2 0h1m0 0h1m0 0h1m2 0h1m0 0h1m0 0h1m0 0h1m1 0h1m0 0h1m0 0h1m2 0h1m15 0h1m1 0h1m0 0h1m0 0h1m0 0h1m0 0h1m0 0h1m1 0h1m0 0h1m0 0h1m0 0h1m0 0h1m0 0h1m0 0h1m0 0h1m0 0h1m4 0h1m0 0h1m0 0h1m4 0h1m-73 1h1m0 0h1m0 0h1m0 0h1m0 0h1m1 0h1m0 0h1m0 0h1m0 0h1m1 0h1m0 0h1m0 0h1m0 0h1m0 0h1m0 0h1m0 0h1m0 0h1m1 0h1m0 0h1m0 0h1m2 0h1m10 0h1m4 0h1m0 0h1m1 0h1m1 0h1m2 0h1m0 0h1m0 0h1m0 0h1m0 0h1m0 0h1m0 0h1m0 0h1m0 0h1m0 0h1m0 0h1m0 0h1m0 0h1m0 0h1m1 0h1m0 0h1m4 0h1m3 0h1m-76 1h1m0 0h1m0 0h1m0 0h1m0 0h1m1 0h1m0 0h1m0 0h1m0 0h1m0 0h1m0 0h1m0 0h1m0 0h1m0 0h1m2 0h1m2 0h1m0 0h1m0 0h1m1 0h1m2 0h1m2 0h1m10 0h1m4 0h1m0 0h1m0 0h1m0 0h1m0 0h1m0 0h1m0 0h1m0 0h1m0 0h1m0 0h1m0 0h1m0 0h1m0 0h1m0 0h1m1 0h1m0 0h1m0 0h1m0 0h1m0 0h1m1 0h1m0 0h1m0 0h1m1 0h1m-73 1h1m0 0h1m1 0h1m1 0h1m0 0h1m0 0h1m1 0h1m0 0h1m0 0h1m0 0h1m1 0h1m0 0h1m0 0h1m0 0h1m0 0h1m0 0h1m1 0h1m1 0h1m21 0h1m0 0h1m1 0h1m1 0h1m0 0h1m0 0h1m0 0h1m0 0h1m0 0h1m0 0h1m0 0h1m0 0h1m0 0h1m0 0h1m0 0h1m0 0h1m0 0h1m0 0h1m0 0h1m0 0h1m0 0h1m0 0h1m2 0h1m0 0h1m2 0h1m-75 1h1m0 0h1m2 0h1m0 0h1m0 0h1m0 0h1m0 0h1m1 0h1m1 0h1m0 0h1m0 0h1m0 0h1m0 0h1m0 0h1m0 0h1m1 0h1m1 0h1m1 0h1m0 0h1m0 0h1m11 0h1m0 0h1m1 0h1m1 0h1m0 0h1m0 0h1m0 0h1m0 0h1m0 0h1m0 0h1m0 0h1m0 0h1m0 0h1m0 0h1m0 0h1m0 0h1m0 0h1m0 0h1m0 0h1m0 0h1m0 0h1m0 0h1m0 0h1m0 0h1m0 0h1m0 0h1m1 0h1m1 0h1m-69 1h1m1 0h1m1 0h1m0 0h1m0 0h1m0 0h1m0 0h1m0 0h1m0 0h1m0 0h1m0 0h1m0 0h1m0 0h1m0 0h1m0 0h1m0 0h1m0 0h1m0 0h1m1 0h1m0 0h1m1 0h1m3 0h1m2 0h1m10 0h1m0 0h1m1 0h1m0 0h1m0 0h1m0 0h1m0 0h1m0 0h1m0 0h1m0 0h1m0 0h1m0 0h1m0 0h1m0 0h1m0 0h1m0 0h1m0 0h1m0 0h1m0 0h1m1 0h1m0 0h1m1 0h1m0 0h1m1 0h1m-72 1h1m1 0h1m0 0h1m0 0h1m0 0h1m0 0h1m0 0h1m0 0h1m0 0h1m0 0h1m0 0h1m0 0h1m0 0h1m1 0h1m1 0h1m0 0h1m0 0h1m0 0h1m3 0h1m0 0h1m0 0h1m0 0h1m14 0h1m1 0h1m0 0h1m0 0h1m0 0h1m0 0h1m0 0h1m0 0h1m0 0h1m0 0h1m0 0h1m0 0h1m0 0h1m1 0h1m0 0h1m0 0h1m0 0h1m0 0h1m1 0h1m0 0h1m0 0h1m0 0h1m3 0h1m6 0h1m-78 1h1m0 0h1m0 0h1m0 0h1m1 0h1m0 0h1m0 0h1m0 0h1m0 0h1m0 0h1m1 0h1m0 0h1m0 0h1m0 0h1m0 0h1m0 0h1m0 0h1m0 0h1m0 0h1m1 0h1m0 0h1m0 0h1m0 0h1m1 0h1m0 0h1m13 0h1m1 0h1m0 0h1m1 0h1m1 0h1m0 0h1m0 0h1m0 0h1m0 0h1m0 0h1m0 0h1m0 0h1m1 0h1m0 0h1m0 0h1m0 0h1m0 0h1m0 0h1m0 0h1m0 0h1m0 0h1m1 0h1m0 0h1m0 0h1m0 0h1m-73 1h1m0 0h1m2 0h1m0 0h1m0 0h1m0 0h1m0 0h1m0 0h1m0 0h1m0 0h1m0 0h1m0 0h1m0 0h1m0 0h1m0 0h1m0 0h1m0 0h1m0 0h1m1 0h1m0 0h1m0 0h1m0 0h1m0 0h1m16 0h1m2 0h1m1 0h1m1 0h1m0 0h1m0 0h1m0 0h1m0 0h1m0 0h1m0 0h1m0 0h1m0 0h1m0 0h1m0 0h1m0 0h1m0 0h1m0 0h1m0 0h1m0 0h1m0 0h1m0 0h1m0 0h1m0 0h1m0 0h1m0 0h1m1 0h1m1 0h1m-71 1h1m0 0h1m1 0h1m0 0h1m0 0h1m0 0h1m0 0h1m0 0h1m0 0h1m0 0h1m0 0h1m0 0h1m0 0h1m0 0h1m0 0h1m1 0h1m0 0h1m1 0h1m0 0h1m0 0h1m0 0h1m2 0h1m12 0h1m2 0h1m0 0h1m0 0h1m0 0h1m1 0h1m0 0h1m0 0h1m0 0h1m0 0h1m0 0h1m0 0h1m0 0h1m0 0h1m0 0h1m0 0h1m0 0h1m0 0h1m0 0h1m1 0h1m2 0h1m1 0h1m5 0h1m-78 1h1m0 0h1m0 0h1m0 0h1m1 0h1m0 0h1m0 0h1m0 0h1m0 0h1m0 0h1m0 0h1m0 0h1m0 0h1m0 0h1m0 0h1m0 0h1m2 0h1m1 0h1m0 0h1m0 0h1m0 0h1m0 0h1m0 0h1m1 0h1m0 0h1m0 0h1m13 0h1m0 0h1m2 0h1m1 0h1m0 0h1m0 0h1m0 0h1m0 0h1m1 0h1m0 0h1m0 0h1m0 0h1m0 0h1m0 0h1m0 0h1m0 0h1m0 0h1m0 0h1m0 0h1m0 0h1m0 0h1m0 0h1m0 0h1m-69 1h1m0 0h1m2 0h1m1 0h1m0 0h1m0 0h1m0 0h1m0 0h1m0 0h1m1 0h1m0 0h1m0 0h1m0 0h1m2 0h1m0 0h1m0 0h1m1 0h1m1 0h1m1 0h1m7 0h1m3 0h1m0 0h1m2 0h1m0 0h1m1 0h1m1 0h1m0 0h1m0 0h1m2 0h1m0 0h1m0 0h1m0 0h1m0 0h1m0 0h1m1 0h1m1 0h1m1 0h1m2 0h1m1 0h1m-72 1h1m0 0h1m0 0h1m0 0h1m0 0h1m1 0h1m0 0h1m0 0h1m0 0h1m0 0h1m0 0h1m0 0h1m0 0h1m0 0h1m0 0h1m0 0h1m0 0h1m0 0h1m0 0h1m0 0h1m0 0h1m1 0h1m0 0h1m0 0h1m5 0h1m1 0h1m1 0h1m8 0h1m0 0h1m1 0h1m2 0h1m1 0h1m0 0h1m0 0h1m0 0h1m0 0h1m1 0h1m0 0h1m0 0h1m2 0h1m0 0h1m0 0h1m0 0h1m-64 1h1m0 0h1m0 0h1m1 0h1m1 0h1m0 0h1m0 0h1m0 0h1m0 0h1m0 0h1m0 0h1m0 0h1m0 0h1m0 0h1m0 0h1m0 0h1m0 0h1m1 0h1m2 0h1m1 0h1m0 0h1m3 0h1m3 0h1m11 0h1m0 0h1m0 0h1m1 0h1m0 0h1m0 0h1m1 0h1m0 0h1m0 0h1m1 0h1m1 0h1m1 0h1m4 0h1m-71 1h1m3 0h1m0 0h1m0 0h1m1 0h1m1 0h1m0 0h1m0 0h1m0 0h1m0 0h1m0 0h1m1 0h1m0 0h1m0 0h1m0 0h1m0 0h1m1 0h1m0 0h1m1 0h1m0 0h1m0 0h1m3 0h1m8 0h1m6 0h1m1 0h1m1 0h1m1 0h1m0 0h1m0 0h1m0 0h1m3 0h1m0 0h1m0 0h1m1 0h1m1 0h1m4 0h1m-71 1h1m1 0h1m0 0h1m1 0h1m0 0h1m0 0h1m0 0h1m1 0h1m0 0h1m1 0h1m0 0h1m0 0h1m0 0h1m0 0h1m0 0h1m1 0h1m2 0h1m0 0h1m1 0h1m13 0h1m14 0h1m0 0h1m1 0h1m0 0h1m0 0h1m1 0h1m0 0h1m0 0h1m-67 1h1m1 0h1m2 0h1m0 0h1m1 0h1m1 0h1m0 0h1m0 0h1m0 0h1m0 0h1m0 0h1m0 0h1m0 0h1m0 0h1m0 0h1m1 0h1m1 0h1m3 0h1m0 0h1m0 0h1m6 0h1m13 0h1m0 0h1m0 0h1m0 0h1m3 0h1m0 0h1m0 0h1m0 0h1m6 0h1m3 0h1m-72 1h1m3 0h1m0 0h1m0 0h1m0 0h1m0 0h1m0 0h1m0 0h1m0 0h1m1 0h1m1 0h1m0 0h1m0 0h1m0 0h1m0 0h1m0 0h1m0 0h1m0 0h1m1 0h1m0 0h1m5 0h1m22 0h1m1 0h1m2 0h1m5 0h1m5 0h1m-72 1h1m3 0h1m1 0h1m0 0h1m0 0h1m0 0h1m0 0h1m0 0h1m0 0h1m0 0h1m0 0h1m1 0h1m0 0h1m1 0h1m0 0h1m0 0h1m1 0h1m0 0h1m0 0h1m22 0h1m2 0h1m3 0h1m6 0h1m0 0h1m-63 1h1m5 0h1m2 0h1m0 0h1m0 0h1m0 0h1m0 0h1m2 0h1m1 0h1m0 0h1m0 0h1m0 0h1m1 0h1m0 0h1m0 0h1m2 0h1m10 0h1m14 0h1m10 0h1m-66 1h1m0 0h1m1 0h1m1 0h1m0 0h1m1 0h1m0 0h1m0 0h1m1 0h1m0 0h1m0 0h1m0 0h1m0 0h1m0 0h1m0 0h1m0 0h1m0 0h1m0 0h1m3 0h1m0 0h1m0 0h1m-29 1h1m1 0h1m0 0h1m2 0h1m0 0h1m0 0h1m0 0h1m0 0h1m0 0h1m0 0h1m0 0h1m1 0h1m2 0h1m1 0h1m1 0h1m0 0h1m1 0h1m2 0h1m-24 1h1m2 0h1m0 0h1m0 0h1m0 0h1m1 0h1m0 0h1m0 0h1m1 0h1m0 0h1m0 0h1m2 0h1m3 0h1m0 0h1m28 0h1m21 0h1m-77 1h1m0 0h1m4 0h1m0 0h1m0 0h1m1 0h1m0 0h1m0 0h1m0 0h1m1 0h1m0 0h1m0 0h1m3 0h1m1 0h1m0 0h1m-25 1h1m1 0h1m0 0h1m0 0h1m0 0h1m0 0h1m3 0h1m0 0h1m0 0h1m0 0h1m0 0h1m1 0h1m0 0h1m2 0h1m0 0h1m6 0h1m39 0h1m-71 1h1m3 0h1m1 0h1m5 0h1m1 0h1m1 0h1m0 0h1m0 0h1m0 0h1m1 0h1m3 0h1m23 0h1m-49 1h1m2 0h1m0 0h1m1 0h1m0 0h1m0 0h1m0 0h1m0 0h1m0 0h1m0 0h1m0 0h1m0 0h1m0 0h1m1 0h1m4 0h1m0 0h1m0 0h1m-20 1h1m1 0h1m1 0h1m0 0h1m1 0h1m0 0h1m0 0h1m0 0h1m6 0h1m1 0h1m9 0h1m26 0h1m-57 1h1m0 0h1m1 0h1m0 0h1m2 0h1m1 0h1m2 0h1m1 0h1m1 0h1m1 0h1m1 0h1m-23 1h1m3 0h1m0 0h1m2 0h1m2 0h1m0 0h1m0 0h1m0 0h1m0 0h1m0 0h1m1 0h1m2 0h1m-21 1h1m6 0h1m3 0h1m0 0h1m0 0h1m0 0h1m0 0h1m2 0h1m3 0h1m-23 1h1m8 0h1m1 0h1m6 0h1m2 0h1m0 0h1m1 0h1m42 0h1m-65 1h1m4 0h1m0 0h1m1 0h1m6 0h1m-21 1h1m6 0h1m0 0h1m0 0h1m0 0h1m0 0h1m4 0h1m19 0h1m-37 1h1m0 0h1m3 0h1m3 0h1m1 0h1m-14 1h1m13 0h1m0 0h1m-14 1h1m3 0h1m6 0h1m4 0h1m4 0h1m-16 1h1m0 0h1m0 0h1m1 0h1m0 0h1m7 0h1m-19 1h1m2 0h1m3 0h1m0 0h1m7 0h1m-13 1h1m1 0h1m2 0h1m0 0h1m2 0h1m-10 1h1m0 0h1m0 1h1m0 0h1m-2 1h1m2 0h1m2 0h1m1 0h1m0 0h1m36 0h1m-47 1h1m13 0h1m2 0h1m-19 1h1m2 0h1m1 0h1m-10 1h1m-2 1h1m0 0h1m10 0h1m3 0h1m46 1h1m6 0h1m1 0h1m9 0h1m4 0h1m-20 1h1m15 0h1"/>
<path transform="translate(0.5 1)" stroke="#f00" fill="none" d="M65 363h1m25 6h1m-60 1h1m25 4h1m22 2h1m-1 1h1m6 1h1m5 4h1m-55 6h1m-2 2h1m68 0h1m-59 1h1m-20 1h1m0 0h1m48 1h1m5 0h1m-54 1h1m6 2h1m9 0h1m-9 1h1m-10 1h1m7 0h1m1 0h1m-8 1h1m23 0h1m45 1h1m-64 2h1m7 0h1m2 0h1m1 0h1m-16 1h1m3 0h1m4 0h1m-10 1h1m4 0h1m12 0h1m-25 1h1m2 0h1m7 0h1m0 0h1m4 0h1m28 0h1m3 0h1m0 0h1m-50 1h1m4 0h1m2 0h1m13 0h1m18 0h1m0 0h1m1 0h1m0 0h1m1 0h1m10 0h1m2 0h1m-60 1h1m0 0h1m0 0h1m0 0h1m1 0h1m0 0h1m3 0h1m11 0h1m19 0h1m5 0h1m10 0h1m-64 1h1m2 0h1m1 0h1m3 0h1m2 0h1m2 0h1m5 0h1m0 0h1m25 0h1m2 0h1m0 0h1m4 0h1m3 0h1m0 0h1m-65 1h1m6 0h1m1 0h1m2 0h1m5 0h1m25 0h1m7 0h1m0 0h1m0 0h1m0 0h1m1 0h1m2 0h1m4 0h1m-67 1h1m2 0h1m4 0h1m2 0h1m1 0h1m0 0h1m2 0h1m0 0h1m1 0h1m2 0h1m23 0h1m0 0h1m4 0h1m1 0h1m0 0h1m0 0h1m0 0h1m3 0h1m0 0h1m1 0h1m3 0h1m-70 1h1m0 0h1m0 0h1m0 0h1m1 0h1m1 0h1m3 0h1m0 0h1m0 0h1m0 0h1m3 0h1m0 0h1m15 0h1m5 0h1m8 0h1m0 0h1m2 0h1m0 0h1m1 0h1m1 0h1m4 0h1m0 0h1m-64 1h1m0 0h1m0 0h1m2 0h1m3 0h1m0 0h1m1 0h1m0 0h1m0 0h1m0 0h1m2 0h1m1 0h1m3 0h1m14 0h1m4 0h1m0 0h1m0 0h1m0 0h1m0 0h1m1 0h1m0 0h1m1 0h1m1 0h1m0 0h1m0 0h1m1 0h1m0 0h1m0 0h1m0 0h1m0 0h1m1 0h1m0 0h1m3 0h1m-76 1h1m2 0h1m2 0h1m3 0h1m1 0h1m0 0h1m1 0h1m0 0h1m0 0h1m0 0h1m2 0h1m1 0h1m16 0h1m7 0h1m0 0h1m0 0h1m1 0h1m1 0h1m0 0h1m0 0h1m0 0h1m0 0h1m1 0h1m0 0h1m0 0h1m2 0h1m1 0h1m0 0h1m1 0h1m0 0h1m-69 1h1m3 0h1m0 0h1m2 0h1m0 0h1m1 0h1m0 0h1m1 0h1m1 0h1m1 0h1m1 0h1m1 0h1m1 0h1m18 0h1m0 0h1m0 0h1m0 0h1m3 0h1m0 0h1m1 0h1m0 0h1m0 0h1m0 0h1m1 0h1m1 0h1m0 0h1m0 0h1m0 0h1m0 0h1m0 0h1m1 0h1m0 0h1m-68 1h1m1 0h1m1 0h1m0 0h1m0 0h1m1 0h1m0 0h1m2 0h1m0 0h1m0 0h1m1 0h1m0 0h1m0 0h1m0 0h1m0 0h1m1 0h1m2 0h1m3 0h1m6 0h1m3 0h1m1 0h1m1 0h1m0 0h1m0 0h1m0 0h1m0 0h1m0 0h1m0 0h1m0 0h1m0 0h1m0 0h1m0 0h1m0 0h1m0 0h1m0 0h1m0 0h1m0 0h1m0 0h1m0 0h1m0 0h1m0 0h1m0 0h1m3 0h1m0 0h1m-73 1h1m1 0h1m1 0h1m2 0h1m0 0h1m0 0h1m0 0h1m0 0h1m0 0h1m0 0h1m0 0h1m0 0h1m0 0h1m0 0h1m0 0h1m1 0h1m0 0h1m0 0h1m1 0h1m0 0h1m18 0h1m1 0h1m0 0h1m0 0h1m1 0h1m0 0h1m0 0h1m0 0h1m0 0h1m0 0h1m0 0h1m0 0h1m0 0h1m0 0h1m0 0h1m0 0h1m0 0h1m0 0h1m0 0h1m0 0h1m0 0h1m0 0h1m0 0h1m0 0h1m0 0h1m0 0h1m0 0h1m-71 1h1m0 0h1m0 0h1m2 0h1m0 0h1m0 0h1m0 0h1m0 0h1m0 0h1m0 0h1m0 0h1m0 0h1m0 0h1m0 0h1m0 0h1m0 0h1m0 0h1m0 0h1m0 0h1m3 0h1m3 0h1m13 0h1m1 0h1m1 0h1m0 0h1m1 0h1m0 0h1m1 0h1m0 0h1m0 0h1m0 0h1m0 0h1m0 0h1m0 0h1m0 0h1m0 0h1m0 0h1m0 0h1m0 0h1m0 0h1m0 0h1m0 0h1m0 0h1m5 0h1m-76 1h1m1 0h1m0 0h1m0 0h1m0 0h1m0 0h1m0 0h1m0 0h1m0 0h1m0 0h1m0 0h1m0 0h1m0 0h1m0 0h1m0 0h1m1 0h1m0 0h1m1 0h1m0 0h1m0 0h1m2 0h1m1 0h1m5 0h1m6 0h1m5 0h1m0 0h1m0 0h1m0 0h1m0 0h1m0 0h1m0 0h1m1 0h1m0 0h1m0 0h1m0 0h1m0 0h1m0 0h1m0 0h1m0 0h1m0 0h1m0 0h1m0 0h1m1 0h1m0 0h1m0 0h1m9 0h1m-76 1h1m1 0h1m0 0h1m1 0h1m0 0h1m0 0h1m0 0h1m0 0h1m0 0h1m0 0h1m0 0h1m0 0h1m0 0h1m1 0h1m0 0h1m0 0h1m14 0h1m6 0h1m1 0h1m0 0h1m0 0h1m0 0h1m0 0h1m0 0h1m1 0h1m0 0h1m0 0h1m0 0h1m0 0h1m0 0h1m0 0h1m0 0h1m0 0h1m0 0h1m0 0h1m0 0h1m0 0h1m0 0h1m1 0h1m0 0h1m-70 1h1m1 0h1m0 0h1m0 0h1m0 0h1m0 0h1m1 0h1m0 0h1m0 0h1m0 0h1m0 0h1m0 0h1m0 0h1m0 0h1m0 0h1m0 0h1m0 0h1m0 0h1m0 0h1m1 0h1m0 0h1m0 0h1m0 0h1m0 0h1m11 0h1m1 0h1m1 0h1m0 0h1m1 0h1m0 0h1m0 0h1m0 0h1m0 0h1m0 0h1m0 0h1m0 0h1m0 0h1m0 0h1m0 0h1m0 0h1m0 0h1m0 0h1m0 0h1m0 0h1m0 0h1m0 0h1m0 0h1m0 0h1m0 0h1m0 0h1m0 0h1m1 0h1m4 0h1m-74 1h1m0 0h1m0 0h1m0 0h1m0 0h1m0 0h1m0 0h1m0 0h1m0 0h1m0 0h1m0 0h1m0 0h1m0 0h1m0 0h1m0 0h1m0 0h1m0 0h1m1 0h1m0 0h1m0 0h1m0 0h1m0 0h1m0 0h1m3 0h1m8 0h1m5 0h1m0 0h1m0 0h1m0 0h1m0 0h1m0 0h1m0 0h1m0 0h1m0 0h1m0 0h1m0 0h1m0 0h1m0 0h1m0 0h1m0 0h1m0 0h1m0 0h1m0 0h1m0 0h1m1 0h1m0 0h1m0 0h1m0 0h1m0 0h1m0 0h1m2 0h1m-71 1h1m1 0h1m0 0h1m0 0h1m0 0h1m0 0h1m0 0h1m0 0h1m0 0h1m1 0h1m0 0h1m1 0h1m0 0h1m0 0h1m0 0h1m0 0h1m1 0h1m0 0h1m0 0h1m11 0h1m1 0h1m7 0h1m1 0h1m0 0h1m1 0h1m0 0h1m0 0h1m0 0h1m0 0h1m2 0h1m0 0h1m0 0h1m0 0h1m0 0h1m0 0h1m0 0h1m0 0h1m0 0h1m0 0h1m0 0h1m0 0h1m-68 1h1m1 0h1m0 0h1m0 0h1m0 0h1m0 0h1m0 0h1m0 0h1m0 0h1m0 0h1m0 0h1m1 0h1m0 0h1m1 0h1m0 0h1m1 0h1m0 0h1m0 0h1m0 0h1m0 0h1m0 0h1m0 0h1m14 0h1m0 0h1m0 0h1m3 0h1m0 0h1m0 0h1m0 0h1m0 0h1m0 0h1m0 0h1m0 0h1m0 0h1m0 0h1m0 0h1m0 0h1m0 0h1m0 0h1m1 0h1m0 0h1m0 0h1m0 0h1m0 0h1m0 0h1m2 0h1m0 0h1m1 0h1m-72 1h1m0 0h1m0 0h1m2 0h1m0 0h1m0 0h1m1 0h1m0 0h1m0 0h1m0 0h1m0 0h1m0 0h1m0 0h1m0 0h1m0 0h1m0 0h1m0 0h1m0 0h1m0 0h1m0 0h1m0 0h1m1 0h1m19 0h1m0 0h1m2 0h1m0 0h1m0 0h1m0 0h1m0 0h1m0 0h1m0 0h1m0 0h1m0 0h1m0 0h1m0 0h1m0 0h1m0 0h1m0 0h1m0 0h1m0 0h1m-65 1h1m0 0h1m0 0h1m0 0h1m0 0h1m0 0h1m0 0h1m0 0h1m0 0h1m0 0h1m0 0h1m1 0h1m0 0h1m0 0h1m0 0h1m0 0h1m0 0h1m0 0h1m0 0h1m1 0h1m0 0h1m1 0h1m0 0h1m0 0h1m6 0h1m9 0h1m2 0h1m1 0h1m0 0h1m0 0h1m0 0h1m0 0h1m0 0h1m0 0h1m0 0h1m0 0h1m0 0h1m0 0h1m0 0h1m2 0h1m0 0h1m1 0h1m0 0h1m-69 1h1m0 0h1m0 0h1m0 0h1m0 0h1m0 0h1m0 0h1m0 0h1m0 0h1m0 0h1m0 0h1m0 0h1m0 0h1m0 0h1m0 0h1m0 0h1m1 0h1m0 0h1m0 0h1m0 0h1m2 0h1m2 0h1m2 0h1m13 0h1m3 0h1m0 0h1m0 0h1m1 0h1m1 0h1m0 0h1m0 0h1m0 0h1m0 0h1m0 0h1m0 0h1m0 0h1m0 0h1m0 0h1m0 0h1m3 0h1m0 0h1m-68 1h1m0 0h1m0 0h1m0 0h1m0 0h1m1 0h1m0 0h1m0 0h1m0 0h1m0 0h1m0 0h1m0 0h1m0 0h1m0 0h1m0 0h1m0 0h1m0 0h1m0 0h1m1 0h1m0 0h1m0 0h1m1 0h1m2 0h1m1 0h1m16 0h1m0 0h1m1 0h1m0 0h1m0 0h1m0 0h1m0 0h1m0 0h1m1 0h1m0 0h1m0 0h1m0 0h1m0 0h1m0 0h1m1 0h1m0 0h1m1 0h1m2 0h1m2 0h1m-71 1h1m2 0h1m0 0h1m0 0h1m0 0h1m0 0h1m0 0h1m0 0h1m0 0h1m0 0h1m0 0h1m0 0h1m0 0h1m0 0h1m0 0h1m0 0h1m2 0h1m2 0h1m1 0h1m0 0h1m1 0h1m7 0h1m9 0h1m3 0h1m0 0h1m0 0h1m4 0h1m0 0h1m1 0h1m5 0h1m-70 1h1m0 0h1m0 0h1m0 0h1m1 0h1m1 0h1m0 0h1m0 0h1m0 0h1m0 0h1m0 0h1m0 0h1m0 0h1m0 0h1m0 0h1m0 0h1m0 0h1m0 0h1m1 0h1m1 0h1m1 0h1m0 0h1m0 0h1m1 0h1m0 0h1m0 0h1m0 0h1m4 0h1m5 0h1m4 0h1m6 0h1m0 0h1m0 0h1m1 0h1m1 0h1m2 0h1m0 0h1m33 0h1m-100 1h1m1 0h1m0 0h1m0 0h1m0 0h1m2 0h1m0 0h1m0 0h1m0 0h1m1 0h1m0 0h1m0 0h1m0 0h1m0 0h1m1 0h1m0 0h1m0 0h1m0 0h1m0 0h1m0 0h1m1 0h1m2 0h1m0 0h1m0 0h1m7 0h1m6 0h1m5 0h1m2 0h1m0 0h1m1 0h1m2 0h1m-60 1h1m0 0h1m0 0h1m0 0h1m0 0h1m0 0h1m0 0h1m0 0h1m0 0h1m0 0h1m0 0h1m0 0h1m0 0h1m0 0h1m0 0h1m0 0h1m0 0h1m1 0h1m0 0h1m0 0h1m0 0h1m0 0h1m0 0h1m8 0h1m16 0h1m4 0h1m0 0h1m0 0h1m0 0h1m0 0h1m2 0h1m1 0h1m2 0h1m-66 1h1m1 0h1m0 0h1m0 0h1m1 0h1m1 0h1m0 0h1m0 0h1m0 0h1m0 0h1m0 0h1m1 0h1m0 0h1m1 0h1m1 0h1m0 0h1m0 0h1m0 0h1m2 0h1m20 0h1m1 0h1m3 0h1m2 0h1m3 0h1m2 0h1m-63 1h1m1 0h1m0 0h1m0 0h1m1 0h1m0 0h1m0 0h1m0 0h1m1 0h1m1 0h1m0 0h1m2 0h1m0 0h1m0 0h1m1 0h1m1 0h1m25 0h1m3 0h1m8 0h1m-64 1h1m0 0h1m0 0h1m0 0h1m3 0h1m0 0h1m0 0h1m1 0h1m0 0h1m1 0h1m0 0h1m0 0h1m0 0h1m0 0h1m0 0h1m0 0h1m0 0h1m0 0h1m1 0h1m15 0h1m9 0h1m3 0h1m2 0h1m-57 1h1m1 0h1m0 0h1m0 0h1m1 0h1m0 0h1m1 0h1m1 0h1m0 0h1m0 0h1m2 0h1m1 0h1m0 0h1m0 0h1m0 0h1m0 0h1m7 0h1m3 0h1m11 0h1m11 0h1m-63 1h1m0 0h1m1 0h1m2 0h1m0 0h1m0 0h1m0 0h1m0 0h1m0 0h1m0 0h1m0 0h1m0 0h1m0 0h1m0 0h1m0 0h1m0 0h1m0 0h1m0 0h1m1 0h1m1 0h1m0 0h1m0 0h1m1 0h1m2 0h1m31 0h1m-62 1h1m0 0h1m0 0h1m1 0h1m0 0h1m2 0h1m1 0h1m0 0h1m0 0h1m0 0h1m0 0h1m0 0h1m0 0h1m0 0h1m1 0h1m0 0h1m0 0h1m0 0h1m0 0h1m2 0h1m-27 1h1m3 0h1m1 0h1m0 0h1m0 0h1m0 0h1m1 0h1m0 0h1m0 0h1m0 0h1m0 0h1m0 0h1m0 0h1m1 0h1m0 0h1m1 0h1m3 0h1m40 0h1m-67 1h1m0 0h1m2 0h1m0 0h1m1 0h1m1 0h1m0 0h1m0 0h1m1 0h1m0 0h1m2 0h1m2 0h1m1 0h1m1 0h1m1 0h1m1 0h1m4 0h1m31 0h1m-67 1h1m0 0h1m2 0h1m0 0h1m1 0h1m2 0h1m0 0h1m0 0h1m0 0h1m1 0h1m1 0h1m1 0h1m0 0h1m0 0h1m1 0h1m0 0h1m1 0h1m-27 1h1m0 0h1m5 0h1m1 0h1m0 0h1m1 0h1m1 0h1m1 0h1m0 0h1m0 0h1m4 0h1m2 0h1m-29 1h1m3 0h1m2 0h1m0 0h1m1 0h1m0 0h1m0 0h1m1 0h1m1 0h1m1 0h1m2 0h1m3 0h1m-25 1h1m8 0h1m2 0h1m1 0h1m1 0h1m2 0h1m2 0h1m-17 1h1m1 0h1m1 0h1m1 0h1m2 0h1m0 0h1m0 0h1m1 0h1m0 0h1m1 0h1m0 0h1m3 0h1m-29 1h1m3 0h1m1 0h1m1 0h1m0 0h1m0 0h1m0 0h1m0 0h1m0 0h1m3 0h1m0 0h1m0 0h1m1 0h1m0 0h1m2 0h1m-23 1h1m7 0h1m5 0h1m3 0h1m2 0h1m-20 1h1m1 0h1m2 0h1m3 0h1m3 0h1m1 0h1m0 0h1m1 0h1m-21 1h1m1 0h1m0 0h1m4 0h1m4 0h1m0 0h1m1 0h1m5 0h1m-26 1h1m0 0h1m3 0h1m1 0h1m3 0h1m0 0h1m0 0h1m0 0h1m6 0h1m0 0h1m3 0h1m-27 1h1m13 0h1m3 0h1m5 0h1m9 0h1m-31 1h1m0 0h1m0 0h1m0 0h1m1 0h1m2 0h1m0 0h1m0 0h1m1 0h1m3 0h1m-14 1h1m5 0h1m8 0h1m-19 1h1m7 0h1m1 0h1m0 0h1m0 0h1m5 1h1m-20 1h1m4 0h1m0 0h1m6 0h1m6 0h1m-14 1h1m17 0h1m-27 1h1m1 0h1m1 1h1m1 0h1m6 0h1m5 1h1m-21 1h1m12 0h1m1 0h1m2 2h1m47 0h1m0 0h1m3 0h1m5 0h1m2 0h1m-73 1h1m63 0h1m6 0h1"/>
<line x1="29.8" y1="351.4" x2="29.8" y2="464.2" stroke="#2a2a2a" stroke-width="1" />
<line x1="26.4" y1="462.57" x2="29.8" y2="462.57" stroke="#2a2a2a" stroke-width="0.8" />
<line x1="26.4" y1="458.99" x2="29.8" y2="458.99" stroke="#2a2a2a" stroke-width="0.8" />
<line x1="26.4" y1="456.22" x2="29.8" y2="456.22" stroke="#2a2a2a" stroke-width="0.8" />
<line x1="26.4" y1="453.95" x2="29.8" y2="453.95" stroke="#2a2a2a" stroke-width="0.8" />
<line x1="26.4" y1="452.03" x2="29.8" y2="452.03" stroke="#2a2a2a" stroke-width="0.8" />
<line x1="26.4" y1="450.37" x2="29.8" y2="450.37" stroke="#2a2a2a" stroke-width="0.8" />
<line x1="26.4" y1="448.91" x2="29.8" y2="448.91" stroke="#2a2a2a" stroke-width="0.8" />
<line x1="24.4" y1="447.6" x2="29.8" y2="447.6" stroke="#2a2a2a" stroke-width="0.8" />
<line x1="26.4" y1="438.98" x2="29.8" y2="438.98" stroke="#2a2a2a" stroke-width="0.8" />
<line x1="26.4" y1="433.94" x2="29.8" y2="433.94" stroke="#2a2a2a" stroke-width="0.8" />
<line x1="26.4" y1="430.36" x2="29.8" y2="430.36" stroke="#2a2a2a" stroke-width="0.8" />
<line x1="26.4" y1="427.59" x2="29.8" y2="427.59" stroke="#2a2a2a" stroke-width="0.8" />
<line x1="26.4" y1="425.32" x2="29.8" y2="425.32" stroke="#2a2a2a" stroke-width="0.8" />
<line x1="26.4" y1="423.4" x2="29.8" y2="423.4" stroke="#2a2a2a" stroke-width="0.8" />
<line x1="26.4" y1="421.74" x2="29.8" y2="421.74" stroke="#2a2a2a" stroke-width="0.8" />
<line x1="26.4" y1="420.28" x2="29.8" y2="420.28" stroke="#2a2a2a" stroke-width="0.8" />
<line x1="24.4" y1="418.97" x2="29.8" y2="418.97" stroke="#2a2a2a" stroke-width="0.8" />
<line x1="26.4" y1="410.35" x2="29.8" y2="410.35" stroke="#2a2a2a" stroke-width="0.8" />
<line x1="26.4" y1="405.31" x2="29.8" y2="405.31" stroke="#2a2a2a" stroke-width="0.8" />
<line x1="26.4" y1="401.73" x2="29.8" y2="401.73" stroke="#2a2a2a" stroke-width="0.8" />
<line x1="26.4" y1="398.96" x2="29.8" y2="398.96" stroke="#2a2a2a" stroke-width="0.8" />
<line x1="26.4" y1="396.69" x2="29.8" y2="396.69" stroke="#2a2a2a" stroke-width="0.8" />
<line x1="26.4" y1="394.77" x2="29.8" y2="394.77" stroke="#2a2a2a" stroke-width="0.8" />
<line x1="26.4" y1="393.11" x2="29.8" y2="393.11" stroke="#2a2a2a" stroke-width="0.8" />
<line x1="26.4" y1="391.65" x2="29.8" y2="391.65" stroke="#2a2a2a" stroke-width="0.8" />
<line x1="24.4" y1="390.34" x2="29.8" y2="390.34" stroke="#2a2a2a" stroke-width="0.8" />
<line x1="26.4" y1="381.72" x2="29.8" y2="381.72" stroke="#2a2a2a" stroke-width="0.8" />
<line x1="26.4" y1="376.68" x2="29.8" y2="376.68" stroke="#2a2a2a" stroke-width="0.8" />
<line x1="26.4" y1="373.1" x2="29.8" y2="373.1" stroke="#2a2a2a" stroke-width="0.8" />
<line x1="26.4" y1="370.33" x2="29.8" y2="370.33" stroke="#2a2a2a" stroke-width="0.8" />
<line x1="26.4" y1="368.06" x2="29.8" y2="368.06" stroke="#2a2a2a" stroke-width="0.8" />
<line x1="26.4" y1="366.14" x2="29.8" y2="366.14" stroke="#2a2a2a" stroke-width="0.8" />
<line x1="26.4" y1="364.48" x2="29.8" y2="364.48" stroke="#2a2a2a" stroke-width="0.8" />
<line x1="26.4" y1="363.02" x2="29.8" y2="363.02" stroke="#2a2a2a" stroke-width="0.8" />
<line x1="24.4" y1="361.71" x2="29.8" y2="361.71" stroke="#2a2a2a" stroke-width="0.8" />
<line x1="26.4" y1="353.09" x2="29.8" y2="353.09" stroke="#2a2a2a" stroke-width="0.8" />
<text x="23.7" y="451.57" font-size="6.49" fill="#3a3a3a" textLength="9.72" lengthAdjust="spacingAndGlyphs" transform="rotate(-90 23.7 451.57)">10<tspan style="font-size:0.95em" dy="-0.72em">2</tspan></text>
<text x="23.7" y="422.94" font-size="6.49" fill="#3a3a3a" textLength="9.72" lengthAdjust="spacingAndGlyphs" transform="rotate(-90 23.7 422.94)">10<tspan style="font-size:0.95em" dy="-0.72em">3</tspan></text>
<text x="23.7" y="394.31" font-size="6.49" fill="#3a3a3a" textLength="9.59" lengthAdjust="spacingAndGlyphs" transform="rotate(-90 23.7 394.31)">10<tspan style="font-size:0.95em" dy="-0.72em">4</tspan></text>
<text x="23.7" y="365.68" font-size="6.49" fill="#3a3a3a" textLength="9.72" lengthAdjust="spacingAndGlyphs" transform="rotate(-90 23.7 365.68)">10<tspan style="font-size:0.95em" dy="-0.72em">5</tspan></text>
<line x1="29.8" y1="464.2" x2="158.8" y2="464.2" stroke="#2a2a2a" stroke-width="1" />
<line x1="34.85" y1="464.2" x2="34.85" y2="467.6" stroke="#2a2a2a" stroke-width="0.8" />
<line x1="38.03" y1="464.2" x2="38.03" y2="467.6" stroke="#2a2a2a" stroke-width="0.8" />
<line x1="40.62" y1="464.2" x2="40.62" y2="467.6" stroke="#2a2a2a" stroke-width="0.8" />
<line x1="42.82" y1="464.2" x2="42.82" y2="467.6" stroke="#2a2a2a" stroke-width="0.8" />
<line x1="44.72" y1="464.2" x2="44.72" y2="467.6" stroke="#2a2a2a" stroke-width="0.8" />
<line x1="46.4" y1="464.2" x2="46.4" y2="467.6" stroke="#2a2a2a" stroke-width="0.8" />
<line x1="47.9" y1="464.2" x2="47.9" y2="469.6" stroke="#2a2a2a" stroke-width="0.8" />
<line x1="57.77" y1="464.2" x2="57.77" y2="467.6" stroke="#2a2a2a" stroke-width="0.8" />
<line x1="63.55" y1="464.2" x2="63.55" y2="467.6" stroke="#2a2a2a" stroke-width="0.8" />
<line x1="67.65" y1="464.2" x2="67.65" y2="467.6" stroke="#2a2a2a" stroke-width="0.8" />
<line x1="70.83" y1="464.2" x2="70.83" y2="467.6" stroke="#2a2a2a" stroke-width="0.8" />
<line x1="73.42" y1="464.2" x2="73.42" y2="467.6" stroke="#2a2a2a" stroke-width="0.8" />
<line x1="75.62" y1="464.2" x2="75.62" y2="467.6" stroke="#2a2a2a" stroke-width="0.8" />
<line x1="77.52" y1="464.2" x2="77.52" y2="467.6" stroke="#2a2a2a" stroke-width="0.8" />
<line x1="79.2" y1="464.2" x2="79.2" y2="467.6" stroke="#2a2a2a" stroke-width="0.8" />
<line x1="80.7" y1="464.2" x2="80.7" y2="469.6" stroke="#2a2a2a" stroke-width="0.8" />
<line x1="90.57" y1="464.2" x2="90.57" y2="467.6" stroke="#2a2a2a" stroke-width="0.8" />
<line x1="96.35" y1="464.2" x2="96.35" y2="467.6" stroke="#2a2a2a" stroke-width="0.8" />
<line x1="100.45" y1="464.2" x2="100.45" y2="467.6" stroke="#2a2a2a" stroke-width="0.8" />
<line x1="103.63" y1="464.2" x2="103.63" y2="467.6" stroke="#2a2a2a" stroke-width="0.8" />
<line x1="106.22" y1="464.2" x2="106.22" y2="467.6" stroke="#2a2a2a" stroke-width="0.8" />
<line x1="108.42" y1="464.2" x2="108.42" y2="467.6" stroke="#2a2a2a" stroke-width="0.8" />
<line x1="110.32" y1="464.2" x2="110.32" y2="467.6" stroke="#2a2a2a" stroke-width="0.8" />
<line x1="112" y1="464.2" x2="112" y2="467.6" stroke="#2a2a2a" stroke-width="0.8" />
<line x1="113.5" y1="464.2" x2="113.5" y2="469.6" stroke="#2a2a2a" stroke-width="0.8" />
<line x1="123.37" y1="464.2" x2="123.37" y2="467.6" stroke="#2a2a2a" stroke-width="0.8" />
<line x1="129.15" y1="464.2" x2="129.15" y2="467.6" stroke="#2a2a2a" stroke-width="0.8" />
<line x1="133.25" y1="464.2" x2="133.25" y2="467.6" stroke="#2a2a2a" stroke-width="0.8" />
<line x1="136.43" y1="464.2" x2="136.43" y2="467.6" stroke="#2a2a2a" stroke-width="0.8" />
<line x1="139.02" y1="464.2" x2="139.02" y2="467.6" stroke="#2a2a2a" stroke-width="0.8" />
<line x1="141.22" y1="464.2" x2="141.22" y2="467.6" stroke="#2a2a2a" stroke-width="0.8" />
<line x1="143.12" y1="464.2" x2="143.12" y2="467.6" stroke="#2a2a2a" stroke-width="0.8" />
<line x1="144.8" y1="464.2" x2="144.8" y2="467.6" stroke="#2a2a2a" stroke-width="0.8" />
<line x1="146.3" y1="464.2" x2="146.3" y2="469.6" stroke="#2a2a2a" stroke-width="0.8" />
<line x1="156.17" y1="464.2" x2="156.17" y2="467.6" stroke="#2a2a2a" stroke-width="0.8" />
<text x="42.91" y="477.3" font-size="6.32" fill="#3a3a3a" textLength="9.79" lengthAdjust="spacingAndGlyphs">10<tspan style="font-size:0.9em" dy="-0.5em">2</tspan></text>
<text x="75.71" y="477.3" font-size="6.32" fill="#3a3a3a" textLength="9.79" lengthAdjust="spacingAndGlyphs">10<tspan style="font-size:0.9em" dy="-0.5em">3</tspan></text>
<text x="108.52" y="477.3" font-size="6.32" fill="#3a3a3a" textLength="9.66" lengthAdjust="spacingAndGlyphs">10<tspan style="font-size:0.9em" dy="-0.5em">4</tspan></text>
<text x="141.31" y="477.3" font-size="6.32" fill="#3a3a3a" textLength="9.79" lengthAdjust="spacingAndGlyphs">10<tspan style="font-size:0.9em" dy="-0.5em">5</tspan></text>
<rect x="68" y="401" width="48.5" height="38.5" fill="none" stroke="#3c3c3c" stroke-width="1" />
<rect x="67.4" y="441.3" width="48.4" height="22.9" fill="none" stroke="#3c3c3c" stroke-width="1" />
<text x="123.89" y="403.02" font-size="7.39" font-weight="bold" fill="#000" textLength="29.52" lengthAdjust="spacingAndGlyphs">P3 (HSC)</text>
<text x="124.19" y="450.92" font-size="7.39" font-weight="bold" fill="#000" textLength="32.41" lengthAdjust="spacingAndGlyphs">P4 (VSEL)</text>
<text x="69.85" y="487.4" font-size="8.29" font-weight="bold" fill="#000" textLength="42.84" lengthAdjust="spacingAndGlyphs">APC-CD133</text>
<text x="13.16" y="428.64" font-size="7.22" font-weight="bold" fill="#000" textLength="47.27" lengthAdjust="spacingAndGlyphs" transform="rotate(-90 13.16 428.64)">PE-Cy7-CD45</text>
<line x1="214.8" y1="347" x2="214.8" y2="474.2" stroke="#3a3a3a" stroke-width="1" />
<line x1="214.8" y1="474.2" x2="303.1" y2="474.2" stroke="#3a3a3a" stroke-width="1" />
<line x1="211.8" y1="474.2" x2="214.8" y2="474.2" stroke="#3a3a3a" stroke-width="0.8" />
<text x="202.03" y="476.95" font-size="7.86" fill="#222" textLength="5.21" lengthAdjust="spacingAndGlyphs">0</text>
<line x1="211.8" y1="453" x2="214.8" y2="453" stroke="#3a3a3a" stroke-width="0.8" />
<text x="197.18" y="455.75" font-size="7.86" fill="#222" textLength="10.01" lengthAdjust="spacingAndGlyphs">10</text>
<line x1="211.8" y1="431.8" x2="214.8" y2="431.8" stroke="#3a3a3a" stroke-width="0.8" />
<text x="197.37" y="434.55" font-size="7.86" fill="#222" textLength="9.82" lengthAdjust="spacingAndGlyphs">20</text>
<line x1="211.8" y1="410.6" x2="214.8" y2="410.6" stroke="#3a3a3a" stroke-width="0.8" />
<text x="197.55" y="413.35" font-size="7.86" fill="#222" textLength="9.63" lengthAdjust="spacingAndGlyphs">30</text>
<line x1="211.8" y1="389.4" x2="214.8" y2="389.4" stroke="#3a3a3a" stroke-width="0.8" />
<text x="197.73" y="392.15" font-size="7.86" fill="#222" textLength="9.45" lengthAdjust="spacingAndGlyphs">40</text>
<line x1="211.8" y1="368.2" x2="214.8" y2="368.2" stroke="#3a3a3a" stroke-width="0.8" />
<text x="197.55" y="370.95" font-size="7.86" fill="#222" textLength="9.63" lengthAdjust="spacingAndGlyphs">50</text>
<line x1="211.8" y1="347" x2="214.8" y2="347" stroke="#3a3a3a" stroke-width="0.8" />
<text x="197.37" y="349.75" font-size="7.86" fill="#222" textLength="9.82" lengthAdjust="spacingAndGlyphs">60</text>
<line x1="214.8" y1="474.2" x2="214.8" y2="477.2" stroke="#3a3a3a" stroke-width="0.8" />
<line x1="259.1" y1="474.2" x2="259.1" y2="477.2" stroke="#3a3a3a" stroke-width="0.8" />
<line x1="303.1" y1="474.2" x2="303.1" y2="477.2" stroke="#3a3a3a" stroke-width="0.8" />
<line x1="237.4" y1="410.5" x2="237.4" y2="405" stroke="#333" stroke-width="0.8" />
<line x1="235.4" y1="405" x2="239.4" y2="405" stroke="#333" stroke-width="0.8" />
<rect x="226.2" y="410.5" width="22.4" height="63.7" fill="#cc0000" stroke="#151515" stroke-width="1" />
<text x="229.13" y="490.4" font-size="9.14" font-weight="bold" fill="#000" textLength="16.62" lengthAdjust="spacingAndGlyphs">HSC</text>
<line x1="280.95" y1="422.8" x2="280.95" y2="418.5" stroke="#333" stroke-width="0.8" />
<line x1="278.95" y1="418.5" x2="282.95" y2="418.5" stroke="#333" stroke-width="0.8" />
<rect x="270.1" y="422.8" width="21.7" height="51.4" fill="#3a5a27" stroke="#151515" stroke-width="1" />
<text x="271.25" y="490.4" font-size="9.14" font-weight="bold" fill="#000" textLength="19.69" lengthAdjust="spacingAndGlyphs">VSEL</text>
<text x="192.07" y="455.86" font-size="8.15" font-weight="bold" fill="#000" textLength="90.05" lengthAdjust="spacingAndGlyphs" transform="rotate(-90 192.07 455.86)">% of ACE2 positive cells</text>
<defs>
<filter id="bl" filterUnits="userSpaceOnUse" x="0" y="0" width="685" height="562"><feGaussianBlur stdDeviation="0.6"/></filter>
<filter id="bl2" filterUnits="userSpaceOnUse" x="0" y="0" width="685" height="562"><feGaussianBlur stdDeviation="1.2"/></filter>
<linearGradient id="gA" x1="0" y1="0" x2="0" y2="1"><stop offset="0" stop-color="#dcdcdc"/><stop offset="1" stop-color="#e6e6e6"/></linearGradient>
<linearGradient id="gNT" x1="0" y1="0" x2="1" y2="1"><stop offset="0" stop-color="#e2e2e2"/><stop offset="1" stop-color="#ececec"/></linearGradient>
<linearGradient id="gNTb" x1="0" y1="0" x2="1" y2="0"><stop offset="0" stop-color="#f0f0f0"/><stop offset="0.7" stop-color="#e0e0e0"/><stop offset="1" stop-color="#c4c4c4"/></linearGradient>
</defs>
<rect x="78.1" y="523.4" width="213.1" height="23.9" fill="#e7e7e7"/>
<rect x="137" y="524" width="45" height="22.5" fill="#d9d9d9" filter="url(#bl2)"/>
<rect x="186" y="524" width="47" height="22.5" fill="#dedede" filter="url(#bl2)"/>
<rect x="233" y="524" width="58" height="23" fill="url(#gNT)"/>
<path d="M140 525L149 535" stroke="#b8b8b8" stroke-width="2" filter="url(#bl)"/>
<rect x="142" y="525" width="38" height="8" fill="#c4c4c4" filter="url(#bl2)"/>
<path d="M88.6 536.3C96.8 535.9 120.6 536.8 128.8 536.3" stroke="#777" stroke-opacity="0.45" stroke-width="7.1" stroke-linecap="round" fill="none" filter="url(#bl2)"/>
<path d="M88.6 536.3C96.8 535.9 120.6 536.8 128.8 536.3" stroke="#161616" stroke-width="4.1" stroke-linecap="round" fill="none" filter="url(#bl)"/>
<path d="M88.6 536.3h4M124.8 536.3h4" stroke="#161616" stroke-width="4.4" stroke-linecap="round" fill="none" filter="url(#bl)"/>
<path d="M139.8 536.1C148 535.7 170.4 536.6 178.6 536.1" stroke="#777" stroke-opacity="0.45" stroke-width="6.8" stroke-linecap="round" fill="none" filter="url(#bl2)"/>
<path d="M139.8 536.1C148 535.7 170.4 536.6 178.6 536.1" stroke="#161616" stroke-width="3.8" stroke-linecap="round" fill="none" filter="url(#bl)"/>
<path d="M139.8 536.1h4M174.6 536.1h4" stroke="#161616" stroke-width="4.1" stroke-linecap="round" fill="none" filter="url(#bl)"/>
<ellipse cx="141" cy="535.6" rx="2.6" ry="2.4" fill="#111" filter="url(#bl)"/>
<path d="M189.9 535.9C198.1 535.5 221 536.4 229.2 535.9" stroke="#777" stroke-opacity="0.45" stroke-width="7.2" stroke-linecap="round" fill="none" filter="url(#bl2)"/>
<path d="M189.9 535.9C198.1 535.5 221 536.4 229.2 535.9" stroke="#161616" stroke-width="4.2" stroke-linecap="round" fill="none" filter="url(#bl)"/>
<path d="M189.9 535.9h4M225.2 535.9h4" stroke="#161616" stroke-width="4.5" stroke-linecap="round" fill="none" filter="url(#bl)"/>
<rect x="78.1" y="523.4" width="213.1" height="23.9" fill="none" stroke="#111" stroke-width="1.1" />
<text x="40.28" y="537.8" font-size="12.43" font-weight="bold" fill="#000" stroke="#000" stroke-width="0.35" textLength="29.55" lengthAdjust="spacingAndGlyphs">ACE2</text>
<text x="97.14" y="519.3" font-size="11" font-weight="bold" fill="#000" stroke="#000" stroke-width="0.35" textLength="25.18" lengthAdjust="spacingAndGlyphs">MNC</text>
<text x="149.12" y="518.9" font-size="10.43" font-weight="bold" fill="#000" stroke="#000" stroke-width="0.35" textLength="20.28" lengthAdjust="spacingAndGlyphs">HSC</text>
<text x="197.22" y="518.9" font-size="10.43" font-weight="bold" fill="#000" stroke="#000" stroke-width="0.35" textLength="22.85" lengthAdjust="spacingAndGlyphs">VSEL</text>
<text x="239.55" y="518.25" font-size="9.24" font-weight="bold" fill="#000" stroke="#000" stroke-width="0.35" textLength="45.38" lengthAdjust="spacingAndGlyphs">no templ</text>
<rect x="350.3" y="22.4" width="161.2" height="155.1" fill="none" stroke="#262626" stroke-width="1.3" />
<path transform="translate(0 0.5)" stroke="#f00" fill="none" d="M404 31h1m23 2h1m-36 1h1m5 0h1m20 4h1m-23 2h1m8 0h1m-28 1h1m30 1h1m-20 2h1m-1 2h1m6 1h1m-3 1h1m7 0h1m18 0h1m-30 1h1m1 0h1m6 2h1m5 0h1m13 2h1m1 0h1m-36 1h1m16 0h1m3 0h1m0 0h1m-21 1h1m3 0h1m8 0h1m-16 1h1m16 1h1m-7 1h1m-6 1h1m11 0h1m27 0h1m-36 2h1m-3 1h1m16 3h1m-24 1h1m-8 1h1m14 0h1m-8 1h1m0 0h1m1 0h1m17 0h1m8 0h1m-25 1h1m12 1h1m6 2h1m-29 1h1m22 0h1m24 0h1m-47 1h1m3 1h1m19 0h1m11 1h1m-50 1h1m22 0h1m0 0h1m9 0h1m0 0h1m-1 1h1m1 0h1m-10 1h1m-16 1h1m-5 1h1m13 0h1m31 0h1m-23 2h1m-27 1h1m6 0h1m7 0h1m7 0h1m0 0h1m4 0h1m-12 1h1m7 0h1m-25 1h1m8 0h1m16 0h1m-11 1h1m11 0h1m-35 1h1m5 0h1m19 2h1m-23 1h1m9 2h1m-8 1h1m25 0h1m-30 1h1m11 0h1m6 1h1m3 0h1m4 0h1m-29 1h1m13 0h1m15 0h1m-12 1h1m12 0h1m-31 1h1m22 1h1m10 0h1m-25 1h1m-4 1h1m7 1h1m9 0h1m3 0h1m-16 1h1m-10 1h1m6 0h1m20 0h1m8 0h1m-50 1h1m25 0h1m1 0h1m2 1h1m-25 1h1m6 0h1m2 0h1m6 0h1m10 0h1m0 0h1m-35 1h1m2 0h1m0 0h1m2 0h1m2 0h1m6 0h1m7 1h1m-16 1h1m7 0h1m-7 1h1m0 0h1m4 0h1m-10 2h1m3 0h1m-14 1h1m1 0h1m1 0h1m0 0h1m2 0h1m2 0h1m2 0h1m31 0h1m-42 1h1m13 0h1m-21 1h1m8 0h1m5 0h1m4 0h1m9 0h1m-15 1h1m15 0h1m13 0h1m-41 1h1m12 0h1m16 0h1m-25 1h1m16 0h1m3 0h1m1 0h1m3 0h1m1 0h1m-21 1h1m7 0h1m1 0h1m2 0h1m1 0h1m0 0h1m0 0h1m2 0h1m-39 1h1m9 0h1m1 0h1m7 0h1m2 0h1m0 0h1m3 0h1m2 0h1m5 0h1m2 0h1m-38 1h1m6 0h1m5 0h1m2 0h1m0 0h1m0 0h1m0 0h1m3 0h1m0 0h1m1 0h1m0 0h1m-43 1h1m25 0h1m1 0h1m0 0h1m1 0h1m1 0h1m1 0h1m0 0h1m0 0h1m0 0h1m1 0h1m2 0h1m0 0h1m-32 1h1m6 0h1m8 0h1m1 0h1m1 0h1m0 0h1m0 0h1m0 0h1m0 0h1m1 0h1m1 0h1m3 0h1m1 0h1m0 0h1m0 0h1m0 0h1m-40 1h1m0 0h1m7 0h1m6 0h1m0 0h1m0 0h1m1 0h1m1 0h1m0 0h1m0 0h1m0 0h1m0 0h1m0 0h1m0 0h1m0 0h1m1 0h1m0 0h1m1 0h1m2 0h1m0 0h1m-44 1h1m19 0h1m2 0h1m0 0h1m0 0h1m0 0h1m0 0h1m0 0h1m0 0h1m0 0h1m0 0h1m0 0h1m0 0h1m0 0h1m2 0h1m-43 1h1m0 0h1m8 0h1m10 0h1m2 0h1m3 0h1m0 0h1m0 0h1m0 0h1m0 0h1m0 0h1m0 0h1m0 0h1m0 0h1m0 0h1m0 0h1m0 0h1m0 0h1m0 0h1m0 0h1m-36 1h1m0 0h1m1 0h1m8 0h1m5 0h1m0 0h1m1 0h1m0 0h1m0 0h1m1 0h1m0 0h1m0 0h1m0 0h1m0 0h1m0 0h1m0 0h1m2 0h1m2 0h1m-38 1h1m13 0h1m0 0h1m0 0h1m1 0h1m0 0h1m0 0h1m0 0h1m0 0h1m0 0h1m0 0h1m0 0h1m0 0h1m0 0h1m0 0h1m0 0h1m0 0h1m0 0h1m0 0h1m1 0h1m-42 1h1m2 0h1m6 0h1m2 0h1m6 0h1m0 0h1m0 0h1m0 0h1m0 0h1m2 0h1m0 0h1m0 0h1m0 0h1m0 0h1m0 0h1m0 0h1m1 0h1m0 0h1m0 0h1m3 0h1m0 0h1m1 0h1m-44 1h1m1 0h1m0 0h1m0 0h1m0 0h1m1 0h1m7 0h1m4 0h1m2 0h1m0 0h1m0 0h1m0 0h1m0 0h1m0 0h1m0 0h1m0 0h1m0 0h1m0 0h1m0 0h1m0 0h1m0 0h1m0 0h1m0 0h1m-41 1h1m3 0h1m0 0h1m4 0h1m2 0h1m8 0h1m0 0h1m2 0h1m0 0h1m0 0h1m0 0h1m0 0h1m0 0h1m0 0h1m0 0h1m0 0h1m0 0h1m0 0h1m0 0h1m0 0h1m0 0h1m0 0h1m-38 1h1m0 0h1m1 0h1m1 0h1m8 0h1m4 0h1m0 0h1m0 0h1m0 0h1m1 0h1m0 0h1m0 0h1m0 0h1m0 0h1m2 0h1m0 0h1m1 0h1m0 0h1m0 0h1m-38 1h1m0 0h1m0 0h1m0 0h1m2 0h1m2 0h1m11 0h1m1 0h1m1 0h1m0 0h1m0 0h1m0 0h1m0 0h1m0 0h1m0 0h1m0 0h1m0 0h1m1 0h1m-38 1h1m0 0h1m0 0h1m0 0h1m2 0h1m0 0h1m1 0h1m0 0h1m5 0h1m0 0h1m7 0h1m1 0h1m1 0h1m0 0h1m0 0h1m0 0h1m0 0h1m2 0h1m2 0h1m-39 1h1m0 0h1m2 0h1m0 0h1m0 0h1m0 0h1m5 0h1m3 0h1m5 0h1m0 0h1m1 0h1m0 0h1m1 0h1m2 0h1m2 0h1m2 0h1m10 0h1m-51 1h1m0 0h1m0 0h1m0 0h1m2 0h1m2 0h1m0 0h1m0 0h1m1 0h1m1 0h1m10 0h1m1 0h1m1 0h1m1 0h1m-32 1h1m1 0h1m0 0h1m2 0h1m1 0h1m3 0h1m1 0h1m6 0h1m0 0h1m1 0h1m0 0h1m3 0h1m1 0h1m-32 1h1m0 0h1m0 0h1m0 0h1m0 0h1m1 0h1m0 0h1m1 0h1m10 0h1m3 0h1m3 0h1m7 0h1m-38 1h1m0 0h1m0 0h1m0 0h1m1 0h1m1 0h1m0 0h1m4 0h1m0 0h1m21 0h1m-36 1h1m0 0h1m0 0h1m0 0h1m0 0h1m0 0h1m0 0h1m0 0h1m0 0h1m0 0h1m0 0h1m0 0h1m-13 1h1m0 0h1m0 0h1m0 0h1m0 0h1m1 0h1m0 0h1m0 0h1m1 0h1m0 0h1m0 0h1m16 0h1m-30 1h1m1 0h1m0 0h1m0 0h1m0 0h1m0 0h1m1 0h1m0 0h1m0 0h1m0 0h1m0 0h1m0 0h1m2 0h1m-16 1h1m0 0h1m0 0h1m0 0h1m0 0h1m0 0h1m0 0h1m0 0h1m0 0h1m4 0h1m-15 1h1m0 0h1m0 0h1m0 0h1m0 0h1m0 0h1m0 0h1m0 0h1m0 0h1m0 0h1m5 0h1m-16 1h1m0 0h1m0 0h1m0 0h1m0 0h1m0 0h1m0 0h1m0 0h1m3 0h1m0 0h1m-13 1h1m0 0h1m0 0h1m0 0h1m0 0h1m0 0h1m0 0h1m2 0h1m0 0h1m0 0h1m-12 1h1m0 0h1m0 0h1m0 0h1m1 0h1m0 0h1m0 0h1m0 0h1m1 0h1m-11 1h1m0 0h1m0 0h1m0 0h1m0 0h1m0 0h1m0 0h1m0 0h1m0 0h1m3 0h1m-13 1h1m0 0h1m0 0h1m1 0h1m0 0h1m1 0h1m0 0h1m0 0h1m1 0h1m3 0h1"/>
<path transform="translate(0.5 0.5)" stroke="#f00" fill="none" d="M386 30h1m18 2h1m-15 1h1m2 0h1m8 0h1m6 0h1m4 0h1m11 0h1m-7 2h1m-15 1h1m-9 1h1m19 1h1m-39 1h1m37 0h1m6 1h1m-23 1h1m-4 2h1m7 0h1m13 0h1m-13 2h1m-27 1h1m37 0h1m-42 1h1m39 0h1m-23 1h1m-2 1h1m22 0h1m-13 2h1m-9 4h1m-21 1h1m7 1h1m5 2h1m5 0h1m51 0h1m-35 1h1m-33 2h1m3 0h1m6 0h1m3 0h1m18 0h1m-15 1h1m1 0h1m-18 1h1m11 2h1m3 1h1m-22 2h1m2 0h1m19 0h1m-15 1h1m-4 1h1m-1 1h1m18 0h1m3 0h1m-31 1h1m3 0h1m11 0h1m1 0h1m5 0h1m19 0h1m-45 1h1m12 0h1m3 0h1m14 1h1m-11 1h1m15 0h1m-3 1h1m-20 1h1m20 0h1m-18 1h1m-20 1h1m10 0h1m9 0h1m46 0h1m-75 1h1m15 0h1m-11 1h1m17 0h1m12 0h1m-19 1h1m10 0h1m-35 1h1m12 0h1m3 0h1m2 2h1m1 0h1m4 0h1m12 2h1m-25 1h1m5 0h1m0 0h1m24 0h1m-45 1h1m4 0h1m0 2h1m40 0h1m-30 3h1m3 0h1m13 0h1m-13 1h1m1 0h1m1 0h1m2 0h1m8 0h1m3 0h1m-34 1h1m2 2h1m19 0h1m-26 1h1m7 0h1m17 0h1m20 0h1m-35 1h1m18 0h1m-36 1h1m-8 2h1m19 0h1m0 0h1m2 0h1m12 0h1m-40 1h1m14 0h1m23 0h1m-37 1h1m6 0h1m6 0h1m18 0h1m-32 1h1m7 0h1m-2 1h1m45 0h1m-56 1h1m8 0h1m-11 1h1m1 0h1m26 0h1m-22 1h1m4 0h1m16 0h1m-28 1h1m7 0h1m6 0h1m2 0h1m-26 1h1m3 0h1m6 0h1m3 0h1m5 0h1m4 0h1m2 0h1m2 0h1m23 0h1m-47 1h1m2 0h1m4 0h1m5 0h1m9 0h1m3 0h1m-41 1h1m9 0h1m1 0h1m1 0h1m3 0h1m9 0h1m0 0h1m3 0h1m0 0h1m0 0h1m12 0h1m-34 1h1m21 0h1m-27 1h1m0 0h1m5 0h1m6 0h1m5 0h1m9 0h1m2 0h1m-39 1h1m13 0h1m14 0h1m-29 1h1m4 0h1m6 0h1m2 0h1m9 0h1m2 0h1m10 0h1m-43 1h1m10 0h1m11 0h1m1 0h1m1 0h1m3 0h1m0 0h1m2 0h1m1 0h1m0 0h1m-29 1h1m2 0h1m10 0h1m4 0h1m0 0h1m1 0h1m1 0h1m0 0h1m7 0h1m-36 1h1m4 0h1m12 0h1m3 0h1m9 0h1m-41 1h1m5 0h1m5 0h1m15 0h1m0 0h1m0 0h1m0 0h1m0 0h1m0 0h1m0 0h1m0 0h1m1 0h1m0 0h1m-40 1h1m12 0h1m16 0h1m0 0h1m0 0h1m1 0h1m0 0h1m1 0h1m2 0h1m3 0h1m2 0h1m-49 1h1m22 0h1m1 0h1m2 0h1m0 0h1m0 0h1m0 0h1m1 0h1m1 0h1m0 0h1m0 0h1m0 0h1m0 0h1m0 0h1m0 0h1m0 0h1m-46 1h1m4 0h1m2 0h1m19 0h1m0 0h1m0 0h1m0 0h1m0 0h1m1 0h1m1 0h1m1 0h1m0 0h1m0 0h1m1 0h1m4 0h1m-24 1h1m1 0h1m2 0h1m1 0h1m0 0h1m0 0h1m0 0h1m0 0h1m0 0h1m1 0h1m0 0h1m0 0h1m0 0h1m0 0h1m0 0h1m1 0h1m-45 1h1m0 0h1m0 0h1m4 0h1m0 0h1m16 0h1m0 0h1m0 0h1m0 0h1m0 0h1m0 0h1m0 0h1m0 0h1m0 0h1m0 0h1m0 0h1m0 0h1m0 0h1m0 0h1m2 0h1m0 0h1m1 0h1m1 0h1m-43 1h1m1 0h1m18 0h1m0 0h1m1 0h1m1 0h1m0 0h1m0 0h1m0 0h1m0 0h1m0 0h1m0 0h1m0 0h1m0 0h1m0 0h1m1 0h1m0 0h1m1 0h1m1 0h1m-35 1h1m7 0h1m2 0h1m1 0h1m0 0h1m1 0h1m0 0h1m0 0h1m0 0h1m0 0h1m0 0h1m0 0h1m0 0h1m0 0h1m0 0h1m0 0h1m0 0h1m0 0h1m0 0h1m2 0h1m-44 1h1m19 0h1m3 0h1m0 0h1m1 0h1m0 0h1m0 0h1m0 0h1m0 0h1m0 0h1m0 0h1m0 0h1m0 0h1m0 0h1m0 0h1m1 0h1m0 0h1m3 0h1m-42 1h1m2 0h1m2 0h1m1 0h1m6 0h1m5 0h1m2 0h1m0 0h1m0 0h1m0 0h1m0 0h1m0 0h1m0 0h1m0 0h1m0 0h1m0 0h1m2 0h1m0 0h1m0 0h1m1 0h1m-41 1h1m4 0h1m1 0h1m5 0h1m5 0h1m0 0h1m1 0h1m0 0h1m0 0h1m0 0h1m0 0h1m0 0h1m0 0h1m1 0h1m0 0h1m0 0h1m0 0h1m0 0h1m0 0h1m0 0h1m-40 1h1m0 0h1m3 0h1m1 0h1m0 0h1m0 0h1m11 0h1m2 0h1m1 0h1m1 0h1m0 0h1m0 0h1m1 0h1m0 0h1m0 0h1m0 0h1m0 0h1m1 0h1m0 0h1m2 0h1m-44 1h1m0 0h1m0 0h1m0 0h1m5 0h1m2 0h1m0 0h1m6 0h1m3 0h1m0 0h1m0 0h1m1 0h1m0 0h1m0 0h1m2 0h1m0 0h1m0 0h1m0 0h1m0 0h1m1 0h1m2 0h1m-43 1h1m0 0h1m2 0h1m0 0h1m0 0h1m0 0h1m0 0h1m0 0h1m1 0h1m1 0h1m3 0h1m6 0h1m2 0h1m0 0h1m0 0h1m0 0h1m1 0h1m0 0h1m2 0h1m0 0h1m-36 1h1m0 0h1m0 0h1m0 0h1m1 0h1m1 0h1m0 0h1m0 0h1m6 0h1m2 0h1m3 0h1m0 0h1m0 0h1m0 0h1m0 0h1m0 0h1m0 0h1m0 0h1m3 0h1m-37 1h1m0 0h1m0 0h1m0 0h1m0 0h1m0 0h1m1 0h1m0 0h1m12 0h1m2 0h1m0 0h1m0 0h1m0 0h1m0 0h1m0 0h1m1 0h1m0 0h1m3 0h1m0 0h1m2 0h1m-42 1h1m1 0h1m0 0h1m0 0h1m1 0h1m0 0h1m0 0h1m0 0h1m0 0h1m0 0h1m1 0h1m11 0h1m1 0h1m2 0h1m0 0h1m1 0h1m2 0h1m-35 1h1m0 0h1m0 0h1m0 0h1m1 0h1m1 0h1m3 0h1m0 0h1m5 0h1m1 0h1m5 0h1m10 0h1m-40 1h1m0 0h1m0 0h1m0 0h1m0 0h1m0 0h1m0 0h1m0 0h1m0 0h1m1 0h1m0 0h1m2 0h1m1 0h1m10 0h1m-28 1h1m0 0h1m0 0h1m0 0h1m0 0h1m0 0h1m0 0h1m0 0h1m0 0h1m4 0h1m0 0h1m3 0h1m2 0h1m5 0h1m-28 1h1m0 0h1m0 0h1m0 0h1m0 0h1m0 0h1m0 0h1m1 0h1m0 0h1m1 0h1m1 0h1m-14 1h1m0 0h1m0 0h1m0 0h1m0 0h1m0 0h1m1 0h1m0 0h1m0 0h1m2 0h1m0 0h1m0 0h1m0 0h1m-16 1h1m0 0h1m0 0h1m0 0h1m0 0h1m0 0h1m0 0h1m0 0h1m0 0h1m0 0h1m1 0h1m1 0h1m-13 1h1m0 0h1m0 0h1m0 0h1m0 0h1m0 0h1m0 0h1m0 0h1m0 0h1m1 0h1m0 0h1m-12 1h1m0 0h1m0 0h1m0 0h1m0 0h1m0 0h1m0 0h1m0 0h1m0 0h1m0 0h1m1 0h1m0 0h1m0 0h1m1 0h1m1 0h1m-18 1h1m0 0h1m0 0h1m0 0h1m0 0h1m0 0h1m0 0h1m1 0h1m2 0h1m-13 1h1m0 0h1m0 0h1m0 0h1m0 0h1m0 0h1m0 0h1m1 0h1m4 0h1m-13 1h1m0 0h1m0 0h1m0 0h1m0 0h1m0 0h1m0 0h1m0 0h1m0 0h1m3 0h1m-14 1h1m0 0h1m0 0h1m1 0h1m0 0h1m0 0h1m0 0h1m0 0h1m0 0h1m1 0h1m3 0h1"/>
<path transform="translate(0 1)" stroke="#f00" fill="none" d="M408 30h1m-2 1h1m8 0h1m1 1h1m2 0h1m-27 1h1m8 0h1m4 0h1m-7 1h1m4 0h1m0 0h1m6 0h1m-10 1h1m7 0h1m-32 1h1m13 0h1m1 0h1m54 0h1m-58 1h1m28 0h1m-25 1h1m45 0h1m-49 1h1m17 0h1m10 0h1m-32 1h1m-5 1h1m37 1h1m-23 2h1m8 0h1m-12 2h1m-20 1h1m38 0h1m-41 2h1m31 1h1m-20 1h1m19 1h1m10 0h1m-30 1h1m4 0h1m25 1h1m-32 1h1m3 0h1m-22 2h1m9 1h1m58 0h1m-65 2h1m9 0h1m28 2h1m-25 2h1m17 0h1m-25 1h1m14 0h1m-14 1h1m-1 1h1m13 1h1m-32 1h1m8 2h1m19 0h1m-3 1h1m-22 1h1m5 1h1m22 0h1m-39 1h1m13 0h1m3 0h1m2 1h1m10 0h1m-13 1h1m16 0h1m-15 1h1m-2 2h1m10 1h1m1 0h1m-36 1h1m22 1h1m2 0h1m7 0h1m0 0h1m1 0h1m-29 1h1m2 0h1m14 0h1m-6 1h1m12 0h1m-30 1h1m12 0h1m6 1h1m-15 1h1m3 0h1m14 0h1m2 0h1m-20 3h1m10 0h1m-9 1h1m21 0h1m-23 1h1m20 0h1m-26 1h1m35 0h1m-26 1h1m1 0h1m11 0h1m-22 1h1m-11 1h1m8 0h1m9 0h1m16 0h1m7 0h1m-57 1h1m35 0h1m3 0h1m0 0h1m-6 1h1m14 0h1m-35 1h1m19 0h1m-24 1h1m2 0h1m27 0h1m-21 1h1m14 0h1m-25 1h1m1 0h1m13 0h1m-26 1h1m13 0h1m32 0h1m-40 1h1m10 0h1m7 0h1m-2 2h1m-23 1h1m4 0h1m-11 1h1m5 0h1m0 0h1m30 0h1m-33 1h1m2 0h1m0 0h1m37 0h1m-51 1h1m0 0h1m2 0h1m7 0h1m4 0h1m21 0h1m4 0h1m-33 1h1m6 0h1m5 0h1m-30 1h1m6 0h1m6 0h1m15 0h1m4 0h1m-34 1h1m2 0h1m7 0h1m3 0h1m0 0h1m2 0h1m28 0h1m-39 1h1m0 0h1m9 0h1m5 0h1m-26 1h1m1 0h1m6 0h1m6 0h1m3 0h1m2 0h1m-24 1h1m1 0h1m2 0h1m2 0h1m1 0h1m6 0h1m0 1h1m13 0h1m-28 1h1m0 0h1m24 0h1m-30 1h1m6 0h1m1 0h1m1 0h1m15 0h1m6 0h1m-17 1h1m7 0h1m1 0h1m0 0h1m5 0h1m0 0h1m1 0h1m-41 1h1m25 0h1m0 0h1m2 0h1m1 0h1m4 0h1m-33 1h1m9 0h1m4 0h1m5 0h1m4 0h1m0 0h1m1 0h1m1 0h1m0 0h1m-42 1h1m2 0h1m12 0h1m4 0h1m6 0h1m0 0h1m0 0h1m0 0h1m0 0h1m0 0h1m0 0h1m1 0h1m0 0h1m3 0h1m-42 1h1m7 0h1m1 0h1m7 0h1m6 0h1m1 0h1m0 0h1m0 0h1m0 0h1m0 0h1m0 0h1m1 0h1m0 0h1m0 0h1m0 0h1m1 0h1m-29 1h1m11 0h1m2 0h1m0 0h1m0 0h1m0 0h1m0 0h1m0 0h1m0 0h1m0 0h1m0 0h1m0 0h1m0 0h1m0 0h1m0 0h1m-34 1h1m1 0h1m2 0h1m0 0h1m12 0h1m0 0h1m0 0h1m0 0h1m0 0h1m0 0h1m0 0h1m0 0h1m1 0h1m0 0h1m0 0h1m0 0h1m0 0h1m0 0h1m0 0h1m0 0h1m0 0h1m0 0h1m-44 1h1m3 0h1m0 0h1m17 0h1m0 0h1m0 0h1m0 0h1m1 0h1m1 0h1m0 0h1m0 0h1m0 0h1m0 0h1m0 0h1m0 0h1m1 0h1m3 0h1m-36 1h1m11 0h1m0 0h1m0 0h1m1 0h1m1 0h1m1 0h1m0 0h1m0 0h1m0 0h1m0 0h1m0 0h1m0 0h1m1 0h1m0 0h1m0 0h1m0 0h1m0 0h1m0 0h1m0 0h1m7 0h1m-49 1h1m0 0h1m3 0h1m16 0h1m2 0h1m0 0h1m0 0h1m0 0h1m0 0h1m0 0h1m0 0h1m0 0h1m0 0h1m0 0h1m0 0h1m0 0h1m0 0h1m1 0h1m0 0h1m-41 1h1m5 0h1m8 0h1m1 0h1m4 0h1m0 0h1m0 0h1m1 0h1m1 0h1m0 0h1m0 0h1m0 0h1m0 0h1m0 0h1m0 0h1m0 0h1m0 0h1m0 0h1m1 0h1m-41 1h1m3 0h1m15 0h1m1 0h1m0 0h1m0 0h1m0 0h1m0 0h1m2 0h1m0 0h1m0 0h1m0 0h1m0 0h1m1 0h1m0 0h1m0 0h1m1 0h1m-37 1h1m0 0h1m1 0h1m0 0h1m12 0h1m0 0h1m2 0h1m0 0h1m0 0h1m0 0h1m0 0h1m3 0h1m0 0h1m0 0h1m0 0h1m2 0h1m0 0h1m-42 1h1m0 0h1m0 0h1m0 0h1m1 0h1m0 0h1m3 0h1m10 0h1m0 0h1m2 0h1m0 0h1m0 0h1m2 0h1m1 0h1m0 0h1m0 0h1m1 0h1m2 0h1m1 0h1m-41 1h1m0 0h1m2 0h1m1 0h1m1 0h1m0 0h1m0 0h1m10 0h1m0 0h1m1 0h1m0 0h1m0 0h1m0 0h1m0 0h1m1 0h1m0 0h1m1 0h1m1 0h1m-35 1h1m0 0h1m0 0h1m0 0h1m0 0h1m1 0h1m0 0h1m12 0h1m0 0h1m0 0h1m0 0h1m2 0h1m0 0h1m0 0h1m0 0h1m0 0h1m0 0h1m0 0h1m-35 1h1m3 0h1m0 0h1m0 0h1m1 0h1m0 0h1m0 0h1m0 0h1m0 0h1m0 0h1m2 0h1m5 0h1m2 0h1m0 0h1m0 0h1m1 0h1m2 0h1m3 0h1m-37 1h1m1 0h1m0 0h1m0 0h1m0 0h1m0 0h1m0 0h1m0 0h1m2 0h1m14 0h1m0 0h1m0 0h1m1 0h1m2 0h1m-35 1h1m0 0h1m0 0h1m0 0h1m1 0h1m0 0h1m0 0h1m0 0h1m11 0h1m0 0h1m1 0h1m1 0h1m3 0h1m1 0h1m0 0h1m1 0h1m-32 1h1m0 0h1m0 0h1m1 0h1m4 0h1m0 0h1m3 0h1m11 0h1m2 0h1m-33 1h1m0 0h1m1 0h1m0 0h1m1 0h1m2 0h1m0 0h1m0 0h1m1 0h1m1 0h1m13 0h1m0 0h1m-31 1h1m0 0h1m0 0h1m0 0h1m0 0h1m0 0h1m0 0h1m0 0h1m4 0h1m11 0h1m-25 1h1m0 0h1m0 0h1m0 0h1m0 0h1m0 0h1m0 0h1m0 0h1m1 0h1m3 0h1m4 0h1m-19 1h1m1 0h1m0 0h1m0 0h1m1 0h1m2 0h1m0 0h1m1 0h1m0 0h1m14 0h1m-29 1h1m0 0h1m0 0h1m0 0h1m0 0h1m0 0h1m0 0h1m0 0h1m1 0h1m1 0h1m3 0h1m-15 1h1m0 0h1m0 0h1m0 0h1m0 0h1m0 0h1m0 0h1m0 0h1m8 0h1m-17 1h1m0 0h1m0 0h1m0 0h1m0 0h1m2 0h1m1 0h1m0 0h1m-12 1h1m0 0h1m0 0h1m0 0h1m0 0h1m0 0h1m0 0h1m1 0h1m1 0h1m0 0h1m-12 1h1m0 0h1m0 0h1m0 0h1m0 0h1m0 0h1m0 0h1m0 0h1m0 0h1m0 0h1m0 0h1m1 0h1m-13 1h1m0 0h1m0 0h1m0 0h1m0 0h1m1 0h1m0 0h1m0 0h1m0 0h1m2 0h1m2 0h1m-16 1h1m0 0h1m0 0h1m0 0h1m0 0h1m0 0h1m0 0h1m1 0h1m5 0h1"/>
<path transform="translate(0.5 1)" stroke="#f00" fill="none" d="M393 31h1m22 0h1m-17 2h1m37 1h1m-45 1h1m-3 1h1m22 1h1m-24 4h1m12 0h1m6 0h1m-13 1h1m-3 1h1m-5 1h1m14 0h1m-30 1h1m4 2h1m8 1h1m-11 2h1m10 0h1m12 0h1m5 0h1m-33 1h1m2 1h1m14 0h1m-6 4h1m35 0h1m-31 1h1m15 0h1m-26 1h1m-8 2h1m9 0h1m22 0h1m-25 1h1m9 0h1m-11 1h1m3 0h1m2 0h1m24 0h1m-22 1h1m-1 1h1m22 1h1m-41 2h1m55 0h1m-35 1h1m-6 1h1m0 0h1m-10 1h1m10 0h1m-7 2h1m-15 1h1m18 0h1m-2 5h1m0 0h1m9 0h1m-34 1h1m32 0h1m10 0h1m-45 1h1m22 2h1m8 0h1m-36 1h1m21 0h1m-15 1h1m9 1h1m14 0h1m7 0h1m-15 1h1m-21 1h1m17 0h1m-24 1h1m1 0h1m13 0h1m20 1h1m-22 1h1m26 0h1m-28 1h1m39 0h1m-59 1h1m29 0h1m-25 1h1m27 1h1m-18 2h1m20 0h1m-28 1h1m9 0h1m24 0h1m-35 1h1m1 0h1m17 0h1m-20 1h1m-6 1h1m7 0h1m-5 1h1m15 0h1m-21 1h1m7 0h1m-17 1h1m34 0h1m-18 1h1m13 0h1m-10 1h1m9 0h1m-4 1h1m1 0h1m-35 2h1m0 0h1m11 0h1m11 0h1m-10 1h1m10 0h1m2 0h1m0 0h1m-31 1h1m0 0h1m40 0h1m3 0h1m-25 1h1m1 0h1m2 0h1m19 0h1m-46 1h1m7 0h1m3 0h1m0 0h1m15 0h1m-34 1h1m1 0h1m7 0h1m9 0h1m4 0h1m12 0h1m3 0h1m-40 1h1m10 0h1m0 0h1m3 0h1m2 0h1m1 0h1m-27 1h1m2 0h1m9 0h1m2 0h1m22 0h1m1 0h1m-38 1h1m2 0h1m17 0h1m9 0h1m-35 1h1m9 0h1m2 0h1m14 0h1m0 0h1m7 0h1m3 0h1m10 0h1m-44 1h1m1 0h1m5 0h1m0 0h1m0 0h1m13 0h1m-28 1h1m24 0h1m2 0h1m8 0h1m0 0h1m3 0h1m-28 1h1m7 0h1m9 0h1m3 0h1m-40 1h1m8 0h1m6 0h1m7 0h1m1 0h1m1 0h1m5 0h1m0 0h1m3 0h1m9 0h1m-53 1h1m10 0h1m1 0h1m0 0h1m15 0h1m3 0h1m1 0h1m2 0h1m0 0h1m2 0h1m0 0h1m1 0h1m1 0h1m-44 1h1m1 0h1m14 0h1m13 0h1m4 0h1m0 0h1m0 0h1m1 0h1m10 0h1m-49 1h1m12 0h1m6 0h1m3 0h1m1 0h1m1 0h1m0 0h1m0 0h1m2 0h1m-38 1h1m3 0h1m19 0h1m0 0h1m0 0h1m0 0h1m0 0h1m0 0h1m0 0h1m0 0h1m0 0h1m0 0h1m0 0h1m2 0h1m0 0h1m-45 1h1m12 0h1m0 0h1m7 0h1m2 0h1m4 0h1m0 0h1m1 0h1m2 0h1m0 0h1m1 0h1m0 0h1m0 0h1m0 0h1m1 0h1m0 0h1m2 0h1m-39 1h1m6 0h1m6 0h1m2 0h1m3 0h1m0 0h1m0 0h1m0 0h1m0 0h1m0 0h1m0 0h1m0 0h1m0 0h1m2 0h1m3 0h1m1 0h1m-44 1h1m22 0h1m0 0h1m0 0h1m0 0h1m0 0h1m0 0h1m0 0h1m0 0h1m0 0h1m0 0h1m0 0h1m0 0h1m0 0h1m0 0h1m0 0h1m0 0h1m3 0h1m1 0h1m-46 1h1m0 0h1m0 0h1m1 0h1m0 0h1m9 0h1m3 0h1m1 0h1m0 0h1m0 0h1m1 0h1m0 0h1m0 0h1m0 0h1m0 0h1m0 0h1m0 0h1m0 0h1m0 0h1m0 0h1m0 0h1m0 0h1m1 0h1m-40 1h1m2 0h1m12 0h1m4 0h1m0 0h1m0 0h1m0 0h1m2 0h1m0 0h1m0 0h1m0 0h1m0 0h1m0 0h1m0 0h1m0 0h1m0 0h1m0 0h1m0 0h1m1 0h1m3 0h1m-45 1h1m5 0h1m18 0h1m0 0h1m0 0h1m0 0h1m0 0h1m0 0h1m0 0h1m0 0h1m0 0h1m0 0h1m0 0h1m0 0h1m0 0h1m0 0h1m0 0h1m0 0h1m-42 1h1m2 0h1m2 0h1m0 0h1m0 0h1m1 0h1m11 0h1m0 0h1m0 0h1m0 0h1m0 0h1m0 0h1m0 0h1m0 0h1m0 0h1m0 0h1m0 0h1m0 0h1m0 0h1m0 0h1m0 0h1m0 0h1m0 0h1m6 0h1m-45 1h1m0 0h1m5 0h1m0 0h1m13 0h1m1 0h1m0 0h1m0 0h1m0 0h1m1 0h1m0 0h1m0 0h1m0 0h1m0 0h1m0 0h1m2 0h1m2 0h1m-42 1h1m0 0h1m1 0h1m0 0h1m9 0h1m0 0h1m2 0h1m0 0h1m2 0h1m0 0h1m2 0h1m0 0h1m0 0h1m1 0h1m0 0h1m0 0h1m0 0h1m0 0h1m0 0h1m0 0h1m3 0h1m-42 1h1m3 0h1m6 0h1m1 0h1m5 0h1m0 0h1m3 0h1m1 0h1m1 0h1m0 0h1m0 0h1m0 0h1m1 0h1m0 0h1m0 0h1m0 0h1m0 0h1m1 0h1m-40 1h1m0 0h1m1 0h1m0 0h1m0 0h1m10 0h1m2 0h1m4 0h1m0 0h1m0 0h1m0 0h1m0 0h1m1 0h1m0 0h1m0 0h1m0 0h1m0 0h1m-33 1h1m0 0h1m1 0h1m1 0h1m3 0h1m0 0h1m0 0h1m5 0h1m3 0h1m1 0h1m1 0h1m0 0h1m0 0h1m0 0h1m2 0h1m0 0h1m0 0h1m7 0h1m-44 1h1m0 0h1m1 0h1m0 0h1m2 0h1m4 0h1m5 0h1m4 0h1m0 0h1m1 0h1m1 0h1m0 0h1m0 0h1m1 0h1m1 0h1m0 0h1m5 0h1m-42 1h1m3 0h1m0 0h1m1 0h1m0 0h1m0 0h1m0 0h1m0 0h1m1 0h1m6 0h1m5 0h1m1 0h1m0 0h1m2 0h1m-33 1h1m0 0h1m0 0h1m0 0h1m1 0h1m0 0h1m0 0h1m1 0h1m6 0h1m4 0h1m4 0h1m0 0h1m3 0h1m1 0h1m1 0h1m-37 1h1m0 0h1m0 0h1m0 0h1m1 0h1m1 0h1m2 0h1m0 0h1m2 0h1m7 0h1m6 0h1m9 0h1m-39 1h1m0 0h1m0 0h1m1 0h1m0 0h1m0 0h1m2 0h1m0 0h1m4 0h1m1 0h1m8 0h1m0 0h1m-28 1h1m0 0h1m0 0h1m0 0h1m0 0h1m0 0h1m0 0h1m0 0h1m0 0h1m2 0h1m19 0h1m-32 1h1m0 0h1m0 0h1m0 0h1m0 0h1m0 0h1m0 0h1m0 0h1m0 0h1m4 0h1m3 0h1m-19 1h1m0 0h1m0 0h1m0 0h1m0 0h1m0 0h1m0 0h1m1 0h1m0 0h1m0 0h1m17 0h1m-29 1h1m0 0h1m0 0h1m0 0h1m0 0h1m0 0h1m0 0h1m0 0h1m0 0h1m0 0h1m1 0h1m-12 1h1m0 0h1m0 0h1m0 0h1m0 0h1m0 0h1m2 0h1m0 0h1m9 0h1m-20 1h1m0 0h1m0 0h1m0 0h1m0 0h1m0 0h1m0 0h1m0 0h1m0 0h1m0 0h1m0 0h1m0 0h1m3 0h1m0 0h1m-17 1h1m0 0h1m0 0h1m0 0h1m0 0h1m0 0h1m0 0h1m0 0h1m1 0h1m0 0h1m2 0h1m-14 1h1m0 0h1m0 0h1m0 0h1m0 0h1m0 0h1m0 0h1m0 0h1m0 0h1m0 0h1m0 0h1m2 0h1m-14 1h1m0 0h1m0 0h1m0 0h1m1 0h1m0 0h1m0 0h1m0 0h1m0 0h1m1 0h1m0 0h1m2 0h1"/>
<line x1="375.1" y1="30.3" x2="375.1" y2="152.3" stroke="#2a2a2a" stroke-width="1" />
<line x1="371.3" y1="146.68" x2="375.1" y2="146.68" stroke="#2a2a2a" stroke-width="0.8" />
<line x1="371.3" y1="141.76" x2="375.1" y2="141.76" stroke="#2a2a2a" stroke-width="0.8" />
<line x1="371.3" y1="136.84" x2="375.1" y2="136.84" stroke="#2a2a2a" stroke-width="0.8" />
<line x1="371.3" y1="131.92" x2="375.1" y2="131.92" stroke="#2a2a2a" stroke-width="0.8" />
<line x1="369.1" y1="127" x2="375.1" y2="127" stroke="#2a2a2a" stroke-width="0.8" />
<line x1="371.3" y1="122.08" x2="375.1" y2="122.08" stroke="#2a2a2a" stroke-width="0.8" />
<line x1="371.3" y1="117.16" x2="375.1" y2="117.16" stroke="#2a2a2a" stroke-width="0.8" />
<line x1="371.3" y1="112.24" x2="375.1" y2="112.24" stroke="#2a2a2a" stroke-width="0.8" />
<line x1="371.3" y1="107.32" x2="375.1" y2="107.32" stroke="#2a2a2a" stroke-width="0.8" />
<line x1="369.1" y1="102.4" x2="375.1" y2="102.4" stroke="#2a2a2a" stroke-width="0.8" />
<line x1="371.3" y1="97.48" x2="375.1" y2="97.48" stroke="#2a2a2a" stroke-width="0.8" />
<line x1="371.3" y1="92.56" x2="375.1" y2="92.56" stroke="#2a2a2a" stroke-width="0.8" />
<line x1="371.3" y1="87.64" x2="375.1" y2="87.64" stroke="#2a2a2a" stroke-width="0.8" />
<line x1="371.3" y1="82.72" x2="375.1" y2="82.72" stroke="#2a2a2a" stroke-width="0.8" />
<line x1="369.1" y1="77.8" x2="375.1" y2="77.8" stroke="#2a2a2a" stroke-width="0.8" />
<line x1="371.3" y1="72.88" x2="375.1" y2="72.88" stroke="#2a2a2a" stroke-width="0.8" />
<line x1="371.3" y1="67.96" x2="375.1" y2="67.96" stroke="#2a2a2a" stroke-width="0.8" />
<line x1="371.3" y1="63.04" x2="375.1" y2="63.04" stroke="#2a2a2a" stroke-width="0.8" />
<line x1="371.3" y1="58.12" x2="375.1" y2="58.12" stroke="#2a2a2a" stroke-width="0.8" />
<line x1="369.1" y1="53.2" x2="375.1" y2="53.2" stroke="#2a2a2a" stroke-width="0.8" />
<line x1="371.3" y1="48.28" x2="375.1" y2="48.28" stroke="#2a2a2a" stroke-width="0.8" />
<line x1="371.3" y1="43.36" x2="375.1" y2="43.36" stroke="#2a2a2a" stroke-width="0.8" />
<line x1="371.3" y1="38.44" x2="375.1" y2="38.44" stroke="#2a2a2a" stroke-width="0.8" />
<line x1="371.3" y1="33.52" x2="375.1" y2="33.52" stroke="#2a2a2a" stroke-width="0.8" />
<text x="369.1" y="130.44" font-size="6.14" fill="#3a3a3a" transform="rotate(-90 369.1 130.44)">50</text>
<text x="369.1" y="107.62" font-size="6.14" fill="#3a3a3a" transform="rotate(-90 369.1 107.62)">100</text>
<text x="369.1" y="83.02" font-size="6.14" fill="#3a3a3a" transform="rotate(-90 369.1 83.02)">150</text>
<text x="369.1" y="58.36" font-size="6.14" fill="#3a3a3a" transform="rotate(-90 369.1 58.36)">200</text>
<line x1="375.1" y1="152.3" x2="508.6" y2="152.3" stroke="#2a2a2a" stroke-width="1" />
<line x1="379.75" y1="152.3" x2="379.75" y2="156.1" stroke="#2a2a2a" stroke-width="0.8" />
<line x1="385.39" y1="152.3" x2="385.39" y2="156.1" stroke="#2a2a2a" stroke-width="0.8" />
<line x1="391.04" y1="152.3" x2="391.04" y2="156.1" stroke="#2a2a2a" stroke-width="0.8" />
<line x1="396.68" y1="152.3" x2="396.68" y2="156.1" stroke="#2a2a2a" stroke-width="0.8" />
<line x1="402.33" y1="152.3" x2="402.33" y2="157.8" stroke="#2a2a2a" stroke-width="0.8" />
<line x1="407.97" y1="152.3" x2="407.97" y2="156.1" stroke="#2a2a2a" stroke-width="0.8" />
<line x1="413.62" y1="152.3" x2="413.62" y2="156.1" stroke="#2a2a2a" stroke-width="0.8" />
<line x1="419.26" y1="152.3" x2="419.26" y2="156.1" stroke="#2a2a2a" stroke-width="0.8" />
<line x1="424.91" y1="152.3" x2="424.91" y2="156.1" stroke="#2a2a2a" stroke-width="0.8" />
<line x1="430.55" y1="152.3" x2="430.55" y2="157.8" stroke="#2a2a2a" stroke-width="0.8" />
<line x1="436.2" y1="152.3" x2="436.2" y2="156.1" stroke="#2a2a2a" stroke-width="0.8" />
<line x1="441.84" y1="152.3" x2="441.84" y2="156.1" stroke="#2a2a2a" stroke-width="0.8" />
<line x1="447.49" y1="152.3" x2="447.49" y2="156.1" stroke="#2a2a2a" stroke-width="0.8" />
<line x1="453.13" y1="152.3" x2="453.13" y2="156.1" stroke="#2a2a2a" stroke-width="0.8" />
<line x1="458.78" y1="152.3" x2="458.78" y2="157.8" stroke="#2a2a2a" stroke-width="0.8" />
<line x1="464.42" y1="152.3" x2="464.42" y2="156.1" stroke="#2a2a2a" stroke-width="0.8" />
<line x1="470.07" y1="152.3" x2="470.07" y2="156.1" stroke="#2a2a2a" stroke-width="0.8" />
<line x1="475.71" y1="152.3" x2="475.71" y2="156.1" stroke="#2a2a2a" stroke-width="0.8" />
<line x1="481.36" y1="152.3" x2="481.36" y2="156.1" stroke="#2a2a2a" stroke-width="0.8" />
<line x1="487" y1="152.3" x2="487" y2="157.8" stroke="#2a2a2a" stroke-width="0.8" />
<line x1="492.65" y1="152.3" x2="492.65" y2="156.1" stroke="#2a2a2a" stroke-width="0.8" />
<line x1="498.29" y1="152.3" x2="498.29" y2="156.1" stroke="#2a2a2a" stroke-width="0.8" />
<line x1="503.94" y1="152.3" x2="503.94" y2="156.1" stroke="#2a2a2a" stroke-width="0.8" />
<text x="398.65" y="165.6" font-size="6.57" fill="#3a3a3a">50</text>
<text x="424.96" y="165.6" font-size="6.57" fill="#3a3a3a">100</text>
<text x="453.19" y="165.6" font-size="6.57" fill="#3a3a3a">150</text>
<text x="481.48" y="165.6" font-size="6.57" fill="#3a3a3a">200</text>
<polygon points="393.4,117.3 419.1,116.4 421.9,118.3 431.3,125.8 431.3,133.2 428.9,138.8 419.6,150.1 394.8,149.1 383.1,140.2 382.2,132.3 382.7,126.2 386,123" fill="none" stroke="#333" stroke-width="0.9"/>
<text x="429.76" y="121.1" font-size="7.88" font-family="Liberation Serif" fill="#333" textLength="7.54" lengthAdjust="spacingAndGlyphs">P1</text>
<text x="434.56" y="173.6" font-size="8.57" font-weight="bold" fill="#000" textLength="22.3" lengthAdjust="spacingAndGlyphs">FSC-A</text>
<text x="483.62" y="174.38" font-size="6.09" fill="#3a3a3a" textLength="24.8" lengthAdjust="spacingAndGlyphs">(x 1,000)</text>
<text x="361.4" y="102.29" font-size="8.71" font-weight="bold" fill="#000" textLength="22.21" lengthAdjust="spacingAndGlyphs" transform="rotate(-90 361.4 102.29)">SSC-A</text>
<text x="360.71" y="57.89" font-size="5.43" fill="#3a3a3a" textLength="25.42" lengthAdjust="spacingAndGlyphs" transform="rotate(-90 360.71 57.89)">(x 1,000)</text>
<rect x="514.6" y="22.4" width="160.2" height="155.1" fill="none" stroke="#262626" stroke-width="1.3" />
<path transform="translate(0 0.5)" stroke="#f00" fill="none" d="M578 119h1m-10 3h1m3 0h1m11 0h1m-41 2h1m14 0h1m24 0h1m-39 1h1m6 0h1m4 0h1m16 0h1m11 0h1m2 0h1m-41 1h1m1 0h1m5 0h1m102 0h1m-121 1h1m0 0h1m4 0h1m7 0h1m1 0h1m3 0h1m0 0h1m2 0h1m0 0h1m0 0h1m5 0h1m1 0h1m1 0h1m2 0h1m15 0h1m3 0h1m-59 1h1m0 0h1m1 0h1m6 0h1m2 0h1m1 0h1m0 0h1m0 0h1m3 0h1m2 0h1m2 0h1m3 0h1m0 0h1m4 0h1m1 0h1m0 0h1m12 0h1m-54 1h1m2 0h1m0 0h1m2 0h1m0 0h1m1 0h1m1 0h1m3 0h1m0 0h1m0 0h1m1 0h1m4 0h1m0 0h1m3 0h1m4 0h1m1 0h1m5 0h1m3 0h1m1 0h1m-48 1h1m0 0h1m3 0h1m0 0h1m0 0h1m1 0h1m0 0h1m1 0h1m0 0h1m0 0h1m1 0h1m0 0h1m6 0h1m0 0h1m0 0h1m1 0h1m1 0h1m1 0h1m1 0h1m3 0h1m2 0h1m-44 1h1m0 0h1m0 0h1m1 0h1m0 0h1m1 0h1m0 0h1m0 0h1m0 0h1m2 0h1m0 0h1m1 0h1m1 0h1m0 0h1m0 0h1m2 0h1m2 0h1m3 0h1m1 0h1m0 0h1m4 0h1m0 0h1m5 0h1m58 0h1m-105 1h1m1 0h1m1 0h1m0 0h1m0 0h1m0 0h1m0 0h1m1 0h1m1 0h1m0 0h1m0 0h1m0 0h1m0 0h1m0 0h1m0 0h1m0 0h1m0 0h1m1 0h1m1 0h1m1 0h1m0 0h1m0 0h1m2 0h1m0 0h1m4 0h1m0 0h1m10 0h1m-48 1h1m1 0h1m0 0h1m0 0h1m1 0h1m0 0h1m0 0h1m0 0h1m0 0h1m3 0h1m0 0h1m3 0h1m0 0h1m1 0h1m0 0h1m2 0h1m3 0h1m1 0h1m1 0h1m0 0h1m0 0h1m7 0h1m10 0h1m5 0h1m-58 1h1m1 0h1m0 0h1m2 0h1m1 0h1m0 0h1m2 0h1m0 0h1m5 0h1m0 0h1m0 0h1m0 0h1m0 0h1m2 0h1m1 0h1m1 0h1m2 0h1m0 0h1m0 0h1m14 0h1m-57 1h1m1 0h1m0 0h1m1 0h1m2 0h1m1 0h1m0 0h1m1 0h1m2 0h1m0 0h1m4 0h1m4 0h1m1 0h1m17 0h1m5 0h1m-53 1h1m0 0h1m7 0h1m0 0h1m11 0h1m5 0h1m0 0h1m2 0h1m4 0h1m1 0h1m1 0h1m0 0h1m0 0h1m-40 1h1m2 0h1m1 0h1m2 0h1m10 0h1m2 0h1m1 0h1m2 0h1m9 0h1m-42 1h1m2 0h1m9 0h1m-11 1h1m2 0h1m1 0h1m2 0h1m25 0h1m-28 1h1m10 0h1m16 0h1m-29 1h1m6 0h1m5 0h1m2 1h1m16 4h1"/>
<path transform="translate(0.5 0.5)" stroke="#f00" fill="none" d="M569 119h1m13 2h1m-22 1h1m15 1h1m-28 1h1m4 0h1m14 0h1m-16 1h1m4 0h1m4 0h1m1 0h1m0 0h1m0 0h1m3 0h1m3 0h1m7 0h1m70 0h1m-114 1h1m5 0h1m10 0h1m6 0h1m2 0h1m0 0h1m1 0h1m0 0h1m5 0h1m3 0h1m-36 1h1m2 0h1m0 0h1m0 0h1m0 0h1m3 0h1m2 0h1m0 0h1m4 0h1m5 0h1m14 0h1m9 0h1m22 0h1m36 0h1m-114 1h1m1 0h1m6 0h1m2 0h1m0 0h1m0 0h1m0 0h1m1 0h1m2 0h1m0 0h1m0 0h1m3 0h1m0 0h1m2 0h1m2 0h1m2 0h1m0 0h1m3 0h1m4 0h1m-50 1h1m1 0h1m3 0h1m2 0h1m0 0h1m0 0h1m1 0h1m1 0h1m0 0h1m1 0h1m0 0h1m1 0h1m0 0h1m1 0h1m0 0h1m0 0h1m3 0h1m1 0h1m1 0h1m0 0h1m1 0h1m2 0h1m-42 1h1m0 0h1m2 0h1m0 0h1m2 0h1m1 0h1m1 0h1m0 0h1m0 0h1m0 0h1m0 0h1m0 0h1m0 0h1m2 0h1m1 0h1m1 0h1m1 0h1m0 0h1m2 0h1m1 0h1m1 0h1m1 0h1m16 0h1m-55 1h1m0 0h1m3 0h1m0 0h1m0 0h1m2 0h1m1 0h1m0 0h1m1 0h1m0 0h1m0 0h1m1 0h1m0 0h1m1 0h1m1 0h1m2 0h1m1 0h1m2 0h1m1 0h1m1 0h1m0 0h1m2 0h1m1 0h1m3 0h1m13 0h1m1 0h1m-62 1h1m3 0h1m1 0h1m0 0h1m0 0h1m0 0h1m1 0h1m0 0h1m0 0h1m0 0h1m1 0h1m1 0h1m1 0h1m0 0h1m0 0h1m0 0h1m0 0h1m0 0h1m0 0h1m0 0h1m0 0h1m1 0h1m1 0h1m0 0h1m1 0h1m3 0h1m14 0h1m-54 1h1m0 0h1m0 0h1m0 0h1m3 0h1m0 0h1m0 0h1m0 0h1m0 0h1m0 0h1m0 0h1m0 0h1m0 0h1m4 0h1m0 0h1m0 0h1m4 0h1m5 0h1m0 0h1m3 0h1m-41 1h1m2 0h1m0 0h1m1 0h1m0 0h1m0 0h1m2 0h1m0 0h1m0 0h1m0 0h1m0 0h1m5 0h1m0 0h1m1 0h1m5 0h1m0 0h1m1 0h1m1 0h1m7 0h1m1 0h1m53 0h1m-100 1h1m2 0h1m0 0h1m0 0h1m1 0h1m1 0h1m0 0h1m2 0h1m2 0h1m0 0h1m1 0h1m1 0h1m1 0h1m5 0h1m2 0h1m1 0h1m5 0h1m-41 1h1m0 0h1m1 0h1m0 0h1m6 0h1m0 0h1m0 0h1m1 0h1m0 0h1m0 0h1m0 0h1m0 0h1m1 0h1m3 0h1m2 0h1m1 0h1m3 0h1m1 0h1m0 0h1m2 0h1m1 0h1m9 0h1m-53 1h1m0 0h1m0 0h1m2 0h1m5 0h1m3 0h1m0 0h1m1 0h1m2 0h1m3 0h1m3 0h1m1 0h1m1 0h1m5 0h1m0 0h1m-36 1h1m3 0h1m2 0h1m1 0h1m0 0h1m8 0h1m2 0h1m0 0h1m5 0h1m6 0h1m-31 1h1m22 0h1m9 0h1m5 0h1m21 0h1m-64 1h1m1 0h1m6 0h1m5 0h1m-2 1h1m17 0h1m-24 2h1"/>
<path transform="translate(0 1)" stroke="#f00" fill="none" d="M569 121h1m-21 2h1m7 0h1m3 0h1m4 0h1m26 1h1m-48 1h1m9 0h1m5 0h1m8 0h1m0 0h1m51 0h1m-76 1h1m6 0h1m0 0h1m0 0h1m0 0h1m2 0h1m1 0h1m4 0h1m1 0h1m-29 1h1m7 0h1m4 0h1m4 0h1m0 0h1m1 0h1m2 0h1m0 0h1m0 0h1m1 0h1m0 0h1m0 0h1m0 0h1m0 0h1m1 0h1m10 0h1m1 0h1m-41 1h1m1 0h1m1 0h1m0 0h1m0 0h1m1 0h1m0 0h1m1 0h1m0 0h1m0 0h1m1 0h1m2 0h1m4 0h1m4 0h1m7 0h1m-44 1h1m2 0h1m0 0h1m1 0h1m2 0h1m1 0h1m0 0h1m0 0h1m1 0h1m2 0h1m4 0h1m0 0h1m0 0h1m1 0h1m1 0h1m2 0h1m5 0h1m9 0h1m-48 1h1m1 0h1m2 0h1m2 0h1m2 0h1m0 0h1m0 0h1m0 0h1m0 0h1m0 0h1m0 0h1m1 0h1m0 0h1m4 0h1m0 0h1m1 0h1m6 0h1m5 0h1m1 0h1m1 0h1m18 0h1m-65 1h1m3 0h1m0 0h1m1 0h1m0 0h1m0 0h1m0 0h1m1 0h1m1 0h1m1 0h1m1 0h1m1 0h1m0 0h1m6 0h1m3 0h1m0 0h1m0 0h1m2 0h1m0 0h1m3 0h1m9 0h1m24 0h1m-79 1h1m1 0h1m2 0h1m1 0h1m3 0h1m0 0h1m0 0h1m0 0h1m0 0h1m0 0h1m0 0h1m5 0h1m0 0h1m0 0h1m1 0h1m0 0h1m0 0h1m1 0h1m5 0h1m0 0h1m0 0h1m2 0h1m0 0h1m9 0h1m-51 1h1m0 0h1m0 0h1m0 0h1m0 0h1m0 0h1m0 0h1m0 0h1m0 0h1m0 0h1m0 0h1m1 0h1m0 0h1m0 0h1m4 0h1m4 0h1m0 0h1m2 0h1m0 0h1m3 0h1m2 0h1m2 0h1m79 0h1m-123 1h1m1 0h1m0 0h1m0 0h1m0 0h1m0 0h1m1 0h1m3 0h1m0 0h1m0 0h1m3 0h1m1 0h1m0 0h1m0 0h1m0 0h1m2 0h1m4 0h1m3 0h1m7 0h1m47 0h1m-90 1h1m0 0h1m0 0h1m0 0h1m0 0h1m0 0h1m0 0h1m1 0h1m1 0h1m0 0h1m2 0h1m1 0h1m0 0h1m0 0h1m1 0h1m4 0h1m3 0h1m2 0h1m8 0h1m12 0h1m-54 1h1m5 0h1m1 0h1m2 0h1m2 0h1m1 0h1m1 0h1m4 0h1m0 0h1m3 0h1m1 0h1m2 0h1m36 0h1m30 0h1m-104 1h1m2 0h1m1 0h1m1 0h1m6 0h1m0 0h1m1 0h1m1 0h1m1 0h1m1 0h1m0 0h1m5 0h1m1 0h1m4 0h1m-38 1h1m10 0h1m2 0h1m4 0h1m0 0h1m1 0h1m1 0h1m2 0h1m10 0h1m2 0h1m2 0h1m-45 1h1m6 0h1m6 0h1m11 0h1m3 0h1m9 0h1m2 0h1m-36 1h1m-1 1h1m4 0h1m4 1h1"/>
<path transform="translate(0.5 1)" stroke="#f00" fill="none" d="M584 121h1m-24 1h1m11 1h1m-30 1h1m4 0h1m12 0h1m9 0h1m45 0h1m-76 1h1m5 0h1m8 0h1m0 0h1m1 0h1m0 0h1m10 0h1m7 0h1m-33 1h1m1 0h1m0 0h1m5 0h1m2 0h1m6 0h1m4 0h1m0 0h1m5 0h1m13 0h1m-43 1h1m3 0h1m1 0h1m2 0h1m1 0h1m0 0h1m0 0h1m1 0h1m8 0h1m2 0h1m3 0h1m3 0h1m15 0h1m-58 1h1m0 0h1m1 0h1m0 0h1m0 0h1m2 0h1m2 0h1m0 0h1m0 0h1m2 0h1m0 0h1m0 0h1m2 0h1m3 0h1m2 0h1m1 0h1m0 0h1m5 0h1m1 0h1m0 0h1m2 0h1m61 0h1m-104 1h1m2 0h1m2 0h1m0 0h1m1 0h1m0 0h1m0 0h1m0 0h1m1 0h1m1 0h1m0 0h1m0 0h1m0 0h1m14 0h1m8 0h1m8 0h1m11 0h1m-70 1h1m0 0h1m1 0h1m0 0h1m0 0h1m1 0h1m0 0h1m0 0h1m0 0h1m0 0h1m6 0h1m2 0h1m2 0h1m0 0h1m1 0h1m1 0h1m6 0h1m1 0h1m1 0h1m18 0h1m-59 1h1m0 0h1m1 0h1m1 0h1m1 0h1m0 0h1m1 0h1m1 0h1m0 0h1m0 0h1m0 0h1m0 0h1m0 0h1m3 0h1m0 0h1m0 0h1m0 0h1m0 0h1m2 0h1m5 0h1m9 0h1m-45 1h1m1 0h1m0 0h1m0 0h1m0 0h1m2 0h1m0 0h1m2 0h1m0 0h1m0 0h1m0 0h1m0 0h1m4 0h1m0 0h1m0 0h1m1 0h1m3 0h1m1 0h1m0 0h1m1 0h1m1 0h1m0 0h1m2 0h1m4 0h1m6 0h1m-53 1h1m1 0h1m0 0h1m0 0h1m0 0h1m0 0h1m0 0h1m1 0h1m0 0h1m1 0h1m0 0h1m1 0h1m1 0h1m0 0h1m1 0h1m0 0h1m0 0h1m3 0h1m0 0h1m0 0h1m0 0h1m0 0h1m0 0h1m4 0h1m7 0h1m2 0h1m5 0h1m-55 1h1m6 0h1m1 0h1m0 0h1m3 0h1m0 0h1m0 0h1m0 0h1m0 0h1m0 0h1m3 0h1m0 0h1m6 0h1m1 0h1m4 0h1m6 0h1m1 0h1m31 0h1m-81 1h1m0 0h1m2 0h1m0 0h1m6 0h1m1 0h1m0 0h1m1 0h1m2 0h1m2 0h1m1 0h1m1 0h1m0 0h1m2 0h1m1 0h1m0 0h1m0 0h1m2 0h1m2 0h1m3 0h1m2 0h1m-49 1h1m2 0h1m0 0h1m0 0h1m1 0h1m0 0h1m1 0h1m1 0h1m1 0h1m0 0h1m0 0h1m5 0h1m0 0h1m0 0h1m4 0h1m1 0h1m0 0h1m3 0h1m1 0h1m5 0h1m17 0h1m36 0h1m-99 1h1m5 0h1m3 0h1m0 0h1m1 0h1m3 0h1m1 0h1m1 0h1m2 0h1m0 0h1m1 0h1m0 0h1m9 0h1m0 0h1m3 0h1m11 0h1m-54 1h1m2 0h1m2 0h1m0 0h1m5 0h1m5 0h1m0 0h1m3 0h1m4 0h1m6 0h1m0 0h1m-40 1h1m4 0h1m4 0h1m1 0h1m4 0h1m5 0h1m3 0h1m13 0h1m-34 1h1m5 0h1m0 0h1m4 0h1m0 1h1m26 3h1"/>
<line x1="542.3" y1="27.2" x2="542.3" y2="150.1" stroke="#2a2a2a" stroke-width="1" />
<line x1="538.5" y1="145.35" x2="542.3" y2="145.35" stroke="#2a2a2a" stroke-width="0.8" />
<line x1="538.5" y1="140.5" x2="542.3" y2="140.5" stroke="#2a2a2a" stroke-width="0.8" />
<line x1="538.5" y1="135.65" x2="542.3" y2="135.65" stroke="#2a2a2a" stroke-width="0.8" />
<line x1="538.5" y1="130.8" x2="542.3" y2="130.8" stroke="#2a2a2a" stroke-width="0.8" />
<line x1="536.3" y1="125.95" x2="542.3" y2="125.95" stroke="#2a2a2a" stroke-width="0.8" />
<line x1="538.5" y1="121.1" x2="542.3" y2="121.1" stroke="#2a2a2a" stroke-width="0.8" />
<line x1="538.5" y1="116.25" x2="542.3" y2="116.25" stroke="#2a2a2a" stroke-width="0.8" />
<line x1="538.5" y1="111.4" x2="542.3" y2="111.4" stroke="#2a2a2a" stroke-width="0.8" />
<line x1="538.5" y1="106.55" x2="542.3" y2="106.55" stroke="#2a2a2a" stroke-width="0.8" />
<line x1="536.3" y1="101.7" x2="542.3" y2="101.7" stroke="#2a2a2a" stroke-width="0.8" />
<line x1="538.5" y1="96.85" x2="542.3" y2="96.85" stroke="#2a2a2a" stroke-width="0.8" />
<line x1="538.5" y1="92" x2="542.3" y2="92" stroke="#2a2a2a" stroke-width="0.8" />
<line x1="538.5" y1="87.15" x2="542.3" y2="87.15" stroke="#2a2a2a" stroke-width="0.8" />
<line x1="538.5" y1="82.3" x2="542.3" y2="82.3" stroke="#2a2a2a" stroke-width="0.8" />
<line x1="536.3" y1="77.45" x2="542.3" y2="77.45" stroke="#2a2a2a" stroke-width="0.8" />
<line x1="538.5" y1="72.6" x2="542.3" y2="72.6" stroke="#2a2a2a" stroke-width="0.8" />
<line x1="538.5" y1="67.75" x2="542.3" y2="67.75" stroke="#2a2a2a" stroke-width="0.8" />
<line x1="538.5" y1="62.9" x2="542.3" y2="62.9" stroke="#2a2a2a" stroke-width="0.8" />
<line x1="538.5" y1="58.05" x2="542.3" y2="58.05" stroke="#2a2a2a" stroke-width="0.8" />
<line x1="536.3" y1="53.2" x2="542.3" y2="53.2" stroke="#2a2a2a" stroke-width="0.8" />
<line x1="538.5" y1="48.35" x2="542.3" y2="48.35" stroke="#2a2a2a" stroke-width="0.8" />
<line x1="538.5" y1="43.5" x2="542.3" y2="43.5" stroke="#2a2a2a" stroke-width="0.8" />
<line x1="538.5" y1="38.65" x2="542.3" y2="38.65" stroke="#2a2a2a" stroke-width="0.8" />
<line x1="538.5" y1="33.8" x2="542.3" y2="33.8" stroke="#2a2a2a" stroke-width="0.8" />
<line x1="536.3" y1="28.95" x2="542.3" y2="28.95" stroke="#2a2a2a" stroke-width="0.8" />
<text x="536.4" y="129.47" font-size="6.29" fill="#3a3a3a" transform="rotate(-90 536.4 129.47)">50</text>
<text x="536.4" y="107.04" font-size="6.29" fill="#3a3a3a" transform="rotate(-90 536.4 107.04)">100</text>
<text x="536.4" y="82.79" font-size="6.29" fill="#3a3a3a" transform="rotate(-90 536.4 82.79)">150</text>
<text x="536.4" y="58.48" font-size="6.29" fill="#3a3a3a" transform="rotate(-90 536.4 58.48)">200</text>
<line x1="542.3" y1="150.1" x2="671.1" y2="150.1" stroke="#2a2a2a" stroke-width="1" />
<line x1="543.88" y1="150.1" x2="543.88" y2="153.9" stroke="#2a2a2a" stroke-width="0.8" />
<line x1="548.48" y1="150.1" x2="548.48" y2="153.9" stroke="#2a2a2a" stroke-width="0.8" />
<line x1="552.04" y1="150.1" x2="552.04" y2="153.9" stroke="#2a2a2a" stroke-width="0.8" />
<line x1="554.95" y1="150.1" x2="554.95" y2="153.9" stroke="#2a2a2a" stroke-width="0.8" />
<line x1="557.41" y1="150.1" x2="557.41" y2="153.9" stroke="#2a2a2a" stroke-width="0.8" />
<line x1="559.54" y1="150.1" x2="559.54" y2="153.9" stroke="#2a2a2a" stroke-width="0.8" />
<line x1="561.42" y1="150.1" x2="561.42" y2="153.9" stroke="#2a2a2a" stroke-width="0.8" />
<line x1="563.1" y1="150.1" x2="563.1" y2="155.6" stroke="#2a2a2a" stroke-width="0.8" />
<line x1="574.16" y1="150.1" x2="574.16" y2="153.9" stroke="#2a2a2a" stroke-width="0.8" />
<line x1="580.63" y1="150.1" x2="580.63" y2="153.9" stroke="#2a2a2a" stroke-width="0.8" />
<line x1="585.23" y1="150.1" x2="585.23" y2="153.9" stroke="#2a2a2a" stroke-width="0.8" />
<line x1="588.79" y1="150.1" x2="588.79" y2="153.9" stroke="#2a2a2a" stroke-width="0.8" />
<line x1="591.7" y1="150.1" x2="591.7" y2="153.9" stroke="#2a2a2a" stroke-width="0.8" />
<line x1="594.16" y1="150.1" x2="594.16" y2="153.9" stroke="#2a2a2a" stroke-width="0.8" />
<line x1="596.29" y1="150.1" x2="596.29" y2="153.9" stroke="#2a2a2a" stroke-width="0.8" />
<line x1="598.17" y1="150.1" x2="598.17" y2="153.9" stroke="#2a2a2a" stroke-width="0.8" />
<line x1="599.85" y1="150.1" x2="599.85" y2="155.6" stroke="#2a2a2a" stroke-width="0.8" />
<line x1="610.91" y1="150.1" x2="610.91" y2="153.9" stroke="#2a2a2a" stroke-width="0.8" />
<line x1="617.38" y1="150.1" x2="617.38" y2="153.9" stroke="#2a2a2a" stroke-width="0.8" />
<line x1="621.98" y1="150.1" x2="621.98" y2="153.9" stroke="#2a2a2a" stroke-width="0.8" />
<line x1="625.54" y1="150.1" x2="625.54" y2="153.9" stroke="#2a2a2a" stroke-width="0.8" />
<line x1="628.45" y1="150.1" x2="628.45" y2="153.9" stroke="#2a2a2a" stroke-width="0.8" />
<line x1="630.91" y1="150.1" x2="630.91" y2="153.9" stroke="#2a2a2a" stroke-width="0.8" />
<line x1="633.04" y1="150.1" x2="633.04" y2="153.9" stroke="#2a2a2a" stroke-width="0.8" />
<line x1="634.92" y1="150.1" x2="634.92" y2="153.9" stroke="#2a2a2a" stroke-width="0.8" />
<line x1="636.6" y1="150.1" x2="636.6" y2="155.6" stroke="#2a2a2a" stroke-width="0.8" />
<line x1="647.66" y1="150.1" x2="647.66" y2="153.9" stroke="#2a2a2a" stroke-width="0.8" />
<line x1="654.13" y1="150.1" x2="654.13" y2="153.9" stroke="#2a2a2a" stroke-width="0.8" />
<line x1="658.73" y1="150.1" x2="658.73" y2="153.9" stroke="#2a2a2a" stroke-width="0.8" />
<line x1="662.29" y1="150.1" x2="662.29" y2="153.9" stroke="#2a2a2a" stroke-width="0.8" />
<line x1="665.2" y1="150.1" x2="665.2" y2="153.9" stroke="#2a2a2a" stroke-width="0.8" />
<line x1="667.66" y1="150.1" x2="667.66" y2="153.9" stroke="#2a2a2a" stroke-width="0.8" />
<line x1="669.79" y1="150.1" x2="669.79" y2="153.9" stroke="#2a2a2a" stroke-width="0.8" />
<text x="558.11" y="163.3" font-size="6.13" fill="#3a3a3a" textLength="9.79" lengthAdjust="spacingAndGlyphs">10<tspan style="font-size:0.9em" dy="-0.5em">2</tspan></text>
<text x="594.86" y="163.3" font-size="6.13" fill="#3a3a3a" textLength="9.79" lengthAdjust="spacingAndGlyphs">10<tspan style="font-size:0.9em" dy="-0.5em">3</tspan></text>
<text x="631.62" y="163.3" font-size="6.13" fill="#3a3a3a" textLength="9.66" lengthAdjust="spacingAndGlyphs">10<tspan style="font-size:0.9em" dy="-0.5em">4</tspan></text>
<rect x="572.3" y="87.2" width="83.2" height="62.9" fill="none" stroke="#3c3c3c" stroke-width="1" />
<text x="604.39" y="81.45" font-size="7.23" font-weight="bold" fill="#000" textLength="51.49" lengthAdjust="spacingAndGlyphs">P5 (HSC ACE2<tspan style="font-size:0.7em" dy="-0.45em">+</tspan><tspan dy="0.315em">)</tspan></text>
<text x="590.85" y="172" font-size="9" font-weight="bold" fill="#000" textLength="32.2" lengthAdjust="spacingAndGlyphs">PE-ACE2</text>
<text x="526.4" y="101.58" font-size="7.71" font-weight="bold" fill="#000" textLength="22.09" lengthAdjust="spacingAndGlyphs" transform="rotate(-90 526.4 101.58)">SSC-H</text>
<text x="527.66" y="55.39" font-size="5.22" fill="#3a3a3a" textLength="25.42" lengthAdjust="spacingAndGlyphs" transform="rotate(-90 527.66 55.39)">(x 1,000)</text>
<rect x="350.6" y="180.6" width="160.6" height="153.7" fill="none" stroke="#262626" stroke-width="1.3" />
<path transform="translate(0 0.5)" stroke="#f00" fill="none" d="M377 274h1m53 1h1m-35 1h1m55 1h1m-76 1h1m12 0h1m-14 1h1m34 0h1m27 0h1m-65 1h1m20 0h1m33 0h1m4 0h1m0 0h1m-59 1h1m37 0h1m27 0h1m-55 1h1m2 0h1m34 0h1m-54 1h1m0 0h1m12 0h1m6 0h1m6 0h1m5 0h1m10 0h1m8 0h1m20 0h1m3 0h1m-80 1h1m0 0h1m13 0h1m0 0h1m2 0h1m8 0h1m14 0h1m5 0h1m5 0h1m14 0h1m0 0h1m3 0h1m-69 1h1m4 0h1m0 0h1m0 0h1m6 0h1m36 0h1m9 0h1m0 0h1m8 0h1m-79 1h1m0 0h1m4 0h1m1 0h1m6 0h1m0 0h1m5 0h1m0 0h1m20 0h1m2 0h1m3 0h1m1 0h1m4 0h1m0 0h1m1 0h1m2 0h1m7 0h1m-73 1h1m0 0h1m6 0h1m2 0h1m0 0h1m0 0h1m0 0h1m3 0h1m1 0h1m0 0h1m0 0h1m0 0h1m23 0h1m10 0h1m0 0h1m4 0h1m15 0h1m-80 1h1m1 0h1m5 0h1m4 0h1m0 0h1m0 0h1m0 0h1m0 0h1m1 0h1m0 0h1m0 0h1m1 0h1m29 0h1m2 0h1m4 0h1m0 0h1m1 0h1m3 0h1m1 0h1m2 0h1m0 0h1m2 0h1m-79 1h1m1 0h1m8 0h1m0 0h1m1 0h1m0 0h1m1 0h1m0 0h1m1 0h1m0 0h1m0 0h1m4 0h1m0 0h1m2 0h1m13 0h1m5 0h1m0 0h1m3 0h1m2 0h1m2 0h1m2 0h1m9 0h1m2 0h1m-79 1h1m0 0h1m7 0h1m2 0h1m0 0h1m6 0h1m0 0h1m0 0h1m0 0h1m4 0h1m24 0h1m1 0h1m5 0h1m16 0h1m9 0h1m-83 1h1m0 0h1m0 0h1m3 0h1m0 0h1m0 0h1m1 0h1m0 0h1m1 0h1m1 0h1m2 0h1m23 0h1m3 0h1m6 0h1m1 0h1m6 0h1m-69 1h1m4 0h1m2 0h1m2 0h1m1 0h1m1 0h1m1 0h1m0 0h1m0 0h1m0 0h1m1 0h1m2 0h1m7 0h1m5 0h1m5 0h1m0 0h1m4 0h1m3 0h1m6 0h1m1 0h1m4 0h1m12 0h1m-83 1h1m0 0h1m0 0h1m2 0h1m0 0h1m9 0h1m4 0h1m5 0h1m22 0h1m14 0h1m1 0h1m11 0h1m5 0h1m-86 1h1m1 0h1m3 0h1m1 0h1m3 0h1m0 0h1m3 0h1m2 0h1m4 0h1m2 0h1m-23 1h1m4 0h1m5 0h1m33 0h1m3 0h1m10 0h1m21 0h1m-77 1h1m2 0h1m0 0h1m10 0h1m25 0h1m17 0h1m4 0h1m3 0h1m-81 1h1m0 0h1m0 0h1m10 0h1m1 0h1m24 0h1m20 0h1m-25 1h1m-26 1h1m45 0h1m0 0h1m12 0h1m-65 1h1m56 0h1m-54 1h1m-12 3h1m65 1h1"/>
<path transform="translate(0.5 0.5)" stroke="#f00" fill="none" d="M459 272h1m-62 2h1m-4 1h1m-18 1h1m-2 1h1m71 0h1m-72 1h1m5 0h1m1 0h1m57 0h1m3 0h1m9 0h1m3 0h1m-85 1h1m16 0h1m42 0h1m11 0h1m2 0h1m2 0h1m1 0h1m-81 1h1m67 0h1m-61 1h1m8 0h1m2 0h1m4 0h1m15 0h1m9 0h1m18 0h1m0 0h1m1 0h1m0 0h1m-75 1h1m8 0h1m1 0h1m1 0h1m0 0h1m24 0h1m24 0h1m2 0h1m3 0h1m2 0h1m-76 1h1m17 0h1m1 0h1m0 0h1m1 0h1m5 0h1m29 0h1m0 0h1m9 0h1m11 0h1m-73 1h1m0 0h1m5 0h1m2 0h1m34 0h1m8 0h1m1 0h1m0 0h1m1 0h1m5 0h1m0 0h1m-76 1h1m3 0h1m7 0h1m0 0h1m0 0h1m1 0h1m2 0h1m1 0h1m0 0h1m0 0h1m4 0h1m12 0h1m1 0h1m20 0h1m0 0h1m9 0h1m3 0h1m1 0h1m-83 1h1m3 0h1m2 0h1m0 0h1m4 0h1m2 0h1m1 0h1m0 0h1m5 0h1m0 0h1m2 0h1m7 0h1m13 0h1m6 0h1m1 0h1m1 0h1m2 0h1m10 0h1m-76 1h1m5 0h1m5 0h1m4 0h1m3 0h1m42 0h1m6 0h1m0 0h1m1 0h1m11 0h1m-88 1h1m0 0h1m2 0h1m0 0h1m1 0h1m2 0h1m2 0h1m0 0h1m0 0h1m1 0h1m2 0h1m0 0h1m0 0h1m4 0h1m14 0h1m5 0h1m2 0h1m7 0h1m8 0h1m3 0h1m13 0h1m-87 1h1m0 0h1m1 0h1m0 0h1m3 0h1m1 0h1m0 0h1m0 0h1m0 0h1m1 0h1m2 0h1m1 0h1m1 0h1m36 0h1m7 0h1m10 0h1m3 0h1m-83 1h1m10 0h1m1 0h1m0 0h1m1 0h1m0 0h1m0 0h1m0 0h1m2 0h1m4 0h1m16 0h1m3 0h1m1 0h1m8 0h1m4 0h1m-62 1h1m2 0h1m0 0h1m2 0h1m1 0h1m1 0h1m1 0h1m1 0h1m1 0h1m3 0h1m13 0h1m3 0h1m2 0h1m6 0h1m2 0h1m1 0h1m0 0h1m2 0h1m0 0h1m4 0h1m0 0h1m6 0h1m0 0h1m-70 1h1m3 0h1m1 0h1m1 0h1m0 0h1m1 0h1m0 0h1m0 0h1m1 0h1m1 0h1m17 0h1m2 0h1m4 0h1m1 0h1m3 0h1m3 0h1m5 0h1m-54 1h1m0 0h1m1 0h1m5 0h1m0 0h1m5 0h1m22 0h1m3 0h1m8 0h1m-51 1h1m1 0h1m0 0h1m1 0h1m1 0h1m11 0h1m12 0h1m18 0h1m-63 1h1m1 0h1m9 0h1m0 0h1m0 0h1m0 0h1m2 0h1m35 0h1m0 0h1m8 0h1m-68 1h1m7 0h1m7 0h1m5 0h1m1 0h1m0 0h1m24 0h1m2 0h1m4 0h1m12 0h1m-73 1h1m0 0h1m8 0h1m4 0h1m1 0h1m-6 1h1m2 0h1m46 0h1m6 0h1m-65 3h1m7 2h1m64 1h1"/>
<path transform="translate(0 1)" stroke="#f00" fill="none" d="M413 274h1m6 2h1m-37 1h1m0 0h1m9 0h1m5 0h1m24 0h1m-49 1h1m68 0h1m-53 1h1m-11 1h1m3 0h1m60 0h1m-73 1h1m17 0h1m3 0h1m20 0h1m14 0h1m11 0h1m0 0h1m7 0h1m-80 1h1m5 0h1m2 0h1m5 0h1m2 0h1m0 0h1m29 0h1m13 0h1m4 0h1m4 0h1m-74 1h1m9 0h1m2 0h1m4 0h1m3 0h1m27 0h1m12 0h1m0 0h1m-66 1h1m0 0h1m1 0h1m6 0h1m2 0h1m1 0h1m0 0h1m0 0h1m0 0h1m0 0h1m3 0h1m34 0h1m8 0h1m5 0h1m10 0h1m5 0h1m-90 1h1m4 0h1m6 0h1m0 0h1m0 0h1m1 0h1m5 0h1m0 0h1m2 0h1m0 0h1m25 0h1m9 0h1m8 0h1m1 0h1m0 0h1m0 0h1m-77 1h1m0 0h1m4 0h1m6 0h1m0 0h1m3 0h1m3 0h1m8 0h1m11 0h1m11 0h1m8 0h1m6 0h1m10 0h1m-83 1h1m7 0h1m2 0h1m0 0h1m0 0h1m2 0h1m0 0h1m0 0h1m4 0h1m0 0h1m1 0h1m27 0h1m9 0h1m2 0h1m0 0h1m7 0h1m-77 1h1m5 0h1m2 0h1m0 0h1m1 0h1m0 0h1m0 0h1m1 0h1m3 0h1m0 0h1m1 0h1m0 0h1m1 0h1m2 0h1m19 0h1m6 0h1m5 0h1m0 0h1m1 0h1m4 0h1m14 0h1m-86 1h1m6 0h1m0 0h1m2 0h1m0 0h1m0 0h1m0 0h1m0 0h1m3 0h1m0 0h1m5 0h1m3 0h1m11 0h1m10 0h1m2 0h1m0 0h1m4 0h1m0 0h1m0 0h1m2 0h1m9 0h1m1 0h1m1 0h1m-83 1h1m0 0h1m3 0h1m7 0h1m0 0h1m1 0h1m3 0h1m1 0h1m0 0h1m0 0h1m26 0h1m1 0h1m4 0h1m4 0h1m2 0h1m0 0h1m4 0h1m14 0h1m-88 1h1m0 0h1m4 0h1m0 0h1m0 0h1m0 0h1m0 0h1m2 0h1m1 0h1m1 0h1m2 0h1m4 0h1m27 0h1m1 0h1m2 0h1m5 0h1m-64 1h1m8 0h1m2 0h1m0 0h1m0 0h1m2 0h1m1 0h1m12 0h1m16 0h1m3 0h1m0 0h1m5 0h1m4 0h1m16 0h1m-76 1h1m2 0h1m0 0h1m0 0h1m2 0h1m1 0h1m2 0h1m2 0h1m2 0h1m1 0h1m3 0h1m0 0h1m2 0h1m13 0h1m6 0h1m4 0h1m4 0h1m-69 1h1m0 0h1m0 0h1m3 0h1m2 0h1m2 0h1m15 0h1m16 0h1m11 0h1m3 0h1m-62 1h1m19 0h1m13 0h1m25 0h1m-60 1h1m11 0h1m3 0h1m6 0h1m25 0h1m3 0h1m-54 1h1m7 0h1m0 0h1m34 0h1m-31 1h1m-15 1h1m4 0h1m9 0h1m4 0h1m2 0h1m2 0h1m34 0h1m-42 1h1m-15 1h1m8 0h1m65 0h1"/>
<path transform="translate(0.5 1)" stroke="#f00" fill="none" d="M420 275h1m43 1h1m-88 1h1m0 0h1m6 0h1m0 0h1m10 0h1m23 0h1m-23 1h1m21 0h1m3 0h1m-38 1h1m6 0h1m-12 1h1m15 0h1m4 0h1m5 0h1m3 0h1m-38 1h1m2 0h1m10 0h1m7 0h1m29 0h1m16 0h1m12 0h1m-82 1h1m1 0h1m5 0h1m3 0h1m1 0h1m58 0h1m-64 1h1m7 0h1m3 0h1m0 0h1m8 0h1m9 0h1m3 0h1m9 0h1m3 0h1m4 0h1m1 0h1m2 0h1m4 0h1m11 0h1m-77 1h1m0 0h1m0 0h1m4 0h1m4 0h1m3 0h1m22 0h1m6 0h1m8 0h1m2 0h1m2 0h1m-74 1h1m3 0h1m2 0h1m1 0h1m3 0h1m4 0h1m1 0h1m2 0h1m2 0h1m5 0h1m19 0h1m15 0h1m0 0h1m1 0h1m4 0h1m10 0h1m-88 1h1m1 0h1m3 0h1m0 0h1m0 0h1m0 0h1m0 0h1m2 0h1m0 0h1m1 0h1m2 0h1m3 0h1m1 0h1m1 0h1m22 0h1m15 0h1m1 0h1m0 0h1m5 0h1m-76 1h1m9 0h1m0 0h1m0 0h1m1 0h1m0 0h1m3 0h1m3 0h1m22 0h1m5 0h1m5 0h1m14 0h1m-74 1h1m7 0h1m0 0h1m1 0h1m2 0h1m1 0h1m3 0h1m0 0h1m0 0h1m3 0h1m25 0h1m2 0h1m13 0h1m0 0h1m6 0h1m1 0h1m6 0h1m-87 1h1m2 0h1m1 0h1m1 0h1m0 0h1m1 0h1m0 0h1m1 0h1m3 0h1m1 0h1m2 0h1m3 0h1m21 0h1m2 0h1m4 0h1m0 0h1m6 0h1m11 0h1m0 0h1m0 0h1m-79 1h1m1 0h1m4 0h1m2 0h1m0 0h1m4 0h1m3 0h1m1 0h1m1 0h1m25 0h1m2 0h1m11 0h1m16 0h1m0 0h1m0 0h1m-79 1h1m2 0h1m0 0h1m1 0h1m4 0h1m5 0h1m2 0h1m5 0h1m16 0h1m3 0h1m7 0h1m0 0h1m0 0h1m0 0h1m24 0h1m-90 1h1m4 0h1m1 0h1m0 0h1m1 0h1m4 0h1m7 0h1m10 0h1m26 0h1m8 0h1m1 0h1m6 0h1m-80 1h1m4 0h1m2 0h1m0 0h1m0 0h1m0 0h1m3 0h1m0 0h1m0 0h1m30 0h1m0 0h1m3 0h1m4 0h1m6 0h1m-66 1h1m4 0h1m0 0h1m4 0h1m0 0h1m37 0h1m11 0h1m10 0h1m5 0h1m-80 1h1m4 0h1m0 0h1m4 0h1m1 0h1m1 0h1m1 0h1m3 0h1m38 0h1m13 0h1m-69 1h1m24 0h1m-32 1h1m23 0h1m23 0h1m22 0h1m8 0h1m3 0h1m-68 1h1m-7 1h1m2 0h1m-15 1h1m-1 1h1m87 1h1m-90 4h1"/>
<line x1="377.2" y1="187.3" x2="377.2" y2="308.9" stroke="#2a2a2a" stroke-width="1" />
<line x1="373.4" y1="304.12" x2="377.2" y2="304.12" stroke="#2a2a2a" stroke-width="0.8" />
<line x1="373.4" y1="299.24" x2="377.2" y2="299.24" stroke="#2a2a2a" stroke-width="0.8" />
<line x1="373.4" y1="294.36" x2="377.2" y2="294.36" stroke="#2a2a2a" stroke-width="0.8" />
<line x1="373.4" y1="289.48" x2="377.2" y2="289.48" stroke="#2a2a2a" stroke-width="0.8" />
<line x1="371.2" y1="284.6" x2="377.2" y2="284.6" stroke="#2a2a2a" stroke-width="0.8" />
<line x1="373.4" y1="279.72" x2="377.2" y2="279.72" stroke="#2a2a2a" stroke-width="0.8" />
<line x1="373.4" y1="274.84" x2="377.2" y2="274.84" stroke="#2a2a2a" stroke-width="0.8" />
<line x1="373.4" y1="269.96" x2="377.2" y2="269.96" stroke="#2a2a2a" stroke-width="0.8" />
<line x1="373.4" y1="265.08" x2="377.2" y2="265.08" stroke="#2a2a2a" stroke-width="0.8" />
<line x1="371.2" y1="260.2" x2="377.2" y2="260.2" stroke="#2a2a2a" stroke-width="0.8" />
<line x1="373.4" y1="255.32" x2="377.2" y2="255.32" stroke="#2a2a2a" stroke-width="0.8" />
<line x1="373.4" y1="250.44" x2="377.2" y2="250.44" stroke="#2a2a2a" stroke-width="0.8" />
<line x1="373.4" y1="245.56" x2="377.2" y2="245.56" stroke="#2a2a2a" stroke-width="0.8" />
<line x1="373.4" y1="240.68" x2="377.2" y2="240.68" stroke="#2a2a2a" stroke-width="0.8" />
<line x1="371.2" y1="235.8" x2="377.2" y2="235.8" stroke="#2a2a2a" stroke-width="0.8" />
<line x1="373.4" y1="230.92" x2="377.2" y2="230.92" stroke="#2a2a2a" stroke-width="0.8" />
<line x1="373.4" y1="226.04" x2="377.2" y2="226.04" stroke="#2a2a2a" stroke-width="0.8" />
<line x1="373.4" y1="221.16" x2="377.2" y2="221.16" stroke="#2a2a2a" stroke-width="0.8" />
<line x1="373.4" y1="216.28" x2="377.2" y2="216.28" stroke="#2a2a2a" stroke-width="0.8" />
<line x1="371.2" y1="211.4" x2="377.2" y2="211.4" stroke="#2a2a2a" stroke-width="0.8" />
<line x1="373.4" y1="206.52" x2="377.2" y2="206.52" stroke="#2a2a2a" stroke-width="0.8" />
<line x1="373.4" y1="201.64" x2="377.2" y2="201.64" stroke="#2a2a2a" stroke-width="0.8" />
<line x1="373.4" y1="196.76" x2="377.2" y2="196.76" stroke="#2a2a2a" stroke-width="0.8" />
<line x1="373.4" y1="191.88" x2="377.2" y2="191.88" stroke="#2a2a2a" stroke-width="0.8" />
<line x1="371.2" y1="187" x2="377.2" y2="187" stroke="#2a2a2a" stroke-width="0.8" />
<text x="371.8" y="288.12" font-size="6.29" fill="#3a3a3a" transform="rotate(-90 371.8 288.12)">50</text>
<text x="371.8" y="265.54" font-size="6.29" fill="#3a3a3a" transform="rotate(-90 371.8 265.54)">100</text>
<text x="371.8" y="241.14" font-size="6.29" fill="#3a3a3a" transform="rotate(-90 371.8 241.14)">150</text>
<text x="371.8" y="216.68" font-size="6.29" fill="#3a3a3a" transform="rotate(-90 371.8 216.68)">200</text>
<line x1="377.2" y1="308.9" x2="504.1" y2="308.9" stroke="#2a2a2a" stroke-width="1" />
<line x1="378.42" y1="308.9" x2="378.42" y2="312.7" stroke="#2a2a2a" stroke-width="0.8" />
<line x1="383.08" y1="308.9" x2="383.08" y2="312.7" stroke="#2a2a2a" stroke-width="0.8" />
<line x1="386.69" y1="308.9" x2="386.69" y2="312.7" stroke="#2a2a2a" stroke-width="0.8" />
<line x1="389.64" y1="308.9" x2="389.64" y2="312.7" stroke="#2a2a2a" stroke-width="0.8" />
<line x1="392.13" y1="308.9" x2="392.13" y2="312.7" stroke="#2a2a2a" stroke-width="0.8" />
<line x1="394.29" y1="308.9" x2="394.29" y2="312.7" stroke="#2a2a2a" stroke-width="0.8" />
<line x1="396.2" y1="308.9" x2="396.2" y2="312.7" stroke="#2a2a2a" stroke-width="0.8" />
<line x1="397.9" y1="308.9" x2="397.9" y2="314.4" stroke="#2a2a2a" stroke-width="0.8" />
<line x1="409.11" y1="308.9" x2="409.11" y2="312.7" stroke="#2a2a2a" stroke-width="0.8" />
<line x1="415.67" y1="308.9" x2="415.67" y2="312.7" stroke="#2a2a2a" stroke-width="0.8" />
<line x1="420.33" y1="308.9" x2="420.33" y2="312.7" stroke="#2a2a2a" stroke-width="0.8" />
<line x1="423.94" y1="308.9" x2="423.94" y2="312.7" stroke="#2a2a2a" stroke-width="0.8" />
<line x1="426.89" y1="308.9" x2="426.89" y2="312.7" stroke="#2a2a2a" stroke-width="0.8" />
<line x1="429.38" y1="308.9" x2="429.38" y2="312.7" stroke="#2a2a2a" stroke-width="0.8" />
<line x1="431.54" y1="308.9" x2="431.54" y2="312.7" stroke="#2a2a2a" stroke-width="0.8" />
<line x1="433.45" y1="308.9" x2="433.45" y2="312.7" stroke="#2a2a2a" stroke-width="0.8" />
<line x1="435.15" y1="308.9" x2="435.15" y2="314.4" stroke="#2a2a2a" stroke-width="0.8" />
<line x1="446.36" y1="308.9" x2="446.36" y2="312.7" stroke="#2a2a2a" stroke-width="0.8" />
<line x1="452.92" y1="308.9" x2="452.92" y2="312.7" stroke="#2a2a2a" stroke-width="0.8" />
<line x1="457.58" y1="308.9" x2="457.58" y2="312.7" stroke="#2a2a2a" stroke-width="0.8" />
<line x1="461.19" y1="308.9" x2="461.19" y2="312.7" stroke="#2a2a2a" stroke-width="0.8" />
<line x1="464.14" y1="308.9" x2="464.14" y2="312.7" stroke="#2a2a2a" stroke-width="0.8" />
<line x1="466.63" y1="308.9" x2="466.63" y2="312.7" stroke="#2a2a2a" stroke-width="0.8" />
<line x1="468.79" y1="308.9" x2="468.79" y2="312.7" stroke="#2a2a2a" stroke-width="0.8" />
<line x1="470.7" y1="308.9" x2="470.7" y2="312.7" stroke="#2a2a2a" stroke-width="0.8" />
<line x1="472.4" y1="308.9" x2="472.4" y2="314.4" stroke="#2a2a2a" stroke-width="0.8" />
<line x1="483.61" y1="308.9" x2="483.61" y2="312.7" stroke="#2a2a2a" stroke-width="0.8" />
<line x1="490.17" y1="308.9" x2="490.17" y2="312.7" stroke="#2a2a2a" stroke-width="0.8" />
<line x1="494.83" y1="308.9" x2="494.83" y2="312.7" stroke="#2a2a2a" stroke-width="0.8" />
<line x1="498.44" y1="308.9" x2="498.44" y2="312.7" stroke="#2a2a2a" stroke-width="0.8" />
<line x1="501.39" y1="308.9" x2="501.39" y2="312.7" stroke="#2a2a2a" stroke-width="0.8" />
<line x1="503.88" y1="308.9" x2="503.88" y2="312.7" stroke="#2a2a2a" stroke-width="0.8" />
<text x="392.91" y="322.3" font-size="6.13" fill="#3a3a3a" textLength="9.79" lengthAdjust="spacingAndGlyphs">10<tspan style="font-size:0.9em" dy="-0.5em">2</tspan></text>
<text x="430.16" y="322.3" font-size="6.13" fill="#3a3a3a" textLength="9.79" lengthAdjust="spacingAndGlyphs">10<tspan style="font-size:0.9em" dy="-0.5em">3</tspan></text>
<text x="467.42" y="322.3" font-size="6.13" fill="#3a3a3a" textLength="9.66" lengthAdjust="spacingAndGlyphs">10<tspan style="font-size:0.9em" dy="-0.5em">4</tspan></text>
<rect x="378" y="188.4" width="30" height="120.5" fill="none" stroke="#3c3c3c" stroke-width="1" />
<text x="416.88" y="218.24" font-size="7.28" font-weight="bold" fill="#000" textLength="27.34" lengthAdjust="spacingAndGlyphs">P2 (Lin<tspan style="font-size:0.7em" dy="-0.45em">-</tspan><tspan dy="0.315em">)</tspan></text>
<text x="423.46" y="330.6" font-size="8.75" font-weight="bold" fill="#000" textLength="29.74" lengthAdjust="spacingAndGlyphs">FITC-Lin</text>
<text x="364.7" y="257.18" font-size="9.14" font-weight="bold" fill="#000" textLength="21.8" lengthAdjust="spacingAndGlyphs" transform="rotate(-90 364.7 257.18)">SSC-A</text>
<text x="363.07" y="213.99" font-size="4.67" fill="#3a3a3a" textLength="25.72" lengthAdjust="spacingAndGlyphs" transform="rotate(-90 363.07 213.99)">(x 1,000)</text>
<rect x="514.7" y="180.6" width="161.2" height="154.3" fill="none" stroke="#262626" stroke-width="1.3" />
<path transform="translate(0 0.5)" stroke="#f00" fill="none" d="M583 283h1m-8 3h1m-12 5h1m16 0h1m27 0h1m-54 1h1m8 1h1m9 0h1m-34 2h1m7 0h1m5 1h1m0 0h1m-16 1h1m5 0h1m4 0h1m13 0h1m0 0h1m3 0h1m-9 1h1m-8 1h1"/>
<path transform="translate(0.5 0.5)" stroke="#f00" fill="none" d="M604 287h1m-43 5h1m5 0h1m1 0h1m9 0h1m6 0h1m0 0h1m8 0h1m-35 2h1m5 0h1m-16 1h1m4 0h1m19 1h1m-3 1h1m5 0h1m-26 1h1m7 0h1m-20 1h1m34 0h1m-29 1h1m8 0h1m7 0h1m5 0h1m2 0h1m-17 5h1"/>
<path transform="translate(0 1)" stroke="#f00" fill="none" d="M589 283h1m35 1h1m-37 2h1m14 0h1m-27 1h1m5 0h1m-9 1h1m-19 1h1m24 0h1m-21 1h1m10 0h1m4 0h1m8 0h1m-32 1h1m11 0h1m12 0h1m-12 2h1m-29 2h1m9 0h1m0 0h1m1 0h1m39 0h1m-54 1h1m16 0h1m5 1h1m-19 1h1m11 0h1m10 3h1"/>
<path transform="translate(0.5 1)" stroke="#f00" fill="none" d="M570 285h1m14 5h1m-10 1h1m4 0h1m11 0h1m-10 1h1m-6 1h1m6 0h1m1 0h1m-33 1h1m20 1h1m53 0h1m-87 1h1m9 0h1m3 0h1m8 0h1m1 0h1m-14 1h1m-15 1h1m8 0h1m13 0h1m75 0h1m-65 4h1m-6 1h1"/>
<line x1="542.6" y1="185.8" x2="542.6" y2="310.2" stroke="#2a2a2a" stroke-width="1" />
<line x1="538.8" y1="304.84" x2="542.6" y2="304.84" stroke="#2a2a2a" stroke-width="0.8" />
<line x1="538.8" y1="299.88" x2="542.6" y2="299.88" stroke="#2a2a2a" stroke-width="0.8" />
<line x1="538.8" y1="294.92" x2="542.6" y2="294.92" stroke="#2a2a2a" stroke-width="0.8" />
<line x1="538.8" y1="289.96" x2="542.6" y2="289.96" stroke="#2a2a2a" stroke-width="0.8" />
<line x1="536.6" y1="285" x2="542.6" y2="285" stroke="#2a2a2a" stroke-width="0.8" />
<line x1="538.8" y1="280.04" x2="542.6" y2="280.04" stroke="#2a2a2a" stroke-width="0.8" />
<line x1="538.8" y1="275.08" x2="542.6" y2="275.08" stroke="#2a2a2a" stroke-width="0.8" />
<line x1="538.8" y1="270.12" x2="542.6" y2="270.12" stroke="#2a2a2a" stroke-width="0.8" />
<line x1="538.8" y1="265.16" x2="542.6" y2="265.16" stroke="#2a2a2a" stroke-width="0.8" />
<line x1="536.6" y1="260.2" x2="542.6" y2="260.2" stroke="#2a2a2a" stroke-width="0.8" />
<line x1="538.8" y1="255.24" x2="542.6" y2="255.24" stroke="#2a2a2a" stroke-width="0.8" />
<line x1="538.8" y1="250.28" x2="542.6" y2="250.28" stroke="#2a2a2a" stroke-width="0.8" />
<line x1="538.8" y1="245.32" x2="542.6" y2="245.32" stroke="#2a2a2a" stroke-width="0.8" />
<line x1="538.8" y1="240.36" x2="542.6" y2="240.36" stroke="#2a2a2a" stroke-width="0.8" />
<line x1="536.6" y1="235.4" x2="542.6" y2="235.4" stroke="#2a2a2a" stroke-width="0.8" />
<line x1="538.8" y1="230.44" x2="542.6" y2="230.44" stroke="#2a2a2a" stroke-width="0.8" />
<line x1="538.8" y1="225.48" x2="542.6" y2="225.48" stroke="#2a2a2a" stroke-width="0.8" />
<line x1="538.8" y1="220.52" x2="542.6" y2="220.52" stroke="#2a2a2a" stroke-width="0.8" />
<line x1="538.8" y1="215.56" x2="542.6" y2="215.56" stroke="#2a2a2a" stroke-width="0.8" />
<line x1="536.6" y1="210.6" x2="542.6" y2="210.6" stroke="#2a2a2a" stroke-width="0.8" />
<line x1="538.8" y1="205.64" x2="542.6" y2="205.64" stroke="#2a2a2a" stroke-width="0.8" />
<line x1="538.8" y1="200.68" x2="542.6" y2="200.68" stroke="#2a2a2a" stroke-width="0.8" />
<line x1="538.8" y1="195.72" x2="542.6" y2="195.72" stroke="#2a2a2a" stroke-width="0.8" />
<line x1="538.8" y1="190.76" x2="542.6" y2="190.76" stroke="#2a2a2a" stroke-width="0.8" />
<line x1="536.6" y1="185.8" x2="542.6" y2="185.8" stroke="#2a2a2a" stroke-width="0.8" />
<text x="536.5" y="287.8" font-size="5" fill="#3a3a3a" transform="rotate(-90 536.5 287.8)">50</text>
<text x="536.5" y="264.45" font-size="5" fill="#3a3a3a" transform="rotate(-90 536.5 264.45)">100</text>
<text x="536.5" y="239.65" font-size="5" fill="#3a3a3a" transform="rotate(-90 536.5 239.65)">150</text>
<text x="536.5" y="214.8" font-size="5" fill="#3a3a3a" transform="rotate(-90 536.5 214.8)">200</text>
<line x1="542.6" y1="310.2" x2="673.6" y2="310.2" stroke="#2a2a2a" stroke-width="1" />
<line x1="548" y1="310.2" x2="548" y2="314" stroke="#2a2a2a" stroke-width="0.8" />
<line x1="551.58" y1="310.2" x2="551.58" y2="314" stroke="#2a2a2a" stroke-width="0.8" />
<line x1="554.5" y1="310.2" x2="554.5" y2="314" stroke="#2a2a2a" stroke-width="0.8" />
<line x1="556.98" y1="310.2" x2="556.98" y2="314" stroke="#2a2a2a" stroke-width="0.8" />
<line x1="559.12" y1="310.2" x2="559.12" y2="314" stroke="#2a2a2a" stroke-width="0.8" />
<line x1="561.01" y1="310.2" x2="561.01" y2="314" stroke="#2a2a2a" stroke-width="0.8" />
<line x1="562.7" y1="310.2" x2="562.7" y2="315.7" stroke="#2a2a2a" stroke-width="0.8" />
<line x1="573.82" y1="310.2" x2="573.82" y2="314" stroke="#2a2a2a" stroke-width="0.8" />
<line x1="580.33" y1="310.2" x2="580.33" y2="314" stroke="#2a2a2a" stroke-width="0.8" />
<line x1="584.95" y1="310.2" x2="584.95" y2="314" stroke="#2a2a2a" stroke-width="0.8" />
<line x1="588.53" y1="310.2" x2="588.53" y2="314" stroke="#2a2a2a" stroke-width="0.8" />
<line x1="591.45" y1="310.2" x2="591.45" y2="314" stroke="#2a2a2a" stroke-width="0.8" />
<line x1="593.93" y1="310.2" x2="593.93" y2="314" stroke="#2a2a2a" stroke-width="0.8" />
<line x1="596.07" y1="310.2" x2="596.07" y2="314" stroke="#2a2a2a" stroke-width="0.8" />
<line x1="597.96" y1="310.2" x2="597.96" y2="314" stroke="#2a2a2a" stroke-width="0.8" />
<line x1="599.65" y1="310.2" x2="599.65" y2="315.7" stroke="#2a2a2a" stroke-width="0.8" />
<line x1="610.77" y1="310.2" x2="610.77" y2="314" stroke="#2a2a2a" stroke-width="0.8" />
<line x1="617.28" y1="310.2" x2="617.28" y2="314" stroke="#2a2a2a" stroke-width="0.8" />
<line x1="621.9" y1="310.2" x2="621.9" y2="314" stroke="#2a2a2a" stroke-width="0.8" />
<line x1="625.48" y1="310.2" x2="625.48" y2="314" stroke="#2a2a2a" stroke-width="0.8" />
<line x1="628.4" y1="310.2" x2="628.4" y2="314" stroke="#2a2a2a" stroke-width="0.8" />
<line x1="630.88" y1="310.2" x2="630.88" y2="314" stroke="#2a2a2a" stroke-width="0.8" />
<line x1="633.02" y1="310.2" x2="633.02" y2="314" stroke="#2a2a2a" stroke-width="0.8" />
<line x1="634.91" y1="310.2" x2="634.91" y2="314" stroke="#2a2a2a" stroke-width="0.8" />
<line x1="636.6" y1="310.2" x2="636.6" y2="315.7" stroke="#2a2a2a" stroke-width="0.8" />
<line x1="647.72" y1="310.2" x2="647.72" y2="314" stroke="#2a2a2a" stroke-width="0.8" />
<line x1="654.23" y1="310.2" x2="654.23" y2="314" stroke="#2a2a2a" stroke-width="0.8" />
<line x1="658.85" y1="310.2" x2="658.85" y2="314" stroke="#2a2a2a" stroke-width="0.8" />
<line x1="662.43" y1="310.2" x2="662.43" y2="314" stroke="#2a2a2a" stroke-width="0.8" />
<line x1="665.35" y1="310.2" x2="665.35" y2="314" stroke="#2a2a2a" stroke-width="0.8" />
<line x1="667.83" y1="310.2" x2="667.83" y2="314" stroke="#2a2a2a" stroke-width="0.8" />
<line x1="669.97" y1="310.2" x2="669.97" y2="314" stroke="#2a2a2a" stroke-width="0.8" />
<line x1="671.86" y1="310.2" x2="671.86" y2="314" stroke="#2a2a2a" stroke-width="0.8" />
<line x1="673.55" y1="310.2" x2="673.55" y2="315.7" stroke="#2a2a2a" stroke-width="0.8" />
<text x="557.71" y="323.3" font-size="6.13" fill="#3a3a3a" textLength="9.79" lengthAdjust="spacingAndGlyphs">10<tspan style="font-size:0.9em" dy="-0.5em">2</tspan></text>
<text x="594.66" y="323.3" font-size="6.13" fill="#3a3a3a" textLength="9.79" lengthAdjust="spacingAndGlyphs">10<tspan style="font-size:0.9em" dy="-0.5em">3</tspan></text>
<text x="631.62" y="323.3" font-size="6.13" fill="#3a3a3a" textLength="9.66" lengthAdjust="spacingAndGlyphs">10<tspan style="font-size:0.9em" dy="-0.5em">4</tspan></text>
<rect x="573.9" y="245.6" width="70.6" height="64.6" fill="none" stroke="#3c3c3c" stroke-width="1" />
<text x="592.5" y="238.72" font-size="6.91" font-weight="bold" fill="#000" textLength="53.99" lengthAdjust="spacingAndGlyphs">P6 (VSEL ACE2<tspan style="font-size:0.7em" dy="-0.45em">+</tspan><tspan dy="0.315em">)</tspan></text>
<text x="590.85" y="332" font-size="9" font-weight="bold" fill="#000" textLength="32.2" lengthAdjust="spacingAndGlyphs">PE-ACE2</text>
<text x="528.7" y="258.68" font-size="8.14" font-weight="bold" fill="#000" textLength="21.47" lengthAdjust="spacingAndGlyphs" transform="rotate(-90 528.7 258.68)">SSC-H</text>
<text x="529.17" y="211.07" font-size="4.67" fill="#3a3a3a" textLength="24.49" lengthAdjust="spacingAndGlyphs" transform="rotate(-90 529.17 211.07)">(x 1,000)</text>
<rect x="350.3" y="336.4" width="160.9" height="153.7" fill="none" stroke="#262626" stroke-width="1.3" />
<path transform="translate(0 0.5)" stroke="#f00" fill="none" d="M391 380h1m2 4h1m-11 1h1m2 1h1m-7 1h1m17 2h1m-3 1h1m42 1h1m-53 2h1m3 1h1m53 0h1m-17 1h1m-47 1h1m0 0h1m-6 1h1m1 0h1m9 0h1m20 0h1m-31 1h1m2 0h1m0 0h1m9 0h1m4 0h1m6 0h1m13 0h1m-37 1h1m0 0h1m0 0h1m1 0h1m10 0h1m1 0h1m2 0h1m1 0h1m4 0h1m0 0h1m2 0h1m2 0h1m-40 1h1m2 0h1m1 0h1m3 0h1m1 0h1m6 0h1m2 0h1m3 0h1m1 0h1m2 0h1m0 0h1m1 0h1m5 0h1m1 0h1m0 0h1m7 0h1m-49 1h1m1 0h1m6 0h1m0 0h1m2 0h1m3 0h1m1 0h1m2 0h1m0 0h1m0 0h1m1 0h1m0 0h1m0 0h1m0 0h1m0 0h1m0 0h1m1 0h1m3 0h1m0 0h1m3 0h1m4 0h1m-53 1h1m1 0h1m0 0h1m6 0h1m4 0h1m0 0h1m2 0h1m0 0h1m3 0h1m3 0h1m0 0h1m0 0h1m0 0h1m0 0h1m1 0h1m2 0h1m0 0h1m1 0h1m0 0h1m0 0h1m0 0h1m0 0h1m3 0h1m-48 1h1m3 0h1m1 0h1m0 0h1m1 0h1m0 0h1m0 0h1m2 0h1m0 0h1m6 0h1m1 0h1m2 0h1m2 0h1m0 0h1m0 0h1m0 0h1m1 0h1m1 0h1m0 0h1m0 0h1m0 0h1m0 0h1m1 0h1m0 0h1m2 0h1m3 0h1m-49 1h1m0 0h1m3 0h1m3 0h1m2 0h1m4 0h1m1 0h1m0 0h1m0 0h1m0 0h1m1 0h1m0 0h1m0 0h1m1 0h1m0 0h1m1 0h1m0 0h1m0 0h1m0 0h1m1 0h1m3 0h1m1 0h1m4 0h1m8 0h1m-55 1h1m0 0h1m0 0h1m1 0h1m1 0h1m1 0h1m1 0h1m1 0h1m1 0h1m3 0h1m0 0h1m0 0h1m1 0h1m0 0h1m0 0h1m0 0h1m0 0h1m0 0h1m0 0h1m0 0h1m0 0h1m0 0h1m0 0h1m0 0h1m0 0h1m2 0h1m0 0h1m2 0h1m0 0h1m5 0h1m-55 1h1m4 0h1m1 0h1m0 0h1m0 0h1m0 0h1m1 0h1m0 0h1m0 0h1m0 0h1m0 0h1m0 0h1m0 0h1m2 0h1m0 0h1m0 0h1m1 0h1m0 0h1m0 0h1m0 0h1m0 0h1m0 0h1m0 0h1m1 0h1m0 0h1m0 0h1m0 0h1m0 0h1m0 0h1m0 0h1m0 0h1m0 0h1m0 0h1m1 0h1m0 0h1m0 0h1m-46 1h1m4 0h1m3 0h1m0 0h1m0 0h1m1 0h1m3 0h1m2 0h1m1 0h1m3 0h1m0 0h1m0 0h1m0 0h1m0 0h1m0 0h1m0 0h1m0 0h1m0 0h1m1 0h1m0 0h1m0 0h1m1 0h1m0 0h1m2 0h1m2 0h1m0 0h1m-50 1h1m0 0h1m6 0h1m2 0h1m2 0h1m7 0h1m0 0h1m0 0h1m0 0h1m1 0h1m0 0h1m0 0h1m0 0h1m0 0h1m0 0h1m0 0h1m1 0h1m0 0h1m0 0h1m0 0h1m0 0h1m0 0h1m0 0h1m0 0h1m1 0h1m0 0h1m0 0h1m0 0h1m0 0h1m2 0h1m0 0h1m-51 1h1m5 0h1m2 0h1m0 0h1m2 0h1m3 0h1m2 0h1m2 0h1m0 0h1m0 0h1m0 0h1m2 0h1m0 0h1m0 0h1m0 0h1m0 0h1m0 0h1m1 0h1m1 0h1m0 0h1m0 0h1m0 0h1m4 0h1m-46 1h1m5 0h1m1 0h1m2 0h1m4 0h1m0 0h1m2 0h1m3 0h1m1 0h1m0 0h1m0 0h1m0 0h1m0 0h1m0 0h1m0 0h1m0 0h1m0 0h1m0 0h1m0 0h1m0 0h1m1 0h1m5 0h1m3 0h1m-52 1h1m7 0h1m7 0h1m11 0h1m0 0h1m1 0h1m0 0h1m2 0h1m0 0h1m0 0h1m4 0h1m14 0h1m-58 1h1m22 0h1m3 0h1m1 0h1m3 0h1m9 0h1m6 0h1m-47 1h1m29 0h1m2 0h1m7 0h1m6 0h1m-52 1h1m6 0h1m26 0h1m1 0h1m28 0h1m-64 1h1m11 0h1m13 0h1m1 0h1m24 0h1m-39 1h1m-11 1h1m10 0h1m24 0h1m19 0h1m-56 1h1m3 0h1m8 0h1m16 0h1m1 0h1m-32 1h1m0 0h1m4 0h1m-16 1h1m0 0h1m6 0h1m0 0h1m0 0h1m3 0h1m4 0h1m-16 1h1m7 0h1m2 0h1m-16 1h1m1 0h1m0 0h1m3 0h1m0 0h1m4 0h1m-15 1h1m2 0h1m2 0h1m0 0h1m0 0h1m0 0h1m3 0h1m0 0h1m0 0h1m0 0h1m0 0h1m6 0h1m-22 1h1m2 0h1m0 0h1m3 0h1m0 0h1m2 0h1m1 0h1m-16 1h1m0 0h1m0 0h1m3 0h1m0 0h1m0 0h1m0 0h1m0 0h1m0 0h1m4 0h1m0 0h1m1 0h1m8 0h1m-31 1h1m1 0h1m0 0h1m1 0h1m0 0h1m1 0h1m0 0h1m0 0h1m1 0h1m4 0h1m12 0h1m-32 1h1m1 0h1m0 0h1m0 0h1m0 0h1m0 0h1m0 0h1m0 0h1m1 0h1m0 0h1m0 0h1m3 0h1m0 0h1m8 0h1m1 0h1m2 0h1m-32 1h1m0 0h1m0 0h1m1 0h1m1 0h1m0 0h1m0 0h1m0 0h1m0 0h1m0 0h1m0 0h1m0 0h1m0 0h1m0 0h1m1 0h1m2 0h1m5 0h1m3 0h1m-29 1h1m0 0h1m0 0h1m4 0h1m2 0h1m0 0h1m0 0h1m1 0h1m0 0h1m0 0h1m0 0h1m2 0h1m0 0h1m3 0h1m-24 1h1m0 0h1m0 0h1m0 0h1m0 0h1m1 0h1m0 0h1m0 0h1m1 0h1m0 0h1m0 0h1m0 0h1m0 0h1m0 0h1m10 0h1m-30 1h1m0 0h1m2 0h1m0 0h1m1 0h1m1 0h1m0 0h1m0 0h1m0 0h1m1 0h1m0 0h1m0 0h1m2 0h1m0 0h1m-19 1h1m0 0h1m0 0h1m2 0h1m0 0h1m0 0h1m0 0h1m1 0h1m1 0h1m0 0h1m0 0h1m-17 1h1m2 0h1m0 0h1m0 0h1m0 0h1m0 0h1m0 0h1m0 0h1m0 0h1m0 0h1m0 0h1m0 0h1m0 0h1m0 0h1m4 0h1m2 0h1m-23 1h1m0 0h1m1 0h1m1 0h1m0 0h1m0 0h1m0 0h1m0 0h1m0 0h1m0 0h1m0 0h1m1 0h1m0 0h1m0 0h1m2 0h1m0 0h1m0 0h1m16 0h1m-41 1h1m0 0h1m0 0h1m0 0h1m0 0h1m0 0h1m0 0h1m0 0h1m0 0h1m0 0h1m0 0h1m0 0h1m0 0h1m1 0h1m0 0h1m0 0h1m0 0h1m0 0h1m0 0h1m-18 1h1m0 0h1m0 0h1m0 0h1m0 0h1m0 0h1m0 0h1m0 0h1m0 0h1m0 0h1m0 0h1m0 0h1m0 0h1m1 0h1m0 0h1m0 0h1m0 0h1m2 0h1m-22 1h1m1 0h1m0 0h1m1 0h1m0 0h1m0 0h1m0 0h1m2 0h1m1 0h1m0 0h1m0 0h1m0 0h1m1 0h1m0 0h1m1 0h1m-23 1h1m0 0h1m0 0h1m0 0h1m1 0h1m0 0h1m0 0h1m0 0h1m0 0h1m0 0h1m0 0h1m0 0h1m0 0h1m0 0h1m0 0h1m1 0h1m0 0h1m4 0h1m0 0h1m-23 1h1m0 0h1m0 0h1m0 0h1m0 0h1m0 0h1m1 0h1m0 0h1m0 0h1m0 0h1m0 0h1m2 0h1m0 0h1m0 0h1m4 0h1m-24 1h1m3 0h1m0 0h1m0 0h1m2 0h1m0 0h1m0 0h1m0 0h1m0 0h1m0 0h1m0 0h1m0 0h1m0 0h1m0 0h1m0 0h1m5 0h1m-24 1h1m1 0h1m0 0h1m0 0h1m0 0h1m0 0h1m0 0h1m0 0h1m0 0h1m0 0h1m1 0h1m0 0h1m0 0h1m1 0h1m1 0h1m-21 1h1m0 0h1m0 0h1m0 0h1m0 0h1m0 0h1m0 0h1m0 0h1m0 0h1m0 0h1m0 0h1m0 0h1m0 0h1m0 0h1m0 0h1m1 0h1m0 0h1m0 0h1m0 0h1m1 0h1m1 0h1m0 0h1m-25 1h1m2 0h1m0 0h1m0 0h1m1 0h1m0 0h1m0 0h1m2 0h1m0 0h1m0 0h1m0 0h1m0 0h1m1 0h1m0 0h1m4 0h1m-24 1h1m0 0h1m0 0h1m3 0h1m0 0h1m0 0h1m1 0h1m0 0h1m0 0h1m0 0h1m2 0h1m3 0h1m1 0h1m-24 1h1m1 0h1m0 0h1m1 0h1m0 0h1m0 0h1m0 0h1m0 0h1m0 0h1m0 0h1m1 0h1m0 0h1m-15 1h1m0 0h1m1 0h1m1 0h1m0 0h1m0 0h1m0 0h1m0 0h1m1 0h1m1 0h1m0 0h1m2 0h1m-16 1h1m0 0h1m0 0h1m0 0h1m0 0h1m2 0h1m0 0h1m0 0h1m0 0h1m0 0h1m2 0h1m6 0h1m8 0h1m9 0h1m-37 1h1m0 0h1m0 0h1m0 0h1m0 0h1m0 0h1m0 0h1m0 0h1m0 0h1m0 0h1m0 0h1m0 0h1m0 0h1m0 0h1m2 0h1m5 0h1m-26 1h1m0 0h1m1 0h1m2 0h1m0 0h1m0 0h1m1 0h1m0 0h1m3 0h1m-16 1h1m2 0h1m0 0h1m1 0h1m1 0h1m0 0h1m3 0h1m1 0h1m2 0h1m-14 1h1m0 0h1m0 0h1m7 0h1m12 0h1m-28 1h1m3 0h1m1 0h1m0 0h1m1 0h1m0 0h1m2 0h1m5 0h1m2 0h1m3 0h1m-27 1h1m2 0h1m3 0h1m0 0h1m0 0h1m4 0h1m0 0h1m-19 1h1m4 0h1m0 0h1m10 0h1m-17 1h1m4 0h1m2 0h1m3 0h1m4 0h1m0 0h1m-15 1h1m1 0h1m5 0h1m-14 1h1m7 0h1m36 0h1m-41 1h1m6 0h1m1 0h1m2 0h1m0 0h1m-7 1h1m-9 1h1m1 0h1m3 0h1m9 0h1m25 0h1m-29 1h1m9 0h1m-26 1h1m2 0h1m0 0h1m6 0h1m3 0h1m-13 1h1m6 0h1"/>
<path transform="translate(0.5 0.5)" stroke="#f00" fill="none" d="M394 380h1m1 1h1m-14 7h1m11 0h1m0 0h1m22 0h1m-41 1h1m1 0h1m14 1h1m21 1h1m-36 1h1m9 0h1m-6 2h1m53 0h1m-48 1h1m31 0h1m-20 1h1m5 0h1m4 0h1m-39 1h1m2 0h1m1 0h1m3 0h1m5 0h1m5 0h1m2 0h1m21 0h1m-45 1h1m0 0h1m2 0h1m2 0h1m4 0h1m12 0h1m-26 1h1m2 0h1m0 0h1m0 0h1m3 0h1m2 0h1m26 0h1m0 0h1m-40 1h1m2 0h1m0 0h1m2 0h1m3 0h1m1 0h1m1 0h1m2 0h1m2 0h1m3 0h1m0 0h1m0 0h1m1 0h1m0 0h1m1 0h1m0 0h1m2 0h1m0 0h1m3 0h1m-44 1h1m1 0h1m0 0h1m0 0h1m3 0h1m1 0h1m0 0h1m1 0h1m3 0h1m0 0h1m0 0h1m0 0h1m3 0h1m0 0h1m0 0h1m0 0h1m0 0h1m0 0h1m0 0h1m2 0h1m1 0h1m1 0h1m1 0h1m0 0h1m0 0h1m1 0h1m0 0h1m1 0h1m0 0h1m1 0h1m3 0h1m2 0h1m-52 1h1m0 0h1m0 0h1m0 0h1m0 0h1m1 0h1m4 0h1m6 0h1m0 0h1m2 0h1m0 0h1m0 0h1m0 0h1m0 0h1m0 0h1m0 0h1m0 0h1m0 0h1m0 0h1m6 0h1m3 0h1m5 0h1m-57 1h1m0 0h1m0 0h1m0 0h1m2 0h1m1 0h1m1 0h1m1 0h1m4 0h1m0 0h1m0 0h1m1 0h1m1 0h1m1 0h1m0 0h1m0 0h1m0 0h1m0 0h1m1 0h1m0 0h1m2 0h1m0 0h1m0 0h1m1 0h1m2 0h1m0 0h1m1 0h1m4 0h1m1 0h1m-49 1h1m1 0h1m1 0h1m1 0h1m1 0h1m1 0h1m0 0h1m0 0h1m1 0h1m2 0h1m1 0h1m0 0h1m1 0h1m1 0h1m0 0h1m0 0h1m0 0h1m0 0h1m0 0h1m0 0h1m1 0h1m0 0h1m1 0h1m0 0h1m2 0h1m2 0h1m2 0h1m3 0h1m-53 1h1m0 0h1m1 0h1m1 0h1m1 0h1m4 0h1m1 0h1m0 0h1m2 0h1m2 0h1m2 0h1m0 0h1m1 0h1m0 0h1m0 0h1m0 0h1m0 0h1m0 0h1m1 0h1m0 0h1m0 0h1m1 0h1m0 0h1m0 0h1m0 0h1m0 0h1m0 0h1m3 0h1m1 0h1m7 0h1m-54 1h1m1 0h1m0 0h1m1 0h1m0 0h1m0 0h1m0 0h1m1 0h1m0 0h1m1 0h1m0 0h1m0 0h1m1 0h1m0 0h1m0 0h1m1 0h1m0 0h1m0 0h1m0 0h1m0 0h1m0 0h1m0 0h1m0 0h1m0 0h1m0 0h1m0 0h1m0 0h1m0 0h1m0 0h1m0 0h1m0 0h1m1 0h1m0 0h1m2 0h1m0 0h1m1 0h1m0 0h1m4 0h1m-56 1h1m4 0h1m0 0h1m0 0h1m0 0h1m1 0h1m0 0h1m0 0h1m0 0h1m1 0h1m1 0h1m5 0h1m0 0h1m0 0h1m0 0h1m0 0h1m1 0h1m0 0h1m0 0h1m0 0h1m1 0h1m0 0h1m0 0h1m0 0h1m0 0h1m0 0h1m2 0h1m3 0h1m0 0h1m-43 1h1m0 0h1m0 0h1m2 0h1m3 0h1m1 0h1m1 0h1m1 0h1m0 0h1m3 0h1m0 0h1m0 0h1m0 0h1m1 0h1m0 0h1m0 0h1m0 0h1m0 0h1m0 0h1m0 0h1m0 0h1m1 0h1m1 0h1m2 0h1m0 0h1m1 0h1m0 0h1m0 0h1m0 0h1m2 0h1m0 0h1m-50 1h1m2 0h1m3 0h1m0 0h1m1 0h1m2 0h1m2 0h1m2 0h1m1 0h1m0 0h1m1 0h1m0 0h1m0 0h1m1 0h1m0 0h1m0 0h1m2 0h1m0 0h1m0 0h1m1 0h1m0 0h1m1 0h1m0 0h1m0 0h1m0 0h1m3 0h1m-54 1h1m4 0h1m7 0h1m2 0h1m1 0h1m0 0h1m3 0h1m0 0h1m0 0h1m1 0h1m0 0h1m1 0h1m0 0h1m0 0h1m0 0h1m0 0h1m0 0h1m0 0h1m0 0h1m1 0h1m0 0h1m0 0h1m0 0h1m1 0h1m-45 1h1m4 0h1m0 0h1m4 0h1m4 0h1m4 0h1m2 0h1m0 0h1m0 0h1m0 0h1m0 0h1m0 0h1m0 0h1m0 0h1m0 0h1m1 0h1m0 0h1m0 0h1m2 0h1m0 0h1m0 0h1m0 0h1m1 0h1m6 0h1m0 0h1m4 0h1m-49 1h1m0 0h1m2 0h1m10 0h1m1 0h1m2 0h1m0 0h1m0 0h1m5 0h1m5 0h1m1 0h1m-34 1h1m9 0h1m11 0h1m2 0h1m0 0h1m0 0h1m3 0h1m-29 1h1m11 0h1m3 0h1m2 0h1m-32 1h1m4 0h1m2 0h1m9 0h1m36 0h1m-58 1h1m10 0h1m0 0h1m5 0h1m10 0h1m-14 1h1m-16 1h1m6 0h1m1 0h1m2 0h1m7 0h1m-15 1h1m2 0h1m0 0h1m-7 1h1m0 0h1m0 0h1m6 0h1m8 0h1m-20 1h1m0 0h1m3 0h1m1 0h1m0 0h1m1 0h1m0 0h1m0 0h1m0 0h1m-18 1h1m3 0h1m0 0h1m1 0h1m2 0h1m0 0h1m0 0h1m10 0h1m-18 1h1m1 0h1m0 0h1m1 0h1m4 0h1m5 0h1m-23 1h1m1 0h1m1 0h1m0 0h1m2 0h1m1 0h1m0 0h1m0 0h1m-13 1h1m2 0h1m1 0h1m4 0h1m0 0h1m0 0h1m0 0h1m0 0h1m3 0h1m4 0h1m-25 1h1m3 0h1m0 0h1m0 0h1m0 0h1m0 0h1m0 0h1m3 0h1m0 0h1m1 0h1m1 0h1m1 0h1m-18 1h1m0 0h1m2 0h1m0 0h1m0 0h1m0 0h1m0 0h1m0 0h1m1 0h1m0 0h1m6 0h1m11 0h1m-32 1h1m2 0h1m0 0h1m0 0h1m0 0h1m1 0h1m0 0h1m0 0h1m1 0h1m4 0h1m-20 1h1m0 0h1m1 0h1m0 0h1m0 0h1m0 0h1m0 0h1m1 0h1m0 0h1m0 0h1m0 0h1m0 0h1m0 0h1m1 0h1m1 0h1m1 0h1m0 0h1m2 0h1m0 0h1m-25 1h1m0 0h1m2 0h1m0 0h1m0 0h1m0 0h1m0 0h1m1 0h1m1 0h1m0 0h1m1 0h1m0 0h1m5 0h1m-24 1h1m0 0h1m2 0h1m0 0h1m1 0h1m0 0h1m0 0h1m0 0h1m0 0h1m1 0h1m1 0h1m0 0h1m3 0h1m0 0h1m-21 1h1m0 0h1m0 0h1m1 0h1m0 0h1m1 0h1m0 0h1m0 0h1m0 0h1m3 0h1m0 0h1m0 0h1m11 0h1m-27 1h1m1 0h1m0 0h1m0 0h1m0 0h1m0 0h1m0 0h1m0 0h1m1 0h1m0 0h1m0 0h1m2 0h1m4 0h1m-24 1h1m0 0h1m1 0h1m0 0h1m1 0h1m0 0h1m0 0h1m0 0h1m0 0h1m1 0h1m1 0h1m1 0h1m1 0h1m-20 1h1m1 0h1m0 0h1m0 0h1m0 0h1m0 0h1m1 0h1m1 0h1m0 0h1m0 0h1m0 0h1m0 0h1m0 0h1m0 0h1m1 0h1m1 0h1m2 0h1m4 0h1m-29 1h1m0 0h1m1 0h1m0 0h1m0 0h1m0 0h1m1 0h1m0 0h1m0 0h1m0 0h1m0 0h1m0 0h1m0 0h1m0 0h1m0 0h1m0 0h1m0 0h1m2 0h1m1 0h1m-24 1h1m2 0h1m0 0h1m0 0h1m0 0h1m0 0h1m0 0h1m0 0h1m0 0h1m0 0h1m0 0h1m0 0h1m0 0h1m0 0h1m0 0h1m0 0h1m2 0h1m1 0h1m5 0h1m-29 1h1m0 0h1m0 0h1m2 0h1m0 0h1m0 0h1m0 0h1m0 0h1m0 0h1m0 0h1m0 0h1m1 0h1m0 0h1m0 0h1m2 0h1m0 0h1m1 0h1m2 0h1m2 0h1m13 0h1m2 0h1m-45 1h1m0 0h1m0 0h1m0 0h1m0 0h1m1 0h1m0 0h1m0 0h1m0 0h1m0 0h1m0 0h1m0 0h1m0 0h1m0 0h1m0 0h1m5 0h1m2 0h1m-24 1h1m1 0h1m0 0h1m0 0h1m0 0h1m0 0h1m0 0h1m0 0h1m1 0h1m0 0h1m0 0h1m0 0h1m0 0h1m0 0h1m0 0h1m0 0h1m2 0h1m2 0h1m-25 1h1m1 0h1m0 0h1m0 0h1m0 0h1m0 0h1m1 0h1m0 0h1m0 0h1m0 0h1m0 0h1m0 0h1m0 0h1m1 0h1m1 0h1m2 0h1m4 0h1m-26 1h1m0 0h1m1 0h1m1 0h1m0 0h1m0 0h1m1 0h1m1 0h1m0 0h1m0 0h1m0 0h1m0 0h1m1 0h1m0 0h1m-19 1h1m0 0h1m0 0h1m0 0h1m1 0h1m0 0h1m0 0h1m0 0h1m0 0h1m1 0h1m1 0h1m0 0h1m1 0h1m10 0h1m-29 1h1m0 0h1m0 0h1m0 0h1m0 0h1m0 0h1m0 0h1m0 0h1m0 0h1m0 0h1m2 0h1m0 0h1m0 0h1m1 0h1m0 0h1m-18 1h1m0 0h1m0 0h1m0 0h1m0 0h1m0 0h1m0 0h1m0 0h1m0 0h1m0 0h1m0 0h1m0 0h1m0 0h1m1 0h1m0 0h1m0 0h1m1 0h1m0 0h1m4 0h1m-24 1h1m0 0h1m1 0h1m0 0h1m0 0h1m2 0h1m0 0h1m0 0h1m1 0h1m0 0h1m0 0h1m0 0h1m0 0h1m0 0h1m1 0h1m0 0h1m3 0h1m-27 1h1m1 0h1m0 0h1m0 0h1m0 0h1m0 0h1m1 0h1m0 0h1m1 0h1m1 0h1m0 0h1m0 0h1m5 0h1m-22 1h1m0 0h1m1 0h1m2 0h1m0 0h1m1 0h1m1 0h1m1 0h1m0 0h1m1 0h1m0 0h1m0 0h1m3 0h1m0 0h1m10 0h1m11 0h1m-42 1h1m0 0h1m0 0h1m0 0h1m1 0h1m0 0h1m1 0h1m0 0h1m0 0h1m1 0h1m8 0h1m-26 1h1m1 0h1m2 0h1m0 0h1m0 0h1m0 0h1m1 0h1m3 0h1m2 0h1m-14 1h1m1 0h1m1 0h1m0 0h1m0 0h1m0 0h1m1 0h1m2 0h1m1 0h1m0 0h1m-21 1h1m0 0h1m1 0h1m5 0h1m1 0h1m0 0h1m0 0h1m0 0h1m2 0h1m0 0h1m1 0h1m0 0h1m20 0h1m6 0h1m0 0h1m-50 1h1m0 0h1m0 0h1m1 0h1m0 0h1m1 0h1m11 0h1m-16 1h1m6 0h1m3 0h1m4 0h1m8 0h1m-29 1h1m4 0h1m1 0h1m1 0h1m0 0h1m8 0h1m-11 1h1m1 0h1m4 0h1m-17 1h1m4 0h1m11 0h1m16 0h1m-25 1h1m2 0h1m0 0h1m18 0h1m-31 1h1m5 0h1m2 0h1m-1 1h1m-11 1h1m5 0h1m0 0h1m3 0h1m11 0h1m1 0h1m-16 1h1m-10 2h1m0 0h1m0 0h1m25 2h1"/>
<path transform="translate(0 1)" stroke="#f00" fill="none" d="M394 380h1m2 0h1m-7 5h1m3 0h1m10 0h1m-13 4h1m32 0h1m-38 1h1m18 2h1m7 0h1m13 1h1m-29 1h1m13 0h1m-37 1h1m15 0h1m-6 1h1m2 0h1m1 0h1m-4 1h1m1 0h1m9 0h1m5 0h1m0 0h1m4 0h1m2 0h1m14 0h1m-54 1h1m1 0h1m4 0h1m0 0h1m20 0h1m0 0h1m2 0h1m-31 1h1m0 0h1m7 0h1m2 0h1m3 0h1m1 0h1m6 0h1m3 0h1m0 0h1m0 0h1m4 0h1m4 0h1m9 0h1m-56 1h1m2 0h1m3 0h1m0 0h1m12 0h1m1 0h1m4 0h1m0 0h1m1 0h1m1 0h1m1 0h1m2 0h1m0 0h1m2 0h1m0 0h1m5 0h1m-50 1h1m2 0h1m1 0h1m0 0h1m0 0h1m0 0h1m2 0h1m9 0h1m0 0h1m1 0h1m0 0h1m2 0h1m0 0h1m1 0h1m0 0h1m0 0h1m0 0h1m4 0h1m2 0h1m0 0h1m2 0h1m15 0h1m-65 1h1m4 0h1m1 0h1m0 0h1m0 0h1m7 0h1m4 0h1m3 0h1m0 0h1m3 0h1m0 0h1m0 0h1m0 0h1m0 0h1m0 0h1m0 0h1m0 0h1m1 0h1m0 0h1m0 0h1m0 0h1m0 0h1m2 0h1m1 0h1m-51 1h1m0 0h1m2 0h1m0 0h1m3 0h1m1 0h1m2 0h1m0 0h1m0 0h1m1 0h1m0 0h1m0 0h1m0 0h1m0 0h1m1 0h1m0 0h1m0 0h1m0 0h1m0 0h1m0 0h1m0 0h1m0 0h1m1 0h1m0 0h1m0 0h1m0 0h1m0 0h1m1 0h1m0 0h1m0 0h1m0 0h1m-42 1h1m3 0h1m1 0h1m0 0h1m5 0h1m0 0h1m0 0h1m0 0h1m6 0h1m0 0h1m2 0h1m0 0h1m0 0h1m0 0h1m0 0h1m0 0h1m0 0h1m1 0h1m0 0h1m0 0h1m0 0h1m1 0h1m0 0h1m2 0h1m0 0h1m0 0h1m5 0h1m-52 1h1m0 0h1m1 0h1m1 0h1m2 0h1m0 0h1m0 0h1m0 0h1m0 0h1m2 0h1m1 0h1m0 0h1m0 0h1m0 0h1m0 0h1m0 0h1m1 0h1m0 0h1m0 0h1m0 0h1m0 0h1m1 0h1m1 0h1m0 0h1m0 0h1m0 0h1m1 0h1m0 0h1m2 0h1m1 0h1m0 0h1m3 0h1m1 0h1m2 0h1m-48 1h1m2 0h1m0 0h1m0 0h1m0 0h1m0 0h1m0 0h1m1 0h1m1 0h1m1 0h1m0 0h1m0 0h1m0 0h1m0 0h1m0 0h1m0 0h1m0 0h1m0 0h1m0 0h1m1 0h1m0 0h1m0 0h1m0 0h1m0 0h1m0 0h1m0 0h1m0 0h1m0 0h1m2 0h1m1 0h1m4 0h1m-52 1h1m1 0h1m3 0h1m0 0h1m1 0h1m1 0h1m0 0h1m0 0h1m2 0h1m1 0h1m0 0h1m0 0h1m0 0h1m0 0h1m2 0h1m0 0h1m1 0h1m0 0h1m0 0h1m0 0h1m0 0h1m1 0h1m0 0h1m0 0h1m0 0h1m0 0h1m1 0h1m0 0h1m0 0h1m1 0h1m2 0h1m17 0h1m-65 1h1m3 0h1m0 0h1m1 0h1m1 0h1m1 0h1m0 0h1m1 0h1m0 0h1m3 0h1m0 0h1m0 0h1m2 0h1m1 0h1m0 0h1m0 0h1m0 0h1m0 0h1m1 0h1m0 0h1m0 0h1m0 0h1m1 0h1m0 0h1m1 0h1m2 0h1m0 0h1m1 0h1m8 0h1m-57 1h1m1 0h1m5 0h1m0 0h1m1 0h1m0 0h1m3 0h1m0 0h1m2 0h1m1 0h1m1 0h1m0 0h1m0 0h1m0 0h1m2 0h1m0 0h1m1 0h1m0 0h1m0 0h1m0 0h1m0 0h1m1 0h1m1 0h1m1 0h1m2 0h1m0 0h1m3 0h1m-46 1h1m4 0h1m4 0h1m0 0h1m5 0h1m0 0h1m1 0h1m0 0h1m0 0h1m0 0h1m0 0h1m1 0h1m0 0h1m1 0h1m1 0h1m1 0h1m0 0h1m3 0h1m2 0h1m2 0h1m-38 1h1m3 0h1m1 0h1m5 0h1m2 0h1m0 0h1m1 0h1m1 0h1m0 0h1m1 0h1m1 0h1m5 0h1m2 0h1m2 0h1m2 0h1m-48 1h1m6 0h1m8 0h1m4 0h1m0 0h1m5 0h1m0 0h1m0 0h1m2 0h1m0 0h1m5 0h1m-46 1h1m10 0h1m0 0h1m2 0h1m16 0h1m0 0h1m0 0h1m1 0h1m4 0h1m4 0h1m-45 1h1m1 0h1m8 0h1m5 0h1m7 0h1m2 0h1m13 0h1m-46 1h1m9 0h1m29 0h1m-38 1h1m1 0h1m2 0h1m1 0h1m0 0h1m5 0h1m24 0h1m2 0h1m-33 1h1m6 0h1m-13 1h1m0 0h1m0 0h1m0 0h1m5 0h1m9 0h1m-22 1h1m11 0h1m-18 1h1m6 0h1m1 0h1m0 0h1m5 0h1m-13 1h1m0 0h1m0 0h1m0 0h1m7 0h1m0 0h1m0 0h1m-19 1h1m0 0h1m11 0h1m2 0h1m-16 1h1m3 0h1m1 0h1m0 0h1m0 0h1m2 0h1m0 0h1m0 0h1m1 0h1m0 0h1m4 0h1m-21 1h1m2 0h1m1 0h1m0 0h1m0 0h1m0 0h1m0 0h1m0 0h1m4 0h1m-16 1h1m0 0h1m0 0h1m0 0h1m0 0h1m1 0h1m1 0h1m0 0h1m0 0h1m0 0h1m5 0h1m0 0h1m-19 1h1m1 0h1m0 0h1m0 0h1m1 0h1m1 0h1m0 0h1m4 0h1m0 0h1m1 0h1m1 0h1m9 0h1m-31 1h1m2 0h1m2 0h1m0 0h1m0 0h1m2 0h1m2 0h1m0 0h1m1 0h1m3 0h1m-23 1h1m0 0h1m0 0h1m0 0h1m0 0h1m0 0h1m0 0h1m0 0h1m0 0h1m1 0h1m0 0h1m0 0h1m0 0h1m0 0h1m2 0h1m0 0h1m27 0h1m-43 1h1m0 0h1m0 0h1m0 0h1m0 0h1m0 0h1m0 0h1m0 0h1m1 0h1m0 0h1m1 0h1m2 0h1m0 0h1m0 0h1m-18 1h1m0 0h1m0 0h1m0 0h1m1 0h1m0 0h1m1 0h1m0 0h1m0 0h1m1 0h1m0 0h1m1 0h1m-19 1h1m0 0h1m1 0h1m3 0h1m0 0h1m0 0h1m0 0h1m1 0h1m0 0h1m1 0h1m0 0h1m27 0h1m-46 1h1m1 0h1m0 0h1m0 0h1m0 0h1m1 0h1m2 0h1m0 0h1m0 0h1m0 0h1m4 0h1m15 0h1m-35 1h1m0 0h1m2 0h1m0 0h1m0 0h1m0 0h1m1 0h1m0 0h1m0 0h1m0 0h1m0 0h1m0 0h1m0 0h1m0 0h1m0 0h1m0 0h1m1 0h1m3 0h1m-24 1h1m0 0h1m0 0h1m2 0h1m0 0h1m0 0h1m0 0h1m0 0h1m0 0h1m0 0h1m0 0h1m0 0h1m4 0h1m0 0h1m0 0h1m3 0h1m-25 1h1m1 0h1m1 0h1m0 0h1m0 0h1m0 0h1m0 0h1m0 0h1m0 0h1m0 0h1m0 0h1m0 0h1m0 0h1m0 0h1m0 0h1m1 0h1m1 0h1m0 0h1m13 0h1m-37 1h1m1 0h1m0 0h1m0 0h1m0 0h1m0 0h1m0 0h1m0 0h1m0 0h1m0 0h1m0 0h1m3 0h1m2 0h1m4 0h1m2 0h1m3 0h1m-31 1h1m1 0h1m0 0h1m0 0h1m0 0h1m0 0h1m0 0h1m0 0h1m0 0h1m1 0h1m0 0h1m0 0h1m0 0h1m0 0h1m0 0h1m0 0h1m0 0h1m-19 1h1m1 0h1m1 0h1m0 0h1m0 0h1m0 0h1m0 0h1m0 0h1m0 0h1m0 0h1m0 0h1m0 0h1m0 0h1m0 0h1m3 0h1m0 0h1m0 0h1m22 0h1m5 0h1m-51 1h1m1 0h1m0 0h1m0 0h1m0 0h1m0 0h1m0 0h1m1 0h1m0 0h1m0 0h1m0 0h1m0 0h1m0 0h1m0 0h1m0 0h1m3 0h1m1 0h1m-23 1h1m1 0h1m0 0h1m1 0h1m1 0h1m0 0h1m0 0h1m0 0h1m0 0h1m0 0h1m0 0h1m0 0h1m0 0h1m0 0h1m0 0h1m0 0h1m0 0h1m28 0h1m-49 1h1m0 0h1m0 0h1m0 0h1m1 0h1m0 0h1m0 0h1m0 0h1m0 0h1m2 0h1m0 0h1m0 0h1m0 0h1m0 0h1m1 0h1m1 0h1m0 0h1m-21 1h1m0 0h1m0 0h1m0 0h1m0 0h1m0 0h1m2 0h1m0 0h1m0 0h1m0 0h1m0 0h1m0 0h1m0 0h1m2 0h1m0 0h1m1 0h1m0 0h1m0 0h1m-23 1h1m0 0h1m0 0h1m0 0h1m0 0h1m0 0h1m0 0h1m0 0h1m0 0h1m0 0h1m0 0h1m0 0h1m1 0h1m0 0h1m3 0h1m1 0h1m0 0h1m-23 1h1m0 0h1m1 0h1m0 0h1m0 0h1m0 0h1m0 0h1m0 0h1m0 0h1m0 0h1m1 0h1m0 0h1m1 0h1m0 0h1m0 0h1m0 0h1m5 0h1m-23 1h1m1 0h1m0 0h1m0 0h1m1 0h1m0 0h1m0 0h1m1 0h1m0 0h1m0 0h1m0 0h1m0 0h1m0 0h1m0 0h1m0 0h1m1 0h1m3 0h1m-25 1h1m0 0h1m0 0h1m0 0h1m0 0h1m0 0h1m0 0h1m1 0h1m0 0h1m0 0h1m0 0h1m2 0h1m0 0h1m2 0h1m0 0h1m2 0h1m0 0h1m-24 1h1m0 0h1m1 0h1m0 0h1m1 0h1m0 0h1m0 0h1m0 0h1m0 0h1m0 0h1m0 0h1m0 0h1m0 0h1m1 0h1m1 0h1m0 0h1m0 0h1m-21 1h1m0 0h1m0 0h1m1 0h1m0 0h1m0 0h1m0 0h1m1 0h1m1 0h1m0 0h1m0 0h1m0 0h1m0 0h1m0 0h1m2 0h1m0 0h1m-19 1h1m1 0h1m0 0h1m0 0h1m1 0h1m0 0h1m2 0h1m2 0h1m-15 1h1m3 0h1m1 0h1m0 0h1m0 0h1m0 0h1m0 0h1m0 0h1m2 0h1m4 0h1m-16 1h1m1 0h1m2 0h1m1 0h1m0 0h1m0 0h1m0 0h1m0 0h1m0 0h1m20 0h1m-32 1h1m1 0h1m0 0h1m4 0h1m-11 1h1m0 0h1m1 0h1m3 0h1m0 0h1m8 0h1m-21 1h1m3 0h1m1 0h1m2 0h1m37 0h1m-45 1h1m1 0h1m2 0h1m0 0h1m1 0h1m2 0h1m0 0h1m1 0h1m2 0h1m11 0h1m-30 1h1m0 0h1m4 0h1m1 0h1m7 0h1m-22 1h1m0 0h1m3 0h1m0 0h1m2 0h1m7 0h1m6 0h1m0 0h1m-26 1h1m7 0h1m4 0h1m7 0h1m-19 2h1m0 0h1m-3 1h1m7 0h1m4 0h1m2 0h1m-11 2h1m3 1h1m0 0h1m-4 1h1m12 0h1m-23 1h1"/>
<path transform="translate(0.5 1)" stroke="#f00" fill="none" d="M395 382h1m-2 3h1m-13 2h1m5 3h1m-6 2h1m2 0h1m2 0h1m4 1h1m12 0h1m-10 1h1m10 0h1m-10 2h1m-16 1h1m4 0h1m2 0h1m12 0h1m-26 1h1m0 0h1m3 0h1m12 0h1m9 0h1m7 0h1m1 0h1m-33 1h1m1 0h1m4 0h1m6 0h1m2 0h1m1 0h1m1 0h1m1 0h1m0 0h1m0 0h1m2 0h1m3 0h1m2 0h1m4 0h1m-49 1h1m3 0h1m2 0h1m1 0h1m2 0h1m5 0h1m2 0h1m3 0h1m8 0h1m3 0h1m0 0h1m1 0h1m3 0h1m2 0h1m8 0h1m-58 1h1m1 0h1m1 0h1m1 0h1m0 0h1m0 0h1m3 0h1m3 0h1m0 0h1m0 0h1m7 0h1m0 0h1m0 0h1m0 0h1m0 0h1m0 0h1m0 0h1m1 0h1m1 0h1m1 0h1m2 0h1m7 0h1m-49 1h1m0 0h1m2 0h1m3 0h1m2 0h1m0 0h1m1 0h1m0 0h1m0 0h1m2 0h1m2 0h1m0 0h1m0 0h1m0 0h1m1 0h1m0 0h1m0 0h1m0 0h1m1 0h1m0 0h1m1 0h1m0 0h1m0 0h1m0 0h1m1 0h1m0 0h1m1 0h1m0 0h1m0 0h1m2 0h1m-50 1h1m4 0h1m2 0h1m0 0h1m1 0h1m0 0h1m0 0h1m0 0h1m0 0h1m2 0h1m2 0h1m3 0h1m1 0h1m0 0h1m0 0h1m1 0h1m2 0h1m1 0h1m0 0h1m0 0h1m1 0h1m1 0h1m3 0h1m-46 1h1m0 0h1m2 0h1m1 0h1m0 0h1m0 0h1m0 0h1m0 0h1m0 0h1m0 0h1m0 0h1m3 0h1m2 0h1m1 0h1m3 0h1m0 0h1m0 0h1m0 0h1m0 0h1m1 0h1m0 0h1m0 0h1m0 0h1m0 0h1m0 0h1m0 0h1m0 0h1m0 0h1m0 0h1m0 0h1m0 0h1m1 0h1m13 0h1m7 0h1m-67 1h1m1 0h1m2 0h1m0 0h1m0 0h1m0 0h1m3 0h1m1 0h1m2 0h1m0 0h1m1 0h1m0 0h1m0 0h1m0 0h1m0 0h1m0 0h1m1 0h1m0 0h1m0 0h1m1 0h1m0 0h1m0 0h1m0 0h1m0 0h1m1 0h1m0 0h1m0 0h1m2 0h1m2 0h1m0 0h1m0 0h1m2 0h1m0 0h1m-49 1h1m0 0h1m1 0h1m4 0h1m1 0h1m0 0h1m0 0h1m0 0h1m0 0h1m0 0h1m0 0h1m0 0h1m0 0h1m0 0h1m0 0h1m0 0h1m0 0h1m1 0h1m0 0h1m0 0h1m0 0h1m0 0h1m0 0h1m1 0h1m0 0h1m0 0h1m0 0h1m0 0h1m1 0h1m0 0h1m0 0h1m1 0h1m9 0h1m1 0h1m3 0h1m-63 1h1m4 0h1m2 0h1m1 0h1m0 0h1m0 0h1m1 0h1m1 0h1m3 0h1m4 0h1m0 0h1m0 0h1m0 0h1m0 0h1m1 0h1m0 0h1m0 0h1m0 0h1m0 0h1m0 0h1m0 0h1m0 0h1m0 0h1m0 0h1m0 0h1m1 0h1m3 0h1m0 0h1m0 0h1m-48 1h1m1 0h1m1 0h1m0 0h1m1 0h1m1 0h1m5 0h1m0 0h1m0 0h1m2 0h1m0 0h1m0 0h1m0 0h1m0 0h1m3 0h1m0 0h1m0 0h1m1 0h1m0 0h1m0 0h1m2 0h1m0 0h1m0 0h1m1 0h1m8 0h1m-53 1h1m5 0h1m3 0h1m7 0h1m1 0h1m0 0h1m1 0h1m1 0h1m0 0h1m1 0h1m1 0h1m0 0h1m0 0h1m0 0h1m0 0h1m0 0h1m0 0h1m1 0h1m1 0h1m0 0h1m1 0h1m0 0h1m1 0h1m0 0h1m12 0h1m-57 1h1m0 0h1m0 0h1m3 0h1m3 0h1m2 0h1m0 0h1m0 0h1m3 0h1m1 0h1m0 0h1m4 0h1m0 0h1m0 0h1m1 0h1m0 0h1m1 0h1m0 0h1m0 0h1m2 0h1m1 0h1m-46 1h1m9 0h1m8 0h1m1 0h1m7 0h1m1 0h1m1 0h1m0 0h1m2 0h1m2 0h1m0 0h1m0 0h1m1 0h1m5 0h1m-46 1h1m5 0h1m4 0h1m1 0h1m8 0h1m0 0h1m0 0h1m0 0h1m2 0h1m1 0h1m2 0h1m1 0h1m0 0h1m1 0h1m0 0h1m2 0h1m0 0h1m0 0h1m0 0h1m-44 1h1m4 0h1m14 0h1m0 0h1m4 0h1m21 0h1m-50 1h1m6 0h1m4 0h1m16 0h1m1 0h1m-32 1h1m14 0h1m16 0h1m3 0h1m-27 1h1m13 0h1m8 0h1m5 0h1m0 0h1m-44 1h1m2 0h1m0 0h1m0 0h1m1 0h1m46 0h1m-46 1h1m-12 1h1m0 0h1m4 0h1m-2 1h1m2 0h1m0 0h1m2 0h1m-9 1h1m1 0h1m0 0h1m0 0h1m6 0h1m5 0h1m-23 1h1m1 0h1m0 0h1m0 0h1m0 0h1m0 0h1m0 0h1m0 0h1m0 0h1m0 0h1m4 0h1m4 0h1m-19 1h1m1 0h1m2 0h1m1 0h1m0 0h1m0 0h1m5 0h1m1 0h1m1 0h1m-22 1h1m2 0h1m2 0h1m0 0h1m1 0h1m0 0h1m0 0h1m3 0h1m2 0h1m2 0h1m4 0h1m-24 1h1m1 0h1m1 0h1m1 0h1m0 0h1m1 0h1m2 0h1m0 0h1m1 0h1m1 0h1m2 0h1m-24 1h1m2 0h1m0 0h1m0 0h1m0 0h1m0 0h1m1 0h1m2 0h1m0 0h1m0 0h1m4 0h1m1 0h1m-19 1h1m3 0h1m0 0h1m0 0h1m0 0h1m1 0h1m3 0h1m1 0h1m3 0h1m0 0h1m0 0h1m0 0h1m-26 1h1m0 0h1m0 0h1m0 0h1m0 0h1m1 0h1m2 0h1m1 0h1m0 0h1m0 0h1m1 0h1m1 0h1m3 0h1m24 0h1m-47 1h1m2 0h1m2 0h1m1 0h1m0 0h1m0 0h1m0 0h1m2 0h1m1 0h1m18 0h1m-35 1h1m1 0h1m0 0h1m0 0h1m0 0h1m0 0h1m0 0h1m0 0h1m0 0h1m0 0h1m0 0h1m0 0h1m0 0h1m0 0h1m0 0h1m0 0h1m0 0h1m31 0h1m-50 1h1m0 0h1m0 0h1m1 0h1m0 0h1m0 0h1m0 0h1m0 0h1m0 0h1m0 0h1m0 0h1m1 0h1m3 0h1m0 0h1m-19 1h1m1 0h1m2 0h1m1 0h1m0 0h1m2 0h1m0 0h1m0 0h1m0 0h1m0 0h1m0 0h1m0 0h1m0 0h1m4 0h1m2 0h1m-27 1h1m0 0h1m1 0h1m0 0h1m0 0h1m0 0h1m0 0h1m0 0h1m0 0h1m3 0h1m2 0h1m0 0h1m0 0h1m0 0h1m0 0h1m1 0h1m7 0h1m-30 1h1m0 0h1m1 0h1m0 0h1m1 0h1m0 0h1m0 0h1m0 0h1m0 0h1m1 0h1m0 0h1m0 0h1m1 0h1m4 0h1m-21 1h1m0 0h1m0 0h1m1 0h1m0 0h1m0 0h1m0 0h1m0 0h1m1 0h1m3 0h1m0 0h1m0 0h1m0 0h1m1 0h1m4 0h1m-28 1h1m0 0h1m1 0h1m0 0h1m0 0h1m0 0h1m0 0h1m0 0h1m0 0h1m0 0h1m0 0h1m0 0h1m0 0h1m0 0h1m3 0h1m-19 1h1m1 0h1m0 0h1m0 0h1m0 0h1m0 0h1m0 0h1m0 0h1m0 0h1m1 0h1m0 0h1m0 0h1m1 0h1m0 0h1m0 0h1m0 0h1m0 0h1m0 0h1m2 0h1m-22 1h1m0 0h1m0 0h1m0 0h1m0 0h1m0 0h1m0 0h1m0 0h1m1 0h1m0 0h1m0 0h1m0 0h1m0 0h1m0 0h1m0 0h1m2 0h1m1 0h1m4 0h1m-28 1h1m0 0h1m1 0h1m2 0h1m0 0h1m0 0h1m0 0h1m0 0h1m0 0h1m0 0h1m0 0h1m0 0h1m1 0h1m2 0h1m4 0h1m8 0h1m-33 1h1m0 0h1m1 0h1m0 0h1m0 0h1m0 0h1m0 0h1m0 0h1m0 0h1m1 0h1m0 0h1m1 0h1m0 0h1m4 0h1m2 0h1m-24 1h1m0 0h1m0 0h1m0 0h1m0 0h1m0 0h1m0 0h1m0 0h1m1 0h1m0 0h1m0 0h1m1 0h1m0 0h1m1 0h1m0 0h1m16 0h1m-35 1h1m1 0h1m0 0h1m0 0h1m0 0h1m0 0h1m0 0h1m0 0h1m0 0h1m0 0h1m1 0h1m0 0h1m0 0h1m0 0h1m0 0h1m0 0h1m0 0h1m1 0h1m3 0h1m3 0h1m2 0h1m8 0h1m-40 1h1m0 0h1m0 0h1m0 0h1m1 0h1m0 0h1m0 0h1m1 0h1m0 0h1m0 0h1m0 0h1m1 0h1m0 0h1m0 0h1m0 0h1m-20 1h1m0 0h1m0 0h1m3 0h1m0 0h1m0 0h1m0 0h1m0 0h1m1 0h1m0 0h1m0 0h1m0 0h1m1 0h1m2 0h1m0 0h1m-21 1h1m1 0h1m0 0h1m0 0h1m0 0h1m0 0h1m0 0h1m0 0h1m1 0h1m0 0h1m0 0h1m0 0h1m2 0h1m2 0h1m-21 1h1m1 0h1m0 0h1m0 0h1m0 0h1m0 0h1m0 0h1m0 0h1m0 0h1m0 0h1m0 0h1m0 0h1m1 0h1m0 0h1m4 0h1m0 0h1m5 0h1m18 0h1m-46 1h1m0 0h1m3 0h1m0 0h1m0 0h1m0 0h1m0 0h1m0 0h1m0 0h1m1 0h1m5 0h1m0 0h1m6 0h1m-26 1h1m0 0h1m3 0h1m0 0h1m0 0h1m0 0h1m1 0h1m0 0h1m0 0h1m2 0h1m19 0h1m2 0h1m-41 1h1m0 0h1m0 0h1m1 0h1m6 0h1m0 0h1m2 0h1m5 0h1m-22 1h1m0 0h1m5 0h1m0 0h1m2 0h1m1 0h1m0 0h1m1 0h1m0 0h1m0 0h1m0 0h1m-16 1h1m0 0h1m1 0h1m3 0h1m0 0h1m4 0h1m0 0h1m0 0h1m-20 1h1m0 0h1m0 0h1m1 0h1m0 0h1m1 0h1m0 0h1m3 0h1m0 0h1m0 0h1m1 0h1m0 0h1m2 0h1m1 0h1m8 0h1m-30 1h1m0 0h1m0 0h1m1 0h1m1 0h1m0 0h1m1 0h1m9 0h1m-21 1h1m1 0h1m0 0h1m1 0h1m2 0h1m8 0h1m0 0h1m-19 1h1m1 0h1m3 0h1m3 0h1m4 0h1m11 0h1m-28 1h1m3 0h1m0 0h1m2 0h1m4 0h1m6 0h1m-14 1h1m1 0h1m5 0h1m0 0h1m3 0h1m-16 1h1m1 0h1m0 0h1m0 0h1m-2 1h1m7 0h1m-15 1h1m0 0h1m19 0h1m-18 1h1m0 0h1m5 0h1m17 0h1m-27 1h1m-5 1h1m5 0h1"/>
<line x1="378.6" y1="341.2" x2="378.6" y2="467.2" stroke="#2a2a2a" stroke-width="1" />
<line x1="374.8" y1="464.63" x2="378.6" y2="464.63" stroke="#2a2a2a" stroke-width="0.8" />
<line x1="374.8" y1="460.58" x2="378.6" y2="460.58" stroke="#2a2a2a" stroke-width="0.8" />
<line x1="374.8" y1="457.44" x2="378.6" y2="457.44" stroke="#2a2a2a" stroke-width="0.8" />
<line x1="374.8" y1="454.88" x2="378.6" y2="454.88" stroke="#2a2a2a" stroke-width="0.8" />
<line x1="374.8" y1="452.71" x2="378.6" y2="452.71" stroke="#2a2a2a" stroke-width="0.8" />
<line x1="374.8" y1="450.84" x2="378.6" y2="450.84" stroke="#2a2a2a" stroke-width="0.8" />
<line x1="374.8" y1="449.18" x2="378.6" y2="449.18" stroke="#2a2a2a" stroke-width="0.8" />
<line x1="373.1" y1="447.7" x2="378.6" y2="447.7" stroke="#2a2a2a" stroke-width="0.8" />
<line x1="374.8" y1="437.96" x2="378.6" y2="437.96" stroke="#2a2a2a" stroke-width="0.8" />
<line x1="374.8" y1="432.26" x2="378.6" y2="432.26" stroke="#2a2a2a" stroke-width="0.8" />
<line x1="374.8" y1="428.21" x2="378.6" y2="428.21" stroke="#2a2a2a" stroke-width="0.8" />
<line x1="374.8" y1="425.07" x2="378.6" y2="425.07" stroke="#2a2a2a" stroke-width="0.8" />
<line x1="374.8" y1="422.51" x2="378.6" y2="422.51" stroke="#2a2a2a" stroke-width="0.8" />
<line x1="374.8" y1="420.34" x2="378.6" y2="420.34" stroke="#2a2a2a" stroke-width="0.8" />
<line x1="374.8" y1="418.47" x2="378.6" y2="418.47" stroke="#2a2a2a" stroke-width="0.8" />
<line x1="374.8" y1="416.81" x2="378.6" y2="416.81" stroke="#2a2a2a" stroke-width="0.8" />
<line x1="373.1" y1="415.33" x2="378.6" y2="415.33" stroke="#2a2a2a" stroke-width="0.8" />
<line x1="374.8" y1="405.59" x2="378.6" y2="405.59" stroke="#2a2a2a" stroke-width="0.8" />
<line x1="374.8" y1="399.89" x2="378.6" y2="399.89" stroke="#2a2a2a" stroke-width="0.8" />
<line x1="374.8" y1="395.84" x2="378.6" y2="395.84" stroke="#2a2a2a" stroke-width="0.8" />
<line x1="374.8" y1="392.7" x2="378.6" y2="392.7" stroke="#2a2a2a" stroke-width="0.8" />
<line x1="374.8" y1="390.14" x2="378.6" y2="390.14" stroke="#2a2a2a" stroke-width="0.8" />
<line x1="374.8" y1="387.97" x2="378.6" y2="387.97" stroke="#2a2a2a" stroke-width="0.8" />
<line x1="374.8" y1="386.1" x2="378.6" y2="386.1" stroke="#2a2a2a" stroke-width="0.8" />
<line x1="374.8" y1="384.44" x2="378.6" y2="384.44" stroke="#2a2a2a" stroke-width="0.8" />
<line x1="373.1" y1="382.96" x2="378.6" y2="382.96" stroke="#2a2a2a" stroke-width="0.8" />
<line x1="374.8" y1="373.22" x2="378.6" y2="373.22" stroke="#2a2a2a" stroke-width="0.8" />
<line x1="374.8" y1="367.52" x2="378.6" y2="367.52" stroke="#2a2a2a" stroke-width="0.8" />
<line x1="374.8" y1="363.47" x2="378.6" y2="363.47" stroke="#2a2a2a" stroke-width="0.8" />
<line x1="374.8" y1="360.33" x2="378.6" y2="360.33" stroke="#2a2a2a" stroke-width="0.8" />
<line x1="374.8" y1="357.77" x2="378.6" y2="357.77" stroke="#2a2a2a" stroke-width="0.8" />
<line x1="374.8" y1="355.6" x2="378.6" y2="355.6" stroke="#2a2a2a" stroke-width="0.8" />
<line x1="374.8" y1="353.73" x2="378.6" y2="353.73" stroke="#2a2a2a" stroke-width="0.8" />
<line x1="374.8" y1="352.07" x2="378.6" y2="352.07" stroke="#2a2a2a" stroke-width="0.8" />
<line x1="373.1" y1="350.59" x2="378.6" y2="350.59" stroke="#2a2a2a" stroke-width="0.8" />
<text x="372.8" y="451.67" font-size="5.6" fill="#3a3a3a" textLength="9.72" lengthAdjust="spacingAndGlyphs" transform="rotate(-90 372.8 451.67)">10<tspan style="font-size:0.95em" dy="-0.72em">2</tspan></text>
<text x="372.8" y="419.3" font-size="5.6" fill="#3a3a3a" textLength="9.72" lengthAdjust="spacingAndGlyphs" transform="rotate(-90 372.8 419.3)">10<tspan style="font-size:0.95em" dy="-0.72em">3</tspan></text>
<text x="372.8" y="386.93" font-size="5.6" fill="#3a3a3a" textLength="9.59" lengthAdjust="spacingAndGlyphs" transform="rotate(-90 372.8 386.93)">10<tspan style="font-size:0.95em" dy="-0.72em">4</tspan></text>
<text x="372.8" y="354.56" font-size="5.6" fill="#3a3a3a" textLength="9.72" lengthAdjust="spacingAndGlyphs" transform="rotate(-90 372.8 354.56)">10<tspan style="font-size:0.95em" dy="-0.72em">5</tspan></text>
<line x1="378.6" y1="467.2" x2="506.1" y2="467.2" stroke="#2a2a2a" stroke-width="1" />
<line x1="381.04" y1="467.2" x2="381.04" y2="471" stroke="#2a2a2a" stroke-width="0.8" />
<line x1="385.62" y1="467.2" x2="385.62" y2="471" stroke="#2a2a2a" stroke-width="0.8" />
<line x1="389.17" y1="467.2" x2="389.17" y2="471" stroke="#2a2a2a" stroke-width="0.8" />
<line x1="392.07" y1="467.2" x2="392.07" y2="471" stroke="#2a2a2a" stroke-width="0.8" />
<line x1="394.52" y1="467.2" x2="394.52" y2="471" stroke="#2a2a2a" stroke-width="0.8" />
<line x1="396.65" y1="467.2" x2="396.65" y2="471" stroke="#2a2a2a" stroke-width="0.8" />
<line x1="398.52" y1="467.2" x2="398.52" y2="471" stroke="#2a2a2a" stroke-width="0.8" />
<line x1="400.2" y1="467.2" x2="400.2" y2="472.7" stroke="#2a2a2a" stroke-width="0.8" />
<line x1="411.23" y1="467.2" x2="411.23" y2="471" stroke="#2a2a2a" stroke-width="0.8" />
<line x1="417.69" y1="467.2" x2="417.69" y2="471" stroke="#2a2a2a" stroke-width="0.8" />
<line x1="422.27" y1="467.2" x2="422.27" y2="471" stroke="#2a2a2a" stroke-width="0.8" />
<line x1="425.82" y1="467.2" x2="425.82" y2="471" stroke="#2a2a2a" stroke-width="0.8" />
<line x1="428.72" y1="467.2" x2="428.72" y2="471" stroke="#2a2a2a" stroke-width="0.8" />
<line x1="431.17" y1="467.2" x2="431.17" y2="471" stroke="#2a2a2a" stroke-width="0.8" />
<line x1="433.3" y1="467.2" x2="433.3" y2="471" stroke="#2a2a2a" stroke-width="0.8" />
<line x1="435.17" y1="467.2" x2="435.17" y2="471" stroke="#2a2a2a" stroke-width="0.8" />
<line x1="436.85" y1="467.2" x2="436.85" y2="472.7" stroke="#2a2a2a" stroke-width="0.8" />
<line x1="447.88" y1="467.2" x2="447.88" y2="471" stroke="#2a2a2a" stroke-width="0.8" />
<line x1="454.34" y1="467.2" x2="454.34" y2="471" stroke="#2a2a2a" stroke-width="0.8" />
<line x1="458.92" y1="467.2" x2="458.92" y2="471" stroke="#2a2a2a" stroke-width="0.8" />
<line x1="462.47" y1="467.2" x2="462.47" y2="471" stroke="#2a2a2a" stroke-width="0.8" />
<line x1="465.37" y1="467.2" x2="465.37" y2="471" stroke="#2a2a2a" stroke-width="0.8" />
<line x1="467.82" y1="467.2" x2="467.82" y2="471" stroke="#2a2a2a" stroke-width="0.8" />
<line x1="469.95" y1="467.2" x2="469.95" y2="471" stroke="#2a2a2a" stroke-width="0.8" />
<line x1="471.82" y1="467.2" x2="471.82" y2="471" stroke="#2a2a2a" stroke-width="0.8" />
<line x1="473.5" y1="467.2" x2="473.5" y2="472.7" stroke="#2a2a2a" stroke-width="0.8" />
<line x1="484.53" y1="467.2" x2="484.53" y2="471" stroke="#2a2a2a" stroke-width="0.8" />
<line x1="490.99" y1="467.2" x2="490.99" y2="471" stroke="#2a2a2a" stroke-width="0.8" />
<line x1="495.57" y1="467.2" x2="495.57" y2="471" stroke="#2a2a2a" stroke-width="0.8" />
<line x1="499.12" y1="467.2" x2="499.12" y2="471" stroke="#2a2a2a" stroke-width="0.8" />
<line x1="502.02" y1="467.2" x2="502.02" y2="471" stroke="#2a2a2a" stroke-width="0.8" />
<line x1="504.47" y1="467.2" x2="504.47" y2="471" stroke="#2a2a2a" stroke-width="0.8" />
<text x="395.21" y="480.1" font-size="6.89" fill="#3a3a3a" textLength="9.79" lengthAdjust="spacingAndGlyphs">10<tspan style="font-size:0.9em" dy="-0.5em">2</tspan></text>
<text x="431.86" y="480.1" font-size="6.89" fill="#3a3a3a" textLength="9.79" lengthAdjust="spacingAndGlyphs">10<tspan style="font-size:0.9em" dy="-0.5em">3</tspan></text>
<text x="468.52" y="480.1" font-size="6.89" fill="#3a3a3a" textLength="9.66" lengthAdjust="spacingAndGlyphs">10<tspan style="font-size:0.9em" dy="-0.5em">4</tspan></text>
<rect x="403.3" y="380.6" width="46.3" height="39.8" fill="none" stroke="#3c3c3c" stroke-width="1" />
<rect x="403.3" y="423.6" width="47.1" height="43.6" fill="none" stroke="#3c3c3c" stroke-width="1" />
<text x="457.39" y="385.97" font-size="7.17" font-weight="bold" fill="#000" textLength="29.31" lengthAdjust="spacingAndGlyphs">P3 (HSC)</text>
<text x="458.9" y="451.57" font-size="7.17" font-weight="bold" fill="#000" textLength="32.1" lengthAdjust="spacingAndGlyphs">P4 (VSEL)</text>
<text x="417.65" y="488" font-size="9" font-weight="bold" fill="#000" textLength="43.04" lengthAdjust="spacingAndGlyphs">APC-CD133</text>
<text x="361.21" y="429.46" font-size="7.44" font-weight="bold" fill="#000" textLength="48.49" lengthAdjust="spacingAndGlyphs" transform="rotate(-90 361.21 429.46)">PE-Cy7-CD45</text>
<line x1="561.9" y1="346.18" x2="561.9" y2="472" stroke="#3a3a3a" stroke-width="1" />
<line x1="561.9" y1="472" x2="651.3" y2="472" stroke="#3a3a3a" stroke-width="1" />
<line x1="558.9" y1="472" x2="561.9" y2="472" stroke="#3a3a3a" stroke-width="0.8" />
<text x="550.52" y="474.5" font-size="7.14" fill="#222" textLength="5.21" lengthAdjust="spacingAndGlyphs">0</text>
<line x1="558.9" y1="451.03" x2="561.9" y2="451.03" stroke="#3a3a3a" stroke-width="0.8" />
<text x="545.68" y="453.53" font-size="7.14" fill="#222" textLength="10.01" lengthAdjust="spacingAndGlyphs">10</text>
<line x1="558.9" y1="430.06" x2="561.9" y2="430.06" stroke="#3a3a3a" stroke-width="0.8" />
<text x="545.87" y="432.56" font-size="7.14" fill="#222" textLength="9.82" lengthAdjust="spacingAndGlyphs">20</text>
<line x1="558.9" y1="409.09" x2="561.9" y2="409.09" stroke="#3a3a3a" stroke-width="0.8" />
<text x="546.05" y="411.59" font-size="7.14" fill="#222" textLength="9.63" lengthAdjust="spacingAndGlyphs">30</text>
<line x1="558.9" y1="388.12" x2="561.9" y2="388.12" stroke="#3a3a3a" stroke-width="0.8" />
<text x="546.23" y="390.62" font-size="7.14" fill="#222" textLength="9.45" lengthAdjust="spacingAndGlyphs">40</text>
<line x1="558.9" y1="367.15" x2="561.9" y2="367.15" stroke="#3a3a3a" stroke-width="0.8" />
<text x="546.05" y="369.65" font-size="7.14" fill="#222" textLength="9.63" lengthAdjust="spacingAndGlyphs">50</text>
<line x1="558.9" y1="346.18" x2="561.9" y2="346.18" stroke="#3a3a3a" stroke-width="0.8" />
<text x="545.87" y="348.68" font-size="7.14" fill="#222" textLength="9.82" lengthAdjust="spacingAndGlyphs">60</text>
<line x1="561.9" y1="472" x2="561.9" y2="475" stroke="#3a3a3a" stroke-width="0.8" />
<line x1="607.7" y1="472" x2="607.7" y2="475" stroke="#3a3a3a" stroke-width="0.8" />
<line x1="651.3" y1="472" x2="651.3" y2="475" stroke="#3a3a3a" stroke-width="0.8" />
<line x1="584.85" y1="390.1" x2="584.85" y2="389" stroke="#333" stroke-width="0.8" />
<line x1="582.85" y1="389" x2="586.85" y2="389" stroke="#333" stroke-width="0.8" />
<rect x="573.4" y="390.1" width="22.9" height="81.9" fill="#d00000" stroke="#151515" stroke-width="1" />
<text x="576.52" y="489.1" font-size="9.14" font-weight="bold" fill="#000" textLength="16.83" lengthAdjust="spacingAndGlyphs">HSC</text>
<line x1="629.5" y1="370.9" x2="629.5" y2="369.7" stroke="#333" stroke-width="0.8" />
<line x1="627.5" y1="369.7" x2="631.5" y2="369.7" stroke="#333" stroke-width="0.8" />
<rect x="618.2" y="370.9" width="22.6" height="101.1" fill="#3a5a27" stroke="#151515" stroke-width="1" />
<text x="619.65" y="489.1" font-size="9.14" font-weight="bold" fill="#000" textLength="19.69" lengthAdjust="spacingAndGlyphs">VSEL</text>
<text x="541.29" y="454.56" font-size="8.04" font-weight="bold" fill="#000" textLength="89.95" lengthAdjust="spacingAndGlyphs" transform="rotate(-90 541.29 454.56)">% of ACE2 positive cells</text>
<rect x="428.4" y="523.4" width="206.8" height="23.9" fill="#ebebeb"/>
<rect x="428.4" y="523.4" width="6" height="23.9" fill="#d4d4d4" filter="url(#bl2)"/>
<rect x="539" y="524" width="46" height="20.5" fill="#dcdcdc" filter="url(#bl2)"/>
<rect x="586" y="523.4" width="49.2" height="23.9" fill="url(#gNTb)"/>
<line x1="541" y1="544.4" x2="584" y2="544.4" stroke="#bdbdbd" stroke-width="0.8"/>
<path d="M436.4 535.2C444.6 534.8 470.2 535.7 478.4 535.2" stroke="#777" stroke-opacity="0.45" stroke-width="6.4" stroke-linecap="round" fill="none" filter="url(#bl2)"/>
<path d="M436.4 535.2C444.6 534.8 470.2 535.7 478.4 535.2" stroke="#282828" stroke-width="3.4" stroke-linecap="round" fill="none" filter="url(#bl)"/>
<path d="M436.4 535.2h4M474.4 535.2h4" stroke="#282828" stroke-width="3.7" stroke-linecap="round" fill="none" filter="url(#bl)"/>
<path d="M489.8 535.7C498 535.3 522.3 536.2 530.5 535.7" stroke="#777" stroke-opacity="0.45" stroke-width="6.5" stroke-linecap="round" fill="none" filter="url(#bl2)"/>
<path d="M489.8 535.7C498 535.3 522.3 536.2 530.5 535.7" stroke="#282828" stroke-width="3.5" stroke-linecap="round" fill="none" filter="url(#bl)"/>
<path d="M489.8 535.7h4M526.5 535.7h4" stroke="#282828" stroke-width="3.8" stroke-linecap="round" fill="none" filter="url(#bl)"/>
<path d="M541.9 536.6C550.1 536.2 574.3 537.1 582.5 536.6" stroke="#777" stroke-opacity="0.45" stroke-width="6.5" stroke-linecap="round" fill="none" filter="url(#bl2)"/>
<path d="M541.9 536.6C550.1 536.2 574.3 537.1 582.5 536.6" stroke="#282828" stroke-width="3.5" stroke-linecap="round" fill="none" filter="url(#bl)"/>
<path d="M541.9 536.6h4M578.5 536.6h4" stroke="#282828" stroke-width="3.8" stroke-linecap="round" fill="none" filter="url(#bl)"/>
<rect x="428.4" y="523.4" width="206.8" height="23.9" fill="none" stroke="#111" stroke-width="1.1" />
<text x="391.38" y="538.3" font-size="12.14" font-weight="bold" fill="#000" stroke="#000" stroke-width="0.35" textLength="29.14" lengthAdjust="spacingAndGlyphs">ACE2</text>
<text x="445.65" y="518.4" font-size="10.43" font-weight="bold" fill="#000" stroke="#000" stroke-width="0.35" textLength="24.76" lengthAdjust="spacingAndGlyphs">MNC</text>
<text x="498.44" y="518.4" font-size="10.43" font-weight="bold" fill="#000" stroke="#000" stroke-width="0.35" textLength="19.86" lengthAdjust="spacingAndGlyphs">HSC</text>
<text x="546.22" y="518.4" font-size="10.43" font-weight="bold" fill="#000" stroke="#000" stroke-width="0.35" textLength="23.06" lengthAdjust="spacingAndGlyphs">VSEL</text>
<text x="588.55" y="517.63" font-size="9.35" font-weight="bold" fill="#000" stroke="#000" stroke-width="0.35" textLength="45.07" lengthAdjust="spacingAndGlyphs">no templ</text>
<line x1="68.4" y1="131.1" x2="82.97" y2="182" stroke="#000" stroke-width="1.1" stroke-dasharray="3 1.6"/>
<path d="M84.4 187L80 181.81L85.39 180.27Z" fill="#000"/>
<line x1="42.7" y1="289" x2="59.3" y2="344.02" stroke="#000" stroke-width="1.1" stroke-dasharray="3 1.6"/>
<path d="M60.8 349L56.33 343.87L61.69 342.26Z" fill="#000"/>
<line x1="105.6" y1="405.6" x2="189.09" y2="165.21" stroke="#000" stroke-width="1.1" stroke-dasharray="3 1.6"/>
<path d="M190.8 160.3L191.41 167.08L186.12 165.24Z" fill="#000"/>
<line x1="107.4" y1="446.5" x2="194.84" y2="320.18" stroke="#000" stroke-width="1.1" stroke-dasharray="3 1.6"/>
<path d="M197.8 315.9L196.57 322.59L191.97 319.4Z" fill="#000"/>
<line x1="397.2" y1="136" x2="423.23" y2="189.52" stroke="#000" stroke-width="1.1" stroke-dasharray="3 1.6"/>
<path d="M425.5 194.2L420.27 189.85L425.31 187.4Z" fill="#000"/>
<line x1="395.9" y1="295.4" x2="410.36" y2="345.6" stroke="#000" stroke-width="1.1" stroke-dasharray="3 1.6"/>
<path d="M411.8 350.6L407.39 345.42L412.77 343.87Z" fill="#000"/>
<line x1="435.2" y1="390.9" x2="533.12" y2="166.96" stroke="#000" stroke-width="1.1" stroke-dasharray="3 1.6"/>
<path d="M535.2 162.2L535.28 169L530.15 166.76Z" fill="#000"/>
<line x1="439.4" y1="454.4" x2="532.96" y2="324.82" stroke="#000" stroke-width="1.1" stroke-dasharray="3 1.6"/>
<path d="M536 320.6L534.64 327.27L530.1 323.99Z" fill="#000"/>
</svg></body></html>
